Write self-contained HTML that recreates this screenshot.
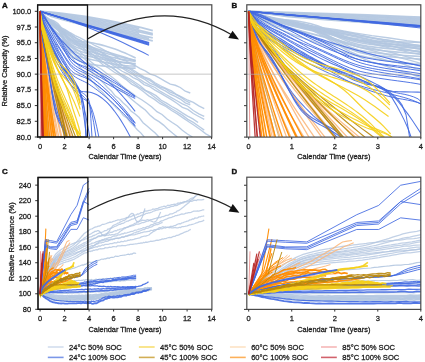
<!DOCTYPE html><html><head><meta charset="utf-8"><style>html,body{margin:0;padding:0;width:425px;height:362px;overflow:hidden;background:#fff}svg text{font-family:"Liberation Sans", sans-serif} svg{will-change:transform}</style></head><body><svg width="425" height="362" viewBox="0 0 425 362" style="position:absolute;left:0;top:0">
<defs>
<clipPath id="cA"><rect x="37.60" y="4.80" width="174.20" height="132.20"/></clipPath>
<clipPath id="cB"><rect x="246.80" y="4.80" width="174.00" height="132.30"/></clipPath>
<clipPath id="cC"><rect x="38.00" y="177.20" width="173.90" height="132.10"/></clipPath>
<clipPath id="cD"><rect x="246.80" y="177.20" width="174.00" height="132.20"/></clipPath>
</defs>
<rect width="425" height="362" fill="#fff"/>
<path d="M40.10,11.30 L51.37,12.27 L62.64,13.46 L73.91,14.86 L85.18,16.47 L96.45,18.30 L107.72,20.33 L118.99,22.58 L130.26,25.05 L141.53,27.72 L152.80,30.61" stroke="#b3c6e0" stroke-opacity="0.90" stroke-width="1.80" fill="none" clip-path="url(#cA)"/>
<path d="M40.10,11.30 L50.02,12.69 L59.95,13.98 L69.87,15.37 L79.79,16.88 L89.71,18.51 L99.63,20.28 L109.56,22.18 L119.48,24.22 L129.40,26.40 L139.32,28.71" stroke="#b3c6e0" stroke-opacity="0.90" stroke-width="1.80" fill="none" clip-path="url(#cA)"/>
<path d="M40.10,11.30 L51.37,13.45 L62.64,15.23 L73.91,17.07 L85.18,19.03 L96.45,21.10 L107.72,23.31 L118.99,25.65 L130.26,28.13 L141.53,30.76 L152.80,33.53" stroke="#b3c6e0" stroke-opacity="0.90" stroke-width="1.80" fill="none" clip-path="url(#cA)"/>
<path d="M40.10,11.30 L51.37,14.04 L62.64,16.11 L73.91,18.18 L85.18,20.30 L96.45,22.50 L107.72,24.79 L118.99,27.18 L130.26,29.68 L141.53,32.28 L152.80,34.98" stroke="#b3c6e0" stroke-opacity="0.90" stroke-width="1.80" fill="none" clip-path="url(#cA)"/>
<path d="M40.10,11.30 L50.02,14.33 L59.95,16.45 L69.87,18.47 L79.79,20.48 L89.71,22.51 L99.63,24.57 L109.56,26.67 L119.48,28.82 L129.40,31.03 L139.32,33.28" stroke="#b3c6e0" stroke-opacity="0.90" stroke-width="1.80" fill="none" clip-path="url(#cA)"/>
<path d="M40.10,11.30 L51.37,15.22 L62.64,17.88 L73.91,20.40 L85.18,22.86 L96.45,25.31 L107.72,27.77 L118.99,30.25 L130.26,32.76 L141.53,35.31 L152.80,37.90" stroke="#b3c6e0" stroke-opacity="0.90" stroke-width="1.80" fill="none" clip-path="url(#cA)"/>
<path d="M40.10,11.30 L51.00,15.70 L61.91,18.58 L72.81,21.24 L83.71,23.79 L94.61,26.29 L105.52,28.76 L116.42,31.21 L127.32,33.65 L138.22,36.09 L149.12,38.53" stroke="#b3c6e0" stroke-opacity="0.90" stroke-width="1.80" fill="none" clip-path="url(#cA)"/>
<path d="M40.10,11.30 L51.37,16.39 L62.64,19.65 L73.91,22.61 L85.18,25.41 L96.45,28.11 L107.72,30.74 L118.99,33.31 L130.26,35.85 L141.53,38.35 L152.80,40.81" stroke="#b3c6e0" stroke-opacity="0.90" stroke-width="1.80" fill="none" clip-path="url(#cA)"/>
<path d="M40.10,11.30 L40.48,12.49 L41.17,14.41 L42.06,15.39 L43.12,16.32 L44.32,17.19 L45.65,17.96 L47.10,18.62 L48.65,19.20 L50.30,19.74 L52.04,20.31 L53.88,21.05 L55.80,22.08 L57.80,23.65 L59.88,25.97 L62.04,28.85 L64.27,32.03 L66.57,35.21 L68.94,38.02 L71.38,40.01 L73.88,40.80 L76.45,41.17 L79.07,41.44 L81.76,41.66 L84.51,41.87 L87.31,42.16 L90.17,42.57 L93.09,43.08 L96.06,43.67 L99.08,44.35 L102.16,45.11 L105.29,45.96 L108.47,46.91 L111.70,47.95 L114.98,49.09 L118.31,50.33 L121.68,51.66 L125.10,53.10 L128.57,54.64 L132.09,56.29 L135.65,58.04" stroke="#b3c6e0" stroke-opacity="0.90" stroke-width="1.60" fill="none" clip-path="url(#cA)"/>
<path d="M40.10,11.30 L40.48,12.78 L41.17,15.17 L42.06,16.38 L43.12,17.53 L44.32,18.63 L45.65,19.61 L47.10,20.46 L48.65,21.20 L50.30,21.89 L52.04,22.60 L53.88,23.45 L55.80,24.61 L57.80,26.23 L59.88,28.31 L62.04,30.72 L64.27,33.33 L66.57,35.96 L68.94,38.40 L71.38,40.40 L73.88,41.74 L76.45,42.75 L79.07,43.61 L81.76,44.36 L84.51,45.08 L87.31,45.83 L90.17,46.69 L93.09,47.59 L96.06,48.50 L99.08,49.43 L102.16,50.38 L105.29,51.34 L108.47,52.31 L111.70,53.30 L114.98,54.29 L118.31,55.31 L121.68,56.33 L125.10,57.36 L128.57,58.41 L132.09,59.46 L135.65,60.53" stroke="#b3c6e0" stroke-opacity="0.90" stroke-width="1.60" fill="none" clip-path="url(#cA)"/>
<path d="M40.10,11.30 L40.48,11.78 L41.17,12.63 L42.06,13.52 L43.12,14.49 L44.32,15.51 L45.65,16.55 L47.10,17.60 L48.65,18.67 L50.30,19.80 L52.04,21.01 L53.88,22.38 L55.80,23.97 L57.80,25.93 L59.88,28.40 L62.04,31.26 L64.27,34.34 L66.57,37.42 L68.94,40.23 L71.38,42.49 L73.88,43.91 L76.45,44.97 L79.07,45.85 L81.76,46.62 L84.51,47.33 L87.31,48.05 L90.17,48.85 L93.09,49.69 L96.06,50.53 L99.08,51.37 L102.16,52.22 L105.29,53.07 L108.47,53.93 L111.70,54.78 L114.98,55.63 L118.31,56.47 L121.68,57.30 L125.10,58.13 L128.57,58.94 L132.09,59.74 L135.65,60.51" stroke="#b3c6e0" stroke-opacity="0.90" stroke-width="1.60" fill="none" clip-path="url(#cA)"/>
<path d="M40.10,11.30 L40.48,12.89 L41.17,15.43 L42.06,16.63 L43.12,17.74 L44.32,18.78 L45.65,19.70 L47.10,20.48 L48.65,21.14 L50.30,21.75 L52.04,22.41 L53.88,23.24 L55.80,24.43 L57.80,26.21 L59.88,28.70 L62.04,31.75 L64.27,35.14 L66.57,38.61 L68.94,41.82 L71.38,44.41 L73.88,46.03 L76.45,47.24 L79.07,48.28 L81.76,49.18 L84.51,50.00 L87.31,50.77 L90.17,51.57 L93.09,52.39 L96.06,53.20 L99.08,54.01 L102.16,54.82 L105.29,55.62 L108.47,56.40 L111.70,57.16 L114.98,57.90 L118.31,58.61 L121.68,59.28 L125.10,59.90 L128.57,60.48 L132.09,61.00 L135.65,61.45" stroke="#b3c6e0" stroke-opacity="0.90" stroke-width="1.60" fill="none" clip-path="url(#cA)"/>
<path d="M40.10,11.30 L40.48,12.34 L41.17,14.08 L42.06,15.41 L43.12,16.77 L44.32,18.11 L45.65,19.39 L47.10,20.59 L48.65,21.72 L50.30,22.83 L52.04,23.99 L53.88,25.33 L55.80,26.99 L57.80,29.14 L59.88,31.82 L62.04,34.89 L64.27,38.18 L66.57,41.46 L68.94,44.48 L71.38,46.93 L73.88,48.54 L76.45,49.78 L79.07,50.85 L81.76,51.78 L84.51,52.63 L87.31,53.43 L90.17,54.24 L93.09,55.06 L96.06,55.88 L99.08,56.71 L102.16,57.52 L105.29,58.33 L108.47,59.11 L111.70,59.88 L114.98,60.62 L118.31,61.32 L121.68,61.99 L125.10,62.60 L128.57,63.16 L132.09,63.66 L135.65,64.09" stroke="#b3c6e0" stroke-opacity="0.90" stroke-width="1.60" fill="none" clip-path="url(#cA)"/>
<path d="M40.10,11.30 L40.48,13.24 L41.17,16.31 L42.06,17.59 L43.12,18.75 L44.32,19.82 L45.65,20.75 L47.10,21.52 L48.65,22.16 L50.30,22.75 L52.04,23.38 L53.88,24.22 L55.80,25.47 L57.80,27.44 L59.88,30.42 L62.04,34.20 L64.27,38.45 L66.57,42.80 L68.94,46.79 L71.38,49.88 L73.88,51.57 L76.45,52.75 L79.07,53.75 L81.76,54.60 L84.51,55.34 L87.31,56.00 L90.17,56.64 L93.09,57.29 L96.06,57.93 L99.08,58.58 L102.16,59.22 L105.29,59.84 L108.47,60.44 L111.70,61.02 L114.98,61.56 L118.31,62.05 L121.68,62.49 L125.10,62.87 L128.57,63.18 L132.09,63.40 L135.65,63.53" stroke="#b3c6e0" stroke-opacity="0.90" stroke-width="1.60" fill="none" clip-path="url(#cA)"/>
<path d="M40.10,11.30 L40.48,12.50 L41.17,14.48 L42.06,15.78 L43.12,17.07 L44.32,18.31 L45.65,19.44 L47.10,20.45 L48.65,21.38 L50.30,22.28 L52.04,23.26 L53.88,24.46 L55.80,26.08 L57.80,28.41 L59.88,31.73 L62.04,35.79 L64.27,40.30 L66.57,44.87 L68.94,49.02 L71.38,52.23 L73.88,53.99 L76.45,55.22 L79.07,56.27 L81.76,57.16 L84.51,57.93 L87.31,58.61 L90.17,59.26 L93.09,59.92 L96.06,60.58 L99.08,61.23 L102.16,61.88 L105.29,62.52 L108.47,63.13 L111.70,63.71 L114.98,64.26 L118.31,64.75 L121.68,65.19 L125.10,65.56 L128.57,65.85 L132.09,66.05 L135.65,66.15" stroke="#b3c6e0" stroke-opacity="0.90" stroke-width="1.60" fill="none" clip-path="url(#cA)"/>
<path d="M40.10,11.30 L40.48,12.33 L41.17,14.06 L42.06,15.39 L43.12,16.74 L44.32,18.05 L45.65,19.28 L47.10,20.43 L48.65,21.51 L50.30,22.60 L52.04,23.78 L53.88,25.20 L55.80,27.04 L57.80,29.60 L59.88,33.15 L62.04,37.45 L64.27,42.22 L66.57,47.06 L68.94,51.53 L71.38,55.08 L73.88,57.24 L76.45,58.92 L79.07,60.43 L81.76,61.74 L84.51,62.81 L87.31,63.62 L90.17,64.16 L93.09,64.63 L96.06,65.07 L99.08,65.50 L102.16,65.91 L105.29,66.29 L108.47,66.64 L111.70,66.96 L114.98,67.25 L118.31,67.51 L121.68,67.72 L125.10,67.89 L128.57,68.02 L132.09,68.10 L135.65,68.13" stroke="#b3c6e0" stroke-opacity="0.90" stroke-width="1.60" fill="none" clip-path="url(#cA)"/>
<path d="M40.10,11.30 L45.11,16.28 L50.11,20.64 L55.12,23.56 L60.12,27.09 L65.13,29.69 L70.14,32.71 L75.14,35.54 L80.15,37.91 L85.16,40.59 L90.16,42.76 L95.17,45.71 L100.17,47.94 L105.18,50.62 L110.19,52.98 L115.19,56.00 L120.20,59.29 L125.20,60.74 L130.21,63.08 L135.22,65.65 L140.22,68.63 L145.23,70.88 L150.24,74.09 L155.24,75.60 L160.25,78.42 L165.25,81.29 L170.26,84.04 L175.27,85.26 L180.27,87.47 L185.28,91.23 L190.28,93.00" stroke="#b3c6e0" stroke-opacity="0.90" stroke-width="1.35" fill="none" clip-path="url(#cA)"/>
<path d="M40.10,11.30 L45.11,16.53 L50.11,20.92 L55.12,24.81 L60.12,27.93 L65.13,30.44 L70.14,33.44 L75.14,37.79 L80.15,39.99 L85.16,43.88 L90.16,45.85 L95.17,49.41 L100.17,51.52 L105.18,54.30 L110.19,57.92 L115.19,60.07 L120.20,63.99 L125.20,67.21 L130.21,69.28 L135.22,72.98 L140.22,75.57 L145.23,78.08 L150.24,80.59 L155.24,84.09 L160.25,87.06 L165.25,88.61 L170.26,92.24 L175.27,94.05 L180.27,96.92 L185.28,100.48 L190.28,103.06" stroke="#b3c6e0" stroke-opacity="0.90" stroke-width="1.35" fill="none" clip-path="url(#cA)"/>
<path d="M40.10,11.30 L45.11,17.77 L50.11,21.73 L55.12,25.21 L60.12,28.74 L65.13,32.13 L70.14,35.29 L75.14,37.98 L80.15,41.76 L85.16,44.95 L90.16,47.55 L95.17,51.29 L100.17,54.17 L105.18,56.11 L110.19,59.73 L115.19,62.61 L120.20,66.32 L125.20,68.59 L130.21,71.21 L135.22,74.91 L140.22,76.85 L145.23,79.66 L150.24,83.34 L155.24,85.30 L160.25,88.35 L165.25,90.82 L170.26,94.10 L175.27,96.34 L180.27,99.07 L185.28,102.91 L190.28,104.95" stroke="#b3c6e0" stroke-opacity="0.90" stroke-width="1.35" fill="none" clip-path="url(#cA)"/>
<path d="M40.10,11.30 L45.57,18.30 L51.04,21.49 L56.52,24.82 L61.99,29.46 L67.46,32.60 L72.93,35.76 L78.40,39.47 L83.87,42.65 L89.34,45.94 L94.82,49.02 L100.29,51.82 L105.76,55.38 L111.23,58.36 L116.70,60.83 L122.18,65.01 L127.65,67.23 L133.12,70.00 L138.59,73.65 L144.06,76.78 L149.53,78.89 L155.01,82.72 L160.48,85.76 L165.95,88.34 L171.42,90.89 L176.89,94.73 L182.36,97.33 L187.84,100.23 L193.31,102.40 L198.78,105.91 L204.25,108.72" stroke="#b3c6e0" stroke-opacity="0.90" stroke-width="1.35" fill="none" clip-path="url(#cA)"/>
<path d="M40.10,11.30 L45.57,17.70 L51.04,23.20 L56.52,27.02 L61.99,30.40 L67.46,33.77 L72.93,38.05 L78.40,41.95 L83.87,45.61 L89.34,48.44 L94.82,52.37 L100.29,54.82 L105.76,58.12 L111.23,62.44 L116.70,65.60 L122.18,68.08 L127.65,71.60 L133.12,74.60 L138.59,78.53 L144.06,82.07 L149.53,85.03 L155.01,87.47 L160.48,91.45 L165.95,94.51 L171.42,97.57 L176.89,100.72 L182.36,103.88 L187.84,106.25 L193.31,110.53 L198.78,113.89 L204.25,116.26" stroke="#b3c6e0" stroke-opacity="0.90" stroke-width="1.35" fill="none" clip-path="url(#cA)"/>
<path d="M40.10,11.30 L45.57,18.01 L51.04,22.78 L56.52,26.85 L61.99,31.68 L67.46,34.75 L72.93,38.53 L78.40,43.26 L83.87,46.08 L89.34,49.49 L94.82,53.26 L100.29,56.95 L105.76,60.74 L111.23,64.08 L116.70,67.64 L122.18,71.24 L127.65,73.81 L133.12,77.59 L138.59,80.11 L144.06,84.56 L149.53,86.55 L155.01,90.14 L160.48,93.05 L165.95,96.34 L171.42,99.57 L176.89,103.28 L182.36,107.35 L187.84,109.45 L193.31,113.52 L198.78,116.52 L204.25,119.40" stroke="#b3c6e0" stroke-opacity="0.90" stroke-width="1.35" fill="none" clip-path="url(#cA)"/>
<path d="M40.10,11.30 L45.37,18.81 L50.64,23.87 L55.90,28.41 L61.17,31.75 L66.44,36.22 L71.70,40.48 L76.97,44.39 L82.24,47.18 L87.51,51.42 L92.78,54.57 L98.04,58.78 L103.31,62.55 L108.58,65.55 L113.84,68.60 L119.11,73.03 L124.38,75.53 L129.65,78.74 L134.91,82.31 L140.18,85.67 L145.45,90.26 L150.72,92.68 L155.99,95.66 L161.25,100.22 L166.52,103.20 L171.79,106.51 L177.06,109.41 L182.32,112.85 L187.59,116.06 L192.86,118.87 L198.12,122.54" stroke="#b3c6e0" stroke-opacity="0.90" stroke-width="1.35" fill="none" clip-path="url(#cA)"/>
<path d="M40.10,11.30 L45.57,19.10 L51.04,23.86 L56.52,28.22 L61.99,32.50 L67.46,36.75 L72.93,39.46 L78.40,43.65 L83.87,48.77 L89.34,52.06 L94.82,56.23 L100.29,60.08 L105.76,63.85 L111.23,67.21 L116.70,71.09 L122.18,75.19 L127.65,79.20 L133.12,82.72 L138.59,86.75 L144.06,89.81 L149.53,93.27 L155.01,97.46 L160.48,101.59 L165.95,105.11 L171.42,108.48 L176.89,111.78 L182.36,115.15 L187.84,119.40 L193.31,122.39 L198.78,126.28 L204.25,130.09" stroke="#b3c6e0" stroke-opacity="0.90" stroke-width="1.35" fill="none" clip-path="url(#cA)"/>
<path d="M40.10,11.30 L45.82,19.80 L51.53,25.28 L57.25,29.98 L62.97,34.30 L68.68,39.19 L74.40,43.12 L80.12,47.74 L85.83,52.25 L91.55,55.95 L97.27,59.79 L102.98,64.78 L108.70,68.25 L114.42,72.23 L120.13,75.50 L125.85,79.34 L131.57,84.09 L137.28,87.18 L143.00,91.21 L148.72,95.85 L154.43,99.38 L160.15,103.71 L165.87,106.48 L171.58,110.50 L177.30,113.94 L183.02,117.85 L188.73,121.80 L194.45,125.45 L200.17,129.45 L205.88,133.87 L211.60,137.00" stroke="#b3c6e0" stroke-opacity="0.90" stroke-width="1.35" fill="none" clip-path="url(#cA)"/>
<path d="M40.10,11.30 L44.06,19.45 L48.02,25.68 L51.98,30.33 L55.94,34.00 L59.90,39.56 L63.87,43.83 L67.83,48.08 L71.79,51.09 L75.75,56.28 L79.71,60.61 L83.67,63.42 L87.63,68.52 L91.59,71.42 L95.55,75.63 L99.51,79.32 L103.47,83.06 L107.43,87.51 L111.39,91.05 L115.36,96.06 L119.32,98.80 L123.28,103.02 L127.24,106.53 L131.20,111.25 L135.16,114.07 L139.12,117.57 L143.08,122.66 L147.04,126.03 L151.00,129.42 L154.96,132.77 L158.92,137.00" stroke="#b3c6e0" stroke-opacity="0.90" stroke-width="1.35" fill="none" clip-path="url(#cA)"/>
<path d="M40.10,11.30 L44.67,19.96 L49.25,25.40 L53.82,30.16 L58.39,34.22 L62.97,38.47 L67.54,43.36 L72.11,47.66 L76.69,51.80 L81.26,56.01 L85.83,60.00 L90.41,64.55 L94.98,67.94 L99.55,71.21 L104.13,76.01 L108.70,79.44 L113.27,84.24 L117.85,87.33 L122.42,91.11 L126.99,95.09 L131.57,99.17 L136.14,103.05 L140.71,106.63 L145.29,110.05 L149.86,114.97 L154.43,118.83 L159.01,121.62 L163.58,125.13 L168.15,129.49 L172.73,133.35 L177.30,137.00" stroke="#b3c6e0" stroke-opacity="0.90" stroke-width="1.35" fill="none" clip-path="url(#cA)"/>
<path d="M40.10,11.30 L43.57,20.08 L47.04,26.47 L50.51,31.35 L53.98,36.16 L57.45,40.09 L60.92,44.87 L64.40,49.27 L67.87,52.77 L71.34,56.50 L74.81,61.56 L78.28,64.96 L81.75,69.38 L85.22,72.66 L88.69,76.97 L92.16,81.33 L95.63,85.26 L99.10,89.39 L102.57,92.51 L106.05,96.45 L109.52,100.54 L112.99,104.01 L116.46,107.81 L119.93,110.85 L123.40,115.51 L126.87,117.93 L130.34,122.39 L133.81,125.89 L137.28,129.75 L140.75,132.85 L144.22,137.00" stroke="#b3c6e0" stroke-opacity="0.90" stroke-width="1.35" fill="none" clip-path="url(#cA)"/>
<path d="M40.10,11.30 L45.18,19.97 L50.26,25.96 L55.34,31.09 L60.42,35.44 L65.50,39.74 L70.58,44.81 L75.66,48.58 L80.74,52.43 L85.82,57.30 L90.90,61.72 L95.98,65.73 L101.06,68.98 L106.14,72.99 L111.22,76.47 L116.29,80.50 L121.37,85.28 L126.45,89.19 L131.53,92.89 L136.61,96.78 L141.69,99.77 L146.77,103.29 L151.85,106.97 L156.93,111.66 L162.01,114.45 L167.09,118.98 L172.17,122.49 L177.25,125.70 L182.33,130.33 L187.41,133.97 L192.49,137.00" stroke="#b3c6e0" stroke-opacity="0.90" stroke-width="1.35" fill="none" clip-path="url(#cA)"/>
<path d="M40.10,11.30 L40.25,74.15 L40.41,137.00" stroke="#e88a8a" stroke-opacity="0.85" stroke-width="1.00" fill="none" clip-path="url(#cA)"/>
<path d="M40.10,11.30 L40.44,40.31 L40.77,58.41 L41.11,74.70 L41.45,90.07 L41.78,104.84 L42.12,119.19 L42.46,133.22 L42.80,147.00" stroke="#e88a8a" stroke-opacity="0.85" stroke-width="1.00" fill="none" clip-path="url(#cA)"/>
<path d="M40.10,11.30 L40.55,28.36 L41.00,38.63 L41.46,47.79 L41.91,56.37 L42.36,64.58 L42.81,72.53 L43.26,80.27 L43.72,87.87 L44.17,95.33 L44.62,102.68 L45.07,109.95 L45.52,117.13 L45.98,124.24 L46.43,131.30 L46.88,138.29 L47.33,145.24" stroke="#fbb577" stroke-opacity="0.85" stroke-width="1.30" fill="none" clip-path="url(#cA)"/>
<path d="M40.10,11.30 L40.59,29.90 L41.08,40.50 L41.57,49.78 L42.05,58.37 L42.54,66.53 L43.03,74.39 L43.52,82.00 L44.01,89.43 L44.50,96.71 L44.98,103.86 L45.47,110.90 L45.96,117.85 L46.45,124.72 L46.94,131.51 L47.43,138.24 L47.91,144.91" stroke="#fbb577" stroke-opacity="0.85" stroke-width="1.30" fill="none" clip-path="url(#cA)"/>
<path d="M40.10,11.30 L40.70,30.80 L41.31,41.58 L41.91,50.93 L42.51,59.53 L43.11,67.67 L43.72,75.46 L44.32,83.00 L44.92,90.34 L45.52,97.51 L46.13,104.54 L46.73,111.46 L47.33,118.27 L47.94,125.00 L48.54,131.64 L49.14,138.21 L49.74,144.72" stroke="#fbb577" stroke-opacity="0.85" stroke-width="1.30" fill="none" clip-path="url(#cA)"/>
<path d="M40.10,11.30 L40.83,27.79 L41.55,37.94 L42.28,47.05 L43.01,55.62 L43.73,63.85 L44.46,71.84 L45.18,79.63 L45.91,87.28 L46.64,94.82 L47.36,102.25 L48.09,109.59 L48.82,116.86 L49.54,124.07 L50.27,131.21 L50.99,138.31 L51.72,145.36" stroke="#fbb577" stroke-opacity="0.85" stroke-width="1.30" fill="none" clip-path="url(#cA)"/>
<path d="M40.10,11.30 L40.91,31.43 L41.72,42.35 L42.53,51.75 L43.34,60.36 L44.15,68.47 L44.96,76.23 L45.77,83.71 L46.58,90.98 L47.39,98.08 L48.20,105.03 L49.02,111.85 L49.83,118.57 L50.64,125.19 L51.45,131.73 L52.26,138.19 L53.07,144.59" stroke="#fbb577" stroke-opacity="0.85" stroke-width="1.30" fill="none" clip-path="url(#cA)"/>
<path d="M40.10,11.30 L41.04,31.80 L41.97,42.79 L42.91,52.22 L43.85,60.83 L44.79,68.93 L45.72,76.66 L46.66,84.12 L47.60,91.35 L48.54,98.40 L49.47,105.30 L50.41,112.08 L51.35,118.74 L52.29,125.30 L53.22,131.78 L54.16,138.18 L55.10,144.51" stroke="#fbb577" stroke-opacity="0.85" stroke-width="1.30" fill="none" clip-path="url(#cA)"/>
<path d="M40.10,11.30 L41.16,32.67 L42.22,43.85 L43.29,53.34 L44.35,61.97 L45.41,70.04 L46.47,77.72 L47.53,85.10 L48.59,92.24 L49.66,99.19 L50.72,105.97 L51.78,112.62 L52.84,119.15 L53.90,125.57 L54.96,131.90 L56.03,138.15 L57.09,144.32" stroke="#fbb577" stroke-opacity="0.85" stroke-width="1.30" fill="none" clip-path="url(#cA)"/>
<path d="M40.10,11.30 L41.26,28.55 L42.41,38.86 L43.57,48.03 L44.73,56.61 L45.88,64.82 L47.04,72.75 L48.20,80.48 L49.35,88.06 L50.51,95.50 L51.67,102.83 L52.82,110.06 L53.98,117.22 L55.14,124.30 L56.29,131.32 L57.45,138.29 L58.61,145.20" stroke="#fbb577" stroke-opacity="0.85" stroke-width="1.30" fill="none" clip-path="url(#cA)"/>
<path d="M40.10,11.30 L41.36,31.96 L42.62,42.98 L43.89,52.42 L45.15,61.04 L46.41,69.14 L47.67,76.86 L48.94,84.30 L50.20,91.51 L51.46,98.55 L52.72,105.43 L53.99,112.18 L55.25,118.81 L56.51,125.35 L57.77,131.80 L59.03,138.17 L60.30,144.47" stroke="#fbb577" stroke-opacity="0.85" stroke-width="1.30" fill="none" clip-path="url(#cA)"/>
<path d="M40.10,11.30 L41.50,29.12 L42.90,39.55 L44.30,48.77 L45.70,57.36 L47.10,65.54 L48.51,73.44 L49.91,81.12 L51.31,88.64 L52.71,96.01 L54.11,103.26 L55.51,110.42 L56.91,117.49 L58.31,124.48 L59.71,131.40 L61.11,138.27 L62.51,145.08" stroke="#fbb577" stroke-opacity="0.85" stroke-width="1.30" fill="none" clip-path="url(#cA)"/>
<path d="M40.10,11.30 L41.57,31.16 L43.03,42.02 L44.50,51.39 L45.96,60.00 L47.43,68.12 L48.89,75.90 L50.36,83.40 L51.82,90.70 L53.29,97.83 L54.75,104.82 L56.22,111.68 L57.68,118.44 L59.15,125.11 L60.61,131.69 L62.08,138.20 L63.54,144.64" stroke="#fbb577" stroke-opacity="0.85" stroke-width="1.30" fill="none" clip-path="url(#cA)"/>
<path d="M40.10,11.30 L41.75,30.62 L43.39,41.36 L45.04,50.69 L46.68,59.30 L48.33,67.44 L49.98,75.24 L51.62,82.80 L53.27,90.15 L54.91,97.35 L56.56,104.40 L58.21,111.34 L59.85,118.19 L61.50,124.94 L63.14,131.61 L64.79,138.22 L66.44,144.76" stroke="#fbb577" stroke-opacity="0.85" stroke-width="1.30" fill="none" clip-path="url(#cA)"/>
<path d="M40.10,11.30 L41.77,27.22 L43.45,37.26 L45.12,46.32 L46.80,54.89 L48.47,63.14 L50.15,71.15 L51.82,79.00 L53.50,86.71 L55.17,94.31 L56.85,101.81 L58.52,109.24 L60.20,116.60 L61.87,123.89 L63.55,131.13 L65.22,138.33 L66.90,145.48" stroke="#fbb577" stroke-opacity="0.85" stroke-width="1.30" fill="none" clip-path="url(#cA)"/>
<path d="M40.10,11.30 L41.89,28.07 L43.68,38.28 L45.47,47.41 L47.26,55.99 L49.05,64.21 L50.84,72.17 L52.63,79.95 L54.42,87.57 L56.21,95.07 L58.00,102.46 L59.79,109.76 L61.59,116.99 L63.38,124.15 L65.17,131.25 L66.96,138.30 L68.75,145.30" stroke="#fbb577" stroke-opacity="0.85" stroke-width="1.30" fill="none" clip-path="url(#cA)"/>
<path d="M40.10,11.30 L41.99,27.36 L43.89,37.43 L45.78,46.51 L47.68,55.08 L49.57,63.32 L51.47,71.33 L53.36,79.16 L55.26,86.86 L57.15,94.44 L59.05,101.92 L60.94,109.33 L62.83,116.66 L64.73,123.94 L66.62,131.15 L68.52,138.32 L70.41,145.45" stroke="#fbb577" stroke-opacity="0.85" stroke-width="1.30" fill="none" clip-path="url(#cA)"/>
<path d="M40.10,11.30 L42.15,32.48 L44.21,43.61 L46.26,53.09 L48.32,61.71 L50.37,69.79 L52.42,77.48 L54.48,84.88 L56.53,92.04 L58.59,99.01 L60.64,105.82 L62.70,112.50 L64.75,119.06 L66.80,125.51 L68.86,131.88 L70.91,138.16 L72.97,144.37" stroke="#fbb577" stroke-opacity="0.85" stroke-width="1.30" fill="none" clip-path="url(#cA)"/>
<path d="M40.10,11.30 L42.23,32.92 L44.35,44.15 L46.48,53.66 L48.60,62.29 L50.73,70.35 L52.85,78.02 L54.98,85.37 L57.10,92.49 L59.23,99.41 L61.35,106.16 L63.48,112.77 L65.60,119.27 L67.73,125.65 L69.85,131.94 L71.98,138.14 L74.10,144.27" stroke="#fbb577" stroke-opacity="0.85" stroke-width="1.30" fill="none" clip-path="url(#cA)"/>
<path d="M40.10,11.30 L41.14,37.38 L42.19,55.27 L43.23,71.82 L44.28,87.66 L45.32,103.06 L46.37,118.14 L47.41,132.99 L48.45,147.64" stroke="#c9a35a" stroke-opacity="0.80" stroke-width="1.00" fill="none" clip-path="url(#cA)"/>
<path d="M40.10,11.30 L41.28,37.38 L42.46,55.27 L43.64,71.82 L44.82,87.66 L46.00,103.06 L47.17,118.14 L48.35,132.99 L49.53,147.64" stroke="#c9a35a" stroke-opacity="0.80" stroke-width="1.00" fill="none" clip-path="url(#cA)"/>
<path d="M40.10,11.30 L40.43,33.17 L40.76,46.21 L41.09,57.79 L41.42,68.62 L41.75,78.97 L42.08,88.97 L42.42,98.72 L42.75,108.27 L43.08,117.64 L43.41,126.88 L43.74,135.99 L44.07,145.01" stroke="#ff8c00" stroke-opacity="0.95" stroke-width="1.80" fill="none" clip-path="url(#cA)"/>
<path d="M40.10,11.30 L40.50,33.17 L40.89,46.21 L41.29,57.79 L41.69,68.62 L42.08,78.97 L42.48,88.97 L42.88,98.72 L43.28,108.27 L43.67,117.64 L44.07,126.88 L44.47,135.99 L44.86,145.01" stroke="#ff8c00" stroke-opacity="0.95" stroke-width="1.80" fill="none" clip-path="url(#cA)"/>
<path d="M40.10,11.30 L40.56,33.17 L41.03,46.21 L41.49,57.79 L41.95,68.62 L42.42,78.97 L42.88,88.97 L43.34,98.72 L43.80,108.27 L44.27,117.64 L44.73,126.88 L45.19,135.99 L45.66,145.01" stroke="#ff8c00" stroke-opacity="0.95" stroke-width="1.50" fill="none" clip-path="url(#cA)"/>
<path d="M40.10,11.30 L40.65,33.17 L41.20,46.21 L41.75,57.79 L42.30,68.62 L42.86,78.97 L43.41,88.97 L43.96,98.72 L44.51,108.27 L45.06,117.64 L45.61,126.88 L46.16,135.99 L46.72,145.01" stroke="#ff8c00" stroke-opacity="0.95" stroke-width="2.00" fill="none" clip-path="url(#cA)"/>
<path d="M40.10,11.30 L40.78,33.17 L41.47,46.21 L42.15,57.79 L42.83,68.62 L43.52,78.97 L44.20,88.97 L44.88,98.72 L45.57,108.27 L46.25,117.64 L46.94,126.88 L47.62,135.99 L48.30,145.01" stroke="#ff8c00" stroke-opacity="0.95" stroke-width="1.40" fill="none" clip-path="url(#cA)"/>
<path d="M40.10,11.30 L40.96,33.17 L41.82,46.21 L42.68,57.79 L43.54,68.62 L44.40,78.97 L45.26,88.97 L46.12,98.72 L46.98,108.27 L47.84,117.64 L48.70,126.88 L49.56,135.99 L50.42,145.01" stroke="#ff8c00" stroke-opacity="0.95" stroke-width="1.40" fill="none" clip-path="url(#cA)"/>
<path d="M40.10,11.30 L41.15,33.17 L42.19,46.21 L43.24,57.79 L44.29,68.62 L45.34,78.97 L46.38,88.97 L47.43,98.72 L48.48,108.27 L49.53,117.64 L50.57,126.88 L51.62,135.99 L52.67,145.01" stroke="#ff8c00" stroke-opacity="0.95" stroke-width="1.40" fill="none" clip-path="url(#cA)"/>
<path d="M40.10,11.30 L41.32,33.17 L42.55,46.21 L43.77,57.79 L45.00,68.62 L46.22,78.97 L47.44,88.97 L48.67,98.72 L49.89,108.27 L51.11,117.64 L52.34,126.88 L53.56,135.99 L54.79,145.01" stroke="#ff8c00" stroke-opacity="0.95" stroke-width="2.00" fill="none" clip-path="url(#cA)"/>
<path d="M40.10,11.30 L41.48,33.17 L42.86,46.21 L44.23,57.79 L45.61,68.62 L46.99,78.97 L48.37,88.97 L49.75,98.72 L51.12,108.27 L52.50,117.64 L53.88,126.88 L55.26,135.99 L56.64,145.01" stroke="#ff8c00" stroke-opacity="0.95" stroke-width="1.40" fill="none" clip-path="url(#cA)"/>
<path d="M40.10,11.30 L53.73,15.34 L67.36,19.27 L80.98,23.18 L94.61,27.08 L108.24,30.97 L121.87,34.86 L135.50,38.75 L149.12,42.63" stroke="#4169e1" stroke-opacity="0.90" stroke-width="1.35" fill="none" clip-path="url(#cA)"/>
<path d="M40.10,11.30 L53.73,15.45 L67.36,19.48 L80.98,23.50 L94.61,27.50 L108.24,31.50 L121.87,35.49 L135.50,39.48 L149.12,43.47" stroke="#4169e1" stroke-opacity="0.90" stroke-width="1.35" fill="none" clip-path="url(#cA)"/>
<path d="M40.10,11.30 L53.73,15.55 L67.36,19.69 L80.98,23.81 L94.61,27.92 L108.24,32.02 L121.87,36.12 L135.50,40.21 L149.12,44.31" stroke="#4169e1" stroke-opacity="0.90" stroke-width="1.35" fill="none" clip-path="url(#cA)"/>
<path d="M40.10,11.30 L53.73,15.66 L67.36,19.90 L80.98,24.13 L94.61,28.34 L108.24,32.55 L121.87,36.75 L135.50,40.95 L149.12,45.14" stroke="#4169e1" stroke-opacity="0.90" stroke-width="1.35" fill="none" clip-path="url(#cA)"/>
<path d="M40.10,11.30 L40.76,11.48 L41.97,11.82 L43.54,12.27 L45.39,12.81 L47.49,13.43 L49.82,14.13 L52.35,14.91 L55.06,15.77 L57.95,16.71 L61.01,17.71 L64.22,18.80 L67.59,19.96 L71.10,21.19 L74.74,22.49 L78.52,23.87 L82.42,25.32 L86.45,26.84 L90.60,28.43 L94.87,30.14 L99.25,31.98 L103.74,33.93 L108.34,35.97 L113.04,38.10 L117.85,40.29 L122.76,42.57 L127.77,44.94 L132.87,47.40 L138.07,49.96 L143.37,52.61 L148.76,55.37" stroke="#4169e1" stroke-opacity="0.90" stroke-width="1.10" fill="none" clip-path="url(#cA)"/>
<path d="M40.10,11.30 L40.30,11.50 L40.68,11.89 L41.16,12.41 L41.74,13.05 L42.39,13.84 L43.11,14.76 L43.89,15.88 L44.73,17.22 L45.62,18.77 L46.57,20.48 L47.56,22.30 L48.60,24.14 L49.69,25.91 L50.81,27.55 L51.98,29.15 L53.19,30.73 L54.44,32.30 L55.72,33.89 L57.04,35.52 L58.39,37.23 L59.78,39.05 L61.21,41.08 L62.66,43.31 L64.15,45.68 L65.67,48.12 L67.22,50.54 L68.80,52.84 L70.40,54.92 L72.04,56.64 L73.71,57.94 L75.40,59.03 L77.13,59.98 L78.87,60.83 L80.65,61.61 L82.45,62.36 L84.28,63.11 L86.13,63.91 L88.01,64.81 L89.92,65.85 L91.84,66.94 L93.80,68.06 L95.77,69.22 L97.77,70.40 L99.80,71.62 L101.84,72.87 L103.91,74.16 L106.00,75.48 L108.12,76.84 L110.26,78.24 L112.41,79.68 L114.59,81.15 L116.80,82.67 L119.02,84.23 L121.26,85.83 L123.53,87.48 L125.81,89.17 L128.12,90.91 L130.45,92.70 L132.79,94.54 L135.16,96.43" stroke="#4169e1" stroke-opacity="0.90" stroke-width="1.00" fill="none" clip-path="url(#cA)"/>
<path d="M40.10,11.30 L40.30,11.45 L40.68,11.73 L41.16,12.13 L41.74,12.65 L42.39,13.31 L43.11,14.10 L43.89,15.11 L44.73,16.39 L45.62,17.93 L46.57,19.69 L47.56,21.58 L48.60,23.52 L49.69,25.40 L50.81,27.14 L51.98,28.87 L53.19,30.59 L54.44,32.32 L55.72,34.09 L57.04,35.91 L58.39,37.83 L59.78,39.88 L61.21,42.18 L62.66,44.75 L64.15,47.52 L65.67,50.38 L67.22,53.20 L68.80,55.87 L70.40,58.23 L72.04,60.13 L73.71,61.45 L75.40,62.53 L77.13,63.47 L78.87,64.30 L80.65,65.04 L82.45,65.74 L84.28,66.45 L86.13,67.19 L88.01,68.03 L89.92,69.00 L91.84,70.01 L93.80,71.05 L95.77,72.12 L97.77,73.20 L99.80,74.32 L101.84,75.46 L103.91,76.63 L106.00,77.82 L108.12,79.05 L110.26,80.30 L112.41,81.59 L114.59,82.90 L116.80,84.25 L119.02,85.63 L121.26,87.04 L123.53,88.48 L125.81,89.96 L128.12,91.48 L130.45,93.03 L132.79,94.63 L135.16,96.26" stroke="#4169e1" stroke-opacity="0.90" stroke-width="1.00" fill="none" clip-path="url(#cA)"/>
<path d="M40.10,11.30 L40.30,11.61 L40.68,12.17 L41.16,12.91 L41.74,13.79 L42.39,14.79 L43.11,15.92 L43.89,17.15 L44.73,18.49 L45.62,19.93 L46.57,21.47 L47.56,23.10 L48.60,24.83 L49.69,26.66 L50.81,28.61 L51.98,30.73 L53.19,32.98 L54.44,35.33 L55.72,37.73 L57.04,40.11 L58.39,42.42 L59.78,44.58 L61.21,46.66 L62.66,48.75 L64.15,50.82 L65.67,52.86 L67.22,54.83 L68.80,56.71 L70.40,58.46 L72.04,60.05 L73.71,61.45 L75.40,62.73 L77.13,63.92 L78.87,65.02 L80.65,66.06 L82.45,67.07 L84.28,68.07 L86.13,69.08 L88.01,70.14 L89.92,71.26 L91.84,72.41 L93.80,73.57 L95.77,74.74 L97.77,75.92 L99.80,77.12 L101.84,78.32 L103.91,79.53 L106.00,80.75 L108.12,81.98 L110.26,83.21 L112.41,84.46 L114.59,85.71 L116.80,86.96 L119.02,88.23 L121.26,89.49 L123.53,90.77 L125.81,92.04 L128.12,93.32 L130.45,94.60 L132.79,95.89 L135.16,97.18" stroke="#4169e1" stroke-opacity="0.90" stroke-width="1.00" fill="none" clip-path="url(#cA)"/>
<path d="M40.10,11.30 L40.30,11.64 L40.68,12.27 L41.16,13.08 L41.74,14.01 L42.39,15.05 L43.11,16.16 L43.89,17.31 L44.73,18.49 L45.62,19.70 L46.57,20.95 L47.56,22.27 L48.60,23.68 L49.69,25.23 L50.81,26.94 L51.98,28.78 L53.19,30.74 L54.44,32.82 L55.72,34.99 L57.04,37.23 L58.39,39.53 L59.78,41.85 L61.21,44.32 L62.66,47.02 L64.15,49.86 L65.67,52.76 L67.22,55.62 L68.80,58.35 L70.40,60.80 L72.04,62.87 L73.71,64.45 L75.40,65.81 L77.13,67.03 L78.87,68.14 L80.65,69.16 L82.45,70.12 L84.28,71.06 L86.13,72.01 L88.01,73.02 L89.92,74.10 L91.84,75.21 L93.80,76.33 L95.77,77.46 L97.77,78.60 L99.80,79.75 L101.84,80.90 L103.91,82.06 L106.00,83.22 L108.12,84.39 L110.26,85.56 L112.41,86.74 L114.59,87.92 L116.80,89.10 L119.02,90.28 L121.26,91.46 L123.53,92.64 L125.81,93.82 L128.12,94.99 L130.45,96.16 L132.79,97.33 L135.16,98.49" stroke="#4169e1" stroke-opacity="0.90" stroke-width="1.00" fill="none" clip-path="url(#cA)"/>
<path d="M40.10,11.30 L40.30,11.76 L40.68,12.60 L41.16,13.67 L41.74,14.93 L42.39,16.32 L43.11,17.82 L43.89,19.40 L44.73,21.06 L45.62,22.78 L46.57,24.57 L47.56,26.43 L48.60,28.35 L49.69,30.33 L50.81,32.40 L51.98,34.55 L53.19,36.76 L54.44,39.02 L55.72,41.31 L57.04,43.61 L58.39,45.89 L59.78,48.13 L61.21,50.40 L62.66,52.76 L64.15,55.16 L65.67,57.56 L67.22,59.89 L68.80,62.09 L70.40,64.10 L72.04,65.84 L73.71,67.25 L75.40,68.45 L77.13,69.50 L78.87,70.45 L80.65,71.33 L82.45,72.18 L84.28,73.06 L86.13,74.03 L88.01,75.14 L89.92,76.45 L91.84,77.84 L93.80,79.31 L95.77,80.85 L97.77,82.45 L99.80,84.13 L101.84,85.89 L103.91,87.73 L106.00,89.64 L108.12,91.64 L110.26,93.72 L112.41,95.89 L114.59,98.15 L116.80,100.49 L119.02,102.93 L121.26,105.47 L123.53,108.10 L125.81,110.83 L128.12,113.67 L130.45,116.60 L132.79,119.65 L135.16,122.80" stroke="#4169e1" stroke-opacity="0.90" stroke-width="1.00" fill="none" clip-path="url(#cA)"/>
<path d="M40.10,11.30 L40.30,11.92 L40.68,13.03 L41.16,14.46 L41.74,16.10 L42.39,17.90 L43.11,19.77 L43.89,21.69 L44.73,23.69 L45.62,25.75 L46.57,27.85 L47.56,29.95 L48.60,32.04 L49.69,34.09 L50.81,36.07 L51.98,37.99 L53.19,39.87 L54.44,41.71 L55.72,43.55 L57.04,45.42 L58.39,47.35 L59.78,49.38 L61.21,51.58 L62.66,53.94 L64.15,56.41 L65.67,58.91 L67.22,61.40 L68.80,63.77 L70.40,65.95 L72.04,67.85 L73.71,69.39 L75.40,70.71 L77.13,71.88 L78.87,72.95 L80.65,73.94 L82.45,74.90 L84.28,75.89 L86.13,76.96 L88.01,78.16 L89.92,79.54 L91.84,80.99 L93.80,82.50 L95.77,84.07 L97.77,85.69 L99.80,87.37 L101.84,89.11 L103.91,90.91 L106.00,92.77 L108.12,94.70 L110.26,96.69 L112.41,98.75 L114.59,100.88 L116.80,103.09 L119.02,105.36 L121.26,107.71 L123.53,110.14 L125.81,112.65 L128.12,115.24 L130.45,117.91 L132.79,120.67 L135.16,123.52" stroke="#4169e1" stroke-opacity="0.90" stroke-width="1.00" fill="none" clip-path="url(#cA)"/>
<path d="M40.10,11.30 L40.30,12.11 L40.68,13.58 L41.16,15.45 L41.74,17.54 L42.39,19.68 L43.11,21.67 L43.89,23.42 L44.73,25.05 L45.62,26.58 L46.57,28.04 L47.56,29.51 L48.60,31.07 L49.69,32.85 L50.81,34.94 L51.98,37.24 L53.19,39.71 L54.44,42.31 L55.72,44.98 L57.04,47.67 L58.39,50.29 L59.78,52.77 L61.21,55.23 L62.66,57.79 L64.15,60.39 L65.67,62.96 L67.22,65.43 L68.80,67.73 L70.40,69.77 L72.04,71.45 L73.71,72.71 L75.40,73.73 L77.13,74.61 L78.87,75.37 L80.65,76.06 L82.45,76.73 L84.28,77.42 L86.13,78.20 L88.01,79.12 L89.92,80.24 L91.84,81.46 L93.80,82.76 L95.77,84.15 L97.77,85.62 L99.80,87.18 L101.84,88.82 L103.91,90.56 L106.00,92.40 L108.12,94.32 L110.26,96.35 L112.41,98.48 L114.59,100.70 L116.80,103.04 L119.02,105.47 L121.26,108.02 L123.53,110.68 L125.81,113.45 L128.12,116.33 L130.45,119.33 L132.79,122.45 L135.16,125.70" stroke="#4169e1" stroke-opacity="0.90" stroke-width="1.00" fill="none" clip-path="url(#cA)"/>
<path d="M40.10,11.30 L40.30,12.01 L40.68,13.31 L41.16,14.96 L41.74,16.85 L42.39,18.89 L43.11,20.96 L43.89,23.04 L44.73,25.15 L45.62,27.28 L46.57,29.42 L47.56,31.58 L48.60,33.76 L49.69,35.98 L50.81,38.25 L51.98,40.53 L53.19,42.82 L54.44,45.11 L55.72,47.41 L57.04,49.72 L58.39,52.06 L59.78,54.43 L61.21,56.92 L62.66,59.55 L64.15,62.27 L65.67,65.00 L67.22,67.67 L68.80,70.18 L70.40,72.44 L72.04,74.34 L73.71,75.80 L75.40,77.03 L77.13,78.10 L78.87,79.04 L80.65,79.91 L82.45,80.75 L84.28,81.61 L86.13,82.54 L88.01,83.61 L89.92,84.86 L91.84,86.19 L93.80,87.58 L95.77,89.02 L97.77,90.52 L99.80,92.09 L101.84,93.71 L103.91,95.39 L106.00,97.14 L108.12,98.96 L110.26,100.84 L112.41,102.79 L114.59,104.82 L116.80,106.92 L119.02,109.09 L121.26,111.34 L123.53,113.67 L125.81,116.08 L128.12,118.58 L130.45,121.16 L132.79,123.82 L135.16,126.58" stroke="#4169e1" stroke-opacity="0.90" stroke-width="1.00" fill="none" clip-path="url(#cA)"/>
<path d="M40.10,11.30 L40.20,11.71 L40.38,12.45 L40.61,13.41 L40.89,14.52 L41.21,15.77 L41.55,17.11 L41.93,18.51 L42.34,19.94 L42.77,21.36 L43.23,22.72 L43.71,24.04 L44.21,25.35 L44.73,26.65 L45.28,27.92 L45.84,29.18 L46.43,30.43 L47.03,31.68 L47.65,32.94 L48.29,34.21 L48.94,35.52 L49.61,36.89 L50.30,38.32 L51.00,39.79 L51.72,41.27 L52.46,42.78 L53.20,44.31 L53.97,45.85 L54.74,47.40 L55.54,48.97 L56.34,50.53 L57.16,52.10 L57.99,53.66 L58.84,55.22 L59.70,56.76 L60.57,58.28 L61.45,59.76 L62.35,61.21 L63.25,62.65 L64.17,64.06 L65.11,65.48 L66.05,66.90 L67.00,68.34 L67.97,69.82 L68.95,71.33 L69.94,72.90 L70.94,74.54 L71.95,76.27 L72.97,78.10 L74.00,79.94 L75.05,81.72 L76.10,83.54 L77.16,85.45 L78.24,87.55 L79.32,89.91 L80.42,92.63 L81.52,95.80 L82.64,99.52 L83.76,104.86 L84.89,114.68 L86.04,140.14" stroke="#4169e1" stroke-opacity="0.90" stroke-width="1.05" fill="none" clip-path="url(#cA)"/>
<path d="M40.10,11.30 L40.21,11.94 L40.41,13.12 L40.66,14.64 L40.96,16.40 L41.31,18.35 L41.69,20.41 L42.10,22.50 L42.55,24.52 L43.02,26.36 L43.52,27.97 L44.04,29.51 L44.59,30.99 L45.17,32.40 L45.76,33.75 L46.38,35.05 L47.02,36.32 L47.67,37.58 L48.35,38.87 L49.05,40.20 L49.77,41.64 L50.50,43.18 L51.25,44.75 L52.02,46.35 L52.81,47.98 L53.61,49.62 L54.43,51.28 L55.26,52.94 L56.11,54.60 L56.98,56.26 L57.86,57.90 L58.75,59.52 L59.66,61.11 L60.59,62.65 L61.52,64.16 L62.48,65.63 L63.44,67.07 L64.42,68.49 L65.41,69.91 L66.42,71.33 L67.44,72.76 L68.47,74.22 L69.51,75.72 L70.57,77.28 L71.64,78.90 L72.72,80.62 L73.82,82.37 L74.92,84.05 L76.04,85.75 L77.17,87.54 L78.31,89.53 L79.46,91.82 L80.62,94.51 L81.80,98.01 L82.98,102.78 L84.18,108.24 L85.39,113.83 L86.61,119.89 L87.83,126.36 L89.07,133.06 L90.32,140.14" stroke="#4169e1" stroke-opacity="0.90" stroke-width="1.05" fill="none" clip-path="url(#cA)"/>
<path d="M40.10,11.30 L40.20,11.78 L40.38,12.64 L40.62,13.76 L40.90,15.06 L41.22,16.52 L41.57,18.07 L41.95,19.70 L42.37,21.34 L42.80,22.95 L43.27,24.46 L43.75,25.93 L44.26,27.38 L44.79,28.80 L45.35,30.20 L45.92,31.57 L46.51,32.93 L47.12,34.27 L47.75,35.62 L48.40,37.00 L49.06,38.41 L49.74,39.89 L50.44,41.43 L51.15,43.00 L51.88,44.58 L52.62,46.18 L53.38,47.79 L54.15,49.41 L54.94,51.05 L55.74,52.69 L56.56,54.33 L57.39,55.99 L58.23,57.64 L59.09,59.30 L59.96,60.96 L60.84,62.67 L61.73,64.44 L62.64,66.27 L63.56,68.12 L64.49,69.99 L65.44,71.85 L66.39,73.70 L67.36,75.49 L68.34,77.22 L69.33,78.86 L70.34,80.38 L71.35,81.76 L72.37,82.97 L73.41,83.96 L74.45,84.66 L75.51,85.23 L76.58,85.91 L77.66,86.90 L78.75,88.91 L79.85,92.70 L80.95,98.01 L82.07,104.52 L83.20,111.89 L84.34,119.78 L85.49,128.64 L86.65,140.14" stroke="#4169e1" stroke-opacity="0.90" stroke-width="1.05" fill="none" clip-path="url(#cA)"/>
<path d="M40.10,11.30 L40.21,12.11 L40.42,13.58 L40.68,15.47 L41.00,17.68 L41.35,20.11 L41.75,22.66 L42.17,25.20 L42.63,27.61 L43.12,29.72 L43.64,31.55 L44.19,33.31 L44.76,35.00 L45.35,36.60 L45.97,38.13 L46.61,39.59 L47.27,41.00 L47.95,42.38 L48.65,43.78 L49.38,45.21 L50.12,46.72 L50.88,48.26 L51.66,49.78 L52.46,51.30 L53.27,52.80 L54.10,54.29 L54.95,55.78 L55.82,57.26 L56.70,58.73 L57.59,60.20 L58.51,61.67 L59.43,63.14 L60.38,64.62 L61.34,66.09 L62.31,67.55 L63.30,69.01 L64.30,70.46 L65.31,71.91 L66.34,73.36 L67.38,74.80 L68.44,76.23 L69.51,77.67 L70.59,79.11 L71.69,80.55 L72.79,81.99 L73.92,83.44 L75.05,84.87 L76.19,86.29 L77.35,87.70 L78.52,89.09 L79.71,90.46 L80.90,91.71 L82.11,92.67 L83.32,93.48 L84.55,94.32 L85.79,95.35 L87.04,96.77 L88.31,98.77 L89.58,102.79 L90.87,118.64 L92.16,140.14" stroke="#4169e1" stroke-opacity="0.90" stroke-width="1.00" fill="none" clip-path="url(#cA)"/>
<path d="M40.10,11.30 L40.22,12.18 L40.44,13.80 L40.73,15.87 L41.07,18.28 L41.46,20.91 L41.88,23.66 L42.35,26.37 L42.84,28.90 L43.37,31.08 L43.93,33.13 L44.52,35.09 L45.14,36.97 L45.78,38.76 L46.45,40.48 L47.14,42.15 L47.86,43.78 L48.60,45.42 L49.36,47.11 L50.14,48.89 L50.94,50.71 L51.77,52.52 L52.61,54.33 L53.47,56.14 L54.36,57.94 L55.26,59.72 L56.17,61.48 L57.11,63.23 L58.06,64.96 L59.03,66.66 L60.02,68.33 L61.03,70.01 L62.05,71.68 L63.08,73.35 L64.14,75.01 L65.21,76.65 L66.29,78.27 L67.39,79.86 L68.50,81.41 L69.63,82.91 L70.77,84.36 L71.93,85.75 L73.10,87.06 L74.29,88.26 L75.49,89.34 L76.70,90.38 L77.93,91.42 L79.17,92.53 L80.42,93.76 L81.69,94.95 L82.97,96.10 L84.26,97.31 L85.56,98.68 L86.88,100.31 L88.21,102.32 L89.56,104.90 L90.91,109.17 L92.28,115.18 L93.66,122.58 L95.05,131.03 L96.45,140.14" stroke="#4169e1" stroke-opacity="0.90" stroke-width="1.00" fill="none" clip-path="url(#cA)"/>
<path d="M40.10,11.30 L40.23,11.83 L40.46,12.79 L40.76,14.03 L41.12,15.48 L41.53,17.09 L41.98,18.83 L42.47,20.66 L42.99,22.54 L43.55,24.45 L44.14,26.41 L44.76,28.43 L45.41,30.49 L46.09,32.58 L46.80,34.68 L47.53,36.79 L48.28,38.89 L49.06,40.97 L49.86,43.02 L50.69,45.04 L51.53,47.03 L52.40,48.99 L53.29,50.93 L54.20,52.85 L55.13,54.76 L56.08,56.67 L57.05,58.59 L58.03,60.53 L59.04,62.50 L60.06,64.53 L61.11,66.62 L62.16,68.76 L63.24,70.95 L64.33,73.16 L65.44,75.38 L66.57,77.58 L67.71,79.75 L68.87,81.87 L70.05,83.91 L71.23,85.85 L72.44,87.66 L73.66,89.32 L74.90,90.89 L76.15,92.36 L77.41,93.75 L78.69,95.06 L79.98,96.31 L81.29,97.40 L82.61,98.32 L83.95,99.14 L85.30,100.00 L86.66,100.98 L88.04,102.23 L89.42,103.89 L90.83,106.47 L92.24,110.09 L93.67,114.65 L95.11,120.06 L96.57,126.19 L98.03,132.93 L99.51,140.14" stroke="#4169e1" stroke-opacity="0.90" stroke-width="1.00" fill="none" clip-path="url(#cA)"/>
<path d="M40.10,11.30 L40.30,12.37 L40.66,14.30 L41.13,16.76 L41.68,19.54 L42.31,22.47 L43.01,25.32 L43.76,27.97 L44.57,30.60 L45.44,33.19 L46.35,35.71 L47.31,38.17 L48.32,40.58 L49.37,42.96 L50.46,45.34 L51.58,47.67 L52.75,49.95 L53.96,52.17 L55.20,54.36 L56.47,56.53 L57.78,58.69 L59.12,60.86 L60.50,63.08 L61.91,65.29 L63.34,67.51 L64.81,69.71 L66.31,71.91 L67.83,74.09 L69.39,76.25 L70.97,78.40 L72.58,80.53 L74.22,82.77 L75.88,85.29 L77.57,87.76 L79.29,89.86 L81.03,91.19 L82.80,91.58 L84.59,91.76 L86.41,91.88 L88.25,92.04 L90.11,92.33 L92.00,92.80 L93.91,93.45 L95.84,94.29 L97.80,95.32 L99.77,96.54 L101.77,97.96 L103.80,99.58 L105.84,101.41 L107.91,103.44 L109.99,105.68 L112.10,108.14 L114.23,110.81 L116.38,113.69 L118.54,116.80 L120.73,120.13 L122.94,123.68 L125.17,127.46 L127.42,131.46 L129.69,135.69 L131.97,140.14" stroke="#4169e1" stroke-opacity="0.90" stroke-width="1.05" fill="none" clip-path="url(#cA)"/>
<path d="M40.10,11.30 L40.30,11.63 L40.68,12.24 L41.16,13.01 L41.74,13.92 L42.39,14.92 L43.11,16.00 L43.89,17.13 L44.73,18.31 L45.62,19.54 L46.57,20.81 L47.56,22.13 L48.60,23.50 L49.69,24.94 L50.81,26.44 L51.98,28.01 L53.19,29.63 L54.44,31.30 L55.72,32.99 L57.04,34.70 L58.39,36.40 L59.78,38.07 L61.21,39.72 L62.66,41.38 L64.15,43.03 L65.67,44.68 L67.22,46.32 L68.80,47.96 L70.40,49.58 L72.04,51.20 L73.71,52.80 L75.40,54.38 L77.13,55.94 L78.87,57.49 L80.65,59.02 L82.45,60.56 L84.28,62.10 L86.13,63.66 L88.01,65.25 L89.92,66.87 L91.84,68.48 L93.80,70.07 L95.77,71.66 L97.77,73.25 L99.80,74.86 L101.84,76.49 L103.91,78.17 L106.00,79.90 L108.12,81.70 L110.26,83.59 L112.41,85.58 L114.59,87.69 L116.80,89.92 L119.02,92.25 L121.26,94.69 L123.53,97.23 L125.81,99.87 L128.12,102.62 L130.45,105.45 L132.79,108.38 L135.16,111.40" stroke="#4169e1" stroke-opacity="0.90" stroke-width="1.05" fill="none" clip-path="url(#cA)"/>
<path d="M40.10,11.30 L40.16,11.94 L40.26,13.12 L40.39,14.65 L40.54,16.44 L40.72,18.46 L40.91,20.67 L41.13,23.02 L41.35,25.47 L41.59,27.99 L41.85,30.53 L42.12,33.03 L42.40,35.44 L42.69,37.71 L43.00,39.93 L43.32,42.13 L43.64,44.29 L43.98,46.43 L44.33,48.52 L44.68,50.59 L45.05,52.62 L45.43,54.64 L45.81,56.65 L46.21,58.66 L46.61,60.69 L47.02,62.75 L47.44,64.87 L47.87,67.06 L48.30,69.34 L48.74,71.76 L49.20,74.31 L49.65,76.97 L50.12,79.69 L50.59,82.44 L51.07,85.18 L51.56,87.87 L52.06,90.46 L52.56,92.90 L53.07,95.20 L53.58,97.44 L54.10,99.62 L54.63,101.75 L55.17,103.84 L55.71,105.88 L56.26,107.89 L56.81,109.87 L57.37,111.84 L57.94,113.79 L58.51,115.69 L59.09,117.47 L59.67,119.18 L60.26,120.83 L60.86,122.47 L61.46,124.13 L62.06,125.85 L62.68,127.67 L63.30,129.62 L63.92,131.76 L64.55,134.14 L65.18,137.01 L65.83,140.14" stroke="#4169e1" stroke-opacity="0.90" stroke-width="1.05" fill="none" clip-path="url(#cA)"/>
<path d="M40.10,11.30 L40.16,12.05 L40.27,13.43 L40.41,15.19 L40.57,17.25 L40.76,19.54 L40.97,22.01 L41.20,24.60 L41.44,27.26 L41.70,29.94 L41.98,32.58 L42.26,35.09 L42.57,37.42 L42.88,39.57 L43.21,41.62 L43.55,43.55 L43.90,45.41 L44.26,47.20 L44.63,48.96 L45.01,50.73 L45.40,52.57 L45.81,54.53 L46.22,56.68 L46.64,59.03 L47.07,61.52 L47.51,64.16 L47.96,66.93 L48.42,69.82 L48.89,72.81 L49.36,75.88 L49.84,79.03 L50.34,82.22 L50.84,85.44 L51.34,88.66 L51.86,91.86 L52.38,95.00 L52.91,98.06 L53.45,101.00 L53.99,103.80 L54.54,106.40 L55.10,108.78 L55.67,110.90 L56.24,112.73 L56.82,114.40 L57.41,115.94 L58.00,117.37 L58.60,118.69 L59.21,119.93 L59.82,121.11 L60.44,122.24 L61.07,123.36 L61.70,124.48 L62.34,125.63 L62.98,126.83 L63.63,128.13 L64.29,129.54 L64.95,131.10 L65.62,132.84 L66.30,134.81 L66.98,137.32 L67.66,140.14" stroke="#4169e1" stroke-opacity="0.90" stroke-width="1.05" fill="none" clip-path="url(#cA)"/>
<path d="M40.10,11.30 L40.16,12.11 L40.27,13.59 L40.40,15.48 L40.57,17.70 L40.75,20.16 L40.96,22.80 L41.18,25.57 L41.42,28.40 L41.68,31.21 L41.95,33.92 L42.23,36.46 L42.53,38.71 L42.84,40.70 L43.17,42.54 L43.50,44.24 L43.84,45.82 L44.20,47.33 L44.57,48.79 L44.95,50.26 L45.33,51.80 L45.73,53.48 L46.14,55.39 L46.55,57.56 L46.98,59.94 L47.41,62.50 L47.86,65.24 L48.31,68.15 L48.77,71.20 L49.24,74.37 L49.71,77.66 L50.20,81.02 L50.69,84.45 L51.19,87.90 L51.70,91.34 L52.22,94.75 L52.74,98.08 L53.27,101.29 L53.81,104.35 L54.35,107.21 L54.90,109.81 L55.46,112.12 L56.03,114.07 L56.60,115.82 L57.18,117.44 L57.76,118.95 L58.36,120.36 L58.95,121.68 L59.56,122.94 L60.17,124.14 L60.79,125.31 L61.41,126.47 L62.04,127.63 L62.68,128.82 L63.32,130.06 L63.97,131.38 L64.62,132.80 L65.28,134.36 L65.95,136.07 L66.62,138.04 L67.30,140.14" stroke="#4169e1" stroke-opacity="0.90" stroke-width="1.05" fill="none" clip-path="url(#cA)"/>
<path d="M40.10,11.30 L40.24,12.08 L40.50,13.51 L40.84,15.35 L41.24,17.52 L41.69,19.97 L42.19,22.67 L42.74,25.60 L43.32,28.71 L43.95,32.01 L44.60,35.47 L45.30,39.09 L46.02,42.83 L46.78,46.71 L47.56,50.71 L48.37,54.82 L49.22,59.04 L50.08,63.36 L50.98,67.76 L51.90,72.24 L52.84,76.80" stroke="#4169e1" stroke-opacity="0.90" stroke-width="1.00" fill="none" clip-path="url(#cA)"/>
<path d="M40.10,11.30 L40.96,21.78 L41.82,27.88 L42.67,33.26 L43.53,38.26 L44.39,43.03 L45.25,47.63 L46.10,52.09 L46.96,56.46 L47.82,60.74 L48.67,64.96 L49.53,69.11 L50.39,73.22 L51.25,77.27 L52.11,81.29 L52.96,85.27 L53.82,89.22 L54.68,93.15 L55.54,97.04 L56.39,100.91 L57.25,104.76 L58.11,108.58 L58.97,112.39 L59.82,116.18 L60.68,119.95 L61.54,123.70 L62.40,127.44 L63.25,131.17 L64.11,134.88 L64.97,138.58 L65.83,142.27" stroke="#b8860b" stroke-opacity="0.90" stroke-width="1.30" fill="none" clip-path="url(#cA)"/>
<path d="M40.10,11.30 L41.04,19.95 L41.99,25.54 L42.93,30.62 L43.87,35.45 L44.82,40.10 L45.76,44.64 L46.70,49.09 L47.65,53.46 L48.59,57.78 L49.53,62.05 L50.48,66.28 L51.42,70.47 L52.36,74.63 L53.31,78.77 L54.25,82.87 L55.19,86.96 L56.14,91.02 L57.08,95.07 L58.02,99.10 L58.97,103.11 L59.91,107.11 L60.85,111.10 L61.79,115.07 L62.74,119.03 L63.68,122.98 L64.62,126.92 L65.57,130.84 L66.51,134.76 L67.45,138.67 L68.40,142.58" stroke="#b8860b" stroke-opacity="0.90" stroke-width="1.50" fill="none" clip-path="url(#cA)"/>
<path d="M40.10,11.30 L41.02,20.60 L41.94,26.37 L42.87,31.56 L43.79,36.45 L44.71,41.15 L45.63,45.70 L46.55,50.16 L47.47,54.53 L48.40,58.84 L49.32,63.09 L50.24,67.29 L51.16,71.45 L52.08,75.57 L53.01,79.67 L53.93,83.73 L54.85,87.77 L55.77,91.78 L56.69,95.77 L57.61,99.74 L58.54,103.70 L59.46,107.63 L60.38,111.56 L61.30,115.46 L62.22,119.36 L63.15,123.24 L64.07,127.10 L64.99,130.96 L65.91,134.81 L66.83,138.64 L67.75,142.47" stroke="#b8860b" stroke-opacity="0.90" stroke-width="1.40" fill="none" clip-path="url(#cA)"/>
<path d="M40.10,11.30 L41.15,23.18 L42.20,29.67 L43.25,35.27 L44.30,40.42 L45.35,45.27 L46.40,49.91 L47.45,54.39 L48.50,58.75 L49.55,63.01 L50.60,67.18 L51.65,71.28 L52.71,75.31 L53.76,79.29 L54.81,83.22 L55.86,87.11 L56.91,90.96 L57.96,94.77 L59.01,98.54 L60.06,102.29 L61.11,106.01 L62.16,109.71 L63.21,113.38 L64.26,117.02 L65.31,120.65 L66.36,124.26 L67.41,127.85 L68.46,131.42 L69.51,134.98 L70.56,138.52 L71.61,142.04" stroke="#b8860b" stroke-opacity="0.90" stroke-width="1.15" fill="none" clip-path="url(#cA)"/>
<path d="M40.10,11.30 L41.26,25.12 L42.42,32.16 L43.57,38.07 L44.73,43.41 L45.89,48.38 L47.05,53.08 L48.20,57.59 L49.36,61.93 L50.52,66.15 L51.68,70.27 L52.83,74.29 L53.99,78.23 L55.15,82.10 L56.31,85.91 L57.46,89.66 L58.62,93.36 L59.78,97.02 L60.94,100.64 L62.09,104.21 L63.25,107.76 L64.41,111.27 L65.57,114.75 L66.73,118.20 L67.88,121.63 L69.04,125.03 L70.20,128.41 L71.36,131.77 L72.51,135.10 L73.67,138.42 L74.83,141.72" stroke="#b8860b" stroke-opacity="0.90" stroke-width="1.15" fill="none" clip-path="url(#cA)"/>
<path d="M40.10,11.30 L41.34,26.28 L42.59,33.64 L43.83,39.74 L45.07,45.19 L46.32,50.23 L47.56,54.97 L48.80,59.49 L50.05,63.83 L51.29,68.03 L52.53,72.10 L53.78,76.08 L55.02,79.96 L56.26,83.77 L57.51,87.50 L58.75,91.18 L59.99,94.79 L61.24,98.36 L62.48,101.88 L63.72,105.36 L64.97,108.80 L66.21,112.20 L67.45,115.57 L68.70,118.90 L69.94,122.21 L71.18,125.49 L72.43,128.74 L73.67,131.97 L74.91,135.18 L76.16,138.36 L77.40,141.52" stroke="#b8860b" stroke-opacity="0.90" stroke-width="1.15" fill="none" clip-path="url(#cA)"/>
<path d="M40.10,11.30 L40.19,12.20 L40.34,13.84 L40.55,15.90 L40.79,18.03 L41.07,19.78 L41.37,21.06 L41.70,22.21 L42.06,23.24 L42.43,24.17 L42.83,25.05 L43.25,25.95 L43.69,26.99 L44.15,28.20 L44.63,29.49 L45.12,30.84 L45.63,32.26 L46.16,33.73 L46.70,35.26 L47.26,36.83 L47.83,38.45 L48.42,40.10 L49.02,41.77 L49.64,43.47 L50.26,45.17 L50.91,46.87 L51.56,48.55 L52.23,50.22 L52.91,51.84 L53.60,53.41 L54.31,54.91 L55.02,56.32 L55.75,57.64 L56.49,58.85 L57.24,59.98 L58.00,61.03 L58.77,62.02 L59.56,62.95 L60.35,63.83 L61.16,64.67 L61.97,65.48 L62.80,66.27 L63.63,67.05 L64.48,67.83 L65.33,68.63 L66.20,69.47 L67.07,70.36 L67.96,71.32 L68.85,72.37 L69.75,73.52 L70.67,74.79 L71.59,76.22 L72.52,77.81 L73.46,79.65 L74.41,81.97 L75.36,84.73 L76.33,87.88 L77.30,91.34 L78.29,95.03 L79.28,98.89 L80.28,102.83" stroke="#f5cf1a" stroke-opacity="0.90" stroke-width="1.15" fill="none" clip-path="url(#cA)"/>
<path d="M40.10,11.30 L40.19,12.12 L40.34,13.61 L40.55,15.48 L40.79,17.47 L41.07,19.26 L41.37,20.76 L41.70,22.18 L42.06,23.52 L42.43,24.78 L42.83,25.99 L43.25,27.21 L43.69,28.51 L44.15,29.93 L44.63,31.41 L45.12,32.93 L45.63,34.50 L46.16,36.11 L46.70,37.75 L47.26,39.42 L47.83,41.12 L48.42,42.83 L49.02,44.55 L49.64,46.28 L50.26,48.00 L50.91,49.72 L51.56,51.41 L52.23,53.08 L52.91,54.72 L53.60,56.31 L54.31,57.84 L55.02,59.31 L55.75,60.71 L56.49,62.02 L57.24,63.26 L58.00,64.42 L58.77,65.53 L59.56,66.58 L60.35,67.58 L61.16,68.55 L61.97,69.48 L62.80,70.39 L63.63,71.29 L64.48,72.20 L65.33,73.12 L66.20,74.07 L67.07,75.07 L67.96,76.13 L68.85,77.26 L69.75,78.50 L70.67,79.84 L71.59,81.32 L72.52,82.96 L73.46,84.80 L74.41,86.97 L75.36,89.45 L76.33,92.20 L77.30,95.17 L78.29,98.31 L79.28,101.58 L80.28,104.93" stroke="#f5cf1a" stroke-opacity="0.90" stroke-width="1.15" fill="none" clip-path="url(#cA)"/>
<path d="M40.10,11.30 L40.19,12.18 L40.34,13.79 L40.55,15.80 L40.79,17.99 L41.07,20.05 L41.37,21.91 L41.70,23.73 L42.06,25.50 L42.43,27.21 L42.83,28.86 L43.25,30.48 L43.69,32.10 L44.15,33.77 L44.63,35.47 L45.12,37.22 L45.63,38.98 L46.16,40.77 L46.70,42.58 L47.26,44.39 L47.83,46.21 L48.42,48.02 L49.02,49.83 L49.64,51.63 L50.26,53.41 L50.91,55.16 L51.56,56.88 L52.23,58.57 L52.91,60.21 L53.60,61.80 L54.31,63.34 L55.02,64.81 L55.75,66.22 L56.49,67.55 L57.24,68.80 L58.00,69.98 L58.77,71.10 L59.56,72.15 L60.35,73.16 L61.16,74.12 L61.97,75.05 L62.80,75.95 L63.63,76.85 L64.48,77.74 L65.33,78.65 L66.20,79.58 L67.07,80.56 L67.96,81.59 L68.85,82.70 L69.75,83.91 L70.67,85.23 L71.59,86.68 L72.52,88.28 L73.46,90.08 L74.41,92.19 L75.36,94.59 L76.33,97.24 L77.30,100.09 L78.29,103.11 L79.28,106.26 L80.28,109.47" stroke="#f5cf1a" stroke-opacity="0.90" stroke-width="1.15" fill="none" clip-path="url(#cA)"/>
<path d="M40.10,11.30 L40.19,12.37 L40.34,14.32 L40.55,16.76 L40.79,19.31 L41.06,21.45 L41.36,23.03 L41.69,24.47 L42.04,25.77 L42.41,26.95 L42.81,28.06 L43.23,29.18 L43.66,30.43 L44.12,31.88 L44.59,33.39 L45.08,34.95 L45.58,36.56 L46.10,38.21 L46.64,39.91 L47.19,41.64 L47.76,43.40 L48.34,45.20 L48.94,47.02 L49.55,48.86 L50.17,50.71 L50.81,52.58 L51.46,54.45 L52.12,56.31 L52.79,58.17 L53.48,60.02 L54.18,61.84 L54.89,63.64 L55.61,65.40 L56.34,67.12 L57.08,68.80 L57.84,70.44 L58.60,72.05 L59.38,73.62 L60.17,75.17 L60.96,76.69 L61.77,78.20 L62.59,79.69 L63.42,81.18 L64.25,82.67 L65.10,84.17 L65.96,85.69 L66.83,87.24 L67.70,88.82 L68.59,90.45 L69.48,92.14 L70.39,93.89 L71.30,95.73 L72.22,97.66 L73.15,99.69 L74.09,101.84 L75.04,104.08 L76.00,106.41 L76.96,108.83 L77.94,111.32 L78.92,113.86 L79.91,116.46" stroke="#f5cf1a" stroke-opacity="0.90" stroke-width="1.15" fill="none" clip-path="url(#cA)"/>
<path d="M40.10,11.30 L40.19,12.34 L40.34,14.24 L40.55,16.61 L40.79,19.15 L41.06,21.46 L41.36,23.38 L41.69,25.21 L42.04,26.93 L42.41,28.56 L42.81,30.11 L43.23,31.68 L43.66,33.34 L44.12,35.15 L44.59,37.02 L45.08,38.94 L45.58,40.89 L46.10,42.88 L46.64,44.90 L47.19,46.95 L47.76,49.02 L48.34,51.11 L48.94,53.22 L49.55,55.35 L50.17,57.48 L50.81,59.62 L51.46,61.77 L52.12,63.92 L52.79,66.07 L53.48,68.22 L54.18,70.37 L54.89,72.50 L55.61,74.63 L56.34,76.75 L57.08,78.82 L57.84,80.84 L58.60,82.82 L59.38,84.76 L60.17,86.68 L60.96,88.57 L61.77,90.45 L62.59,92.32 L63.42,94.19 L64.25,96.07 L65.10,97.97 L65.96,99.90 L66.83,101.88 L67.70,103.92 L68.59,106.03 L69.48,108.22 L70.39,110.51 L71.30,112.92 L72.22,115.46 L73.15,118.16 L74.09,121.13 L75.04,124.36 L76.00,127.73 L76.96,131.16 L77.94,134.53 L78.92,137.74 L79.91,140.77" stroke="#f5cf1a" stroke-opacity="0.90" stroke-width="1.15" fill="none" clip-path="url(#cA)"/>
<path d="M40.10,11.30 L40.19,12.27 L40.34,14.02 L40.55,16.22 L40.79,18.60 L41.06,20.83 L41.36,22.76 L41.69,24.63 L42.04,26.40 L42.41,28.10 L42.81,29.75 L43.23,31.42 L43.66,33.20 L44.12,35.15 L44.59,37.18 L45.08,39.26 L45.58,41.41 L46.10,43.61 L46.64,45.86 L47.19,48.15 L47.76,50.48 L48.34,52.83 L48.94,55.22 L49.55,57.62 L50.17,60.04 L50.81,62.46 L51.46,64.88 L52.12,67.29 L52.79,69.69 L53.48,72.06 L54.18,74.39 L54.89,76.69 L55.61,78.93 L56.34,81.12 L57.08,83.25 L57.84,85.33 L58.60,87.36 L59.38,89.34 L60.17,91.29 L60.96,93.20 L61.77,95.09 L62.59,96.96 L63.42,98.82 L64.25,100.68 L65.10,102.54 L65.96,104.42 L66.83,106.33 L67.70,108.28 L68.59,110.29 L69.48,112.36 L70.39,114.51 L71.30,116.75 L72.22,119.11 L73.15,121.59 L74.09,124.28 L75.04,127.15 L76.00,130.09 L76.96,133.01 L77.94,135.80 L78.92,138.38 L79.91,140.77" stroke="#f5cf1a" stroke-opacity="0.90" stroke-width="1.15" fill="none" clip-path="url(#cA)"/>
<path d="M40.10,11.30 L40.19,12.45 L40.34,14.53 L40.55,17.15 L40.79,19.95 L41.06,22.51 L41.36,24.66 L41.69,26.72 L42.04,28.66 L42.41,30.49 L42.81,32.26 L43.23,34.03 L43.66,35.92 L44.12,37.99 L44.59,40.14 L45.08,42.35 L45.58,44.63 L46.10,46.96 L46.64,49.34 L47.19,51.76 L47.76,54.22 L48.34,56.70 L48.94,59.21 L49.55,61.73 L50.17,64.25 L50.81,66.77 L51.46,69.27 L52.12,71.75 L52.79,74.20 L53.48,76.60 L54.18,78.95 L54.89,81.23 L55.61,83.44 L56.34,85.56 L57.08,87.61 L57.84,89.59 L58.60,91.52 L59.38,93.38 L60.17,95.20 L60.96,96.98 L61.77,98.72 L62.59,100.43 L63.42,102.12 L64.25,103.81 L65.10,105.50 L65.96,107.20 L66.83,108.93 L67.70,110.70 L68.59,112.53 L69.48,114.42 L70.39,116.40 L71.30,118.49 L72.22,120.69 L73.15,123.04 L74.09,125.66 L75.04,128.48 L76.00,131.37 L76.96,134.16 L77.94,136.68 L78.92,138.85 L79.91,140.77" stroke="#f5cf1a" stroke-opacity="0.90" stroke-width="1.15" fill="none" clip-path="url(#cA)"/>
<path d="M40.10,11.30 L40.19,12.59 L40.35,14.96 L40.57,17.89 L40.82,20.95 L41.10,23.54 L41.42,25.63 L41.76,27.55 L42.13,29.32 L42.52,30.95 L42.93,32.54 L43.37,34.21 L43.83,36.14 L44.30,38.29 L44.79,40.56 L45.31,42.93 L45.84,45.41 L46.38,47.98 L46.94,50.63 L47.52,53.36 L48.12,56.16 L48.72,59.00 L49.35,61.89 L49.99,64.79 L50.64,67.71 L51.30,70.61 L51.98,73.48 L52.67,76.29 L53.38,79.04 L54.10,81.68 L54.83,84.19 L55.57,86.55 L56.32,88.76 L57.09,90.90 L57.87,92.99 L58.66,95.04 L59.46,97.05 L60.27,99.02 L61.09,100.94 L61.93,102.82 L62.77,104.67 L63.63,106.48 L64.49,108.26 L65.37,110.02 L66.26,111.75 L67.15,113.46 L68.06,115.16 L68.98,116.86 L69.90,118.55 L70.84,120.25 L71.78,121.96 L72.74,123.70 L73.70,125.35 L74.68,126.77 L75.66,128.05 L76.65,129.30 L77.66,130.65 L78.67,132.21 L79.68,134.12 L80.71,136.52 L81.75,140.77" stroke="#f5cf1a" stroke-opacity="0.90" stroke-width="1.15" fill="none" clip-path="url(#cA)"/>
<path d="M40.10,11.30 L40.19,12.62 L40.35,15.03 L40.57,18.03 L40.82,21.15 L41.10,23.75 L41.42,25.84 L41.76,27.75 L42.13,29.48 L42.52,31.09 L42.93,32.65 L43.37,34.31 L43.83,36.24 L44.30,38.42 L44.79,40.71 L45.31,43.13 L45.84,45.65 L46.38,48.29 L46.94,51.01 L47.52,53.82 L48.12,56.70 L48.72,59.64 L49.35,62.63 L49.99,65.64 L50.64,68.67 L51.30,71.68 L51.98,74.67 L52.67,77.60 L53.38,80.44 L54.10,83.19 L54.83,85.79 L55.57,88.23 L56.32,90.50 L57.09,92.73 L57.87,94.92 L58.66,97.09 L59.46,99.22 L60.27,101.31 L61.09,103.37 L61.93,105.39 L62.77,107.37 L63.63,109.31 L64.49,111.21 L65.37,113.08 L66.26,114.90 L67.15,116.67 L68.06,118.41 L68.98,120.11 L69.90,121.76 L70.84,123.38 L71.78,124.96 L72.74,126.49 L73.70,127.90 L74.68,129.03 L75.66,129.99 L76.65,130.90 L77.66,131.88 L78.67,133.07 L79.68,134.59 L80.71,136.59 L81.75,140.77" stroke="#f5cf1a" stroke-opacity="0.90" stroke-width="1.15" fill="none" clip-path="url(#cA)"/>
<path d="M40.10,11.30 L40.19,11.76 L40.35,12.61 L40.55,13.71 L40.80,15.00 L41.07,16.47 L41.38,18.07 L41.71,19.78 L42.07,21.58 L42.45,23.43 L42.85,25.31 L43.27,27.16 L43.72,28.96 L44.18,30.71 L44.66,32.47 L45.15,34.25 L45.67,36.04 L46.20,37.83 L46.74,39.63 L47.30,41.42 L47.88,43.20 L48.47,44.98 L49.08,46.76 L49.69,48.53 L50.33,50.29 L50.97,52.06 L51.63,53.82 L52.30,55.58 L52.99,57.34 L53.68,59.12 L54.39,60.91 L55.11,62.73 L55.85,64.57 L56.59,66.39 L57.34,68.15 L58.11,69.85 L58.89,71.51 L59.68,73.14 L60.48,74.76 L61.28,76.38 L62.10,78.04 L62.93,79.74 L63.78,81.52 L64.63,83.40 L65.49,85.40 L66.36,87.56 L67.24,89.90 L68.13,92.56 L69.03,95.51 L69.93,98.66 L70.85,101.92 L71.78,105.18 L72.72,108.33 L73.66,111.30 L74.62,114.15 L75.58,116.98 L76.55,119.88 L77.53,122.95 L78.52,126.30 L79.52,129.97 L80.53,133.86" stroke="#f5cf1a" stroke-opacity="0.90" stroke-width="1.25" fill="none" clip-path="url(#cA)"/>
<path d="M40.10,11.30 L40.35,40.31 L40.61,58.41 L40.86,74.70 L41.11,90.07 L41.36,104.84 L41.62,119.19 L41.87,133.22 L42.12,147.00" stroke="#b22222" stroke-opacity="0.90" stroke-width="1.30" fill="none" clip-path="url(#cA)"/>
<path d="M40.10,11.30 L40.44,40.31 L40.77,58.41 L41.11,74.70 L41.45,90.07 L41.78,104.84 L42.12,119.19 L42.46,133.22 L42.80,147.00" stroke="#b22222" stroke-opacity="0.90" stroke-width="1.60" fill="none" clip-path="url(#cA)"/>
<path d="M40.10,11.30 L40.55,40.31 L41.01,58.41 L41.46,74.70 L41.92,90.07 L42.37,104.84 L42.83,119.19 L43.28,133.22 L43.74,147.00" stroke="#b22222" stroke-opacity="0.90" stroke-width="1.30" fill="none" clip-path="url(#cA)"/>
<path d="M248.70,11.40 L288.29,12.37 L327.88,13.56 L367.46,14.96 L407.05,16.57 L446.64,18.40 L486.23,20.43 L525.81,22.68 L565.40,25.15 L604.99,27.82 L644.58,30.71" stroke="#b3c6e0" stroke-opacity="0.90" stroke-width="1.80" fill="none" clip-path="url(#cB)"/>
<path d="M248.70,11.40 L283.55,12.79 L318.41,14.08 L353.26,15.47 L388.12,16.98 L422.97,18.61 L457.83,20.38 L492.68,22.28 L527.53,24.32 L562.39,26.50 L597.24,28.81" stroke="#b3c6e0" stroke-opacity="0.90" stroke-width="1.80" fill="none" clip-path="url(#cB)"/>
<path d="M248.70,11.40 L288.29,13.55 L327.88,15.33 L367.46,17.17 L407.05,19.13 L446.64,21.20 L486.23,23.41 L525.81,25.75 L565.40,28.23 L604.99,30.86 L644.58,33.63" stroke="#b3c6e0" stroke-opacity="0.90" stroke-width="1.80" fill="none" clip-path="url(#cB)"/>
<path d="M248.70,11.40 L288.29,14.14 L327.88,16.21 L367.46,18.28 L407.05,20.40 L446.64,22.60 L486.23,24.89 L525.81,27.28 L565.40,29.78 L604.99,32.38 L644.58,35.08" stroke="#b3c6e0" stroke-opacity="0.90" stroke-width="1.80" fill="none" clip-path="url(#cB)"/>
<path d="M248.70,11.40 L283.55,14.43 L318.41,16.55 L353.26,18.57 L388.12,20.58 L422.97,22.61 L457.83,24.67 L492.68,26.77 L527.53,28.92 L562.39,31.13 L597.24,33.38" stroke="#b3c6e0" stroke-opacity="0.90" stroke-width="1.80" fill="none" clip-path="url(#cB)"/>
<path d="M248.70,11.40 L288.29,15.32 L327.88,17.98 L367.46,20.50 L407.05,22.96 L446.64,25.41 L486.23,27.87 L525.81,30.35 L565.40,32.86 L604.99,35.41 L644.58,38.00" stroke="#b3c6e0" stroke-opacity="0.90" stroke-width="1.80" fill="none" clip-path="url(#cB)"/>
<path d="M248.70,11.40 L287.00,15.80 L325.29,18.68 L363.59,21.34 L401.89,23.89 L440.18,26.39 L478.48,28.86 L516.78,31.31 L555.07,33.75 L593.37,36.19 L631.67,38.63" stroke="#b3c6e0" stroke-opacity="0.90" stroke-width="1.80" fill="none" clip-path="url(#cB)"/>
<path d="M248.70,11.40 L288.29,16.49 L327.88,19.75 L367.46,22.71 L407.05,25.51 L446.64,28.21 L486.23,30.84 L525.81,33.41 L565.40,35.95 L604.99,38.45 L644.58,40.91" stroke="#b3c6e0" stroke-opacity="0.90" stroke-width="1.80" fill="none" clip-path="url(#cB)"/>
<path d="M248.70,11.40 L250.03,12.59 L252.45,14.51 L255.59,15.49 L259.31,16.42 L263.53,17.29 L268.20,18.06 L273.27,18.72 L278.72,19.30 L284.52,19.84 L290.65,20.41 L297.10,21.15 L303.85,22.18 L310.89,23.75 L318.20,26.07 L325.77,28.95 L333.61,32.13 L341.69,35.31 L350.02,38.12 L358.58,40.11 L367.36,40.90 L376.37,41.27 L385.60,41.54 L395.04,41.76 L404.69,41.97 L414.54,42.26 L424.59,42.67 L434.83,43.18 L445.27,43.77 L455.89,44.45 L466.70,45.21 L477.69,46.06 L488.86,47.01 L500.21,48.05 L511.72,49.19 L523.41,50.43 L535.27,51.76 L547.29,53.20 L559.48,54.74 L571.83,56.39 L584.33,58.14" stroke="#b3c6e0" stroke-opacity="0.90" stroke-width="1.60" fill="none" clip-path="url(#cB)"/>
<path d="M248.70,11.40 L250.03,12.88 L252.45,15.27 L255.59,16.48 L259.31,17.63 L263.53,18.73 L268.20,19.71 L273.27,20.56 L278.72,21.30 L284.52,21.99 L290.65,22.70 L297.10,23.55 L303.85,24.71 L310.89,26.33 L318.20,28.41 L325.77,30.82 L333.61,33.43 L341.69,36.06 L350.02,38.50 L358.58,40.50 L367.36,41.84 L376.37,42.85 L385.60,43.71 L395.04,44.46 L404.69,45.18 L414.54,45.93 L424.59,46.79 L434.83,47.69 L445.27,48.60 L455.89,49.53 L466.70,50.48 L477.69,51.44 L488.86,52.41 L500.21,53.40 L511.72,54.39 L523.41,55.41 L535.27,56.43 L547.29,57.46 L559.48,58.51 L571.83,59.56 L584.33,60.63" stroke="#b3c6e0" stroke-opacity="0.90" stroke-width="1.60" fill="none" clip-path="url(#cB)"/>
<path d="M248.70,11.40 L250.03,11.88 L252.45,12.73 L255.59,13.62 L259.31,14.59 L263.53,15.61 L268.20,16.65 L273.27,17.70 L278.72,18.77 L284.52,19.90 L290.65,21.11 L297.10,22.48 L303.85,24.07 L310.89,26.03 L318.20,28.50 L325.77,31.36 L333.61,34.44 L341.69,37.52 L350.02,40.33 L358.58,42.59 L367.36,44.01 L376.37,45.07 L385.60,45.95 L395.04,46.72 L404.69,47.43 L414.54,48.15 L424.59,48.95 L434.83,49.79 L445.27,50.63 L455.89,51.47 L466.70,52.32 L477.69,53.17 L488.86,54.03 L500.21,54.88 L511.72,55.73 L523.41,56.57 L535.27,57.40 L547.29,58.23 L559.48,59.04 L571.83,59.84 L584.33,60.61" stroke="#b3c6e0" stroke-opacity="0.90" stroke-width="1.60" fill="none" clip-path="url(#cB)"/>
<path d="M248.70,11.40 L250.03,12.99 L252.45,15.53 L255.59,16.73 L259.31,17.84 L263.53,18.88 L268.20,19.80 L273.27,20.58 L278.72,21.24 L284.52,21.85 L290.65,22.51 L297.10,23.34 L303.85,24.53 L310.89,26.31 L318.20,28.80 L325.77,31.85 L333.61,35.24 L341.69,38.71 L350.02,41.92 L358.58,44.51 L367.36,46.13 L376.37,47.34 L385.60,48.38 L395.04,49.28 L404.69,50.10 L414.54,50.87 L424.59,51.67 L434.83,52.49 L445.27,53.30 L455.89,54.11 L466.70,54.92 L477.69,55.72 L488.86,56.50 L500.21,57.26 L511.72,58.00 L523.41,58.71 L535.27,59.38 L547.29,60.00 L559.48,60.58 L571.83,61.10 L584.33,61.55" stroke="#b3c6e0" stroke-opacity="0.90" stroke-width="1.60" fill="none" clip-path="url(#cB)"/>
<path d="M248.70,11.40 L250.03,12.44 L252.45,14.18 L255.59,15.51 L259.31,16.87 L263.53,18.21 L268.20,19.49 L273.27,20.69 L278.72,21.82 L284.52,22.93 L290.65,24.09 L297.10,25.43 L303.85,27.09 L310.89,29.24 L318.20,31.92 L325.77,34.99 L333.61,38.28 L341.69,41.56 L350.02,44.58 L358.58,47.03 L367.36,48.64 L376.37,49.88 L385.60,50.95 L395.04,51.88 L404.69,52.73 L414.54,53.53 L424.59,54.34 L434.83,55.16 L445.27,55.98 L455.89,56.81 L466.70,57.62 L477.69,58.43 L488.86,59.21 L500.21,59.98 L511.72,60.72 L523.41,61.42 L535.27,62.09 L547.29,62.70 L559.48,63.26 L571.83,63.76 L584.33,64.19" stroke="#b3c6e0" stroke-opacity="0.90" stroke-width="1.60" fill="none" clip-path="url(#cB)"/>
<path d="M248.70,11.40 L250.03,13.34 L252.45,16.41 L255.59,17.69 L259.31,18.85 L263.53,19.92 L268.20,20.85 L273.27,21.62 L278.72,22.26 L284.52,22.85 L290.65,23.48 L297.10,24.32 L303.85,25.57 L310.89,27.54 L318.20,30.52 L325.77,34.30 L333.61,38.55 L341.69,42.90 L350.02,46.89 L358.58,49.98 L367.36,51.67 L376.37,52.85 L385.60,53.85 L395.04,54.70 L404.69,55.44 L414.54,56.10 L424.59,56.74 L434.83,57.39 L445.27,58.03 L455.89,58.68 L466.70,59.32 L477.69,59.94 L488.86,60.54 L500.21,61.12 L511.72,61.66 L523.41,62.15 L535.27,62.59 L547.29,62.97 L559.48,63.28 L571.83,63.50 L584.33,63.63" stroke="#b3c6e0" stroke-opacity="0.90" stroke-width="1.60" fill="none" clip-path="url(#cB)"/>
<path d="M248.70,11.40 L250.03,12.60 L252.45,14.58 L255.59,15.88 L259.31,17.17 L263.53,18.41 L268.20,19.54 L273.27,20.55 L278.72,21.48 L284.52,22.38 L290.65,23.36 L297.10,24.56 L303.85,26.18 L310.89,28.51 L318.20,31.83 L325.77,35.89 L333.61,40.40 L341.69,44.97 L350.02,49.12 L358.58,52.33 L367.36,54.09 L376.37,55.32 L385.60,56.37 L395.04,57.26 L404.69,58.03 L414.54,58.71 L424.59,59.36 L434.83,60.02 L445.27,60.68 L455.89,61.33 L466.70,61.98 L477.69,62.62 L488.86,63.23 L500.21,63.81 L511.72,64.36 L523.41,64.85 L535.27,65.29 L547.29,65.66 L559.48,65.95 L571.83,66.15 L584.33,66.25" stroke="#b3c6e0" stroke-opacity="0.90" stroke-width="1.60" fill="none" clip-path="url(#cB)"/>
<path d="M248.70,11.40 L250.03,12.43 L252.45,14.16 L255.59,15.49 L259.31,16.84 L263.53,18.15 L268.20,19.38 L273.27,20.53 L278.72,21.61 L284.52,22.70 L290.65,23.88 L297.10,25.30 L303.85,27.14 L310.89,29.70 L318.20,33.25 L325.77,37.55 L333.61,42.32 L341.69,47.16 L350.02,51.63 L358.58,55.18 L367.36,57.34 L376.37,59.02 L385.60,60.53 L395.04,61.84 L404.69,62.91 L414.54,63.72 L424.59,64.26 L434.83,64.73 L445.27,65.17 L455.89,65.60 L466.70,66.01 L477.69,66.39 L488.86,66.74 L500.21,67.06 L511.72,67.35 L523.41,67.61 L535.27,67.82 L547.29,67.99 L559.48,68.12 L571.83,68.20 L584.33,68.23" stroke="#b3c6e0" stroke-opacity="0.90" stroke-width="1.60" fill="none" clip-path="url(#cB)"/>
<path d="M248.70,11.40 L266.28,16.38 L283.87,20.74 L301.45,23.66 L319.04,27.19 L336.62,29.79 L354.21,32.81 L371.79,35.64 L389.38,38.01 L406.96,40.69 L424.55,42.86 L442.13,45.81 L459.72,48.04 L477.30,50.72 L494.89,53.08 L512.47,56.10 L530.06,59.39 L547.64,60.84 L565.23,63.18 L582.81,65.75 L600.40,68.73 L617.98,70.98 L635.57,74.19 L653.15,75.70 L670.74,78.52 L688.32,81.39 L705.91,84.14 L723.49,85.36 L741.08,87.57 L758.66,91.33 L776.25,93.10" stroke="#b3c6e0" stroke-opacity="0.90" stroke-width="1.35" fill="none" clip-path="url(#cB)"/>
<path d="M248.70,11.40 L266.28,16.63 L283.87,21.02 L301.45,24.91 L319.04,28.03 L336.62,30.54 L354.21,33.54 L371.79,37.89 L389.38,40.09 L406.96,43.98 L424.55,45.95 L442.13,49.51 L459.72,51.62 L477.30,54.40 L494.89,58.02 L512.47,60.17 L530.06,64.09 L547.64,67.31 L565.23,69.38 L582.81,73.08 L600.40,75.67 L617.98,78.18 L635.57,80.69 L653.15,84.19 L670.74,87.16 L688.32,88.71 L705.91,92.34 L723.49,94.15 L741.08,97.02 L758.66,100.58 L776.25,103.16" stroke="#b3c6e0" stroke-opacity="0.90" stroke-width="1.35" fill="none" clip-path="url(#cB)"/>
<path d="M248.70,11.40 L266.28,17.87 L283.87,21.83 L301.45,25.31 L319.04,28.84 L336.62,32.23 L354.21,35.39 L371.79,38.08 L389.38,41.86 L406.96,45.05 L424.55,47.65 L442.13,51.39 L459.72,54.27 L477.30,56.21 L494.89,59.83 L512.47,62.71 L530.06,66.42 L547.64,68.69 L565.23,71.31 L582.81,75.01 L600.40,76.95 L617.98,79.76 L635.57,83.44 L653.15,85.40 L670.74,88.45 L688.32,90.92 L705.91,94.20 L723.49,96.44 L741.08,99.17 L758.66,103.01 L776.25,105.05" stroke="#b3c6e0" stroke-opacity="0.90" stroke-width="1.35" fill="none" clip-path="url(#cB)"/>
<path d="M248.70,11.40 L267.92,18.40 L287.14,21.59 L306.36,24.92 L325.58,29.56 L344.80,32.70 L364.02,35.86 L383.24,39.57 L402.46,42.75 L421.68,46.04 L440.90,49.12 L460.12,51.92 L479.34,55.48 L498.56,58.46 L517.78,60.93 L537.00,65.11 L556.22,67.33 L575.44,70.10 L594.66,73.75 L613.88,76.88 L633.10,78.99 L652.32,82.82 L671.54,85.86 L690.76,88.44 L709.98,90.99 L729.20,94.83 L748.42,97.43 L767.64,100.33 L786.86,102.50 L806.08,106.01 L825.30,108.82" stroke="#b3c6e0" stroke-opacity="0.90" stroke-width="1.35" fill="none" clip-path="url(#cB)"/>
<path d="M248.70,11.40 L267.92,17.80 L287.14,23.30 L306.36,27.12 L325.58,30.50 L344.80,33.87 L364.02,38.15 L383.24,42.05 L402.46,45.71 L421.68,48.54 L440.90,52.47 L460.12,54.92 L479.34,58.22 L498.56,62.54 L517.78,65.70 L537.00,68.18 L556.22,71.70 L575.44,74.70 L594.66,78.63 L613.88,82.17 L633.10,85.13 L652.32,87.57 L671.54,91.55 L690.76,94.61 L709.98,97.67 L729.20,100.82 L748.42,103.98 L767.64,106.35 L786.86,110.63 L806.08,113.99 L825.30,116.36" stroke="#b3c6e0" stroke-opacity="0.90" stroke-width="1.35" fill="none" clip-path="url(#cB)"/>
<path d="M248.70,11.40 L267.92,18.11 L287.14,22.88 L306.36,26.95 L325.58,31.78 L344.80,34.85 L364.02,38.63 L383.24,43.36 L402.46,46.18 L421.68,49.59 L440.90,53.36 L460.12,57.05 L479.34,60.84 L498.56,64.18 L517.78,67.74 L537.00,71.34 L556.22,73.91 L575.44,77.69 L594.66,80.21 L613.88,84.66 L633.10,86.65 L652.32,90.24 L671.54,93.15 L690.76,96.44 L709.98,99.67 L729.20,103.38 L748.42,107.45 L767.64,109.55 L786.86,113.62 L806.08,116.62 L825.30,119.50" stroke="#b3c6e0" stroke-opacity="0.90" stroke-width="1.35" fill="none" clip-path="url(#cB)"/>
<path d="M248.70,11.40 L267.20,18.91 L285.71,23.97 L304.21,28.51 L322.71,31.85 L341.21,36.32 L359.72,40.58 L378.22,44.49 L396.72,47.28 L415.23,51.52 L433.73,54.67 L452.23,58.88 L470.73,62.65 L489.24,65.65 L507.74,68.70 L526.24,73.13 L544.75,75.63 L563.25,78.84 L581.75,82.41 L600.26,85.77 L618.76,90.36 L637.26,92.78 L655.76,95.76 L674.27,100.32 L692.77,103.30 L711.27,106.61 L729.78,109.51 L748.28,112.95 L766.78,116.16 L785.28,118.97 L803.79,122.64" stroke="#b3c6e0" stroke-opacity="0.90" stroke-width="1.35" fill="none" clip-path="url(#cB)"/>
<path d="M248.70,11.40 L267.92,19.20 L287.14,23.96 L306.36,28.32 L325.58,32.60 L344.80,36.85 L364.02,39.56 L383.24,43.75 L402.46,48.87 L421.68,52.16 L440.90,56.33 L460.12,60.18 L479.34,63.95 L498.56,67.31 L517.78,71.19 L537.00,75.29 L556.22,79.30 L575.44,82.82 L594.66,86.85 L613.88,89.91 L633.10,93.37 L652.32,97.56 L671.54,101.69 L690.76,105.21 L709.98,108.58 L729.20,111.88 L748.42,115.25 L767.64,119.50 L786.86,122.49 L806.08,126.38 L825.30,130.19" stroke="#b3c6e0" stroke-opacity="0.90" stroke-width="1.35" fill="none" clip-path="url(#cB)"/>
<path d="M248.70,11.40 L268.78,19.90 L288.86,25.38 L308.94,30.08 L329.02,34.40 L349.10,39.29 L369.18,43.22 L389.26,47.84 L409.35,52.35 L429.43,56.05 L449.51,59.89 L469.59,64.88 L489.67,68.35 L509.75,72.33 L529.83,75.60 L549.91,79.44 L569.99,84.19 L590.07,87.28 L610.15,91.31 L630.23,95.95 L650.31,99.48 L670.39,103.81 L690.47,106.58 L710.56,110.60 L730.64,114.04 L750.72,117.95 L770.80,121.90 L790.88,125.55 L810.96,129.55 L831.04,133.97 L851.12,137.10" stroke="#b3c6e0" stroke-opacity="0.90" stroke-width="1.35" fill="none" clip-path="url(#cB)"/>
<path d="M248.70,11.40 L262.61,19.55 L276.53,25.78 L290.44,30.43 L304.35,34.10 L318.27,39.66 L332.18,43.93 L346.09,48.18 L360.00,51.19 L373.92,56.38 L387.83,60.71 L401.74,63.52 L415.66,68.62 L429.57,71.52 L443.48,75.73 L457.40,79.42 L471.31,83.16 L485.22,87.61 L499.13,91.15 L513.05,96.16 L526.96,98.90 L540.87,103.12 L554.79,106.63 L568.70,111.35 L582.61,114.17 L596.53,117.67 L610.44,122.76 L624.35,126.13 L638.26,129.52 L652.18,132.87 L666.09,137.10" stroke="#b3c6e0" stroke-opacity="0.90" stroke-width="1.35" fill="none" clip-path="url(#cB)"/>
<path d="M248.70,11.40 L264.76,20.06 L280.83,25.50 L296.89,30.26 L312.96,34.32 L329.02,38.57 L345.09,43.46 L361.15,47.76 L377.22,51.90 L393.28,56.11 L409.35,60.10 L425.41,64.65 L441.47,68.04 L457.54,71.31 L473.60,76.11 L489.67,79.54 L505.73,84.34 L521.80,87.43 L537.86,91.21 L553.93,95.19 L569.99,99.27 L586.06,103.15 L602.12,106.73 L618.18,110.15 L634.25,115.07 L650.31,118.93 L666.38,121.72 L682.44,125.23 L698.51,129.59 L714.57,133.45 L730.64,137.10" stroke="#b3c6e0" stroke-opacity="0.90" stroke-width="1.35" fill="none" clip-path="url(#cB)"/>
<path d="M248.70,11.40 L260.89,20.18 L273.08,26.57 L285.28,31.45 L297.47,36.26 L309.66,40.19 L321.85,44.97 L334.04,49.37 L346.23,52.87 L358.43,56.60 L370.62,61.66 L382.81,65.06 L395.00,69.48 L407.19,72.76 L419.39,77.07 L431.58,81.43 L443.77,85.36 L455.96,89.49 L468.15,92.61 L480.34,96.55 L492.54,100.64 L504.73,104.11 L516.92,107.91 L529.11,110.95 L541.30,115.61 L553.50,118.03 L565.69,122.49 L577.88,125.99 L590.07,129.85 L602.26,132.95 L614.45,137.10" stroke="#b3c6e0" stroke-opacity="0.90" stroke-width="1.35" fill="none" clip-path="url(#cB)"/>
<path d="M248.70,11.40 L266.54,20.07 L284.39,26.06 L302.23,31.19 L320.07,35.54 L337.92,39.84 L355.76,44.91 L373.60,48.68 L391.44,52.53 L409.29,57.40 L427.13,61.82 L444.97,65.83 L462.82,69.08 L480.66,73.09 L498.50,76.57 L516.35,80.60 L534.19,85.38 L552.03,89.29 L569.88,92.99 L587.72,96.88 L605.56,99.87 L623.41,103.39 L641.25,107.07 L659.09,111.76 L676.93,114.55 L694.78,119.08 L712.62,122.59 L730.46,125.80 L748.31,130.43 L766.15,134.07 L783.99,137.10" stroke="#b3c6e0" stroke-opacity="0.90" stroke-width="1.35" fill="none" clip-path="url(#cB)"/>
<path d="M248.70,11.40 L249.24,74.25 L249.78,137.10" stroke="#e88a8a" stroke-opacity="0.85" stroke-width="1.00" fill="none" clip-path="url(#cB)"/>
<path d="M248.70,11.40 L249.88,40.41 L251.07,58.51 L252.25,74.80 L253.43,90.17 L254.62,104.94 L255.80,119.29 L256.98,133.32 L258.17,147.10" stroke="#e88a8a" stroke-opacity="0.85" stroke-width="1.00" fill="none" clip-path="url(#cB)"/>
<path d="M248.70,11.40 L250.29,28.46 L251.87,38.73 L253.46,47.89 L255.05,56.47 L256.64,64.68 L258.22,72.63 L259.81,80.37 L261.40,87.97 L262.99,95.43 L264.57,102.78 L266.16,110.05 L267.75,117.23 L269.34,124.34 L270.92,131.40 L272.51,138.39 L274.10,145.34" stroke="#fbb577" stroke-opacity="0.85" stroke-width="1.30" fill="none" clip-path="url(#cB)"/>
<path d="M248.70,11.40 L250.42,30.00 L252.13,40.60 L253.85,49.88 L255.56,58.47 L257.28,66.63 L258.99,74.49 L260.71,82.10 L262.43,89.53 L264.14,96.81 L265.86,103.96 L267.57,111.00 L269.29,117.95 L271.00,124.82 L272.72,131.61 L274.43,138.34 L276.15,145.01" stroke="#fbb577" stroke-opacity="0.85" stroke-width="1.30" fill="none" clip-path="url(#cB)"/>
<path d="M248.70,11.40 L250.82,30.90 L252.93,41.68 L255.05,51.03 L257.17,59.63 L259.29,67.77 L261.40,75.56 L263.52,83.10 L265.64,90.44 L267.76,97.61 L269.87,104.64 L271.99,111.56 L274.11,118.37 L276.23,125.10 L278.34,131.74 L280.46,138.31 L282.58,144.82" stroke="#fbb577" stroke-opacity="0.85" stroke-width="1.30" fill="none" clip-path="url(#cB)"/>
<path d="M248.70,11.40 L251.25,27.89 L253.80,38.04 L256.35,47.15 L258.91,55.72 L261.46,63.95 L264.01,71.94 L266.56,79.73 L269.11,87.38 L271.66,94.92 L274.21,102.35 L276.76,109.69 L279.32,116.96 L281.87,124.17 L284.42,131.31 L286.97,138.41 L289.52,145.46" stroke="#fbb577" stroke-opacity="0.85" stroke-width="1.30" fill="none" clip-path="url(#cB)"/>
<path d="M248.70,11.40 L251.55,31.53 L254.39,42.45 L257.24,51.85 L260.09,60.46 L262.93,68.57 L265.78,76.33 L268.63,83.81 L271.48,91.08 L274.32,98.18 L277.17,105.13 L280.02,111.95 L282.86,118.67 L285.71,125.29 L288.56,131.83 L291.40,138.29 L294.25,144.69" stroke="#fbb577" stroke-opacity="0.85" stroke-width="1.30" fill="none" clip-path="url(#cB)"/>
<path d="M248.70,11.40 L251.99,31.90 L255.29,42.89 L258.58,52.32 L261.87,60.93 L265.17,69.03 L268.46,76.76 L271.75,84.22 L275.04,91.45 L278.34,98.50 L281.63,105.40 L284.92,112.18 L288.22,118.84 L291.51,125.40 L294.80,131.88 L298.10,138.28 L301.39,144.61" stroke="#fbb577" stroke-opacity="0.85" stroke-width="1.30" fill="none" clip-path="url(#cB)"/>
<path d="M248.70,11.40 L252.43,32.77 L256.16,43.95 L259.89,53.44 L263.62,62.07 L267.35,70.14 L271.08,77.82 L274.81,85.20 L278.54,92.34 L282.27,99.29 L286.00,106.07 L289.72,112.72 L293.45,119.25 L297.18,125.67 L300.91,132.00 L304.64,138.25 L308.37,144.42" stroke="#fbb577" stroke-opacity="0.85" stroke-width="1.30" fill="none" clip-path="url(#cB)"/>
<path d="M248.70,11.40 L252.76,28.65 L256.83,38.96 L260.89,48.13 L264.95,56.71 L269.01,64.92 L273.08,72.85 L277.14,80.58 L281.20,88.16 L285.27,95.60 L289.33,102.93 L293.39,110.16 L297.45,117.32 L301.52,124.40 L305.58,131.42 L309.64,138.39 L313.71,145.30" stroke="#fbb577" stroke-opacity="0.85" stroke-width="1.30" fill="none" clip-path="url(#cB)"/>
<path d="M248.70,11.40 L253.13,32.06 L257.57,43.08 L262.00,52.52 L266.44,61.14 L270.87,69.24 L275.30,76.96 L279.74,84.40 L284.17,91.61 L288.61,98.65 L293.04,105.53 L297.47,112.28 L301.91,118.91 L306.34,125.45 L310.78,131.90 L315.21,138.27 L319.64,144.57" stroke="#fbb577" stroke-opacity="0.85" stroke-width="1.30" fill="none" clip-path="url(#cB)"/>
<path d="M248.70,11.40 L253.62,29.22 L258.54,39.65 L263.46,48.87 L268.38,57.46 L273.30,65.64 L278.22,73.54 L283.15,81.22 L288.07,88.74 L292.99,96.11 L297.91,103.36 L302.83,110.52 L307.75,117.59 L312.67,124.58 L317.59,131.50 L322.51,138.37 L327.43,145.18" stroke="#fbb577" stroke-opacity="0.85" stroke-width="1.30" fill="none" clip-path="url(#cB)"/>
<path d="M248.70,11.40 L253.85,31.26 L258.99,42.12 L264.14,51.49 L269.29,60.10 L274.43,68.22 L279.58,76.00 L284.73,83.50 L289.87,90.80 L295.02,97.93 L300.16,104.92 L305.31,111.78 L310.46,118.54 L315.60,125.21 L320.75,131.79 L325.90,138.30 L331.04,144.74" stroke="#fbb577" stroke-opacity="0.85" stroke-width="1.30" fill="none" clip-path="url(#cB)"/>
<path d="M248.70,11.40 L254.48,30.72 L260.26,41.46 L266.05,50.79 L271.83,59.40 L277.61,67.54 L283.39,75.34 L289.17,82.90 L294.96,90.25 L300.74,97.45 L306.52,104.50 L312.30,111.44 L318.08,118.29 L323.87,125.04 L329.65,131.71 L335.43,138.32 L341.21,144.86" stroke="#fbb577" stroke-opacity="0.85" stroke-width="1.30" fill="none" clip-path="url(#cB)"/>
<path d="M248.70,11.40 L254.58,27.32 L260.47,37.36 L266.35,46.42 L272.23,54.99 L278.11,63.24 L284.00,71.25 L289.88,79.10 L295.76,86.81 L301.64,94.41 L307.53,101.91 L313.41,109.34 L319.29,116.70 L325.18,123.99 L331.06,131.23 L336.94,138.43 L342.82,145.58" stroke="#fbb577" stroke-opacity="0.85" stroke-width="1.30" fill="none" clip-path="url(#cB)"/>
<path d="M248.70,11.40 L254.99,28.17 L261.28,38.38 L267.57,47.51 L273.86,56.09 L280.15,64.31 L286.44,72.27 L292.72,80.05 L299.01,87.67 L305.30,95.17 L311.59,102.56 L317.88,109.86 L324.17,117.09 L330.46,124.25 L336.75,131.35 L343.04,138.40 L349.33,145.40" stroke="#fbb577" stroke-opacity="0.85" stroke-width="1.30" fill="none" clip-path="url(#cB)"/>
<path d="M248.70,11.40 L255.35,27.46 L262.01,37.53 L268.66,46.61 L275.32,55.18 L281.97,63.42 L288.63,71.43 L295.28,79.26 L301.94,86.96 L308.59,94.54 L315.25,102.02 L321.90,109.43 L328.56,116.76 L335.21,124.04 L341.87,131.25 L348.52,138.42 L355.18,145.55" stroke="#fbb577" stroke-opacity="0.85" stroke-width="1.30" fill="none" clip-path="url(#cB)"/>
<path d="M248.70,11.40 L255.92,32.58 L263.13,43.71 L270.35,53.19 L277.56,61.81 L284.78,69.89 L291.99,77.58 L299.21,84.98 L306.42,92.14 L313.64,99.11 L320.85,105.92 L328.07,112.60 L335.28,119.16 L342.50,125.61 L349.72,131.98 L356.93,138.26 L364.15,144.47" stroke="#fbb577" stroke-opacity="0.85" stroke-width="1.30" fill="none" clip-path="url(#cB)"/>
<path d="M248.70,11.40 L256.16,33.02 L263.63,44.25 L271.09,53.76 L278.56,62.39 L286.02,70.45 L293.49,78.12 L300.95,85.47 L308.42,92.59 L315.88,99.51 L323.35,106.26 L330.81,112.87 L338.28,119.37 L345.74,125.75 L353.21,132.04 L360.67,138.24 L368.14,144.37" stroke="#fbb577" stroke-opacity="0.85" stroke-width="1.30" fill="none" clip-path="url(#cB)"/>
<path d="M248.70,11.40 L252.37,37.48 L256.04,55.37 L259.70,71.92 L263.37,87.76 L267.04,103.16 L270.71,118.24 L274.38,133.09 L278.05,147.74" stroke="#c9a35a" stroke-opacity="0.80" stroke-width="1.00" fill="none" clip-path="url(#cB)"/>
<path d="M248.70,11.40 L252.84,37.48 L256.98,55.37 L261.12,71.92 L265.27,87.76 L269.41,103.16 L273.55,118.24 L277.69,133.09 L281.83,147.74" stroke="#c9a35a" stroke-opacity="0.80" stroke-width="1.00" fill="none" clip-path="url(#cB)"/>
<path d="M248.70,11.40 L249.86,33.27 L251.02,46.31 L252.19,57.89 L253.35,68.72 L254.51,79.07 L255.67,89.07 L256.83,98.82 L257.99,108.37 L259.16,117.74 L260.32,126.98 L261.48,136.09 L262.64,145.11" stroke="#ff8c00" stroke-opacity="0.95" stroke-width="1.80" fill="none" clip-path="url(#cB)"/>
<path d="M248.70,11.40 L250.09,33.27 L251.49,46.31 L252.88,57.89 L254.28,68.72 L255.67,79.07 L257.07,89.07 L258.46,98.82 L259.85,108.37 L261.25,117.74 L262.64,126.98 L264.04,136.09 L265.43,145.11" stroke="#ff8c00" stroke-opacity="0.95" stroke-width="1.80" fill="none" clip-path="url(#cB)"/>
<path d="M248.70,11.40 L250.33,33.27 L251.95,46.31 L253.58,57.89 L255.21,68.72 L256.83,79.07 L258.46,89.07 L260.09,98.82 L261.71,108.37 L263.34,117.74 L264.97,126.98 L266.59,136.09 L268.22,145.11" stroke="#ff8c00" stroke-opacity="0.95" stroke-width="1.50" fill="none" clip-path="url(#cB)"/>
<path d="M248.70,11.40 L250.64,33.27 L252.57,46.31 L254.51,57.89 L256.45,68.72 L258.38,79.07 L260.32,89.07 L262.25,98.82 L264.19,108.37 L266.13,117.74 L268.06,126.98 L270.00,136.09 L271.94,145.11" stroke="#ff8c00" stroke-opacity="0.95" stroke-width="2.00" fill="none" clip-path="url(#cB)"/>
<path d="M248.70,11.40 L251.10,33.27 L253.50,46.31 L255.90,57.89 L258.30,68.72 L260.71,79.07 L263.11,89.07 L265.51,98.82 L267.91,108.37 L270.31,117.74 L272.71,126.98 L275.11,136.09 L277.51,145.11" stroke="#ff8c00" stroke-opacity="0.95" stroke-width="1.40" fill="none" clip-path="url(#cB)"/>
<path d="M248.70,11.40 L251.72,33.27 L254.74,46.31 L257.76,57.89 L260.78,68.72 L263.80,79.07 L266.82,89.07 L269.84,98.82 L272.87,108.37 L275.89,117.74 L278.91,126.98 L281.93,136.09 L284.95,145.11" stroke="#ff8c00" stroke-opacity="0.95" stroke-width="1.40" fill="none" clip-path="url(#cB)"/>
<path d="M248.70,11.40 L252.38,33.27 L256.06,46.31 L259.74,57.89 L263.42,68.72 L267.10,79.07 L270.77,89.07 L274.45,98.82 L278.13,108.37 L281.81,117.74 L285.49,126.98 L289.17,136.09 L292.85,145.11" stroke="#ff8c00" stroke-opacity="0.95" stroke-width="1.40" fill="none" clip-path="url(#cB)"/>
<path d="M248.70,11.40 L253.00,33.27 L257.30,46.31 L261.60,57.89 L265.89,68.72 L270.19,79.07 L274.49,89.07 L278.79,98.82 L283.09,108.37 L287.39,117.74 L291.69,126.98 L295.99,136.09 L300.28,145.11" stroke="#ff8c00" stroke-opacity="0.95" stroke-width="2.00" fill="none" clip-path="url(#cB)"/>
<path d="M248.70,11.40 L253.54,33.27 L258.38,46.31 L263.22,57.89 L268.06,68.72 L272.90,79.07 L277.75,89.07 L282.59,98.82 L287.43,108.37 L292.27,117.74 L297.11,126.98 L301.95,136.09 L306.79,145.11" stroke="#ff8c00" stroke-opacity="0.95" stroke-width="1.40" fill="none" clip-path="url(#cB)"/>
<path d="M248.70,11.40 L296.57,15.44 L344.44,19.37 L392.31,23.28 L440.18,27.18 L488.05,31.07 L535.93,34.96 L583.80,38.85 L631.67,42.73" stroke="#4169e1" stroke-opacity="0.90" stroke-width="1.35" fill="none" clip-path="url(#cB)"/>
<path d="M248.70,11.40 L296.57,15.55 L344.44,19.58 L392.31,23.60 L440.18,27.60 L488.05,31.60 L535.93,35.59 L583.80,39.58 L631.67,43.57" stroke="#4169e1" stroke-opacity="0.90" stroke-width="1.35" fill="none" clip-path="url(#cB)"/>
<path d="M248.70,11.40 L296.57,15.65 L344.44,19.79 L392.31,23.91 L440.18,28.02 L488.05,32.12 L535.93,36.22 L583.80,40.31 L631.67,44.41" stroke="#4169e1" stroke-opacity="0.90" stroke-width="1.35" fill="none" clip-path="url(#cB)"/>
<path d="M248.70,11.40 L296.57,15.76 L344.44,20.00 L392.31,24.23 L440.18,28.44 L488.05,32.65 L535.93,36.85 L583.80,41.05 L631.67,45.24" stroke="#4169e1" stroke-opacity="0.90" stroke-width="1.35" fill="none" clip-path="url(#cB)"/>
<path d="M248.70,11.40 L251.02,11.58 L255.27,11.92 L260.77,12.37 L267.28,12.91 L274.67,13.53 L282.84,14.23 L291.72,15.01 L301.26,15.87 L311.42,16.81 L322.15,17.81 L333.44,18.90 L345.26,20.06 L357.57,21.29 L370.38,22.59 L383.64,23.97 L397.36,25.42 L411.51,26.94 L426.09,28.53 L441.07,30.24 L456.46,32.08 L472.23,34.03 L488.39,36.07 L504.92,38.20 L521.81,40.39 L539.05,42.67 L556.64,45.04 L574.58,47.50 L592.85,50.06 L611.45,52.71 L630.38,55.47" stroke="#4169e1" stroke-opacity="0.90" stroke-width="1.10" fill="none" clip-path="url(#cB)"/>
<path d="M248.70,11.40 L249.42,11.60 L250.73,11.99 L252.43,12.51 L254.45,13.15 L256.73,13.94 L259.26,14.86 L262.01,15.98 L264.96,17.32 L268.10,18.87 L271.42,20.58 L274.91,22.40 L278.57,24.24 L282.38,26.01 L286.34,27.65 L290.44,29.25 L294.68,30.83 L299.06,32.40 L303.57,33.99 L308.20,35.62 L312.96,37.33 L317.84,39.15 L322.84,41.18 L327.95,43.41 L333.17,45.78 L338.51,48.22 L343.95,50.64 L349.50,52.94 L355.15,55.02 L360.90,56.74 L366.76,58.04 L372.71,59.13 L378.76,60.08 L384.90,60.93 L391.14,61.71 L397.47,62.46 L403.89,63.21 L410.40,64.01 L417.00,64.91 L423.69,65.95 L430.46,67.04 L437.32,68.16 L444.26,69.32 L451.29,70.50 L458.39,71.72 L465.58,72.97 L472.85,74.26 L480.20,75.58 L487.63,76.94 L495.13,78.34 L502.72,79.78 L510.37,81.25 L518.11,82.77 L525.92,84.33 L533.80,85.93 L541.76,87.58 L549.78,89.27 L557.89,91.01 L566.06,92.80 L574.30,94.64 L582.61,96.53" stroke="#4169e1" stroke-opacity="0.90" stroke-width="1.00" fill="none" clip-path="url(#cB)"/>
<path d="M248.70,11.40 L249.42,11.55 L250.73,11.83 L252.43,12.23 L254.45,12.75 L256.73,13.41 L259.26,14.20 L262.01,15.21 L264.96,16.49 L268.10,18.03 L271.42,19.79 L274.91,21.68 L278.57,23.62 L282.38,25.50 L286.34,27.24 L290.44,28.97 L294.68,30.69 L299.06,32.42 L303.57,34.19 L308.20,36.01 L312.96,37.93 L317.84,39.98 L322.84,42.28 L327.95,44.85 L333.17,47.62 L338.51,50.48 L343.95,53.30 L349.50,55.97 L355.15,58.33 L360.90,60.23 L366.76,61.55 L372.71,62.63 L378.76,63.57 L384.90,64.40 L391.14,65.14 L397.47,65.84 L403.89,66.55 L410.40,67.29 L417.00,68.13 L423.69,69.10 L430.46,70.11 L437.32,71.15 L444.26,72.22 L451.29,73.30 L458.39,74.42 L465.58,75.56 L472.85,76.73 L480.20,77.92 L487.63,79.15 L495.13,80.40 L502.72,81.69 L510.37,83.00 L518.11,84.35 L525.92,85.73 L533.80,87.14 L541.76,88.58 L549.78,90.06 L557.89,91.58 L566.06,93.13 L574.30,94.73 L582.61,96.36" stroke="#4169e1" stroke-opacity="0.90" stroke-width="1.00" fill="none" clip-path="url(#cB)"/>
<path d="M248.70,11.40 L249.42,11.71 L250.73,12.27 L252.43,13.01 L254.45,13.89 L256.73,14.89 L259.26,16.02 L262.01,17.25 L264.96,18.59 L268.10,20.03 L271.42,21.57 L274.91,23.20 L278.57,24.93 L282.38,26.76 L286.34,28.71 L290.44,30.83 L294.68,33.08 L299.06,35.43 L303.57,37.83 L308.20,40.21 L312.96,42.52 L317.84,44.68 L322.84,46.76 L327.95,48.85 L333.17,50.92 L338.51,52.96 L343.95,54.93 L349.50,56.81 L355.15,58.56 L360.90,60.15 L366.76,61.55 L372.71,62.83 L378.76,64.02 L384.90,65.12 L391.14,66.16 L397.47,67.17 L403.89,68.17 L410.40,69.18 L417.00,70.24 L423.69,71.36 L430.46,72.51 L437.32,73.67 L444.26,74.84 L451.29,76.02 L458.39,77.22 L465.58,78.42 L472.85,79.63 L480.20,80.85 L487.63,82.08 L495.13,83.31 L502.72,84.56 L510.37,85.81 L518.11,87.06 L525.92,88.33 L533.80,89.59 L541.76,90.87 L549.78,92.14 L557.89,93.42 L566.06,94.70 L574.30,95.99 L582.61,97.28" stroke="#4169e1" stroke-opacity="0.90" stroke-width="1.00" fill="none" clip-path="url(#cB)"/>
<path d="M248.70,11.40 L249.42,11.74 L250.73,12.37 L252.43,13.18 L254.45,14.11 L256.73,15.15 L259.26,16.26 L262.01,17.41 L264.96,18.59 L268.10,19.80 L271.42,21.05 L274.91,22.37 L278.57,23.78 L282.38,25.33 L286.34,27.04 L290.44,28.88 L294.68,30.84 L299.06,32.92 L303.57,35.09 L308.20,37.33 L312.96,39.63 L317.84,41.95 L322.84,44.42 L327.95,47.12 L333.17,49.96 L338.51,52.86 L343.95,55.72 L349.50,58.45 L355.15,60.90 L360.90,62.97 L366.76,64.55 L372.71,65.91 L378.76,67.13 L384.90,68.24 L391.14,69.26 L397.47,70.22 L403.89,71.16 L410.40,72.11 L417.00,73.12 L423.69,74.20 L430.46,75.31 L437.32,76.43 L444.26,77.56 L451.29,78.70 L458.39,79.85 L465.58,81.00 L472.85,82.16 L480.20,83.32 L487.63,84.49 L495.13,85.66 L502.72,86.84 L510.37,88.02 L518.11,89.20 L525.92,90.38 L533.80,91.56 L541.76,92.74 L549.78,93.92 L557.89,95.09 L566.06,96.26 L574.30,97.43 L582.61,98.59" stroke="#4169e1" stroke-opacity="0.90" stroke-width="1.00" fill="none" clip-path="url(#cB)"/>
<path d="M248.70,11.40 L249.42,11.86 L250.73,12.70 L252.43,13.77 L254.45,15.03 L256.73,16.42 L259.26,17.92 L262.01,19.50 L264.96,21.16 L268.10,22.88 L271.42,24.67 L274.91,26.53 L278.57,28.45 L282.38,30.43 L286.34,32.50 L290.44,34.65 L294.68,36.86 L299.06,39.12 L303.57,41.41 L308.20,43.71 L312.96,45.99 L317.84,48.23 L322.84,50.50 L327.95,52.86 L333.17,55.26 L338.51,57.66 L343.95,59.99 L349.50,62.19 L355.15,64.20 L360.90,65.94 L366.76,67.35 L372.71,68.55 L378.76,69.60 L384.90,70.55 L391.14,71.43 L397.47,72.28 L403.89,73.16 L410.40,74.13 L417.00,75.24 L423.69,76.55 L430.46,77.94 L437.32,79.41 L444.26,80.95 L451.29,82.55 L458.39,84.23 L465.58,85.99 L472.85,87.83 L480.20,89.74 L487.63,91.74 L495.13,93.82 L502.72,95.99 L510.37,98.25 L518.11,100.59 L525.92,103.03 L533.80,105.57 L541.76,108.20 L549.78,110.93 L557.89,113.77 L566.06,116.70 L574.30,119.75 L582.61,122.90" stroke="#4169e1" stroke-opacity="0.90" stroke-width="1.00" fill="none" clip-path="url(#cB)"/>
<path d="M248.70,11.40 L249.42,12.02 L250.73,13.13 L252.43,14.56 L254.45,16.20 L256.73,18.00 L259.26,19.87 L262.01,21.79 L264.96,23.79 L268.10,25.85 L271.42,27.95 L274.91,30.05 L278.57,32.14 L282.38,34.19 L286.34,36.17 L290.44,38.09 L294.68,39.97 L299.06,41.81 L303.57,43.65 L308.20,45.52 L312.96,47.45 L317.84,49.48 L322.84,51.68 L327.95,54.04 L333.17,56.51 L338.51,59.01 L343.95,61.50 L349.50,63.87 L355.15,66.05 L360.90,67.95 L366.76,69.49 L372.71,70.81 L378.76,71.98 L384.90,73.05 L391.14,74.04 L397.47,75.00 L403.89,75.99 L410.40,77.06 L417.00,78.26 L423.69,79.64 L430.46,81.09 L437.32,82.60 L444.26,84.17 L451.29,85.79 L458.39,87.47 L465.58,89.21 L472.85,91.01 L480.20,92.87 L487.63,94.80 L495.13,96.79 L502.72,98.85 L510.37,100.98 L518.11,103.19 L525.92,105.46 L533.80,107.81 L541.76,110.24 L549.78,112.75 L557.89,115.34 L566.06,118.01 L574.30,120.77 L582.61,123.62" stroke="#4169e1" stroke-opacity="0.90" stroke-width="1.00" fill="none" clip-path="url(#cB)"/>
<path d="M248.70,11.40 L249.42,12.21 L250.73,13.68 L252.43,15.55 L254.45,17.64 L256.73,19.78 L259.26,21.77 L262.01,23.52 L264.96,25.15 L268.10,26.68 L271.42,28.14 L274.91,29.61 L278.57,31.17 L282.38,32.95 L286.34,35.04 L290.44,37.34 L294.68,39.81 L299.06,42.41 L303.57,45.08 L308.20,47.77 L312.96,50.39 L317.84,52.87 L322.84,55.33 L327.95,57.89 L333.17,60.49 L338.51,63.06 L343.95,65.53 L349.50,67.83 L355.15,69.87 L360.90,71.55 L366.76,72.81 L372.71,73.83 L378.76,74.71 L384.90,75.47 L391.14,76.16 L397.47,76.83 L403.89,77.52 L410.40,78.30 L417.00,79.22 L423.69,80.34 L430.46,81.56 L437.32,82.86 L444.26,84.25 L451.29,85.72 L458.39,87.28 L465.58,88.92 L472.85,90.66 L480.20,92.50 L487.63,94.42 L495.13,96.45 L502.72,98.58 L510.37,100.80 L518.11,103.14 L525.92,105.57 L533.80,108.12 L541.76,110.78 L549.78,113.55 L557.89,116.43 L566.06,119.43 L574.30,122.55 L582.61,125.80" stroke="#4169e1" stroke-opacity="0.90" stroke-width="1.00" fill="none" clip-path="url(#cB)"/>
<path d="M248.70,11.40 L249.42,12.11 L250.73,13.41 L252.43,15.06 L254.45,16.95 L256.73,18.99 L259.26,21.06 L262.01,23.14 L264.96,25.25 L268.10,27.38 L271.42,29.52 L274.91,31.68 L278.57,33.86 L282.38,36.08 L286.34,38.35 L290.44,40.63 L294.68,42.92 L299.06,45.21 L303.57,47.51 L308.20,49.82 L312.96,52.16 L317.84,54.53 L322.84,57.02 L327.95,59.65 L333.17,62.37 L338.51,65.10 L343.95,67.77 L349.50,70.28 L355.15,72.54 L360.90,74.44 L366.76,75.90 L372.71,77.13 L378.76,78.20 L384.90,79.14 L391.14,80.01 L397.47,80.85 L403.89,81.71 L410.40,82.64 L417.00,83.71 L423.69,84.96 L430.46,86.29 L437.32,87.68 L444.26,89.12 L451.29,90.62 L458.39,92.19 L465.58,93.81 L472.85,95.49 L480.20,97.24 L487.63,99.06 L495.13,100.94 L502.72,102.89 L510.37,104.92 L518.11,107.02 L525.92,109.19 L533.80,111.44 L541.76,113.77 L549.78,116.18 L557.89,118.68 L566.06,121.26 L574.30,123.92 L582.61,126.68" stroke="#4169e1" stroke-opacity="0.90" stroke-width="1.00" fill="none" clip-path="url(#cB)"/>
<path d="M248.70,11.40 L249.05,11.81 L249.68,12.55 L250.50,13.51 L251.48,14.62 L252.58,15.87 L253.80,17.21 L255.13,18.61 L256.56,20.04 L258.07,21.46 L259.68,22.82 L261.37,24.14 L263.13,25.45 L264.97,26.75 L266.89,28.02 L268.87,29.28 L270.92,30.53 L273.04,31.78 L275.21,33.04 L277.45,34.31 L279.75,35.62 L282.11,36.99 L284.53,38.42 L287.00,39.89 L289.52,41.37 L292.10,42.88 L294.73,44.41 L297.41,45.95 L300.14,47.50 L302.92,49.07 L305.75,50.63 L308.63,52.20 L311.55,53.76 L314.52,55.32 L317.53,56.86 L320.59,58.38 L323.69,59.86 L326.84,61.31 L330.03,62.75 L333.26,64.16 L336.53,65.58 L339.85,67.00 L343.20,68.44 L346.60,69.92 L350.03,71.43 L353.51,73.00 L357.02,74.64 L360.57,76.37 L364.16,78.20 L367.79,80.04 L371.45,81.82 L375.15,83.64 L378.89,85.55 L382.66,87.65 L386.47,90.01 L390.32,92.73 L394.20,95.90 L398.11,99.62 L402.06,104.96 L406.05,114.78 L410.06,140.24" stroke="#4169e1" stroke-opacity="0.90" stroke-width="1.05" fill="none" clip-path="url(#cB)"/>
<path d="M248.70,11.40 L249.08,12.04 L249.77,13.22 L250.67,14.74 L251.74,16.50 L252.94,18.45 L254.28,20.51 L255.73,22.60 L257.29,24.62 L258.95,26.46 L260.70,28.07 L262.55,29.61 L264.48,31.09 L266.49,32.50 L268.58,33.85 L270.75,35.15 L272.99,36.42 L275.31,37.68 L277.69,38.97 L280.14,40.30 L282.65,41.74 L285.23,43.28 L287.87,44.85 L290.57,46.45 L293.33,48.08 L296.15,49.72 L299.03,51.38 L301.96,53.04 L304.94,54.70 L307.98,56.36 L311.07,58.00 L314.22,59.62 L317.42,61.21 L320.66,62.75 L323.96,64.26 L327.30,65.73 L330.69,67.17 L334.13,68.59 L337.62,70.01 L341.15,71.43 L344.73,72.86 L348.36,74.32 L352.02,75.82 L355.74,77.38 L359.49,79.00 L363.29,80.72 L367.13,82.47 L371.01,84.15 L374.94,85.85 L378.90,87.64 L382.91,89.63 L386.96,91.92 L391.04,94.61 L395.17,98.11 L399.33,102.88 L403.54,108.34 L407.78,113.93 L412.06,119.99 L416.38,126.46 L420.73,133.16 L425.12,140.24" stroke="#4169e1" stroke-opacity="0.90" stroke-width="1.05" fill="none" clip-path="url(#cB)"/>
<path d="M248.70,11.40 L249.05,11.88 L249.70,12.74 L250.53,13.86 L251.51,15.16 L252.63,16.62 L253.87,18.17 L255.22,19.80 L256.66,21.44 L258.20,23.05 L259.83,24.56 L261.54,26.03 L263.33,27.48 L265.19,28.90 L267.13,30.30 L269.14,31.67 L271.22,33.03 L273.36,34.37 L275.57,35.72 L277.84,37.10 L280.17,38.51 L282.56,39.99 L285.00,41.53 L287.51,43.10 L290.07,44.68 L292.68,46.28 L295.34,47.89 L298.06,49.51 L300.83,51.15 L303.64,52.79 L306.51,54.43 L309.43,56.09 L312.39,57.74 L315.40,59.40 L318.45,61.06 L321.55,62.77 L324.69,64.54 L327.88,66.37 L331.11,68.22 L334.39,70.09 L337.71,71.95 L341.06,73.80 L344.46,75.59 L347.90,77.32 L351.39,78.96 L354.91,80.48 L358.47,81.86 L362.06,83.07 L365.70,84.06 L369.38,84.76 L373.09,85.33 L376.84,86.01 L380.63,87.00 L384.45,89.01 L388.31,92.80 L392.21,98.11 L396.14,104.62 L400.11,111.99 L404.11,119.88 L408.14,128.74 L412.21,140.24" stroke="#4169e1" stroke-opacity="0.90" stroke-width="1.05" fill="none" clip-path="url(#cB)"/>
<path d="M248.70,11.40 L249.09,12.21 L249.81,13.68 L250.74,15.57 L251.85,17.78 L253.10,20.21 L254.48,22.76 L255.99,25.30 L257.60,27.71 L259.32,29.82 L261.14,31.65 L263.06,33.41 L265.06,35.10 L267.14,36.70 L269.31,38.23 L271.56,39.69 L273.88,41.10 L276.28,42.48 L278.75,43.88 L281.29,45.31 L283.89,46.82 L286.57,48.36 L289.30,49.88 L292.10,51.40 L294.96,52.90 L297.89,54.39 L300.87,55.88 L303.91,57.36 L307.00,58.83 L310.15,60.30 L313.36,61.77 L316.62,63.24 L319.93,64.72 L323.29,66.19 L326.71,67.65 L330.18,69.11 L333.69,70.56 L337.26,72.01 L340.87,73.46 L344.54,74.90 L348.25,76.33 L352.00,77.77 L355.80,79.21 L359.65,80.65 L363.55,82.09 L367.48,83.54 L371.46,84.97 L375.49,86.39 L379.56,87.80 L383.67,89.19 L387.82,90.56 L392.01,91.81 L396.25,92.77 L400.53,93.58 L404.84,94.42 L409.20,95.45 L413.60,96.87 L418.03,98.87 L422.51,102.89 L427.02,118.74 L431.58,140.24" stroke="#4169e1" stroke-opacity="0.90" stroke-width="1.00" fill="none" clip-path="url(#cB)"/>
<path d="M248.70,11.40 L249.13,12.28 L249.90,13.90 L250.91,15.97 L252.11,18.38 L253.46,21.01 L254.96,23.76 L256.59,26.47 L258.34,29.00 L260.20,31.18 L262.17,33.23 L264.24,35.19 L266.40,37.07 L268.66,38.86 L271.01,40.58 L273.44,42.25 L275.96,43.88 L278.55,45.52 L281.22,47.21 L283.97,48.99 L286.79,50.81 L289.69,52.62 L292.65,54.43 L295.68,56.24 L298.77,58.04 L301.94,59.82 L305.16,61.58 L308.45,63.33 L311.80,65.06 L315.21,66.76 L318.68,68.43 L322.21,70.11 L325.80,71.78 L329.44,73.45 L333.13,75.11 L336.89,76.75 L340.69,78.37 L344.55,79.96 L348.46,81.51 L352.43,83.01 L356.44,84.46 L360.51,85.85 L364.62,87.16 L368.79,88.36 L373.00,89.44 L377.26,90.48 L381.57,91.52 L385.93,92.63 L390.33,93.86 L394.78,95.05 L399.28,96.20 L403.82,97.41 L408.40,98.78 L413.03,100.41 L417.70,102.42 L422.42,105.00 L427.18,109.27 L431.98,115.28 L436.82,122.68 L441.71,131.13 L446.64,140.24" stroke="#4169e1" stroke-opacity="0.90" stroke-width="1.00" fill="none" clip-path="url(#cB)"/>
<path d="M248.70,11.40 L249.15,11.93 L249.97,12.89 L251.03,14.13 L252.29,15.58 L253.72,17.19 L255.30,18.93 L257.02,20.76 L258.86,22.64 L260.82,24.55 L262.90,26.51 L265.08,28.53 L267.37,30.59 L269.75,32.68 L272.22,34.78 L274.79,36.89 L277.44,38.99 L280.17,41.07 L282.99,43.12 L285.89,45.14 L288.86,47.13 L291.91,49.09 L295.04,51.03 L298.23,52.95 L301.50,54.86 L304.83,56.77 L308.23,58.69 L311.70,60.63 L315.23,62.60 L318.83,64.63 L322.49,66.72 L326.20,68.86 L329.99,71.05 L333.82,73.26 L337.72,75.48 L341.68,77.68 L345.69,79.85 L349.76,81.97 L353.89,84.01 L358.07,85.95 L362.30,87.76 L366.59,89.42 L370.93,90.99 L375.32,92.46 L379.76,93.85 L384.25,95.16 L388.80,96.41 L393.39,97.50 L398.03,98.42 L402.72,99.24 L407.46,100.10 L412.25,101.08 L417.08,102.33 L421.96,103.99 L426.89,106.57 L431.86,110.19 L436.88,114.75 L441.94,120.16 L447.05,126.29 L452.20,133.03 L457.40,140.24" stroke="#4169e1" stroke-opacity="0.90" stroke-width="1.00" fill="none" clip-path="url(#cB)"/>
<path d="M248.70,11.40 L249.39,12.47 L250.66,14.40 L252.31,16.86 L254.26,19.64 L256.46,22.57 L258.91,25.42 L261.56,28.07 L264.41,30.70 L267.45,33.29 L270.66,35.81 L274.03,38.27 L277.57,40.68 L281.25,43.06 L285.07,45.44 L289.04,47.77 L293.14,50.05 L297.37,52.27 L301.73,54.46 L306.21,56.63 L310.81,58.79 L315.52,60.96 L320.35,63.18 L325.29,65.39 L330.34,67.61 L335.50,69.81 L340.76,72.01 L346.12,74.19 L351.58,76.35 L357.14,78.50 L362.80,80.63 L368.55,82.87 L374.40,85.39 L380.34,87.86 L386.37,89.96 L392.48,91.29 L398.69,91.68 L404.98,91.86 L411.36,91.98 L417.82,92.14 L424.37,92.43 L431.00,92.90 L437.71,93.55 L444.50,94.39 L451.37,95.42 L458.32,96.64 L465.34,98.06 L472.44,99.68 L479.62,101.51 L486.88,103.54 L494.21,105.78 L501.61,108.24 L509.08,110.91 L516.63,113.79 L524.25,116.90 L531.94,120.23 L539.70,123.78 L547.53,127.56 L555.42,131.56 L563.39,135.79 L571.42,140.24" stroke="#4169e1" stroke-opacity="0.90" stroke-width="1.05" fill="none" clip-path="url(#cB)"/>
<path d="M248.70,11.40 L249.42,11.73 L250.73,12.34 L252.43,13.11 L254.45,14.02 L256.73,15.02 L259.26,16.10 L262.01,17.23 L264.96,18.41 L268.10,19.64 L271.42,20.91 L274.91,22.23 L278.57,23.60 L282.38,25.04 L286.34,26.54 L290.44,28.11 L294.68,29.73 L299.06,31.40 L303.57,33.09 L308.20,34.80 L312.96,36.50 L317.84,38.17 L322.84,39.82 L327.95,41.48 L333.17,43.13 L338.51,44.78 L343.95,46.42 L349.50,48.06 L355.15,49.68 L360.90,51.30 L366.76,52.90 L372.71,54.48 L378.76,56.04 L384.90,57.59 L391.14,59.12 L397.47,60.66 L403.89,62.20 L410.40,63.76 L417.00,65.35 L423.69,66.97 L430.46,68.58 L437.32,70.17 L444.26,71.76 L451.29,73.35 L458.39,74.96 L465.58,76.59 L472.85,78.27 L480.20,80.00 L487.63,81.80 L495.13,83.69 L502.72,85.68 L510.37,87.79 L518.11,90.02 L525.92,92.35 L533.80,94.79 L541.76,97.33 L549.78,99.97 L557.89,102.72 L566.06,105.55 L574.30,108.48 L582.61,111.50" stroke="#4169e1" stroke-opacity="0.90" stroke-width="1.05" fill="none" clip-path="url(#cB)"/>
<path d="M248.70,11.40 L248.89,12.04 L249.25,13.22 L249.71,14.75 L250.26,16.54 L250.87,18.56 L251.56,20.77 L252.30,23.12 L253.10,25.57 L253.95,28.09 L254.85,30.63 L255.79,33.13 L256.78,35.54 L257.81,37.81 L258.88,40.03 L260.00,42.23 L261.14,44.39 L262.33,46.53 L263.55,48.62 L264.80,50.69 L266.09,52.72 L267.41,54.74 L268.76,56.75 L270.15,58.76 L271.56,60.79 L273.00,62.85 L274.48,64.97 L275.98,67.16 L277.51,69.44 L279.06,71.86 L280.65,74.41 L282.26,77.07 L283.90,79.79 L285.56,82.54 L287.25,85.28 L288.96,87.97 L290.70,90.56 L292.46,93.00 L294.24,95.30 L296.05,97.54 L297.89,99.72 L299.74,101.85 L301.62,103.94 L303.52,105.98 L305.45,107.99 L307.39,109.97 L309.36,111.94 L311.35,113.89 L313.36,115.79 L315.39,117.57 L317.44,119.28 L319.51,120.93 L321.61,122.57 L323.72,124.23 L325.85,125.95 L328.01,127.77 L330.18,129.72 L332.37,131.86 L334.58,134.24 L336.81,137.11 L339.06,140.24" stroke="#4169e1" stroke-opacity="0.90" stroke-width="1.05" fill="none" clip-path="url(#cB)"/>
<path d="M248.70,11.40 L248.91,12.15 L249.29,13.53 L249.78,15.29 L250.37,17.35 L251.03,19.64 L251.76,22.11 L252.56,24.70 L253.41,27.36 L254.32,30.04 L255.29,32.68 L256.30,35.19 L257.36,37.52 L258.46,39.67 L259.61,41.72 L260.80,43.65 L262.03,45.51 L263.30,47.30 L264.61,49.06 L265.95,50.83 L267.33,52.67 L268.75,54.63 L270.20,56.78 L271.68,59.13 L273.19,61.62 L274.74,64.26 L276.32,67.03 L277.93,69.92 L279.56,72.91 L281.23,75.98 L282.93,79.13 L284.66,82.32 L286.41,85.54 L288.19,88.76 L290.00,91.96 L291.83,95.10 L293.70,98.16 L295.58,101.10 L297.50,103.90 L299.44,106.50 L301.40,108.88 L303.39,111.00 L305.40,112.83 L307.44,114.50 L309.50,116.04 L311.58,117.47 L313.69,118.79 L315.82,120.03 L317.98,121.21 L320.15,122.34 L322.35,123.46 L324.57,124.58 L326.81,125.73 L329.08,126.93 L331.36,128.23 L333.67,129.64 L336.00,131.20 L338.35,132.94 L340.72,134.91 L343.11,137.42 L345.52,140.24" stroke="#4169e1" stroke-opacity="0.90" stroke-width="1.05" fill="none" clip-path="url(#cB)"/>
<path d="M248.70,11.40 L248.91,12.21 L249.28,13.69 L249.77,15.58 L250.34,17.80 L251.00,20.26 L251.72,22.90 L252.51,25.67 L253.35,28.50 L254.25,31.31 L255.20,34.02 L256.20,36.56 L257.24,38.81 L258.33,40.80 L259.47,42.64 L260.64,44.34 L261.85,45.92 L263.11,47.43 L264.40,48.89 L265.72,50.36 L267.08,51.90 L268.48,53.58 L269.91,55.49 L271.37,57.66 L272.87,60.04 L274.39,62.60 L275.95,65.34 L277.54,68.25 L279.15,71.30 L280.80,74.47 L282.47,77.76 L284.18,81.12 L285.91,84.55 L287.66,88.00 L289.45,91.44 L291.26,94.85 L293.10,98.18 L294.96,101.39 L296.85,104.45 L298.76,107.31 L300.70,109.91 L302.66,112.22 L304.65,114.17 L306.66,115.92 L308.69,117.54 L310.75,119.05 L312.83,120.46 L314.93,121.78 L317.05,123.04 L319.20,124.24 L321.37,125.41 L323.56,126.57 L325.77,127.73 L328.01,128.92 L330.26,130.16 L332.54,131.48 L334.83,132.90 L337.15,134.46 L339.49,136.17 L341.85,138.14 L344.23,140.24" stroke="#4169e1" stroke-opacity="0.90" stroke-width="1.05" fill="none" clip-path="url(#cB)"/>
<path d="M248.70,11.40 L249.20,12.18 L250.12,13.61 L251.30,15.45 L252.70,17.62 L254.29,20.07 L256.05,22.77 L257.97,25.70 L260.02,28.81 L262.21,32.11 L264.52,35.57 L266.95,39.19 L269.50,42.93 L272.15,46.81 L274.91,50.81 L277.77,54.92 L280.72,59.14 L283.77,63.46 L286.91,67.86 L290.14,72.34 L293.45,76.90" stroke="#4169e1" stroke-opacity="0.90" stroke-width="1.00" fill="none" clip-path="url(#cB)"/>
<path d="M248.70,11.40 L251.71,21.88 L254.72,27.98 L257.74,33.36 L260.75,38.36 L263.76,43.13 L266.77,47.73 L269.78,52.19 L272.80,56.56 L275.81,60.84 L278.82,65.06 L281.83,69.21 L284.85,73.32 L287.86,77.37 L290.87,81.39 L293.88,85.37 L296.89,89.32 L299.91,93.25 L302.92,97.14 L305.93,101.01 L308.94,104.86 L311.95,108.68 L314.97,112.49 L317.98,116.28 L320.99,120.05 L324.00,123.80 L327.01,127.54 L330.03,131.27 L333.04,134.98 L336.05,138.68 L339.06,142.37" stroke="#b8860b" stroke-opacity="0.90" stroke-width="1.30" fill="none" clip-path="url(#cB)"/>
<path d="M248.70,11.40 L252.01,20.05 L255.33,25.64 L258.64,30.72 L261.95,35.55 L265.27,40.20 L268.58,44.74 L271.89,49.19 L275.21,53.56 L278.52,57.88 L281.83,62.15 L285.15,66.38 L288.46,70.57 L291.77,74.73 L295.09,78.87 L298.40,82.97 L301.71,87.06 L305.03,91.12 L308.34,95.17 L311.65,99.20 L314.97,103.21 L318.28,107.21 L321.59,111.20 L324.91,115.17 L328.22,119.13 L331.53,123.08 L334.85,127.02 L338.16,130.94 L341.47,134.86 L344.79,138.77 L348.10,142.68" stroke="#b8860b" stroke-opacity="0.90" stroke-width="1.50" fill="none" clip-path="url(#cB)"/>
<path d="M248.70,11.40 L251.94,20.70 L255.18,26.47 L258.41,31.66 L261.65,36.55 L264.89,41.25 L268.13,45.80 L271.37,50.26 L274.60,54.63 L277.84,58.94 L281.08,63.19 L284.32,67.39 L287.56,71.55 L290.79,75.67 L294.03,79.77 L297.27,83.83 L300.51,87.87 L303.75,91.88 L306.98,95.87 L310.22,99.84 L313.46,103.80 L316.70,107.73 L319.94,111.66 L323.17,115.56 L326.41,119.46 L329.65,123.34 L332.89,127.20 L336.13,131.06 L339.36,134.91 L342.60,138.74 L345.84,142.57" stroke="#b8860b" stroke-opacity="0.90" stroke-width="1.40" fill="none" clip-path="url(#cB)"/>
<path d="M248.70,11.40 L252.39,23.28 L256.08,29.77 L259.77,35.37 L263.46,40.52 L267.15,45.37 L270.84,50.01 L274.53,54.49 L278.22,58.85 L281.91,63.11 L285.60,67.28 L289.29,71.38 L292.98,75.41 L296.67,79.39 L300.36,83.32 L304.05,87.21 L307.74,91.06 L311.43,94.87 L315.12,98.64 L318.81,102.39 L322.50,106.11 L326.19,109.81 L329.88,113.48 L333.57,117.12 L337.26,120.75 L340.95,124.36 L344.64,127.95 L348.33,131.52 L352.02,135.08 L355.70,138.62 L359.39,142.14" stroke="#b8860b" stroke-opacity="0.90" stroke-width="1.15" fill="none" clip-path="url(#cB)"/>
<path d="M248.70,11.40 L252.77,25.22 L256.83,32.26 L260.90,38.17 L264.97,43.51 L269.03,48.48 L273.10,53.18 L277.16,57.69 L281.23,62.03 L285.30,66.25 L289.36,70.37 L293.43,74.39 L297.50,78.33 L301.56,82.20 L305.63,86.01 L309.70,89.76 L313.76,93.46 L317.83,97.12 L321.89,100.74 L325.96,104.31 L330.03,107.86 L334.09,111.37 L338.16,114.85 L342.23,118.30 L346.29,121.73 L350.36,125.13 L354.42,128.51 L358.49,131.87 L362.56,135.20 L366.62,138.52 L370.69,141.82" stroke="#b8860b" stroke-opacity="0.90" stroke-width="1.15" fill="none" clip-path="url(#cB)"/>
<path d="M248.70,11.40 L253.07,26.38 L257.44,33.74 L261.80,39.84 L266.17,45.29 L270.54,50.33 L274.91,55.07 L279.27,59.59 L283.64,63.93 L288.01,68.13 L292.38,72.20 L296.74,76.18 L301.11,80.06 L305.48,83.87 L309.85,87.60 L314.21,91.28 L318.58,94.89 L322.95,98.46 L327.32,101.98 L331.68,105.46 L336.05,108.90 L340.42,112.30 L344.79,115.67 L349.15,119.00 L353.52,122.31 L357.89,125.59 L362.26,128.84 L366.62,132.07 L370.99,135.28 L375.36,138.46 L379.73,141.62" stroke="#b8860b" stroke-opacity="0.90" stroke-width="1.15" fill="none" clip-path="url(#cB)"/>
<path d="M248.70,11.40 L249.00,12.30 L249.56,13.94 L250.28,16.00 L251.13,18.13 L252.10,19.88 L253.16,21.16 L254.32,22.31 L255.57,23.34 L256.90,24.27 L258.30,25.15 L259.78,26.05 L261.32,27.09 L262.93,28.30 L264.61,29.59 L266.34,30.94 L268.14,32.36 L269.99,33.83 L271.89,35.36 L273.85,36.93 L275.86,38.55 L277.92,40.20 L280.04,41.87 L282.20,43.57 L284.41,45.27 L286.66,46.97 L288.96,48.65 L291.31,50.32 L293.69,51.94 L296.13,53.51 L298.60,55.01 L301.12,56.42 L303.67,57.74 L306.27,58.95 L308.91,60.08 L311.58,61.13 L314.30,62.12 L317.05,63.05 L319.84,63.93 L322.66,64.77 L325.53,65.58 L328.42,66.37 L331.36,67.15 L334.33,67.93 L337.33,68.73 L340.37,69.57 L343.44,70.46 L346.55,71.42 L349.69,72.47 L352.86,73.62 L356.07,74.89 L359.30,76.32 L362.57,77.91 L365.87,79.75 L369.21,82.07 L372.57,84.83 L375.96,87.98 L379.39,91.44 L382.84,95.13 L386.32,98.99 L389.84,102.93" stroke="#f5cf1a" stroke-opacity="0.90" stroke-width="1.15" fill="none" clip-path="url(#cB)"/>
<path d="M248.70,11.40 L249.00,12.22 L249.56,13.71 L250.28,15.58 L251.13,17.57 L252.10,19.36 L253.16,20.86 L254.32,22.28 L255.57,23.62 L256.90,24.88 L258.30,26.09 L259.78,27.31 L261.32,28.61 L262.93,30.03 L264.61,31.51 L266.34,33.03 L268.14,34.60 L269.99,36.21 L271.89,37.85 L273.85,39.52 L275.86,41.22 L277.92,42.93 L280.04,44.65 L282.20,46.38 L284.41,48.10 L286.66,49.82 L288.96,51.51 L291.31,53.18 L293.69,54.82 L296.13,56.41 L298.60,57.94 L301.12,59.41 L303.67,60.81 L306.27,62.12 L308.91,63.36 L311.58,64.52 L314.30,65.63 L317.05,66.68 L319.84,67.68 L322.66,68.65 L325.53,69.58 L328.42,70.49 L331.36,71.39 L334.33,72.30 L337.33,73.22 L340.37,74.17 L343.44,75.17 L346.55,76.23 L349.69,77.36 L352.86,78.60 L356.07,79.94 L359.30,81.42 L362.57,83.06 L365.87,84.90 L369.21,87.07 L372.57,89.55 L375.96,92.30 L379.39,95.27 L382.84,98.41 L386.32,101.68 L389.84,105.03" stroke="#f5cf1a" stroke-opacity="0.90" stroke-width="1.15" fill="none" clip-path="url(#cB)"/>
<path d="M248.70,11.40 L249.00,12.28 L249.56,13.89 L250.28,15.90 L251.13,18.09 L252.10,20.15 L253.16,22.01 L254.32,23.83 L255.57,25.60 L256.90,27.31 L258.30,28.96 L259.78,30.58 L261.32,32.20 L262.93,33.87 L264.61,35.57 L266.34,37.32 L268.14,39.08 L269.99,40.87 L271.89,42.68 L273.85,44.49 L275.86,46.31 L277.92,48.12 L280.04,49.93 L282.20,51.73 L284.41,53.51 L286.66,55.26 L288.96,56.98 L291.31,58.67 L293.69,60.31 L296.13,61.90 L298.60,63.44 L301.12,64.91 L303.67,66.32 L306.27,67.65 L308.91,68.90 L311.58,70.08 L314.30,71.20 L317.05,72.25 L319.84,73.26 L322.66,74.22 L325.53,75.15 L328.42,76.05 L331.36,76.95 L334.33,77.84 L337.33,78.75 L340.37,79.68 L343.44,80.66 L346.55,81.69 L349.69,82.80 L352.86,84.01 L356.07,85.33 L359.30,86.78 L362.57,88.38 L365.87,90.18 L369.21,92.29 L372.57,94.69 L375.96,97.34 L379.39,100.19 L382.84,103.21 L386.32,106.36 L389.84,109.57" stroke="#f5cf1a" stroke-opacity="0.90" stroke-width="1.15" fill="none" clip-path="url(#cB)"/>
<path d="M248.70,11.40 L249.00,12.47 L249.55,14.42 L250.26,16.86 L251.11,19.41 L252.06,21.55 L253.12,23.13 L254.27,24.57 L255.51,25.87 L256.82,27.05 L258.22,28.16 L259.68,29.28 L261.21,30.53 L262.80,31.98 L264.46,33.49 L266.18,35.05 L267.96,36.66 L269.79,38.31 L271.68,40.01 L273.62,41.74 L275.61,43.50 L277.66,45.30 L279.75,47.12 L281.89,48.96 L284.08,50.81 L286.31,52.68 L288.59,54.55 L290.92,56.41 L293.28,58.27 L295.69,60.12 L298.14,61.94 L300.64,63.74 L303.17,65.50 L305.74,67.22 L308.35,68.90 L311.01,70.54 L313.70,72.15 L316.42,73.72 L319.19,75.27 L321.99,76.79 L324.82,78.30 L327.70,79.79 L330.60,81.28 L333.55,82.77 L336.52,84.27 L339.53,85.79 L342.58,87.34 L345.66,88.92 L348.77,90.55 L351.91,92.24 L355.09,93.99 L358.29,95.83 L361.53,97.76 L364.80,99.79 L368.10,101.94 L371.44,104.18 L374.80,106.51 L378.19,108.93 L381.61,111.42 L385.07,113.96 L388.55,116.56" stroke="#f5cf1a" stroke-opacity="0.90" stroke-width="1.15" fill="none" clip-path="url(#cB)"/>
<path d="M248.70,11.40 L249.00,12.44 L249.55,14.34 L250.26,16.71 L251.11,19.25 L252.06,21.56 L253.12,23.48 L254.27,25.31 L255.51,27.03 L256.82,28.66 L258.22,30.21 L259.68,31.78 L261.21,33.44 L262.80,35.25 L264.46,37.12 L266.18,39.04 L267.96,40.99 L269.79,42.98 L271.68,45.00 L273.62,47.05 L275.61,49.12 L277.66,51.21 L279.75,53.32 L281.89,55.45 L284.08,57.58 L286.31,59.72 L288.59,61.87 L290.92,64.02 L293.28,66.17 L295.69,68.32 L298.14,70.47 L300.64,72.60 L303.17,74.73 L305.74,76.85 L308.35,78.92 L311.01,80.94 L313.70,82.92 L316.42,84.86 L319.19,86.78 L321.99,88.67 L324.82,90.55 L327.70,92.42 L330.60,94.29 L333.55,96.17 L336.52,98.07 L339.53,100.00 L342.58,101.98 L345.66,104.02 L348.77,106.13 L351.91,108.32 L355.09,110.61 L358.29,113.02 L361.53,115.56 L364.80,118.26 L368.10,121.23 L371.44,124.46 L374.80,127.83 L378.19,131.26 L381.61,134.63 L385.07,137.84 L388.55,140.87" stroke="#f5cf1a" stroke-opacity="0.90" stroke-width="1.15" fill="none" clip-path="url(#cB)"/>
<path d="M248.70,11.40 L249.00,12.37 L249.55,14.12 L250.26,16.32 L251.11,18.70 L252.06,20.93 L253.12,22.86 L254.27,24.73 L255.51,26.50 L256.82,28.20 L258.22,29.85 L259.68,31.52 L261.21,33.30 L262.80,35.25 L264.46,37.28 L266.18,39.36 L267.96,41.51 L269.79,43.71 L271.68,45.96 L273.62,48.25 L275.61,50.58 L277.66,52.93 L279.75,55.32 L281.89,57.72 L284.08,60.14 L286.31,62.56 L288.59,64.98 L290.92,67.39 L293.28,69.79 L295.69,72.16 L298.14,74.49 L300.64,76.79 L303.17,79.03 L305.74,81.22 L308.35,83.35 L311.01,85.43 L313.70,87.46 L316.42,89.44 L319.19,91.39 L321.99,93.30 L324.82,95.19 L327.70,97.06 L330.60,98.92 L333.55,100.78 L336.52,102.64 L339.53,104.52 L342.58,106.43 L345.66,108.38 L348.77,110.39 L351.91,112.46 L355.09,114.61 L358.29,116.85 L361.53,119.21 L364.80,121.69 L368.10,124.38 L371.44,127.25 L374.80,130.19 L378.19,133.11 L381.61,135.90 L385.07,138.48 L388.55,140.87" stroke="#f5cf1a" stroke-opacity="0.90" stroke-width="1.15" fill="none" clip-path="url(#cB)"/>
<path d="M248.70,11.40 L249.00,12.55 L249.55,14.63 L250.26,17.25 L251.11,20.05 L252.06,22.61 L253.12,24.76 L254.27,26.82 L255.51,28.76 L256.82,30.59 L258.22,32.36 L259.68,34.13 L261.21,36.02 L262.80,38.09 L264.46,40.24 L266.18,42.45 L267.96,44.73 L269.79,47.06 L271.68,49.44 L273.62,51.86 L275.61,54.32 L277.66,56.80 L279.75,59.31 L281.89,61.83 L284.08,64.35 L286.31,66.87 L288.59,69.37 L290.92,71.85 L293.28,74.30 L295.69,76.70 L298.14,79.05 L300.64,81.33 L303.17,83.54 L305.74,85.66 L308.35,87.71 L311.01,89.69 L313.70,91.62 L316.42,93.48 L319.19,95.30 L321.99,97.08 L324.82,98.82 L327.70,100.53 L330.60,102.22 L333.55,103.91 L336.52,105.60 L339.53,107.30 L342.58,109.03 L345.66,110.80 L348.77,112.63 L351.91,114.52 L355.09,116.50 L358.29,118.59 L361.53,120.79 L364.80,123.14 L368.10,125.76 L371.44,128.58 L374.80,131.47 L378.19,134.26 L381.61,136.78 L385.07,138.95 L388.55,140.87" stroke="#f5cf1a" stroke-opacity="0.90" stroke-width="1.15" fill="none" clip-path="url(#cB)"/>
<path d="M248.70,11.40 L249.01,12.69 L249.59,15.06 L250.34,17.99 L251.22,21.05 L252.22,23.64 L253.33,25.73 L254.53,27.65 L255.82,29.42 L257.20,31.05 L258.65,32.64 L260.18,34.31 L261.79,36.24 L263.45,38.39 L265.19,40.66 L266.99,43.03 L268.85,45.51 L270.76,48.08 L272.74,50.73 L274.77,53.46 L276.86,56.26 L278.99,59.10 L281.18,61.99 L283.42,64.89 L285.71,67.81 L288.05,70.71 L290.43,73.58 L292.86,76.39 L295.34,79.14 L297.86,81.78 L300.43,84.29 L303.03,86.65 L305.68,88.86 L308.38,91.00 L311.11,93.09 L313.88,95.14 L316.70,97.15 L319.55,99.12 L322.44,101.04 L325.37,102.92 L328.34,104.77 L331.34,106.58 L334.38,108.36 L337.46,110.12 L340.58,111.85 L343.73,113.56 L346.91,115.26 L350.13,116.96 L353.39,118.65 L356.67,120.35 L360.00,122.06 L363.35,123.80 L366.74,125.45 L370.16,126.87 L373.61,128.15 L377.10,129.40 L380.62,130.75 L384.17,132.31 L387.75,134.22 L391.36,136.62 L395.00,140.87" stroke="#f5cf1a" stroke-opacity="0.90" stroke-width="1.15" fill="none" clip-path="url(#cB)"/>
<path d="M248.70,11.40 L249.01,12.72 L249.59,15.13 L250.34,18.13 L251.22,21.25 L252.22,23.85 L253.33,25.94 L254.53,27.85 L255.82,29.58 L257.20,31.19 L258.65,32.75 L260.18,34.41 L261.79,36.34 L263.45,38.52 L265.19,40.81 L266.99,43.23 L268.85,45.75 L270.76,48.39 L272.74,51.11 L274.77,53.92 L276.86,56.80 L278.99,59.74 L281.18,62.73 L283.42,65.74 L285.71,68.77 L288.05,71.78 L290.43,74.77 L292.86,77.70 L295.34,80.54 L297.86,83.29 L300.43,85.89 L303.03,88.33 L305.68,90.60 L308.38,92.83 L311.11,95.02 L313.88,97.19 L316.70,99.32 L319.55,101.41 L322.44,103.47 L325.37,105.49 L328.34,107.47 L331.34,109.41 L334.38,111.31 L337.46,113.18 L340.58,115.00 L343.73,116.77 L346.91,118.51 L350.13,120.21 L353.39,121.86 L356.67,123.48 L360.00,125.06 L363.35,126.59 L366.74,128.00 L370.16,129.13 L373.61,130.09 L377.10,131.00 L380.62,131.98 L384.17,133.17 L387.75,134.69 L391.36,136.69 L395.00,140.87" stroke="#f5cf1a" stroke-opacity="0.90" stroke-width="1.15" fill="none" clip-path="url(#cB)"/>
<path d="M248.70,11.40 L249.01,11.86 L249.56,12.71 L250.29,13.81 L251.14,15.10 L252.12,16.57 L253.19,18.17 L254.36,19.88 L255.61,21.68 L256.95,23.53 L258.36,25.41 L259.85,27.26 L261.40,29.06 L263.02,30.81 L264.70,32.57 L266.45,34.35 L268.25,36.14 L270.12,37.93 L272.03,39.73 L274.00,41.52 L276.03,43.30 L278.10,45.08 L280.23,46.86 L282.40,48.63 L284.62,50.39 L286.89,52.16 L289.21,53.92 L291.57,55.68 L293.97,57.44 L296.42,59.22 L298.90,61.01 L301.44,62.83 L304.01,64.67 L306.62,66.49 L309.27,68.25 L311.96,69.95 L314.70,71.61 L317.46,73.24 L320.27,74.86 L323.11,76.48 L325.99,78.14 L328.91,79.84 L331.86,81.62 L334.85,83.50 L337.87,85.50 L340.93,87.66 L344.02,90.00 L347.15,92.66 L350.31,95.61 L353.50,98.76 L356.72,102.02 L359.98,105.28 L363.27,108.43 L366.59,111.40 L369.94,114.25 L373.32,117.08 L376.74,119.98 L380.18,123.05 L383.66,126.40 L387.16,130.07 L390.70,133.96" stroke="#f5cf1a" stroke-opacity="0.90" stroke-width="1.25" fill="none" clip-path="url(#cB)"/>
<path d="M248.70,11.40 L249.59,40.41 L250.47,58.51 L251.36,74.80 L252.25,90.17 L253.14,104.94 L254.02,119.29 L254.91,133.32 L255.80,147.10" stroke="#b22222" stroke-opacity="0.90" stroke-width="1.30" fill="none" clip-path="url(#cB)"/>
<path d="M248.70,11.40 L249.88,40.41 L251.07,58.51 L252.25,74.80 L253.43,90.17 L254.62,104.94 L255.80,119.29 L256.98,133.32 L258.17,147.10" stroke="#b22222" stroke-opacity="0.90" stroke-width="1.60" fill="none" clip-path="url(#cB)"/>
<path d="M248.70,11.40 L250.30,40.41 L251.89,58.51 L253.49,74.80 L255.09,90.17 L256.69,104.94 L258.28,119.29 L259.88,133.32 L261.48,147.10" stroke="#b22222" stroke-opacity="0.90" stroke-width="1.30" fill="none" clip-path="url(#cB)"/>
<path d="M40.10,293.78 L40.36,293.41 L40.74,293.04 L41.19,292.41 L41.69,291.86 L42.22,291.32 L42.79,290.57 L43.38,290.11 L44.00,289.37 L44.65,288.86 L45.32,288.34 L46.00,287.72 L46.71,287.25 L47.44,286.77 L48.18,286.37 L48.94,285.80 L49.71,285.40 L50.50,285.13 L51.30,284.76 L52.12,284.16 L52.94,283.94 L53.79,283.70 L54.64,283.41 L55.50,283.06 L56.38,282.99 L57.27,282.79 L58.17,282.57 L59.07,282.50 L59.99,282.29 L60.92,282.09 L61.86,281.99 L62.81,281.91 L63.76,281.78 L64.73,281.74 L65.70,281.55 L66.69,281.44 L67.68,281.35 L68.68,281.27 L69.69,281.12 L70.70,281.15 L71.73,280.94 L72.76,280.80 L73.80,280.93 L74.85,280.80 L75.90,280.55 L76.96,280.69 L78.03,280.44 L79.10,280.43 L80.19,280.48 L81.28,280.28 L82.37,280.35 L83.47,279.84 L84.58,280.28 L85.70,279.64 L86.82,279.59 L87.95,280.23 L89.08,279.90 L90.22,280.06 L91.37,279.42 L92.52,279.96 L93.68,279.91 L94.84,279.79 L96.01,279.03 L97.19,279.52 L98.37,279.38 L99.55,279.19 L100.74,279.02 L101.94,279.07 L103.14,278.51 L104.35,279.00 L105.57,278.80 L106.78,278.37 L108.01,278.88 L109.24,278.88 L110.47,278.19 L111.71,278.61 L112.95,278.01 L114.20,278.01 L115.45,278.37 L116.71,278.34 L117.98,278.50 L119.24,277.72 L120.52,278.07 L121.79,278.10 L123.08,278.21 L124.36,278.11 L125.65,277.45 L126.95,278.10 L128.25,277.66 L129.55,277.55 L130.86,277.61 L132.17,277.58 L133.49,277.64 L134.81,277.80 L136.14,277.48" stroke="#b3c6e0" stroke-opacity="0.90" stroke-width="1.15" fill="none" clip-path="url(#cC)"/>
<path d="M40.10,293.78 L40.36,293.46 L40.74,293.09 L41.19,292.76 L41.69,292.39 L42.22,291.77 L42.79,291.46 L43.38,290.99 L44.00,290.42 L44.65,289.93 L45.32,289.57 L46.00,289.32 L46.71,288.80 L47.44,288.68 L48.18,288.33 L48.94,287.89 L49.71,287.66 L50.50,287.40 L51.30,287.30 L52.12,286.88 L52.94,286.76 L53.79,286.65 L54.64,286.28 L55.50,286.07 L56.38,286.13 L57.27,285.89 L58.17,285.65 L59.07,285.66 L59.99,285.53 L60.92,285.30 L61.86,285.26 L62.81,285.01 L63.76,284.93 L64.73,284.82 L65.70,284.75 L66.69,284.77 L67.68,284.55 L68.68,284.48 L69.69,284.41 L70.70,284.30 L71.73,284.27 L72.76,284.21 L73.80,283.96 L74.85,284.00 L75.90,283.98 L76.96,283.70 L78.03,283.73 L79.10,283.61 L80.19,283.61 L81.28,283.57 L82.37,283.45 L83.47,283.03 L84.58,283.47 L85.70,282.79 L86.82,283.27 L87.95,282.64 L89.08,283.22 L90.22,282.88 L91.37,283.08 L92.52,282.98 L93.68,282.54 L94.84,282.60 L96.01,282.35 L97.19,282.56 L98.37,282.38 L99.55,282.28 L100.74,281.66 L101.94,282.33 L103.14,281.93 L104.35,281.43 L105.57,281.61 L106.78,281.82 L108.01,281.04 L109.24,281.78 L110.47,281.67 L111.71,281.70 L112.95,281.22 L114.20,280.75 L115.45,281.20 L116.71,281.12 L117.98,280.56 L119.24,281.15 L120.52,281.13 L121.79,280.45 L123.08,280.91 L124.36,280.42 L125.65,280.70 L126.95,280.20 L128.25,279.90 L129.55,280.20 L130.86,280.29 L132.17,279.90 L133.49,279.76 L134.81,280.29 L136.14,279.81" stroke="#b3c6e0" stroke-opacity="0.90" stroke-width="1.15" fill="none" clip-path="url(#cC)"/>
<path d="M40.10,293.78 L40.36,293.42 L40.74,292.74 L41.19,291.96 L41.69,291.22 L42.22,290.24 L42.79,289.47 L43.38,288.34 L44.00,287.58 L44.65,286.68 L45.32,285.80 L46.00,284.87 L46.71,283.93 L47.44,282.79 L48.18,281.98 L48.94,280.99 L49.71,279.86 L50.50,278.88 L51.30,278.00 L52.12,277.24 L52.94,276.35 L53.79,275.48 L54.64,274.83 L55.50,274.17 L56.38,273.70 L57.27,273.25 L58.17,272.69 L59.07,272.35 L59.99,272.05 L60.92,271.71 L61.86,271.36 L62.81,271.05 L63.76,270.98 L64.73,270.46 L65.70,270.32 L66.69,270.11 L67.68,269.67 L68.68,269.48 L69.69,269.34 L70.70,269.17 L71.73,268.76 L72.76,268.44 L73.80,268.13 L74.85,267.85 L75.90,267.33 L76.96,267.04 L78.03,266.48 L79.10,266.15 L80.19,265.82 L81.28,265.24 L82.37,264.95 L83.47,265.05 L84.58,264.41 L85.70,264.32 L86.82,263.49 L87.95,262.55 L89.08,262.20 L90.22,262.25 L91.37,262.57 L92.52,262.16 L93.68,261.91 L94.84,261.40 L96.01,260.77 L97.19,261.23 L98.37,260.35 L99.55,260.13 L100.74,259.55 L101.94,259.05 L103.14,259.29 L104.35,258.75 L105.57,258.87 L106.78,258.36 L108.01,257.86 L109.24,258.31 L110.47,257.46 L111.71,257.21 L112.95,257.35 L114.20,257.01 L115.45,256.04 L116.71,256.38 L117.98,256.34 L119.24,255.99 L120.52,255.47 L121.79,255.40 L123.08,255.25 L124.36,255.08 L125.65,255.01 L126.95,254.47 L128.25,254.17 L129.55,254.64 L130.86,253.85 L132.17,254.05 L133.49,253.08 L134.81,253.00 L136.14,253.43" stroke="#b3c6e0" stroke-opacity="0.90" stroke-width="1.15" fill="none" clip-path="url(#cC)"/>
<path d="M40.10,293.78 L40.35,293.99 L40.72,294.09 L41.15,294.40 L41.62,294.71 L42.14,294.84 L42.68,295.12 L43.25,295.44 L43.85,295.77 L44.47,296.00 L45.11,296.39 L45.77,296.66 L46.45,296.95 L47.15,297.21 L47.86,297.54 L48.59,297.98 L49.33,298.34 L50.09,298.62 L50.86,298.95 L51.64,299.32 L52.44,299.52 L53.25,299.79 L54.07,300.05 L54.90,300.24 L55.74,300.31 L56.59,300.44 L57.45,300.31 L58.33,300.44 L59.21,300.29 L60.10,300.34 L61.00,300.40 L61.91,300.40 L62.83,300.31 L63.76,300.33 L64.70,300.27 L65.64,300.37 L66.59,300.20 L67.55,300.27 L68.52,300.25 L69.50,300.18 L70.48,300.18 L71.47,300.19 L72.47,300.20 L73.48,300.15 L74.49,300.21 L75.51,300.15 L76.54,300.01 L77.57,300.12 L78.61,300.10 L79.66,299.92 L80.71,299.98 L81.77,299.92 L82.83,299.87 L83.90,299.67 L84.98,299.94 L86.06,299.54 L87.15,300.09 L88.25,299.38 L89.35,299.73 L90.46,299.42 L91.57,299.58 L92.69,299.13 L93.81,299.31 L94.94,299.00 L96.07,299.08 L97.21,298.53 L98.36,298.41 L99.51,298.68 L100.66,298.07 L101.82,297.74 L102.99,298.10 L104.16,297.93 L105.34,297.16 L106.52,296.93 L107.70,297.37 L108.89,296.67 L110.09,296.34 L111.29,296.66 L112.49,296.06 L113.70,296.25 L114.91,295.68 L116.13,295.71 L117.35,295.55 L118.58,295.62 L119.81,295.02 L121.05,294.78 L122.29,294.90 L123.53,294.89 L124.78,294.65 L126.03,294.32 L127.29,293.54 L128.55,293.53 L129.82,293.20 L131.09,293.10 L132.36,293.36 L133.64,292.95 L134.92,292.29 L136.21,292.14 L137.50,291.81 L138.79,291.72 L140.09,291.58 L141.39,291.31 L142.70,290.96 L144.01,291.10 L145.32,291.17 L146.64,290.71 L147.96,290.70 L149.28,290.26 L150.61,289.77 L151.94,289.59" stroke="#b3c6e0" stroke-opacity="0.90" stroke-width="1.70" fill="none" clip-path="url(#cC)"/>
<path d="M40.10,293.78 L40.35,293.95 L40.72,294.13 L41.15,294.36 L41.62,294.54 L42.14,294.74 L42.68,294.98 L43.25,295.16 L43.85,295.59 L44.47,295.81 L45.11,296.09 L45.77,296.18 L46.45,296.47 L47.15,296.72 L47.86,296.95 L48.59,297.38 L49.33,297.49 L50.09,297.88 L50.86,298.10 L51.64,298.40 L52.44,298.58 L53.25,298.88 L54.07,299.07 L54.90,299.21 L55.74,299.19 L56.59,299.27 L57.45,299.32 L58.33,299.28 L59.21,299.24 L60.10,299.27 L61.00,299.22 L61.91,299.16 L62.83,299.19 L63.76,299.14 L64.70,299.23 L65.64,299.10 L66.59,299.07 L67.55,299.14 L68.52,299.22 L69.50,299.19 L70.48,299.04 L71.47,299.00 L72.47,299.00 L73.48,299.03 L74.49,299.00 L75.51,299.06 L76.54,298.94 L77.57,298.84 L78.61,298.96 L79.66,298.85 L80.71,298.77 L81.77,298.77 L82.83,298.79 L83.90,298.93 L84.98,298.50 L86.06,298.30 L87.15,298.29 L88.25,298.60 L89.35,298.28 L90.46,298.16 L91.57,298.41 L92.69,298.02 L93.81,298.19 L94.94,298.21 L96.07,298.23 L97.21,297.53 L98.36,297.35 L99.51,297.74 L100.66,297.55 L101.82,297.18 L102.99,297.08 L104.16,296.49 L105.34,296.72 L106.52,296.22 L107.70,296.05 L108.89,296.02 L110.09,295.44 L111.29,295.57 L112.49,295.33 L113.70,295.03 L114.91,295.06 L116.13,295.05 L117.35,294.28 L118.58,294.25 L119.81,294.23 L121.05,294.08 L122.29,293.80 L123.53,293.87 L124.78,293.85 L126.03,293.29 L127.29,292.82 L128.55,293.25 L129.82,292.37 L131.09,292.64 L132.36,291.96 L133.64,291.93 L134.92,292.12 L136.21,291.96 L137.50,291.23 L138.79,290.95 L140.09,290.87 L141.39,290.83 L142.70,290.65 L144.01,290.24 L145.32,290.00 L146.64,289.77 L147.96,289.97 L149.28,289.32 L150.61,289.00 L151.94,289.12" stroke="#b3c6e0" stroke-opacity="0.90" stroke-width="1.70" fill="none" clip-path="url(#cC)"/>
<path d="M40.10,293.78 L40.35,293.87 L40.72,294.13 L41.15,294.26 L41.62,294.36 L42.14,294.60 L42.68,294.71 L43.25,294.97 L43.85,295.17 L44.47,295.49 L45.11,295.62 L45.77,295.78 L46.45,295.93 L47.15,296.13 L47.86,296.47 L48.59,296.63 L49.33,296.76 L50.09,297.15 L50.86,297.36 L51.64,297.54 L52.44,297.62 L53.25,297.86 L54.07,297.92 L54.90,298.00 L55.74,298.07 L56.59,298.23 L57.45,298.10 L58.33,298.08 L59.21,298.09 L60.10,298.05 L61.00,298.06 L61.91,298.09 L62.83,298.03 L63.76,298.08 L64.70,298.15 L65.64,298.10 L66.59,297.96 L67.55,298.06 L68.52,298.01 L69.50,297.92 L70.48,297.93 L71.47,297.89 L72.47,297.94 L73.48,297.91 L74.49,297.97 L75.51,297.92 L76.54,297.91 L77.57,297.81 L78.61,297.78 L79.66,297.84 L80.71,297.70 L81.77,297.76 L82.83,297.67 L83.90,297.97 L84.98,297.58 L86.06,297.79 L87.15,297.12 L88.25,297.52 L89.35,297.10 L90.46,297.33 L91.57,297.34 L92.69,296.84 L93.81,297.18 L94.94,296.87 L96.07,296.65 L97.21,296.23 L98.36,296.31 L99.51,296.67 L100.66,296.19 L101.82,295.64 L102.99,295.54 L104.16,295.74 L105.34,295.75 L106.52,295.46 L107.70,294.90 L108.89,295.17 L110.09,294.44 L111.29,294.75 L112.49,294.25 L113.70,294.08 L114.91,294.27 L116.13,293.89 L117.35,293.63 L118.58,293.75 L119.81,293.37 L121.05,293.13 L122.29,292.70 L123.53,293.04 L124.78,292.95 L126.03,292.52 L127.29,292.27 L128.55,292.18 L129.82,291.66 L131.09,292.03 L132.36,291.61 L133.64,291.45 L134.92,291.48 L136.21,291.09 L137.50,290.90 L138.79,290.77 L140.09,290.26 L141.39,289.90 L142.70,289.72 L144.01,290.10 L145.32,289.78 L146.64,289.13 L147.96,289.60 L149.28,289.39 L150.61,289.20 L151.94,288.66" stroke="#b3c6e0" stroke-opacity="0.90" stroke-width="1.70" fill="none" clip-path="url(#cC)"/>
<path d="M40.10,293.78 L40.35,293.77 L40.72,293.98 L41.15,294.13 L41.62,294.35 L42.14,294.35 L42.68,294.49 L43.25,294.72 L43.85,294.84 L44.47,295.07 L45.11,295.28 L45.77,295.45 L46.45,295.57 L47.15,295.74 L47.86,295.85 L48.59,296.07 L49.33,296.22 L50.09,296.21 L50.86,296.36 L51.64,296.51 L52.44,296.72 L53.25,296.82 L54.07,296.89 L54.90,296.92 L55.74,297.05 L56.59,297.02 L57.45,297.01 L58.33,296.95 L59.21,297.04 L60.10,297.10 L61.00,297.02 L61.91,296.92 L62.83,297.04 L63.76,296.94 L64.70,297.02 L65.64,296.98 L66.59,296.90 L67.55,296.98 L68.52,296.90 L69.50,296.85 L70.48,296.87 L71.47,296.78 L72.47,296.74 L73.48,296.83 L74.49,296.72 L75.51,296.70 L76.54,296.71 L77.57,296.68 L78.61,296.65 L79.66,296.59 L80.71,296.57 L81.77,296.61 L82.83,296.50 L83.90,296.32 L84.98,296.47 L86.06,296.09 L87.15,296.49 L88.25,296.25 L89.35,296.18 L90.46,296.09 L91.57,296.33 L92.69,295.87 L93.81,296.19 L94.94,295.76 L96.07,295.70 L97.21,295.38 L98.36,295.12 L99.51,294.87 L100.66,295.31 L101.82,294.62 L102.99,294.80 L104.16,294.61 L105.34,294.81 L106.52,294.00 L107.70,294.32 L108.89,294.12 L110.09,293.93 L111.29,293.82 L112.49,293.62 L113.70,293.47 L114.91,293.12 L116.13,293.10 L117.35,292.64 L118.58,292.35 L119.81,292.19 L121.05,292.46 L122.29,292.07 L123.53,291.87 L124.78,291.71 L126.03,291.80 L127.29,291.80 L128.55,291.19 L129.82,291.10 L131.09,291.17 L132.36,290.76 L133.64,291.05 L134.92,290.32 L136.21,290.06 L137.50,289.83 L138.79,290.32 L140.09,289.70 L141.39,289.45 L142.70,289.76 L144.01,289.22 L145.32,289.36 L146.64,289.16 L147.96,289.12 L149.28,288.74 L150.61,288.11 L151.94,288.19" stroke="#b3c6e0" stroke-opacity="0.90" stroke-width="1.70" fill="none" clip-path="url(#cC)"/>
<path d="M40.10,293.78 L40.35,293.82 L40.72,293.87 L41.15,293.94 L41.62,294.22 L42.14,294.20 L42.68,294.31 L43.25,294.48 L43.85,294.67 L44.47,294.81 L45.11,294.87 L45.77,294.99 L46.45,295.10 L47.15,295.10 L47.86,295.20 L48.59,295.37 L49.33,295.47 L50.09,295.50 L50.86,295.54 L51.64,295.62 L52.44,295.70 L53.25,295.71 L54.07,295.79 L54.90,295.89 L55.74,295.85 L56.59,295.87 L57.45,295.94 L58.33,295.97 L59.21,295.92 L60.10,295.85 L61.00,295.83 L61.91,295.91 L62.83,295.85 L63.76,295.93 L64.70,295.82 L65.64,295.83 L66.59,295.75 L67.55,295.72 L68.52,295.86 L69.50,295.66 L70.48,295.80 L71.47,295.62 L72.47,295.60 L73.48,295.73 L74.49,295.69 L75.51,295.70 L76.54,295.53 L77.57,295.53 L78.61,295.46 L79.66,295.46 L80.71,295.51 L81.77,295.39 L82.83,295.44 L83.90,295.50 L84.98,295.38 L86.06,295.12 L87.15,295.37 L88.25,295.13 L89.35,295.06 L90.46,294.82 L91.57,295.00 L92.69,294.95 L93.81,294.75 L94.94,294.72 L96.07,294.39 L97.21,294.75 L98.36,294.57 L99.51,294.54 L100.66,294.11 L101.82,293.63 L102.99,293.67 L104.16,293.49 L105.34,293.10 L106.52,293.03 L107.70,293.28 L108.89,293.18 L110.09,292.78 L111.29,292.87 L112.49,292.44 L113.70,292.70 L114.91,292.32 L116.13,291.92 L117.35,292.14 L118.58,292.07 L119.81,291.46 L121.05,291.75 L122.29,291.05 L123.53,291.13 L124.78,290.77 L126.03,290.89 L127.29,290.78 L128.55,290.80 L129.82,290.81 L131.09,289.96 L132.36,290.38 L133.64,290.33 L134.92,289.51 L136.21,289.66 L137.50,289.47 L138.79,289.05 L140.09,289.03 L141.39,289.24 L142.70,289.06 L144.01,288.60 L145.32,288.42 L146.64,288.61 L147.96,288.43 L149.28,288.06 L150.61,288.24 L151.94,287.73" stroke="#b3c6e0" stroke-opacity="0.90" stroke-width="1.70" fill="none" clip-path="url(#cC)"/>
<path d="M40.10,293.78 L40.35,293.77 L40.72,293.87 L41.15,294.05 L41.62,294.06 L42.13,294.15 L42.67,294.33 L43.24,294.35 L43.84,294.35 L44.46,294.48 L45.10,294.48 L45.76,294.60 L46.44,294.46 L47.13,294.51 L47.84,294.51 L48.57,294.57 L49.31,294.45 L50.07,294.46 L50.83,294.30 L51.62,294.28 L52.41,294.18 L53.22,294.09 L54.03,294.04 L54.86,293.94 L55.70,293.83 L56.55,293.84 L57.41,293.71 L58.28,293.58 L59.16,293.58 L60.05,293.48 L60.95,293.60 L61.86,293.44 L62.78,293.48 L63.70,293.30 L64.64,293.34 L65.58,293.25 L66.53,293.20 L67.49,293.28 L68.46,293.24 L69.43,293.06 L70.41,293.02 L71.40,293.05 L72.40,293.09 L73.40,293.04 L74.41,292.85 L75.43,292.83 L76.45,292.85 L77.48,292.74 L78.52,292.67 L79.56,292.78 L80.61,292.59 L81.67,292.50 L82.73,292.47 L83.80,292.20 L84.88,292.49 L85.96,292.31 L87.04,292.64 L88.14,292.05 L89.23,292.10 L90.34,292.23 L91.45,292.45 L92.56,292.29 L93.68,292.05 L94.81,291.59 L95.94,291.87 L97.08,291.50 L98.22,291.96 L99.37,291.85 L100.52,291.80 L101.68,291.69 L102.84,291.23 L104.01,291.49 L105.18,291.46 L106.36,291.11 L107.54,291.22 L108.73,290.81 L109.92,290.88 L111.12,290.70 L112.32,290.94 L113.52,290.88 L114.74,290.76 L115.95,290.27 L117.17,290.22 L118.39,290.43 L119.62,290.40 L120.86,290.64 L122.09,289.95 L123.33,290.05 L124.58,290.11 L125.83,290.21 L127.08,289.88 L128.34,289.60 L129.61,289.84 L130.87,289.74 L132.14,289.45 L133.42,289.36 L134.70,289.63 L135.98,289.48 L137.27,289.12 L138.56,288.74 L139.85,288.86 L141.15,289.01 L142.45,288.69 L143.76,288.59 L145.07,287.99 L146.39,288.26 L147.70,287.51 L149.02,287.89 L150.35,287.57" stroke="#b3c6e0" stroke-opacity="0.90" stroke-width="1.30" fill="none" clip-path="url(#cC)"/>
<path d="M40.10,293.78 L40.32,292.98 L40.65,291.75 L41.04,290.38 L41.46,288.90 L41.92,287.50 L42.40,285.81 L42.92,284.06 L43.45,282.28 L44.00,280.72 L44.58,278.95 L45.17,277.14 L45.77,275.63 L46.40,273.96 L47.03,272.35 L47.68,270.63 L48.35,268.90 L49.02,267.35 L49.71,265.56 L50.41,263.89 L51.12,262.24 L51.85,260.72 L52.58,259.14 L53.32,257.83 L54.07,256.51 L54.83,255.36 L55.61,254.23 L56.39,253.44 L57.17,252.74 L57.97,252.06 L58.78,251.29 L59.59,250.68 L60.41,250.05 L61.24,249.54 L62.08,248.98 L62.92,248.52 L63.77,247.92 L64.63,247.58 L65.49,247.04 L66.37,246.54 L67.25,246.14 L68.13,245.84 L69.02,245.40 L69.92,244.89 L70.83,244.52 L71.74,244.08 L72.65,243.67 L73.58,243.33 L74.51,242.83 L75.44,242.47 L76.38,242.16 L77.33,241.78 L78.28,241.48 L79.24,241.06 L80.20,240.61 L81.17,240.43 L82.14,240.00 L83.12,239.97 L84.10,239.64 L85.09,238.85 L86.08,238.80 L87.08,238.57 L88.09,238.09 L89.10,237.31 L90.11,236.94 L91.13,236.97 L92.15,236.38 L93.18,235.38 L94.21,235.53 L95.25,234.82 L96.29,234.49 L97.33,233.77 L98.38,233.45 L99.44,232.86 L100.50,232.60 L101.56,232.41 L102.63,231.96 L103.70,231.57 L104.78,230.53 L105.86,230.62 L106.94,230.22 L108.03,229.02 L109.12,229.15 L110.22,228.15 L111.32,228.32 L112.42,227.56 L113.53,227.29 L114.64,226.36 L115.76,226.06 L116.88,225.57 L118.00,225.00 L119.13,224.44 L120.26,224.37 L121.39,223.68 L122.53,223.32 L123.67,223.09 L124.82,222.04 L125.97,221.74 L127.12,221.07 L128.27,221.06 L129.43,220.31 L130.60,219.87 L131.76,219.18 L132.93,219.20 L134.11,218.50 L135.28,217.91 L136.46,217.75 L137.65,216.90 L138.83,216.29 L140.02,216.07 L141.22,215.43 L142.41,215.01 L143.61,214.87 L144.82,214.32 L146.02,213.39 L147.23,213.47 L148.45,212.98 L149.66,212.85 L150.88,212.35 L152.10,212.01 L153.33,211.06 L154.56,210.87 L155.79,210.42 L157.02,210.01 L158.26,209.98 L159.50,209.42 L160.74,209.43 L161.99,209.22 L163.24,208.51 L164.49,208.24 L165.74,207.90 L167.00,207.96 L168.26,207.42 L169.53,207.37 L170.79,206.58 L172.06,206.29 L173.33,206.41 L174.61,205.52 L175.89,205.70 L177.17,205.34 L178.45,204.39 L179.74,204.24 L181.03,203.55 L182.32,202.91 L183.61,202.79 L184.91,201.64 L186.21,201.37 L187.51,200.59 L188.82,199.97 L190.12,198.95 L191.43,198.22 L192.75,197.83 L194.06,197.21 L195.38,196.27 L196.70,195.38 L198.02,194.83 L199.35,193.68" stroke="#b3c6e0" stroke-opacity="0.80" stroke-width="1.25" fill="none" clip-path="url(#cC)"/>
<path d="M40.10,293.78 L40.32,293.16 L40.65,292.05 L41.03,290.91 L41.46,289.59 L41.91,288.24 L42.40,286.85 L42.91,285.48 L43.44,284.02 L43.99,282.47 L44.57,280.91 L45.15,279.36 L45.76,277.83 L46.38,276.36 L47.02,274.72 L47.66,273.24 L48.33,271.58 L49.00,269.84 L49.69,268.19 L50.39,266.63 L51.10,265.00 L51.82,263.30 L52.55,261.92 L53.29,260.44 L54.04,259.01 L54.80,257.78 L55.57,256.77 L56.34,255.89 L57.13,255.09 L57.92,254.27 L58.73,253.66 L59.54,252.94 L60.36,252.39 L61.18,251.81 L62.02,251.49 L62.86,250.97 L63.71,250.55 L64.57,250.02 L65.43,249.61 L66.30,249.23 L67.17,248.70 L68.06,248.34 L68.95,247.84 L69.84,247.36 L70.75,246.73 L71.65,246.24 L72.57,245.66 L73.49,245.02 L74.42,244.19 L75.35,243.30 L76.29,242.36 L77.23,241.32 L78.18,240.30 L79.13,239.34 L80.09,238.27 L81.06,237.05 L82.03,235.96 L83.01,234.97 L83.99,233.72 L84.97,233.01 L85.97,232.38 L86.96,231.74 L87.96,231.25 L88.97,230.23 L89.98,229.51 L90.99,229.00 L92.01,228.86 L93.04,228.23 L94.07,227.57 L95.10,227.21 L96.14,226.94 L97.18,226.67 L98.23,226.19 L99.28,226.06 L100.34,225.67 L101.40,224.91 L102.47,224.31 L103.53,224.30 L104.61,224.06 L105.68,223.77 L106.77,223.36 L107.85,222.77 L108.94,222.73 L110.03,222.03 L111.13,222.34 L112.23,221.92 L113.34,221.46 L114.45,221.25 L115.56,220.61 L116.68,220.33 L117.80,219.95 L118.92,219.90 L120.05,220.05 L121.18,219.33 L122.32,219.04 L123.45,218.77 L124.60,218.61 L125.74,217.95 L126.89,217.46 L128.04,217.74 L129.20,216.95 L130.36,216.81 L131.53,216.32 L132.69,215.63 L133.86,215.17 L135.04,215.00 L136.21,214.93 L137.39,213.94 L138.58,214.08 L139.76,213.50 L140.95,212.72 L142.15,212.69 L143.34,212.31 L144.54,211.38 L145.75,210.98 L146.95,211.09 L148.16,210.66 L149.38,210.40 L150.59,210.19 L151.81,209.79 L153.03,208.90 L154.26,209.29 L155.49,208.86 L156.72,208.57 L157.95,208.35 L159.19,207.69 L160.43,207.22 L161.67,206.83 L162.92,206.69 L164.17,206.24 L165.42,206.57 L166.67,206.06 L167.93,205.24 L169.19,205.64 L170.45,205.20 L171.72,204.74 L172.99,204.63 L174.26,204.13 L175.53,204.25 L176.81,203.83 L178.09,203.01 L179.37,203.38 L180.66,202.53 L181.95,202.84 L183.24,201.97 L184.53,201.97 L185.83,201.76 L187.13,201.93 L188.43,201.77 L189.73,201.01 L191.04,201.25 L192.35,201.04 L193.66,200.36 L194.98,200.13 L196.29,200.59 L197.61,199.71 L198.94,199.88 L200.26,199.84 L201.59,199.91 L202.92,199.55 L204.25,199.34" stroke="#b3c6e0" stroke-opacity="0.80" stroke-width="1.25" fill="none" clip-path="url(#cC)"/>
<path d="M40.10,293.78 L40.33,293.07 L40.66,292.30 L41.05,291.28 L41.47,290.13 L41.94,288.90 L42.43,287.57 L42.95,286.12 L43.49,284.91 L44.05,283.48 L44.62,281.92 L45.22,280.48 L45.83,279.05 L46.46,277.77 L47.11,276.27 L47.76,274.61 L48.43,273.11 L49.12,271.45 L49.81,269.89 L50.52,268.31 L51.24,266.63 L51.97,264.99 L52.71,263.48 L53.46,262.12 L54.22,260.84 L54.99,259.68 L55.77,258.73 L56.56,257.93 L57.35,257.20 L58.16,256.68 L58.97,256.01 L59.79,255.38 L60.62,254.87 L61.46,254.51 L62.31,253.89 L63.16,253.47 L64.02,253.18 L64.89,252.75 L65.76,252.37 L66.64,252.02 L67.53,251.46 L68.42,251.19 L69.33,250.71 L70.23,250.46 L71.15,250.06 L72.07,249.46 L72.99,249.01 L73.93,248.47 L74.87,248.01 L75.81,247.51 L76.76,246.92 L77.72,246.50 L78.68,245.86 L79.65,245.32 L80.62,244.82 L81.60,244.18 L82.58,243.69 L83.57,243.11 L84.56,242.70 L85.56,242.23 L86.57,241.72 L87.58,241.07 L88.59,240.33 L89.61,239.93 L90.63,239.55 L91.66,239.15 L92.70,239.15 L93.73,238.19 L94.78,238.32 L95.82,238.03 L96.88,237.33 L97.93,236.74 L98.99,236.64 L100.06,236.01 L101.13,235.90 L102.20,234.98 L103.28,234.99 L104.37,234.59 L105.45,234.16 L106.54,233.52 L107.64,233.06 L108.74,233.04 L109.84,232.74 L110.95,232.23 L112.06,232.29 L113.18,231.65 L114.30,230.96 L115.42,230.66 L116.55,230.86 L117.68,229.88 L118.82,229.89 L119.95,229.07 L121.10,229.20 L122.24,228.96 L123.39,228.35 L124.55,227.74 L125.70,227.74 L126.87,227.05 L128.03,226.81 L129.20,226.73 L130.37,226.42 L131.55,225.91 L132.72,225.64 L133.91,225.30 L135.09,224.72 L136.28,224.19 L137.47,224.05 L138.67,224.02 L139.87,223.59 L141.07,223.10 L142.28,222.54 L143.49,222.53 L144.70,222.19 L145.91,221.62 L147.13,221.25 L148.36,221.05 L149.58,220.28 L150.81,219.61 L152.04,219.55 L153.28,219.04 L154.51,218.63 L155.75,218.28 L157.00,217.89 L158.25,217.92 L159.50,217.40 L160.75,217.49 L162.01,216.55 L163.27,216.58 L164.53,216.13 L165.79,215.42 L167.06,215.48 L168.33,215.13 L169.61,214.19 L170.88,213.89 L172.16,213.78 L173.45,213.29 L174.73,212.47 L176.02,212.12 L177.31,210.79 L178.60,210.54 L179.90,209.65 L181.20,208.68 L182.50,207.65 L183.81,206.73 L185.12,205.54 L186.43,204.44 L187.74,203.49 L189.06,202.59 L190.37,200.70 L191.70,199.70 L193.02,198.91 L194.35,197.35 L195.67,196.00" stroke="#b3c6e0" stroke-opacity="0.80" stroke-width="1.25" fill="none" clip-path="url(#cC)"/>
<path d="M40.10,293.78 L40.32,293.19 L40.65,292.36 L41.03,291.62 L41.46,290.62 L41.91,289.45 L42.40,288.33 L42.91,287.05 L43.44,285.85 L43.99,284.69 L44.57,283.40 L45.15,282.08 L45.76,280.72 L46.38,279.54 L47.02,278.14 L47.66,276.76 L48.33,275.16 L49.00,273.74 L49.69,272.00 L50.39,270.51 L51.10,268.95 L51.82,267.53 L52.55,266.03 L53.29,264.61 L54.04,263.26 L54.80,262.19 L55.57,261.27 L56.34,260.36 L57.13,259.79 L57.92,259.22 L58.73,258.73 L59.54,258.18 L60.36,257.58 L61.18,257.26 L62.02,256.75 L62.86,256.33 L63.71,255.99 L64.57,255.53 L65.43,255.15 L66.30,254.81 L67.17,254.49 L68.06,254.25 L68.95,253.93 L69.84,253.51 L70.75,253.17 L71.65,252.81 L72.57,252.27 L73.49,251.96 L74.42,251.38 L75.35,250.89 L76.29,250.56 L77.23,249.92 L78.18,249.53 L79.13,249.07 L80.09,248.59 L81.06,248.12 L82.03,247.54 L83.01,247.15 L83.99,246.32 L84.97,245.88 L85.97,246.03 L86.96,245.34 L87.96,244.94 L88.97,244.71 L89.98,244.27 L90.99,243.87 L92.01,243.16 L93.04,243.06 L94.07,242.87 L95.10,242.42 L96.14,241.89 L97.18,241.43 L98.23,241.33 L99.28,240.63 L100.34,240.66 L101.40,239.96 L102.47,239.67 L103.53,239.68 L104.61,238.90 L105.68,238.85 L106.77,238.41 L107.85,238.04 L108.94,237.69 L110.03,237.52 L111.13,237.50 L112.23,236.62 L113.34,236.25 L114.45,236.22 L115.56,235.84 L116.68,235.77 L117.80,234.97 L118.92,234.82 L120.05,234.87 L121.18,234.09 L122.32,233.65 L123.45,233.83 L124.60,233.01 L125.74,233.10 L126.89,233.01 L128.04,232.28 L129.20,232.25 L130.36,231.61 L131.53,231.40 L132.69,231.44 L133.86,230.78 L135.04,230.18 L136.21,230.13 L137.39,229.73 L138.58,229.13 L139.76,229.09 L140.95,228.69 L142.15,228.24 L143.34,227.68 L144.54,227.77 L145.75,227.46 L146.95,226.54 L148.16,226.29 L149.38,226.06 L150.59,225.16 L151.81,224.71 L153.03,224.50 L154.26,223.67 L155.49,223.29 L156.72,222.86 L157.95,222.70 L159.19,222.41 L160.43,221.37 L161.67,220.81 L162.92,220.59 L164.17,219.97 L165.42,219.39 L166.67,219.13 L167.93,218.29 L169.19,217.91 L170.45,217.57 L171.72,217.33 L172.99,216.54 L174.26,216.30 L175.53,215.58 L176.81,215.63 L178.09,215.10 L179.37,214.93 L180.66,214.45 L181.95,214.00 L183.24,214.06 L184.53,213.80 L185.83,213.17 L187.13,213.10 L188.43,212.58 L189.73,212.57 L191.04,212.36 L192.35,211.76 L193.66,211.22 L194.98,211.02 L196.29,211.07 L197.61,210.94 L198.94,211.00 L200.26,210.64 L201.59,210.43 L202.92,209.78 L204.25,209.97" stroke="#b3c6e0" stroke-opacity="0.80" stroke-width="1.25" fill="none" clip-path="url(#cC)"/>
<path d="M40.10,293.78 L40.32,293.43 L40.65,292.65 L41.03,292.01 L41.46,291.22 L41.91,290.38 L42.40,289.33 L42.91,288.51 L43.44,287.42 L43.99,286.38 L44.57,285.36 L45.15,284.23 L45.76,282.93 L46.38,281.78 L47.02,280.52 L47.66,279.12 L48.33,277.82 L49.00,276.18 L49.69,274.61 L50.39,273.12 L51.10,271.48 L51.82,269.81 L52.55,268.43 L53.29,266.92 L54.04,265.72 L54.80,264.47 L55.57,263.57 L56.34,262.78 L57.13,262.22 L57.92,261.57 L58.73,261.09 L59.54,260.67 L60.36,260.19 L61.18,259.83 L62.02,259.38 L62.86,259.12 L63.71,258.73 L64.57,258.40 L65.43,258.12 L66.30,257.88 L67.17,257.56 L68.06,257.16 L68.95,256.93 L69.84,256.50 L70.75,256.20 L71.65,255.75 L72.57,255.37 L73.49,254.96 L74.42,254.56 L75.35,254.12 L76.29,253.50 L77.23,252.92 L78.18,252.33 L79.13,251.90 L80.09,251.33 L81.06,250.60 L82.03,250.08 L83.01,249.58 L83.99,248.85 L84.97,248.79 L85.97,248.00 L86.96,247.46 L87.96,247.11 L88.97,247.07 L89.98,246.71 L90.99,245.96 L92.01,245.39 L93.04,245.61 L94.07,245.35 L95.10,244.94 L96.14,244.05 L97.18,244.01 L98.23,243.62 L99.28,242.87 L100.34,242.84 L101.40,242.78 L102.47,242.12 L103.53,242.35 L104.61,241.81 L105.68,241.18 L106.77,241.28 L107.85,241.09 L108.94,240.41 L110.03,240.26 L111.13,239.47 L112.23,239.86 L113.34,239.03 L114.45,239.07 L115.56,238.46 L116.68,238.46 L117.80,238.02 L118.92,238.01 L120.05,237.81 L121.18,237.37 L122.32,236.83 L123.45,236.92 L124.60,236.74 L125.74,236.34 L126.89,236.32 L128.04,235.89 L129.20,235.43 L130.36,235.19 L131.53,234.89 L132.69,234.87 L133.86,234.82 L135.04,234.56 L136.21,234.06 L137.39,233.91 L138.58,233.36 L139.76,233.33 L140.95,232.68 L142.15,232.54 L143.34,232.22 L144.54,231.89 L145.75,231.79 L146.95,231.59 L148.16,231.40 L149.38,231.32 L150.59,230.49 L151.81,230.46 L153.03,230.52 L154.26,229.64 L155.49,229.66 L156.72,229.39 L157.95,229.30 L159.19,229.31 L160.43,228.39 L161.67,228.79 L162.92,228.39 L164.17,227.64 L165.42,228.06 L166.67,227.50 L167.93,227.23 L169.19,227.11 L170.45,226.28 L171.72,226.35 L172.99,226.31 L174.26,225.58 L175.53,225.55 L176.81,224.59 L178.09,224.03 L179.37,223.56 L180.66,223.77 L181.95,222.81 L183.24,222.63 L184.53,222.02 L185.83,221.67 L187.13,221.19 L188.43,220.85 L189.73,219.99 L191.04,219.95 L192.35,218.81 L193.66,219.09 L194.98,217.95 L196.29,218.15 L197.61,217.85 L198.94,216.97 L200.26,216.78 L201.59,216.25 L202.92,216.12 L204.25,215.79" stroke="#b3c6e0" stroke-opacity="0.80" stroke-width="1.25" fill="none" clip-path="url(#cC)"/>
<path d="M40.10,293.78 L40.32,293.41 L40.65,293.00 L41.03,292.29 L41.46,291.65 L41.91,290.83 L42.40,290.24 L42.91,289.40 L43.44,288.40 L43.99,287.43 L44.57,286.57 L45.15,285.51 L45.76,284.49 L46.38,283.44 L47.02,282.22 L47.66,280.88 L48.33,279.56 L49.00,277.99 L49.69,276.33 L50.39,274.81 L51.10,273.15 L51.82,271.59 L52.55,270.01 L53.29,268.49 L54.04,267.14 L54.80,265.92 L55.57,265.05 L56.34,264.39 L57.13,263.82 L57.92,263.38 L58.73,262.88 L59.54,262.39 L60.36,261.99 L61.18,261.69 L62.02,261.37 L62.86,261.07 L63.71,260.75 L64.57,260.41 L65.43,260.18 L66.30,259.79 L67.17,259.59 L68.06,259.36 L68.95,259.07 L69.84,258.85 L70.75,258.40 L71.65,258.06 L72.57,257.77 L73.49,257.29 L74.42,256.93 L75.35,256.45 L76.29,255.93 L77.23,255.40 L78.18,254.75 L79.13,254.17 L80.09,253.57 L81.06,253.10 L82.03,252.40 L83.01,251.90 L83.99,251.43 L84.97,250.82 L85.97,250.39 L86.96,250.14 L87.96,249.60 L88.97,249.05 L89.98,248.65 L90.99,248.16 L92.01,248.39 L93.04,247.53 L94.07,247.29 L95.10,247.06 L96.14,246.56 L97.18,246.94 L98.23,246.17 L99.28,245.80 L100.34,246.15 L101.40,245.53 L102.47,245.01 L103.53,245.28 L104.61,244.61 L105.68,244.34 L106.77,244.48 L107.85,244.49 L108.94,244.22 L110.03,243.53 L111.13,243.64 L112.23,243.51 L113.34,243.21 L114.45,242.63 L115.56,242.95 L116.68,242.93 L117.80,242.01 L118.92,242.30 L120.05,242.04 L121.18,241.38 L122.32,241.71 L123.45,241.65 L124.60,240.82 L125.74,241.10 L126.89,240.89 L128.04,240.11 L129.20,240.42 L130.36,239.66 L131.53,239.85 L132.69,239.62 L133.86,239.42 L135.04,238.89 L136.21,238.59 L137.39,238.41 L138.58,238.02 L139.76,237.86 L140.95,237.10 L142.15,236.68 L143.34,236.45 L144.54,236.02 L145.75,236.20 L146.95,235.65 L148.16,235.24 L149.38,234.72 L150.59,233.39 L151.81,232.63 L153.03,231.74 L154.26,231.10 L155.49,230.54 L156.72,229.43 L157.95,228.93 L159.19,227.61 L160.43,227.60 L161.67,227.28 L162.92,226.70 L164.17,227.32 L165.42,226.84 L166.67,227.43 L167.93,227.28 L169.19,227.85 L170.45,227.36 L171.72,227.84 L172.99,227.93 L174.26,227.69 L175.53,227.69 L176.81,227.85 L178.09,227.80 L179.37,227.27 L180.66,227.47 L181.95,226.56 L183.24,226.68 L184.53,226.51 L185.83,226.06 L187.13,225.89 L188.43,225.38 L189.73,224.85 L191.04,224.60 L192.35,224.30 L193.66,223.99 L194.98,223.46 L196.29,222.82 L197.61,222.65 L198.94,221.92 L200.26,221.65 L201.59,221.42 L202.92,220.85 L204.25,220.06" stroke="#b3c6e0" stroke-opacity="0.80" stroke-width="1.25" fill="none" clip-path="url(#cC)"/>
<path d="M40.10,293.78 L40.33,293.48 L40.66,293.19 L41.06,292.79 L41.49,292.28 L41.96,291.67 L42.46,291.17 L42.98,290.53 L43.52,289.83 L44.09,289.15 L44.68,288.25 L45.28,287.41 L45.90,286.50 L46.54,285.54 L47.19,284.41 L47.85,283.07 L48.53,281.74 L49.22,280.04 L49.93,278.57 L50.64,276.74 L51.37,275.17 L52.11,273.36 L52.85,271.84 L53.61,270.35 L54.38,268.90 L55.16,267.68 L55.95,266.77 L56.75,266.14 L57.55,265.59 L58.37,265.28 L59.19,264.76 L60.02,264.39 L60.86,263.87 L61.71,263.57 L62.56,263.18 L63.42,262.85 L64.29,262.51 L65.17,262.29 L66.06,261.97 L66.95,261.76 L67.85,261.57 L68.75,261.13 L69.66,260.99 L70.58,260.68 L71.51,260.19 L72.44,259.93 L73.37,259.45 L74.32,259.12 L75.27,258.59 L76.22,257.96 L77.18,257.54 L78.15,256.87 L79.12,256.19 L80.10,255.74 L81.09,255.05 L82.08,254.46 L83.07,253.86 L84.07,253.21 L85.08,252.78 L86.09,252.87 L87.10,252.35 L88.12,251.78 L89.15,251.16 L90.18,251.47 L91.22,250.91 L92.26,251.01 L93.30,250.20 L94.35,250.26 L95.41,249.96 L96.47,249.62 L97.53,249.80 L98.60,249.12 L99.67,248.85 L100.75,248.60 L101.83,248.84 L102.92,248.68 L104.01,248.54 L105.11,247.78 L106.21,247.96 L107.31,247.82 L108.42,247.54 L109.53,247.24 L110.65,247.36 L111.77,247.19 L112.89,246.69 L114.02,246.53 L115.15,246.75 L116.29,246.77 L117.43,245.95 L118.58,245.96 L119.72,245.92 L120.88,245.92 L122.03,245.34 L123.19,245.60 L124.35,245.63 L125.52,245.57 L126.69,245.23 L127.87,244.89 L129.05,244.92 L130.23,244.31 L131.41,244.39 L132.60,244.38 L133.79,244.07 L134.99,243.95 L136.19,243.77 L137.39,243.69 L138.60,243.49 L139.81,243.33 L141.02,242.88 L142.24,243.18 L143.46,242.52 L144.68,242.69 L145.91,242.04 L147.14,242.42 L148.37,241.87 L149.61,241.67 L150.84,241.22 L152.09,241.39 L153.33,241.11 L154.58,240.98 L155.83,240.41 L157.09,240.16 L158.35,240.37 L159.61,239.98 L160.87,239.72 L162.14,238.87 L163.41,239.00 L164.69,238.64 L165.96,238.57 L167.24,237.99 L168.53,237.57 L169.81,237.36 L171.10,237.55 L172.39,236.87 L173.69,236.47 L174.98,236.44 L176.28,235.45 L177.59,235.38 L178.89,234.92 L180.20,234.15 L181.51,233.65 L182.83,233.15 L184.15,232.29 L185.47,231.94 L186.79,231.45 L188.12,231.03 L189.44,229.99 L190.78,229.37" stroke="#b3c6e0" stroke-opacity="0.80" stroke-width="1.25" fill="none" clip-path="url(#cC)"/>
<path d="M40.10,293.78 L40.36,293.11 L40.73,292.07 L41.17,290.93 L41.66,289.71 L42.18,288.32 L42.74,286.86 L43.32,285.37 L43.93,283.69 L44.57,282.18 L45.22,280.66 L45.90,278.98 L46.59,277.39 L47.30,275.81 L48.03,273.91 L48.78,272.20 L49.54,270.19 L50.31,268.49 L51.10,266.62 L51.90,264.82 L52.71,262.98 L53.54,261.37 L54.38,259.95 L55.22,258.75 L56.08,257.64 L56.96,256.74 L57.84,256.10 L58.73,255.23 L59.63,254.59 L60.54,253.97 L61.46,253.45 L62.39,252.94 L63.33,252.38 L64.28,252.05 L65.24,251.58 L66.20,251.17 L67.18,250.72 L68.16,250.14 L69.15,249.81 L70.15,249.18 L71.15,248.71 L72.17,248.03 L73.19,247.41 L74.21,246.71 L75.25,245.89 L76.29,245.20 L77.34,244.27 L78.40,243.32 L79.46,242.35 L80.53,241.34 L81.60,240.33 L82.69,239.41 L83.78,238.20 L84.87,237.50 L85.97,236.93 L87.08,236.06 L88.19,235.20 L89.31,234.47 L90.44,234.11 L91.57,233.42 L92.70,232.54 L93.85,232.22 L95.00,231.17 L96.15,231.42 L97.31,230.63 L98.47,230.63 L99.64,231.41 L100.82,232.75 L102.00,234.76 L103.19,235.77 L104.38,235.97 L105.57,235.54 L106.77,234.12 L107.98,232.53 L109.19,231.31 L110.41,228.97 L111.63,227.26 L112.86,225.74 L114.09,224.96 L115.32,224.48 L116.56,223.97 L117.81,223.04 L119.06,222.84 L120.31,221.89 L121.57,221.50 L122.83,220.73 L124.10,220.45 L125.37,219.75 L126.65,218.31 L127.93,217.08 L129.21,215.73 L130.50,214.19 L131.80,213.41 L133.09,213.54 L134.40,216.36 L135.70,220.02 L137.01,221.57 L138.33,221.49 L139.65,220.72 L140.97,219.44 L142.29,216.94 L143.63,212.95 L144.96,208.42" stroke="#b3c6e0" stroke-opacity="0.80" stroke-width="1.25" fill="none" clip-path="url(#cC)"/>
<path d="M40.10,293.78 L40.34,293.13 L40.70,292.32 L41.12,291.41 L41.58,290.23 L42.08,289.10 L42.61,287.90 L43.16,286.58 L43.75,285.28 L44.35,283.89 L44.97,282.48 L45.61,281.03 L46.27,279.78 L46.95,278.21 L47.64,276.56 L48.35,274.98 L49.08,273.29 L49.81,271.51 L50.56,269.93 L51.32,268.06 L52.10,266.42 L52.88,264.83 L53.68,263.39 L54.49,261.98 L55.30,260.91 L56.13,259.88 L56.97,259.18 L57.82,258.35 L58.68,257.73 L59.54,257.19 L60.42,256.57 L61.31,256.11 L62.20,255.58 L63.10,255.18 L64.01,254.60 L64.93,254.19 L65.86,253.77 L66.79,253.50 L67.73,252.96 L68.68,252.71 L69.64,252.19 L70.60,251.77 L71.57,251.41 L72.55,250.86 L73.53,250.25 L74.52,249.77 L75.52,249.28 L76.53,248.64 L77.54,248.18 L78.55,247.52 L79.58,247.06 L80.61,246.56 L81.64,245.82 L82.68,245.43 L83.73,244.97 L84.78,244.00 L85.84,243.94 L86.91,243.04 L87.98,242.23 L89.05,241.83 L90.14,241.36 L91.22,240.35 L92.31,239.59 L93.41,239.07 L94.51,238.33 L95.62,237.90 L96.74,237.22 L97.85,236.22 L98.98,235.78 L100.11,236.19 L101.24,235.83 L102.38,235.69 L103.52,235.16 L104.67,235.55 L105.82,235.52 L106.98,235.01 L108.14,235.43 L109.30,234.75 L110.47,235.10 L111.65,234.68 L112.83,234.64 L114.01,234.97 L115.20,234.20 L116.39,233.98 L117.59,233.47 L118.79,232.84 L120.00,231.48 L121.21,230.71 L122.42,230.04 L123.64,228.80 L124.86,228.56 L126.09,227.75 L127.32,227.45 L128.55,226.65 L129.79,225.62 L131.03,225.30 L132.28,224.95 L133.53,224.27 L134.78,223.35 L136.04,223.05 L137.30,222.02 L138.57,222.14 L139.84,221.03 L141.11,220.78 L142.39,220.25 L143.67,220.29 L144.95,220.26 L146.24,220.02 L147.53,219.58 L148.83,220.17 L150.13,220.74 L151.43,221.08 L152.73,221.77 L154.04,222.11 L155.36,221.59 L156.67,220.34 L157.99,217.84 L159.31,215.10 L160.64,211.91" stroke="#b3c6e0" stroke-opacity="0.80" stroke-width="1.25" fill="none" clip-path="url(#cC)"/>
<path d="M40.10,293.78 L40.34,293.27 L40.70,292.56 L41.11,291.78 L41.57,290.82 L42.07,289.78 L42.59,288.66 L43.15,287.60 L43.72,286.27 L44.32,285.13 L44.94,283.86 L45.58,282.56 L46.24,281.39 L46.91,279.89 L47.60,278.41 L48.31,276.99 L49.02,275.40 L49.76,273.61 L50.50,271.92 L51.26,270.27 L52.03,268.71 L52.81,267.11 L53.60,265.75 L54.40,264.40 L55.22,263.22 L56.04,262.23 L56.88,261.65 L57.72,260.83 L58.57,260.39 L59.43,259.62 L60.30,259.20 L61.18,258.57 L62.07,258.07 L62.97,257.57 L63.88,257.22 L64.79,256.75 L65.71,256.43 L66.64,255.94 L67.57,255.71 L68.52,255.19 L69.47,254.89 L70.43,254.65 L71.39,254.13 L72.36,253.90 L73.34,253.59 L74.33,253.19 L75.32,252.91 L76.32,252.55 L77.32,252.18 L78.33,251.85 L79.35,251.65 L80.38,251.35 L81.41,251.09 L82.44,250.85 L83.48,250.71 L84.53,250.52 L85.58,250.28 L86.64,249.64 L87.71,249.54 L88.78,248.72 L89.85,248.57 L90.93,247.76 L92.02,247.07 L93.11,246.22 L94.20,245.75 L95.31,244.81 L96.41,243.63 L97.52,243.20 L98.64,242.11 L99.76,241.27 L100.89,241.24 L102.02,240.47 L103.16,240.47 L104.30,239.97 L105.44,240.07 L106.59,239.70 L107.75,239.58 L108.91,239.79 L110.07,239.39 L111.24,239.19 L112.41,239.13 L113.59,238.83 L114.77,238.47 L115.96,238.38 L117.15,238.17 L118.34,238.47 L119.54,237.79 L120.74,237.57 L121.95,237.01 L123.16,237.40 L124.38,236.90 L125.60,235.89 L126.82,235.95 L128.05,235.26 L129.28,234.91 L130.52,234.60 L131.75,234.11 L133.00,233.55 L134.24,232.75 L135.50,232.63 L136.75,231.97 L138.01,231.89 L139.27,231.11 L140.54,230.73 L141.81,230.14 L143.08,229.55 L144.36,229.68 L145.64,228.50 L146.92,228.28 L148.21,228.05 L149.50,227.40 L150.79,227.19 L152.09,226.59 L153.39,225.63 L154.70,225.23 L156.01,224.61 L157.32,224.66 L158.63,224.20 L159.95,223.49 L161.27,222.90 L162.60,222.39" stroke="#b3c6e0" stroke-opacity="0.80" stroke-width="1.25" fill="none" clip-path="url(#cC)"/>
<path d="M40.10,293.78 L40.35,292.76 L40.71,291.33 L41.14,289.54 L41.61,287.85 L42.12,285.80 L42.66,283.89 L43.23,281.81 L43.82,279.74 L44.44,277.45 L45.08,275.18 L45.73,272.95 L46.41,270.58 L47.10,268.39 L47.80,266.34 L48.53,264.59 L49.27,263.06 L50.02,261.59 L50.78,260.15 L51.56,259.09 L52.35,258.08" stroke="#fbb577" stroke-opacity="0.85" stroke-width="1.20" fill="none" clip-path="url(#cC)"/>
<path d="M40.10,293.78 L40.40,292.86 L40.84,291.26 L41.35,289.66 L41.91,287.99 L42.52,286.16 L43.17,284.55 L43.85,282.66 L44.57,281.02 L45.31,279.43 L46.07,277.80 L46.86,276.11 L47.67,274.48 L48.50,272.97 L49.35,271.59 L50.21,269.93 L51.10,268.47 L52.00,267.01 L52.92,265.60 L53.85,264.07 L54.80,262.74" stroke="#fbb577" stroke-opacity="0.85" stroke-width="1.20" fill="none" clip-path="url(#cC)"/>
<path d="M40.10,293.78 L40.49,292.91 L41.05,291.46 L41.71,289.76 L42.44,287.81 L43.23,286.25 L44.07,284.22 L44.95,282.29 L45.87,280.38 L46.82,278.54 L47.81,277.11 L48.83,275.16 L49.87,273.91 L50.94,272.14 L52.04,270.41 L53.16,268.69 L54.30,267.20 L55.47,265.18 L56.65,263.11 L57.86,261.19 L59.08,258.51 L60.33,255.99 L61.59,253.73 L62.87,250.97 L64.16,248.18 L65.47,244.85 L66.80,241.87 L68.14,241.05 L69.50,240.39" stroke="#fbb577" stroke-opacity="0.85" stroke-width="1.10" fill="none" clip-path="url(#cC)"/>
<path d="M40.10,293.78 L40.48,292.98 L41.02,291.88 L41.67,290.49 L42.38,288.89 L43.14,286.95 L43.95,285.32 L44.81,284.01 L45.70,282.20 L46.63,280.64 L47.59,279.26 L48.58,277.68 L49.59,276.69 L50.63,275.29 L51.70,274.04 L52.79,272.31 L53.90,270.92 L55.03,269.51 L56.18,267.93 L57.35,265.57 L58.54,263.32 L59.75,260.78 L60.97,258.14 L62.21,255.65 L63.47,253.19 L64.75,250.71 L66.03,248.83 L67.34,246.39 L68.66,244.60 L69.99,242.56" stroke="#fbb577" stroke-opacity="0.85" stroke-width="1.10" fill="none" clip-path="url(#cC)"/>
<path d="M40.10,293.78 L40.52,292.92 L41.13,291.43 L41.85,290.35 L42.64,288.63 L43.49,286.81 L44.40,285.44 L45.35,283.77 L46.35,282.47 L47.38,281.36 L48.45,279.94 L49.55,278.74 L50.68,277.36 L51.85,276.11 L53.03,274.99 L54.25,273.95 L55.48,272.30 L56.75,271.28 L58.03,269.71 L59.34,268.27 L60.66,267.09 L62.01,265.93 L63.38,264.37" stroke="#fbb577" stroke-opacity="0.85" stroke-width="1.10" fill="none" clip-path="url(#cC)"/>
<path d="M40.10,293.78 L45.00,274.38 L51.86,255.37" stroke="#fbb577" stroke-opacity="0.85" stroke-width="1.00" fill="none" clip-path="url(#cC)"/>
<path d="M40.10,293.78 L46.23,270.50 L51.12,254.98" stroke="#fbb577" stroke-opacity="0.85" stroke-width="1.00" fill="none" clip-path="url(#cC)"/>
<path d="M40.10,293.78 L40.37,292.89 L40.78,291.80 L41.24,290.28 L41.76,288.63 L42.32,286.87 L42.92,284.83 L43.54,282.78 L44.19,280.80 L44.87,278.29 L45.57,276.17 L46.29,273.56 L47.04,271.11 L47.80,268.76 L48.58,266.77 L49.37,265.27 L50.18,263.63 L51.01,262.17 L51.85,260.87 L52.71,259.88 L53.58,258.86" stroke="#fbb577" stroke-opacity="0.85" stroke-width="1.00" fill="none" clip-path="url(#cC)"/>
<path d="M40.10,293.78 L40.49,292.99 L41.06,292.27 L41.72,290.99 L42.45,289.85 L43.25,288.53 L44.09,287.18 L44.97,285.94 L45.90,284.73 L46.85,283.62 L47.85,282.55 L48.87,281.49 L49.92,280.35 L50.99,279.09 L52.10,278.46 L53.22,277.81 L54.37,277.24 L55.54,276.72 L56.73,276.30 L57.94,275.83 L59.17,275.34 L60.42,274.94 L61.69,274.69 L62.97,274.28 L64.27,273.94 L65.59,273.43 L66.93,273.05 L68.28,272.83" stroke="#fbb577" stroke-opacity="0.85" stroke-width="1.00" fill="none" clip-path="url(#cC)"/>
<path d="M40.10,293.78 L40.47,251.26" stroke="#e88a8a" stroke-opacity="0.85" stroke-width="1.00" fill="none" clip-path="url(#cC)"/>
<path d="M40.10,293.78 L42.55,256.53" stroke="#e88a8a" stroke-opacity="0.85" stroke-width="1.00" fill="none" clip-path="url(#cC)"/>
<path d="M40.10,293.78 L43.53,253.43" stroke="#e88a8a" stroke-opacity="0.85" stroke-width="1.00" fill="none" clip-path="url(#cC)"/>
<path d="M40.10,293.78 L43.77,274.38 L45.86,228.60" stroke="#ff8c00" stroke-opacity="0.95" stroke-width="1.10" fill="none" clip-path="url(#cC)"/>
<path d="M40.10,293.78 L44.39,270.50 L46.72,238.99" stroke="#ff8c00" stroke-opacity="0.95" stroke-width="1.10" fill="none" clip-path="url(#cC)"/>
<path d="M40.10,293.78 L45.00,270.50 L46.72,253.12" stroke="#ff8c00" stroke-opacity="0.95" stroke-width="1.10" fill="none" clip-path="url(#cC)"/>
<path d="M40.10,293.78 L45.00,274.38 L46.47,248.15" stroke="#ff8c00" stroke-opacity="0.95" stroke-width="1.30" fill="none" clip-path="url(#cC)"/>
<path d="M40.10,293.78 L43.77,279.81 L47.45,262.74 L49.90,257.31" stroke="#ff8c00" stroke-opacity="0.95" stroke-width="1.00" fill="none" clip-path="url(#cC)"/>
<path d="M40.10,293.78 L43.16,282.14 L46.23,266.62 L48.67,261.19" stroke="#ff8c00" stroke-opacity="0.95" stroke-width="1.00" fill="none" clip-path="url(#cC)"/>
<path d="M40.10,293.78 L42.55,284.47 L45.00,272.05 L47.45,265.84" stroke="#ff8c00" stroke-opacity="0.95" stroke-width="1.00" fill="none" clip-path="url(#cC)"/>
<path d="M40.10,293.78 L40.50,292.49 L41.08,290.28 L41.76,288.21 L42.52,285.65 L43.33,283.22 L44.20,281.37 L45.11,279.83 L46.06,278.19 L47.04,277.11 L48.06,275.59 L49.11,274.46 L50.19,273.42 L51.30,272.11 L52.43,271.41 L53.58,270.73 L54.76,269.99 L55.97,269.71 L57.19,269.97 L58.44,269.91 L59.70,270.50" stroke="#ff8c00" stroke-opacity="0.95" stroke-width="1.40" fill="none" clip-path="url(#cC)"/>
<path d="M40.10,293.78 L40.49,293.22 L41.05,291.81 L41.71,290.66 L42.44,289.51 L43.23,288.16 L44.07,287.05 L44.95,285.98 L45.87,285.40 L46.82,284.75 L47.81,284.04 L48.83,283.63 L49.87,283.24 L50.94,282.58 L52.04,281.96 L53.16,281.84 L54.30,281.42 L55.47,280.72 L56.65,280.66 L57.86,279.92 L59.08,279.91 L60.33,279.65 L61.59,279.11 L62.87,278.68 L64.16,278.45 L65.47,277.97 L66.80,277.26 L68.14,276.40 L69.50,275.16" stroke="#ff8c00" stroke-opacity="0.95" stroke-width="1.80" fill="none" clip-path="url(#cC)"/>
<path d="M40.10,293.78 L40.47,293.12 L41.00,292.26 L41.63,291.50 L42.32,290.41 L43.07,289.28 L43.87,288.40 L44.70,287.68 L45.57,287.06 L46.48,286.91 L47.42,286.15 L48.38,285.94 L49.37,285.73 L50.39,285.25 L51.43,285.13 L52.50,284.79 L53.58,284.32 L54.69,284.04 L55.81,283.82 L56.95,283.38 L58.12,283.02 L59.30,282.93 L60.49,282.76 L61.71,282.03 L62.94,282.09 L64.18,281.53 L65.44,281.25 L66.71,280.57 L68.00,279.93 L69.30,279.71 L70.62,278.90 L71.95,278.26" stroke="#ff8c00" stroke-opacity="0.95" stroke-width="1.80" fill="none" clip-path="url(#cC)"/>
<path d="M40.10,293.78 L40.52,293.33 L41.14,292.51 L41.86,291.61 L42.65,290.85 L43.51,290.29 L44.43,289.49 L45.39,288.96 L46.39,288.66 L47.43,288.01 L48.50,287.84 L49.61,287.51 L50.75,287.27 L51.92,286.86 L53.12,286.51 L54.34,286.54 L55.58,286.16 L56.85,286.02 L58.15,285.90 L59.46,285.58 L60.79,285.33 L62.15,285.24" stroke="#ff8c00" stroke-opacity="0.95" stroke-width="1.50" fill="none" clip-path="url(#cC)"/>
<path d="M40.10,293.78 L40.40,292.88 L40.84,291.51 L41.35,290.22 L41.91,288.63 L42.52,287.18 L43.17,285.68 L43.85,284.15 L44.57,282.71 L45.31,281.25 L46.07,279.91 L46.86,278.47 L47.67,276.88 L48.50,276.01 L49.35,274.89 L50.21,274.02 L51.10,273.62 L52.00,272.97 L52.92,272.56 L53.85,272.12 L54.80,272.05" stroke="#ff8c00" stroke-opacity="0.95" stroke-width="1.20" fill="none" clip-path="url(#cC)"/>
<path d="M40.10,293.78 L40.24,292.99 L40.44,292.13 L40.67,290.86 L40.93,289.47 L41.21,288.23 L41.51,286.73 L41.82,285.53 L42.15,284.14 L42.49,282.95 L42.84,281.61 L43.20,280.57 L43.57,279.35 L43.95,278.26 L44.34,277.26 L44.74,276.06 L45.14,275.25 L45.55,274.12 L45.98,273.31 L46.40,272.71 L46.84,272.05" stroke="#ff8c00" stroke-opacity="0.95" stroke-width="1.20" fill="none" clip-path="url(#cC)"/>
<path d="M40.10,293.78 L40.29,292.84 L40.56,291.56 L40.88,290.01 L41.23,288.24 L41.62,286.63 L42.02,284.84 L42.45,283.21 L42.89,281.49 L43.35,279.76 L43.83,278.26 L44.32,276.68 L44.83,275.31 L45.35,273.79 L45.88,272.45 L46.42,271.01 L46.97,269.86 L47.54,268.74 L48.11,267.49 L48.69,266.58 L49.29,265.84" stroke="#ff8c00" stroke-opacity="0.95" stroke-width="1.20" fill="none" clip-path="url(#cC)"/>
<path d="M40.10,293.78 L40.33,293.78 L40.67,292.93 L41.07,291.52 L41.51,289.72 L41.99,289.10 L42.49,288.49 L43.02,287.20 L43.58,286.63 L44.15,285.62 L44.75,285.09 L45.36,283.24 L45.99,283.61 L46.64,281.82 L47.30,281.80 L47.97,280.91 L48.66,279.00 L49.36,278.09 L50.08,278.08 L50.80,276.59 L51.54,276.43 L52.29,276.13 L53.05,275.43 L53.82,275.99 L54.60,275.32 L55.39,273.64 L56.19,273.93 L57.00,272.45 L57.82,273.39 L58.65,272.98 L59.48,272.82 L60.33,271.29 L61.18,271.97 L62.04,272.55 L62.91,273.00 L63.79,272.16 L64.67,273.35 L65.56,271.97 L66.46,273.54 L67.36,272.75 L68.28,273.60" stroke="#ff8c00" stroke-opacity="0.95" stroke-width="1.60" fill="none" clip-path="url(#cC)"/>
<path d="M40.10,293.78 L40.29,292.54 L40.57,292.78 L40.90,291.28 L41.27,290.07 L41.66,289.43 L42.08,288.42 L42.51,286.45 L42.97,286.56 L43.45,284.98 L43.94,285.09 L44.45,283.14 L44.97,281.51 L45.50,281.72 L46.05,280.25 L46.60,280.20 L47.17,279.33 L47.75,278.55 L48.34,276.92 L48.94,277.26 L49.55,277.13 L50.17,275.58 L50.80,274.91 L51.44,274.30 L52.08,274.02 L52.73,273.83 L53.39,272.56 L54.06,272.98 L54.74,272.53 L55.42,272.27 L56.11,272.04 L56.81,271.33 L57.51,270.05 L58.23,270.24 L58.94,269.89 L59.67,270.23 L60.40,270.19 L61.13,269.47 L61.87,269.13 L62.62,270.84 L63.38,270.50" stroke="#ff8c00" stroke-opacity="0.95" stroke-width="1.60" fill="none" clip-path="url(#cC)"/>
<path d="M40.10,293.78 L40.36,292.98 L40.75,291.84 L41.21,291.62 L41.71,290.19 L42.25,290.33 L42.82,288.51 L43.42,288.62 L44.06,287.64 L44.71,287.01 L45.39,286.35 L46.08,284.46 L46.80,284.32 L47.53,283.58 L48.29,282.34 L49.06,282.40 L49.84,280.88 L50.64,281.29 L51.45,279.52 L52.28,279.11 L53.12,279.13 L53.97,277.98 L54.83,277.65 L55.71,277.08 L56.60,277.71 L57.50,277.22 L58.41,277.08 L59.33,276.59 L60.26,276.19 L61.20,275.54 L62.15,275.93" stroke="#ff8c00" stroke-opacity="0.95" stroke-width="1.40" fill="none" clip-path="url(#cC)"/>
<path d="M40.10,293.78 L40.37,293.06 L40.78,291.44 L41.24,290.26 L41.76,288.42 L42.32,287.23 L42.92,284.93 L43.54,283.09 L44.19,281.36 L44.87,279.28 L45.57,278.06 L46.29,276.85 L47.04,274.57 L47.80,273.81 L48.58,272.70 L49.37,271.04 L50.18,269.69 L51.01,269.34 L51.85,268.69 L52.71,268.30 L53.58,267.40" stroke="#ff8c00" stroke-opacity="0.95" stroke-width="1.40" fill="none" clip-path="url(#cC)"/>
<path d="M40.10,293.78 L45.37,239.69 L50.64,240.62 L56.64,241.79 L70.85,214.63 L77.09,205.32 L83.34,185.14 L89.10,181.26" stroke="#4169e1" stroke-opacity="0.90" stroke-width="0.95" fill="none" clip-path="url(#cC)"/>
<path d="M40.10,293.78 L45.37,241.09 L50.64,242.18 L56.64,243.18 L70.85,222.39 L77.09,220.84 L83.34,201.44 L89.10,188.24" stroke="#4169e1" stroke-opacity="0.90" stroke-width="0.95" fill="none" clip-path="url(#cC)"/>
<path d="M40.10,293.78 L45.37,244.58 L50.64,246.83 L56.64,246.68 L70.85,223.94 L77.09,222.39 L83.34,201.44 L89.10,204.54" stroke="#4169e1" stroke-opacity="0.90" stroke-width="0.95" fill="none" clip-path="url(#cC)"/>
<path d="M40.10,293.78 L45.37,245.98 L50.64,247.61 L56.64,248.07 L70.85,225.49 L77.09,223.94 L83.34,203.76 L89.10,191.35" stroke="#4169e1" stroke-opacity="0.90" stroke-width="0.95" fill="none" clip-path="url(#cC)"/>
<path d="M40.10,293.78 L45.37,246.83 L50.64,248.77 L56.64,249.55 L70.85,229.37 L77.09,229.37 L83.34,217.73 L89.10,220.06" stroke="#4169e1" stroke-opacity="0.90" stroke-width="0.95" fill="none" clip-path="url(#cC)"/>
<path d="M40.10,293.78 L40.35,294.07 L40.72,294.42 L41.15,294.67 L41.63,295.05 L42.15,295.41 L42.69,295.86 L43.27,296.33 L43.87,296.90 L44.49,297.15 L45.14,297.76 L45.80,298.22 L46.48,298.68 L47.18,299.05 L47.90,299.52 L48.63,300.09 L49.38,300.58 L50.14,301.08 L50.92,301.35 L51.70,301.66 L52.50,302.06 L53.31,302.26 L54.14,302.36 L54.97,302.58 L55.82,302.92 L56.68,302.90 L57.54,303.12 L58.42,303.26 L59.31,303.45 L60.20,303.36 L61.11,303.49 L62.03,303.45 L62.95,303.37 L63.88,303.40 L64.82,303.55 L65.77,303.55 L66.73,303.53 L67.70,303.54 L68.67,303.36 L69.65,303.43 L70.64,303.44 L71.64,303.45 L72.64,303.41 L73.65,303.42 L74.67,303.33 L75.69,303.38 L76.72,303.25 L77.76,303.22 L78.81,303.17 L79.86,303.15 L80.92,303.24 L81.98,303.14 L83.05,302.76 L84.13,303.17 L85.21,302.93 L86.30,303.24 L87.40,302.65 L88.50,303.09 L89.60,303.09 L90.72,302.86 L91.83,303.77 L92.96,303.94 L94.09,303.47 L95.22,303.26 L96.36,303.29 L97.51,302.68 L98.66,301.92 L99.81,301.38 L100.98,300.90 L102.14,300.50 L103.31,300.43 L104.49,299.38 L105.67,298.67 L106.86,298.74 L108.05,297.81 L109.25,298.09 L110.45,297.46 L111.65,297.43 L112.86,297.69 L114.08,297.50 L115.30,297.29 L116.52,297.40 L117.75,297.42 L118.98,296.86 L120.22,296.83 L121.46,296.56 L122.71,295.80 L123.96,295.55 L125.22,295.55 L126.48,295.60 L127.74,294.59 L129.01,294.73 L130.28,294.56 L131.56,293.64 L132.84,293.20 L134.12,293.50 L135.41,292.93 L136.70,292.31 L138.00,292.35 L139.30,292.20 L140.60,292.08 L141.91,291.89 L143.22,290.78 L144.54,290.54 L145.86,290.82 L147.18,290.08 L148.51,289.90" stroke="#4169e1" stroke-opacity="0.90" stroke-width="1.80" fill="none" clip-path="url(#cC)"/>
<path d="M40.10,293.78 L40.35,293.99 L40.72,294.07 L41.15,294.40 L41.62,294.58 L42.13,294.90 L42.67,295.29 L43.24,295.47 L43.84,295.76 L44.46,296.20 L45.10,296.50 L45.76,296.74 L46.44,296.92 L47.13,297.16 L47.84,297.58 L48.57,297.80 L49.31,298.15 L50.07,298.57 L50.83,298.83 L51.62,299.04 L52.41,299.41 L53.22,299.67 L54.03,299.86 L54.86,300.19 L55.70,300.29 L56.55,300.39 L57.41,300.48 L58.28,300.55 L59.16,300.74 L60.05,300.79 L60.95,300.88 L61.86,301.05 L62.78,300.98 L63.70,301.01 L64.64,301.18 L65.58,301.28 L66.53,301.35 L67.49,301.38 L68.46,301.45 L69.43,301.51 L70.41,301.39 L71.40,301.55 L72.40,301.60 L73.40,301.50 L74.41,301.66 L75.43,301.57 L76.45,301.53 L77.48,301.47 L78.52,301.59 L79.56,301.64 L80.61,301.43 L81.67,301.65 L82.73,301.56 L83.80,301.53 L84.88,301.09 L85.96,301.67 L87.04,301.78 L88.14,301.74 L89.23,301.66 L90.34,301.86 L91.45,301.12 L92.56,301.43 L93.68,301.16 L94.81,301.50 L95.94,301.04 L97.08,300.67 L98.22,300.97 L99.37,299.78 L100.52,299.78 L101.68,298.70 L102.84,297.81 L104.01,297.65 L105.18,296.74 L106.36,296.96 L107.54,296.76 L108.73,296.17 L109.92,296.36 L111.12,296.77 L112.32,296.59 L113.52,296.15 L114.74,296.25 L115.95,296.43 L117.17,295.63 L118.39,295.98 L119.62,295.31 L120.86,295.68 L122.09,295.71 L123.33,295.34 L124.58,294.82 L125.83,294.59 L127.08,294.75 L128.34,294.87 L129.61,294.44 L130.87,294.50 L132.14,294.21 L133.42,294.33 L134.70,294.10 L135.98,293.01 L137.27,292.92 L138.56,293.15 L139.85,292.50 L141.15,292.70 L142.45,291.59 L143.76,291.39 L145.07,290.85 L146.39,290.67 L147.70,290.18 L149.02,289.34 L150.35,289.12" stroke="#4169e1" stroke-opacity="0.90" stroke-width="1.10" fill="none" clip-path="url(#cC)"/>
<path d="M40.10,293.78 L40.36,293.77 L40.74,293.75 L41.19,293.68 L41.69,293.49 L42.22,293.51 L42.79,293.47 L43.38,293.32 L44.00,293.31 L44.65,293.18 L45.32,293.06 L46.00,293.07 L46.71,292.97 L47.44,292.82 L48.18,292.76 L48.94,292.68 L49.71,292.74 L50.50,292.52 L51.30,292.51 L52.12,292.51 L52.94,292.32 L53.79,292.40 L54.64,292.22 L55.50,292.33 L56.38,292.29 L57.27,292.21 L58.17,292.17 L59.07,292.16 L59.99,292.11 L60.92,292.21 L61.86,292.10 L62.81,292.15 L63.76,292.04 L64.73,292.08 L65.70,292.06 L66.69,292.14 L67.68,292.01 L68.68,292.10 L69.69,292.10 L70.70,292.05 L71.73,291.98 L72.76,292.04 L73.80,291.99 L74.85,291.95 L75.90,291.98 L76.96,291.97 L78.03,291.90 L79.10,291.81 L80.19,291.78 L81.28,291.82 L82.37,291.71 L83.47,291.48 L84.58,291.52 L85.70,291.80 L86.82,291.84 L87.95,291.20 L89.08,291.32 L90.22,291.54 L91.37,291.20 L92.52,291.24 L93.68,291.15 L94.84,291.25 L96.01,290.99 L97.19,291.10 L98.37,291.03 L99.55,290.99 L100.74,290.66 L101.94,290.51 L103.14,290.78 L104.35,290.83 L105.57,290.64 L106.78,290.24 L108.01,290.40 L109.24,290.53 L110.47,289.92 L111.71,290.08 L112.95,290.22 L114.20,289.70 L115.45,289.75 L116.71,289.45 L117.98,289.35 L119.24,289.26 L120.52,289.11 L121.79,289.31 L123.08,288.94 L124.36,289.02 L125.65,288.80 L126.95,288.95 L128.25,288.58 L129.55,288.80 L130.86,288.18 L132.17,288.48 L133.49,288.11 L134.81,287.80 L136.14,287.88" stroke="#4169e1" stroke-opacity="0.90" stroke-width="1.50" fill="none" clip-path="url(#cC)"/>
<path d="M40.10,293.78 L40.36,293.65 L40.74,293.53 L41.19,293.46 L41.69,293.37 L42.22,293.08 L42.79,293.03 L43.38,292.78 L44.00,292.70 L44.65,292.54 L45.32,292.39 L46.00,292.26 L46.71,292.11 L47.44,292.03 L48.18,291.99 L48.94,291.83 L49.71,291.80 L50.50,291.59 L51.30,291.60 L52.12,291.48 L52.94,291.37 L53.79,291.32 L54.64,291.16 L55.50,291.10 L56.38,291.09 L57.27,291.00 L58.17,290.88 L59.07,290.84 L59.99,290.75 L60.92,290.73 L61.86,290.62 L62.81,290.55 L63.76,290.44 L64.73,290.46 L65.70,290.32 L66.69,290.35 L67.68,290.28 L68.68,290.23 L69.69,290.06 L70.70,290.13 L71.73,290.04 L72.76,289.95 L73.80,289.85 L74.85,289.80 L75.90,289.83 L76.96,289.72 L78.03,289.62 L79.10,289.65 L80.19,289.59 L81.28,289.43 L82.37,289.50 L83.47,289.63 L84.58,289.51 L85.70,289.06 L86.82,289.31 L87.95,289.21 L89.08,289.10 L90.22,288.84 L91.37,289.32 L92.52,289.19 L93.68,289.02 L94.84,288.84 L96.01,289.12 L97.19,288.89 L98.37,288.78 L99.55,289.06 L100.74,288.86 L101.94,288.99 L103.14,288.43 L104.35,288.96 L105.57,288.83 L106.78,288.51 L108.01,288.71 L109.24,288.46 L110.47,288.56 L111.71,288.11 L112.95,288.33 L114.20,288.42 L115.45,288.47 L116.71,288.23 L117.98,287.99 L119.24,287.97 L120.52,287.92 L121.79,287.97 L123.08,287.65 L124.36,287.92 L125.65,287.76 L126.95,287.43 L128.25,287.47 L129.55,287.59 L130.86,287.31 L132.17,287.25 L133.49,287.47 L134.81,287.33 L136.14,287.18" stroke="#4169e1" stroke-opacity="0.90" stroke-width="1.30" fill="none" clip-path="url(#cC)"/>
<path d="M40.10,293.78 L40.35,293.63 L40.72,293.53 L41.15,293.35 L41.63,293.12 L42.15,292.98 L42.69,292.73 L43.27,292.39 L43.87,292.28 L44.49,291.96 L45.14,291.87 L45.80,291.61 L46.48,291.37 L47.18,291.21 L47.90,290.91 L48.63,290.72 L49.38,290.63 L50.14,290.47 L50.92,290.16 L51.70,290.00 L52.50,289.87 L53.31,289.77 L54.14,289.62 L54.97,289.35 L55.82,289.20 L56.68,289.08 L57.54,288.95 L58.42,288.81 L59.31,288.65 L60.20,288.50 L61.11,288.33 L62.03,288.23 L62.95,288.10 L63.88,287.99 L64.82,287.79 L65.77,287.62 L66.73,287.61 L67.70,287.40 L68.67,287.30 L69.65,287.25 L70.64,287.15 L71.64,286.94 L72.64,286.94 L73.65,286.84 L74.67,286.75 L75.69,286.53 L76.72,286.50 L77.76,286.45 L78.81,286.30 L79.86,286.16 L80.92,286.07 L81.98,286.03 L83.05,285.67 L84.13,285.69 L85.21,285.88 L86.30,285.80 L87.40,285.81 L88.50,285.93 L89.60,285.57 L90.72,285.79 L91.83,285.57 L92.96,285.50 L94.09,285.87 L95.22,285.95 L96.36,285.96 L97.51,285.96 L98.66,286.31 L99.81,286.17 L100.98,286.30 L102.14,286.51 L103.31,286.15 L104.49,286.31 L105.67,286.52 L106.86,286.84 L108.05,286.50 L109.25,286.77 L110.45,286.51 L111.65,286.68 L112.86,286.95 L114.08,286.64 L115.30,286.74 L116.52,286.89 L117.75,286.61 L118.98,286.90 L120.22,287.02 L121.46,287.08 L122.71,286.73 L123.96,286.94 L125.22,287.01 L126.48,287.08 L127.74,286.63 L129.01,286.93 L130.28,286.57 L131.56,286.55 L132.84,286.60 L134.12,286.97 L135.41,286.52 L136.70,286.70 L138.00,286.40 L139.30,286.05 L140.60,285.97 L141.91,285.37 L143.22,284.41 L144.54,284.08 L145.86,283.45 L147.18,282.72 L148.51,281.67" stroke="#4169e1" stroke-opacity="0.90" stroke-width="1.30" fill="none" clip-path="url(#cC)"/>
<path d="M40.10,293.78 L40.36,293.61 L40.74,293.42 L41.19,293.05 L41.69,292.91 L42.22,292.54 L42.79,292.18 L43.38,291.88 L44.00,291.53 L44.65,291.26 L45.32,290.95 L46.00,290.68 L46.71,290.46 L47.44,290.28 L48.18,290.10 L48.94,289.88 L49.71,289.73 L50.50,289.54 L51.30,289.32 L52.12,289.16 L52.94,289.00 L53.79,288.88 L54.64,288.58 L55.50,288.53 L56.38,288.35 L57.27,288.22 L58.17,288.04 L59.07,287.86 L59.99,287.69 L60.92,287.60 L61.86,287.42 L62.81,287.37 L63.76,287.22 L64.73,287.11 L65.70,286.89 L66.69,286.89 L67.68,286.75 L68.68,286.55 L69.69,286.51 L70.70,286.42 L71.73,286.25 L72.76,286.12 L73.80,286.00 L74.85,285.92 L75.90,285.79 L76.96,285.69 L78.03,285.61 L79.10,285.46 L80.19,285.40 L81.28,285.31 L82.37,285.09 L83.47,284.82 L84.58,285.03 L85.70,284.82 L86.82,284.98 L87.95,284.90 L89.08,284.46 L90.22,284.05 L91.37,284.44 L92.52,284.04 L93.68,283.65 L94.84,283.96 L96.01,283.41 L97.19,283.41 L98.37,282.91 L99.55,282.66 L100.74,282.41 L101.94,282.26 L103.14,282.48 L104.35,281.92 L105.57,281.77 L106.78,281.72 L108.01,281.58 L109.24,281.22 L110.47,281.06 L111.71,280.90 L112.95,280.39 L114.20,280.68 L115.45,280.14 L116.71,280.43 L117.98,279.94 L119.24,279.94 L120.52,279.83 L121.79,279.63 L123.08,279.71 L124.36,279.52 L125.65,279.26 L126.95,279.27 L128.25,278.73 L129.55,278.71 L130.86,278.62 L132.17,278.47 L133.49,278.68 L134.81,278.67 L136.14,278.26" stroke="#4169e1" stroke-opacity="0.90" stroke-width="1.30" fill="none" clip-path="url(#cC)"/>
<path d="M40.10,293.78 L40.36,293.64 L40.74,293.22 L41.19,292.93 L41.69,292.48 L42.22,292.19 L42.79,291.78 L43.38,291.34 L44.00,290.92 L44.65,290.62 L45.32,290.27 L46.00,290.00 L46.71,289.77 L47.44,289.44 L48.18,289.22 L48.94,289.08 L49.71,288.93 L50.50,288.63 L51.30,288.52 L52.12,288.31 L52.94,288.20 L53.79,288.09 L54.64,287.84 L55.50,287.79 L56.38,287.51 L57.27,287.48 L58.17,287.30 L59.07,287.22 L59.99,287.05 L60.92,286.86 L61.86,286.82 L62.81,286.70 L63.76,286.59 L64.73,286.48 L65.70,286.28 L66.69,286.21 L67.68,286.01 L68.68,285.90 L69.69,285.79 L70.70,285.59 L71.73,285.44 L72.76,285.40 L73.80,285.16 L74.85,284.99 L75.90,284.88 L76.96,284.58 L78.03,284.48 L79.10,284.16 L80.19,283.90 L81.28,283.71 L82.37,283.48 L83.47,283.20 L84.58,283.14 L85.70,283.13 L86.82,282.78 L87.95,282.66 L89.08,282.20 L90.22,282.01 L91.37,281.82 L92.52,282.08 L93.68,281.60 L94.84,281.47 L96.01,281.90 L97.19,281.45 L98.37,281.62 L99.55,281.51 L100.74,281.17 L101.94,280.90 L103.14,281.11 L104.35,280.91 L105.57,280.69 L106.78,280.54 L108.01,280.67 L109.24,280.52 L110.47,280.48 L111.71,280.15 L112.95,279.59 L114.20,279.93 L115.45,279.42 L116.71,279.32 L117.98,279.02 L119.24,278.88 L120.52,279.17 L121.79,278.82 L123.08,278.32 L124.36,278.25 L125.65,277.93 L126.95,278.24 L128.25,277.54 L129.55,277.61 L130.86,277.16 L132.17,277.08 L133.49,277.00 L134.81,276.68 L136.14,276.48" stroke="#4169e1" stroke-opacity="0.90" stroke-width="1.50" fill="none" clip-path="url(#cC)"/>
<path d="M40.10,293.78 L40.36,293.60 L40.74,293.10 L41.19,292.68 L41.69,292.26 L42.22,291.78 L42.79,291.27 L43.38,290.83 L44.00,290.40 L44.65,289.90 L45.32,289.46 L46.00,289.15 L46.71,288.90 L47.44,288.76 L48.18,288.51 L48.94,288.30 L49.71,288.06 L50.50,287.83 L51.30,287.70 L52.12,287.54 L52.94,287.41 L53.79,287.30 L54.64,287.13 L55.50,286.87 L56.38,286.73 L57.27,286.62 L58.17,286.48 L59.07,286.41 L59.99,286.32 L60.92,286.19 L61.86,286.07 L62.81,285.93 L63.76,285.69 L64.73,285.64 L65.70,285.58 L66.69,285.48 L67.68,285.37 L68.68,285.25 L69.69,285.10 L70.70,284.93 L71.73,284.81 L72.76,284.64 L73.80,284.40 L74.85,284.29 L75.90,284.07 L76.96,283.73 L78.03,283.55 L79.10,283.23 L80.19,283.02 L81.28,282.68 L82.37,282.52 L83.47,282.32 L84.58,281.70 L85.70,281.82 L86.82,281.40 L87.95,281.47 L89.08,281.36 L90.22,281.00 L91.37,280.82 L92.52,280.93 L93.68,280.48 L94.84,280.40 L96.01,280.30 L97.19,279.92 L98.37,279.70 L99.55,279.87 L100.74,279.81 L101.94,279.39 L103.14,279.27 L104.35,279.30 L105.57,279.11 L106.78,279.15 L108.01,278.78 L109.24,278.73 L110.47,278.42 L111.71,278.62 L112.95,278.61 L114.20,277.96 L115.45,277.97 L116.71,277.67 L117.98,277.54 L119.24,277.35 L120.52,277.44 L121.79,276.95 L123.08,276.93 L124.36,276.89 L125.65,276.86 L126.95,276.72 L128.25,276.46 L129.55,276.22 L130.86,276.02 L132.17,275.66 L133.49,275.26 L134.81,275.31 L136.14,275.16" stroke="#4169e1" stroke-opacity="0.90" stroke-width="1.00" fill="none" clip-path="url(#cC)"/>
<path d="M40.10,293.78 L40.41,293.43 L40.85,292.91 L41.37,292.32 L41.95,291.68 L42.57,291.00 L43.24,290.30 L43.93,289.60 L44.66,288.91 L45.41,288.24 L46.19,287.60 L47.00,286.98 L47.82,286.35 L48.67,285.73 L49.54,285.11 L50.42,284.50 L51.32,283.91 L52.24,283.35 L53.18,282.81 L54.13,282.32 L55.10,281.87 L56.08,281.47 L57.08,281.13 L58.09,280.81 L59.11,280.51 L60.15,280.22 L61.20,279.95 L62.26,279.70 L63.33,279.46 L64.42,279.23 L65.51,279.01 L66.62,278.79 L67.74,278.57 L68.87,278.36 L70.00,278.14 L71.15,277.91 L72.31,277.67 L73.48,277.42 L74.66,277.19 L75.84,276.99 L77.04,276.79 L78.24,276.55 L79.46,276.26 L80.68,275.88 L81.91,275.21 L83.15,274.26 L84.40,273.16 L85.65,272.06 L86.92,270.91 L88.19,269.69 L89.47,268.68 L90.76,267.78 L92.05,266.93 L93.36,266.13 L94.67,265.41 L95.98,264.79 L97.31,264.29" stroke="#4169e1" stroke-opacity="0.90" stroke-width="1.00" fill="none" clip-path="url(#cC)"/>
<path d="M40.10,293.78 L40.41,293.43 L40.85,292.91 L41.37,292.32 L41.95,291.68 L42.57,291.00 L43.24,290.30 L43.93,289.60 L44.66,288.91 L45.41,288.24 L46.19,287.60 L47.00,286.98 L47.82,286.35 L48.67,285.73 L49.54,285.11 L50.42,284.50 L51.32,283.91 L52.24,283.35 L53.18,282.81 L54.13,282.32 L55.10,281.87 L56.08,281.47 L57.08,281.13 L58.09,280.81 L59.11,280.51 L60.15,280.22 L61.20,279.95 L62.26,279.70 L63.33,279.46 L64.42,279.23 L65.51,279.01 L66.62,278.79 L67.74,278.57 L68.87,278.36 L70.00,278.14 L71.15,277.91 L72.31,277.67 L73.48,277.42 L74.66,277.20 L75.84,277.01 L77.04,276.81 L78.24,276.58 L79.46,276.28 L80.68,275.87 L81.91,274.89 L83.15,273.35 L84.40,271.63 L85.65,270.13 L86.92,268.88 L88.19,267.72 L89.47,266.74 L90.76,265.84 L92.05,264.99 L93.36,264.19 L94.67,263.47 L95.98,262.85 L97.31,262.35" stroke="#4169e1" stroke-opacity="0.90" stroke-width="1.00" fill="none" clip-path="url(#cC)"/>
<path d="M40.10,293.78 L40.41,293.43 L40.85,292.91 L41.37,292.32 L41.95,291.68 L42.57,291.00 L43.24,290.30 L43.93,289.60 L44.66,288.91 L45.41,288.24 L46.19,287.60 L47.00,286.98 L47.82,286.35 L48.67,285.73 L49.54,285.11 L50.42,284.50 L51.32,283.91 L52.24,283.35 L53.18,282.81 L54.13,282.32 L55.10,281.87 L56.08,281.47 L57.08,281.13 L58.09,280.81 L59.11,280.51 L60.15,280.22 L61.20,279.95 L62.26,279.70 L63.33,279.46 L64.42,279.23 L65.51,279.01 L66.62,278.79 L67.74,278.57 L68.87,278.36 L70.00,278.14 L71.15,277.91 L72.31,277.67 L73.48,277.42 L74.66,277.21 L75.84,277.02 L77.04,276.83 L78.24,276.60 L79.46,276.29 L80.68,275.86 L81.91,274.56 L83.15,272.42 L84.40,270.07 L85.65,268.19 L86.92,266.88 L88.19,265.76 L89.47,264.80 L90.76,263.90 L92.05,263.05 L93.36,262.25 L94.67,261.53 L95.98,260.91 L97.31,260.41" stroke="#4169e1" stroke-opacity="0.90" stroke-width="1.00" fill="none" clip-path="url(#cC)"/>
<path d="M40.10,293.78 L40.46,293.49 L40.99,293.26 L41.60,292.66 L42.28,292.20 L43.02,291.59 L43.80,291.09 L44.62,290.38 L45.48,289.73 L46.37,288.94 L47.29,288.25 L48.24,287.36 L49.21,286.50 L50.21,285.70 L51.23,284.78 L52.27,283.77 L53.34,282.81 L54.43,281.66 L55.53,280.58 L56.65,279.54 L57.80,278.24 L58.96,276.98 L60.13,275.33 L61.32,273.92 L62.53,272.61 L63.75,271.28 L64.99,269.93 L66.24,269.05 L67.51,268.51 L68.79,268.13 L70.08,267.69 L71.38,266.94 L72.70,265.70 L74.03,262.27" stroke="#f5cf1a" stroke-opacity="0.90" stroke-width="1.70" fill="none" clip-path="url(#cC)"/>
<path d="M40.10,293.78 L40.46,293.55 L40.99,293.38 L41.60,292.99 L42.28,292.60 L43.02,291.97 L43.80,291.47 L44.62,290.91 L45.48,290.44 L46.37,289.84 L47.29,289.23 L48.24,288.48 L49.21,287.72 L50.21,286.92 L51.23,286.09 L52.27,285.12 L53.34,284.16 L54.43,283.28 L55.53,282.14 L56.65,281.14 L57.80,279.85 L58.96,278.23 L60.13,276.78 L61.32,275.13 L62.53,273.32 L63.75,271.99 L64.99,270.80 L66.24,269.79 L67.51,268.98 L68.79,268.41 L70.08,267.65 L71.38,267.15 L72.70,266.34 L74.03,265.84" stroke="#f5cf1a" stroke-opacity="0.90" stroke-width="1.70" fill="none" clip-path="url(#cC)"/>
<path d="M40.10,293.78 L40.29,293.76 L40.56,293.59 L40.88,293.87 L41.23,293.54 L41.61,292.81 L42.02,292.91 L42.44,291.85 L42.88,291.08 L43.34,291.76 L43.82,290.81 L44.31,290.75 L44.82,290.42 L45.33,289.93 L45.86,290.08 L46.40,289.37 L46.96,290.08 L47.52,289.12 L48.09,289.12 L48.67,289.38 L49.26,289.13 L49.86,287.93 L50.47,288.17 L51.09,288.18 L51.71,288.00 L52.35,287.33 L52.99,287.46 L53.64,287.87 L54.29,286.70 L54.95,286.66 L55.62,286.59 L56.30,286.53 L56.98,286.42 L57.67,286.76 L58.36,285.70 L59.07,285.94 L59.77,286.58 L60.49,285.55 L61.21,285.96 L61.93,286.35 L62.66,285.08 L63.40,285.87 L64.14,285.47 L64.89,285.79 L65.64,285.05 L66.39,284.87 L67.16,284.30 L67.92,283.93 L68.70,283.80 L69.47,283.79 L70.25,283.78 L71.04,282.65 L71.83,283.29 L72.63,282.91 L73.43,282.44 L74.23,282.71 L75.04,282.45 L75.85,283.11 L76.67,282.99 L77.49,283.42 L78.32,282.92" stroke="#f5cf1a" stroke-opacity="0.90" stroke-width="1.50" fill="none" clip-path="url(#cC)"/>
<path d="M40.10,293.78 L40.28,293.75 L40.54,293.82 L40.85,292.80 L41.19,293.34 L41.55,293.17 L41.94,292.17 L42.35,292.62 L42.78,291.43 L43.22,291.58 L43.68,291.82 L44.15,290.76 L44.64,290.06 L45.13,290.74 L45.64,290.12 L46.16,289.87 L46.69,289.05 L47.23,288.74 L47.78,289.78 L48.34,289.09 L48.91,288.24 L49.49,288.54 L50.07,288.18 L50.67,287.86 L51.27,288.41 L51.88,288.14 L52.49,286.72 L53.11,287.20 L53.74,286.92 L54.38,286.55 L55.03,286.08 L55.68,285.68 L56.33,286.62 L56.99,285.67 L57.66,286.37 L58.34,285.44 L59.02,284.90 L59.70,285.21 L60.39,285.21 L61.09,284.38 L61.79,284.47 L62.50,284.01 L63.21,284.38 L63.93,284.56 L64.66,283.87 L65.38,284.01 L66.12,284.52 L66.85,284.17 L67.60,282.84 L68.34,283.08 L69.09,283.70 L69.85,282.42 L70.61,282.11 L71.38,282.82 L72.15,281.27 L72.92,282.25 L73.70,281.74 L74.48,281.52 L75.27,281.99 L76.06,282.43 L76.85,282.53" stroke="#f5cf1a" stroke-opacity="0.90" stroke-width="1.50" fill="none" clip-path="url(#cC)"/>
<path d="M40.10,293.78 L40.44,293.57 L40.94,293.20 L41.52,292.71 L42.16,292.35 L42.85,291.91 L43.58,291.59 L44.36,291.34 L45.16,291.06 L46.00,290.57 L46.87,290.36 L47.76,290.41 L48.68,290.05 L49.62,290.06 L50.58,290.02 L51.57,289.73 L52.57,289.43 L53.59,289.45 L54.63,289.22 L55.69,289.08 L56.77,288.96 L57.86,289.02 L58.96,288.66 L60.09,288.87 L61.22,288.59 L62.38,288.65 L63.54,288.42 L64.72,288.11 L65.91,288.02 L67.12,287.82 L68.33,287.86 L69.56,287.72 L70.80,287.69 L72.06,287.38 L73.32,287.01 L74.60,287.00 L75.88,286.55 L77.18,286.50 L78.49,286.03 L79.81,285.98 L81.14,285.55" stroke="#f5cf1a" stroke-opacity="0.90" stroke-width="1.40" fill="none" clip-path="url(#cC)"/>
<path d="M40.10,293.78 L40.45,293.43 L40.95,293.40 L41.54,293.07 L42.19,292.54 L42.90,292.10 L43.65,291.73 L44.43,291.45 L45.26,290.99 L46.11,290.81 L46.99,290.45 L47.90,290.14 L48.83,289.84 L49.79,289.58 L50.77,289.22 L51.77,288.82 L52.79,288.53 L53.84,288.39 L54.90,288.11 L55.97,288.05 L57.07,287.81 L58.18,287.98 L59.31,287.67 L60.45,287.57 L61.61,287.61 L62.78,287.54 L63.96,287.39 L65.16,287.61 L66.38,287.58 L67.60,287.41 L68.84,287.31 L70.09,287.32 L71.36,287.29 L72.63,287.25 L73.92,287.18 L75.22,286.98 L76.53,287.16 L77.85,286.90 L79.18,287.00 L80.53,286.80" stroke="#f5cf1a" stroke-opacity="0.90" stroke-width="1.50" fill="none" clip-path="url(#cC)"/>
<path d="M40.10,293.78 L40.45,293.44 L40.95,293.29 L41.54,292.74 L42.20,292.47 L42.91,291.94 L43.66,291.55 L44.45,290.98 L45.27,290.72 L46.13,290.32 L47.01,289.97 L47.92,289.68 L48.86,289.10 L49.82,288.93 L50.80,288.64 L51.81,288.30 L52.83,287.84 L53.88,287.51 L54.94,287.38 L56.02,287.09 L57.12,287.19 L58.23,286.85 L59.36,286.77 L60.51,286.82 L61.67,286.75 L62.85,286.54 L64.03,286.45 L65.24,286.33 L66.46,286.18 L67.69,286.26 L68.93,286.20 L70.18,286.13 L71.45,286.15 L72.73,286.04 L74.02,285.99 L75.33,286.09 L76.64,286.13 L77.96,285.95 L79.30,286.02" stroke="#f5cf1a" stroke-opacity="0.90" stroke-width="1.50" fill="none" clip-path="url(#cC)"/>
<path d="M40.10,293.78 L40.27,294.29 L40.53,293.12 L40.82,293.34 L41.15,293.76 L41.50,293.93 L41.88,292.62 L42.28,293.61 L42.69,292.43 L43.12,292.57 L43.56,292.18 L44.02,292.69 L44.48,291.77 L44.96,292.24 L45.46,291.58 L45.96,290.86 L46.47,291.18 L46.99,291.58 L47.53,291.26 L48.07,290.81 L48.62,290.00 L49.17,289.83 L49.74,290.17 L50.31,289.67 L50.89,289.76 L51.48,289.33 L52.08,289.34 L52.68,288.22 L53.29,288.77 L53.91,288.60 L54.53,287.92 L55.16,288.23 L55.79,288.12 L56.43,287.40 L57.08,286.60 L57.73,286.98 L58.39,286.83 L59.05,286.54 L59.72,285.83 L60.39,286.02 L61.07,285.37 L61.75,285.12 L62.44,285.50 L63.14,284.81 L63.84,283.83 L64.54,284.38 L65.25,283.33 L65.96,283.97 L66.68,283.09 L67.40,282.86 L68.13,282.16 L68.86,282.65 L69.59,282.14 L70.33,281.53 L71.08,280.80 L71.83,281.54 L72.58,281.29 L73.33,282.03 L74.09,281.65 L74.86,283.20 L75.62,282.92" stroke="#f5cf1a" stroke-opacity="0.90" stroke-width="2.20" fill="none" clip-path="url(#cC)"/>
<path d="M40.10,293.78 L40.29,293.19 L40.57,293.93 L40.90,293.85 L41.26,293.27 L41.65,293.27 L42.06,292.29 L42.50,292.20 L42.96,292.32 L43.43,292.80 L43.92,292.63 L44.42,292.14 L44.94,292.10 L45.47,292.04 L46.01,291.85 L46.57,291.56 L47.13,291.29 L47.71,291.34 L48.29,290.84 L48.89,289.72 L49.50,289.65 L50.11,289.73 L50.74,289.03 L51.37,288.82 L52.01,289.77 L52.66,289.60 L53.32,288.96 L53.98,288.44 L54.65,287.55 L55.33,288.67 L56.02,287.49 L56.71,287.11 L57.41,287.61 L58.12,286.66 L58.83,286.27 L59.55,287.11 L60.28,286.07 L61.01,286.08 L61.75,285.41 L62.49,286.03 L63.24,285.06 L64.00,285.72 L64.76,285.43 L65.52,284.61 L66.29,284.48 L67.07,284.12 L67.85,284.21 L68.64,282.91 L69.43,283.49 L70.23,283.16 L71.03,283.19 L71.83,282.39 L72.65,283.40 L73.46,282.37 L74.28,283.46 L75.11,282.59 L75.94,283.30 L76.77,283.16 L77.61,283.77 L78.45,283.09 L79.30,283.69" stroke="#f5cf1a" stroke-opacity="0.90" stroke-width="1.80" fill="none" clip-path="url(#cC)"/>
<path d="M40.10,293.78 L40.30,294.08 L40.59,292.89 L40.92,292.82 L41.30,292.11 L41.70,291.63 L42.13,291.60 L42.58,292.30 L43.04,290.85 L43.53,291.68 L44.04,290.11 L44.56,289.55 L45.09,290.49 L45.64,290.28 L46.20,288.62 L46.77,289.03 L47.35,288.13 L47.95,287.54 L48.55,286.98 L49.17,287.34 L49.79,286.46 L50.43,286.00 L51.07,285.90 L51.72,286.23 L52.38,284.98 L53.05,285.47 L53.73,284.33 L54.42,284.86 L55.11,284.35 L55.81,284.76 L56.52,284.29 L57.23,282.55 L57.95,282.98 L58.68,282.14 L59.42,282.19 L60.16,281.39 L60.91,281.34 L61.66,281.60 L62.42,280.93 L63.19,280.03 L63.96,280.47 L64.74,278.81 L65.53,279.96 L66.32,278.80 L67.11,278.00 L67.91,277.98 L68.72,278.73 L69.53,278.60 L70.35,277.42 L71.17,277.75 L71.99,278.11 L72.83,277.89 L73.66,276.79 L74.50,277.65 L75.35,276.99 L76.20,275.67 L77.06,276.59 L77.92,275.35 L78.78,276.48 L79.65,275.93 L80.53,275.16" stroke="#b8860b" stroke-opacity="0.90" stroke-width="1.40" fill="none" clip-path="url(#cC)"/>
<path d="M40.10,293.78 L40.30,294.38 L40.59,293.00 L40.92,293.01 L41.30,292.38 L41.70,291.98 L42.13,291.80 L42.58,292.49 L43.04,291.54 L43.53,291.88 L44.04,290.22 L44.56,290.54 L45.09,290.00 L45.64,288.89 L46.20,288.32 L46.77,288.57 L47.35,288.52 L47.95,287.29 L48.55,286.92 L49.17,287.54 L49.79,286.71 L50.43,285.45 L51.07,284.96 L51.72,284.65 L52.38,284.94 L53.05,285.05 L53.73,283.41 L54.42,284.15 L55.11,283.07 L55.81,283.03 L56.52,281.88 L57.23,282.30 L57.95,281.89 L58.68,280.71 L59.42,280.53 L60.16,279.69 L60.91,280.78 L61.66,280.38 L62.42,279.10 L63.19,279.04 L63.96,278.02 L64.74,278.41 L65.53,278.79 L66.32,277.78 L67.11,277.88 L67.91,276.70 L68.72,276.46 L69.53,276.17 L70.35,277.26 L71.17,276.33 L71.99,276.78 L72.83,275.30 L73.66,276.49 L74.50,275.44 L75.35,275.11 L76.20,275.75 L77.06,274.87 L77.92,275.40 L78.78,275.27 L79.65,274.62 L80.53,273.99" stroke="#b8860b" stroke-opacity="0.90" stroke-width="1.40" fill="none" clip-path="url(#cC)"/>
<path d="M40.10,293.78 L40.30,294.34 L40.59,293.51 L40.92,292.86 L41.30,292.16 L41.70,292.97 L42.13,292.28 L42.58,291.58 L43.04,291.85 L43.53,291.49 L44.04,291.01 L44.56,289.83 L45.09,290.22 L45.64,289.12 L46.20,289.74 L46.77,289.03 L47.35,288.60 L47.95,288.22 L48.55,287.85 L49.17,286.94 L49.79,285.73 L50.43,285.46 L51.07,284.38 L51.72,284.98 L52.38,284.48 L53.05,284.06 L53.73,283.14 L54.42,283.26 L55.11,281.65 L55.81,281.84 L56.52,282.06 L57.23,280.87 L57.95,280.60 L58.68,280.59 L59.42,280.01 L60.16,279.01 L60.91,278.08 L61.66,278.36 L62.42,278.58 L63.19,278.61 L63.96,277.78 L64.74,277.60 L65.53,276.98 L66.32,276.65 L67.11,276.66 L67.91,276.60 L68.72,275.09 L69.53,274.86 L70.35,275.06 L71.17,274.55 L71.99,274.99 L72.83,274.53 L73.66,274.84 L74.50,274.26 L75.35,273.73 L76.20,273.74 L77.06,273.35 L77.92,273.42 L78.78,273.62 L79.65,272.59 L80.53,272.83" stroke="#b8860b" stroke-opacity="0.90" stroke-width="1.40" fill="none" clip-path="url(#cC)"/>
<path d="M40.10,293.78 L40.45,293.42 L40.96,293.29 L41.55,292.91 L42.21,292.53 L42.92,291.99 L43.67,291.54 L44.46,291.04 L45.29,290.55 L46.14,290.00 L47.03,289.52 L47.95,288.68 L48.89,288.32 L49.85,287.68 L50.83,286.75 L51.84,286.29 L52.87,285.61 L53.92,285.27 L54.98,285.03 L56.07,284.85 L57.17,284.57 L58.29,284.84 L59.42,284.72 L60.57,284.77 L61.73,284.66 L62.91,284.74 L64.10,284.61 L65.31,284.79 L66.53,284.69 L67.77,284.55 L69.01,284.69 L70.27,284.56 L71.54,284.84 L72.83,284.58 L74.12,284.73 L75.43,284.49 L76.75,284.50 L78.08,284.47" stroke="#b8860b" stroke-opacity="0.90" stroke-width="1.20" fill="none" clip-path="url(#cC)"/>
<path d="M40.10,293.78 L45.61,274.38 L48.19,239.30" stroke="#b8860b" stroke-opacity="0.90" stroke-width="1.00" fill="none" clip-path="url(#cC)"/>
<path d="M40.10,293.78 L47.45,274.38 L49.53,251.88" stroke="#b8860b" stroke-opacity="0.90" stroke-width="1.00" fill="none" clip-path="url(#cC)"/>
<path d="M40.10,293.78 L40.51,292.80 L41.10,291.36 L41.79,289.73 L42.56,288.07 L43.38,286.58 L44.26,285.40 L45.19,284.32 L46.15,283.28 L47.15,282.31 L48.19,281.38 L49.25,280.51 L50.35,279.69 L51.47,278.89 L52.62,278.11 L53.80,277.33 L55.00,276.52 L56.22,275.67 L57.46,274.78 L58.73,273.90 L60.01,273.03 L61.31,272.18 L62.64,271.34 L63.98,270.52 L65.34,269.72" stroke="#4169e1" stroke-opacity="0.95" stroke-width="1.90" fill="none" clip-path="url(#cC)"/>
<path d="M40.10,293.78 L42.43,253.43" stroke="#b22222" stroke-opacity="0.90" stroke-width="1.20" fill="none" clip-path="url(#cC)"/>
<path d="M40.10,293.78 L43.16,251.26" stroke="#b22222" stroke-opacity="0.90" stroke-width="1.20" fill="none" clip-path="url(#cC)"/>
<path d="M40.10,293.78 L41.57,262.74" stroke="#b22222" stroke-opacity="0.90" stroke-width="1.20" fill="none" clip-path="url(#cC)"/>
<path d="M40.10,293.78 L42.80,258.86" stroke="#b22222" stroke-opacity="0.90" stroke-width="1.20" fill="none" clip-path="url(#cC)"/>
<path d="M248.70,293.88 L249.62,293.51 L250.96,293.14 L252.53,292.51 L254.27,291.96 L256.14,291.42 L258.13,290.67 L260.23,290.21 L262.41,289.47 L264.68,288.96 L267.02,288.44 L269.44,287.82 L271.93,287.35 L274.47,286.87 L277.08,286.47 L279.74,285.90 L282.46,285.50 L285.23,285.23 L288.04,284.86 L290.91,284.26 L293.82,284.04 L296.77,283.80 L299.77,283.51 L302.81,283.16 L305.89,283.09 L309.00,282.89 L312.16,282.67 L315.35,282.60 L318.58,282.39 L321.84,282.19 L325.13,282.09 L328.46,282.01 L331.82,281.88 L335.21,281.84 L338.64,281.65 L342.09,281.54 L345.58,281.45 L349.09,281.37 L352.63,281.22 L356.20,281.25 L359.80,281.04 L363.42,280.90 L367.07,281.03 L370.75,280.90 L374.45,280.65 L378.18,280.79 L381.93,280.54 L385.71,280.53 L389.51,280.58 L393.34,280.38 L397.18,280.45 L401.06,279.94 L404.95,280.38 L408.87,279.74 L412.81,279.69 L416.77,280.33 L420.75,280.00 L424.76,280.16 L428.79,279.52 L432.83,280.06 L436.90,280.01 L440.99,279.89 L445.09,279.13 L449.22,279.62 L453.37,279.48 L457.54,279.29 L461.72,279.12 L465.93,279.17 L470.15,278.61 L474.40,279.10 L478.66,278.90 L482.94,278.47 L487.24,278.98 L491.55,278.98 L495.89,278.29 L500.24,278.71 L504.61,278.11 L508.99,278.11 L513.39,278.47 L517.81,278.44 L522.25,278.60 L526.70,277.82 L531.17,278.17 L535.66,278.20 L540.16,278.31 L544.68,278.21 L549.22,277.55 L553.77,278.20 L558.33,277.76 L562.92,277.65 L567.51,277.71 L572.13,277.68 L576.75,277.74 L581.40,277.90 L586.06,277.58" stroke="#b3c6e0" stroke-opacity="0.90" stroke-width="1.15" fill="none" clip-path="url(#cD)"/>
<path d="M248.70,293.88 L249.62,293.56 L250.96,293.19 L252.53,292.86 L254.27,292.49 L256.14,291.87 L258.13,291.56 L260.23,291.09 L262.41,290.52 L264.68,290.03 L267.02,289.67 L269.44,289.42 L271.93,288.90 L274.47,288.78 L277.08,288.43 L279.74,287.99 L282.46,287.76 L285.23,287.50 L288.04,287.40 L290.91,286.98 L293.82,286.86 L296.77,286.75 L299.77,286.38 L302.81,286.17 L305.89,286.23 L309.00,285.99 L312.16,285.75 L315.35,285.76 L318.58,285.63 L321.84,285.40 L325.13,285.36 L328.46,285.11 L331.82,285.03 L335.21,284.92 L338.64,284.85 L342.09,284.87 L345.58,284.65 L349.09,284.58 L352.63,284.51 L356.20,284.40 L359.80,284.37 L363.42,284.31 L367.07,284.06 L370.75,284.10 L374.45,284.08 L378.18,283.80 L381.93,283.83 L385.71,283.71 L389.51,283.71 L393.34,283.67 L397.18,283.55 L401.06,283.13 L404.95,283.57 L408.87,282.89 L412.81,283.37 L416.77,282.74 L420.75,283.32 L424.76,282.98 L428.79,283.18 L432.83,283.08 L436.90,282.64 L440.99,282.70 L445.09,282.45 L449.22,282.66 L453.37,282.48 L457.54,282.38 L461.72,281.76 L465.93,282.43 L470.15,282.03 L474.40,281.53 L478.66,281.71 L482.94,281.92 L487.24,281.14 L491.55,281.88 L495.89,281.77 L500.24,281.80 L504.61,281.32 L508.99,280.85 L513.39,281.30 L517.81,281.22 L522.25,280.66 L526.70,281.25 L531.17,281.23 L535.66,280.55 L540.16,281.01 L544.68,280.52 L549.22,280.80 L553.77,280.30 L558.33,280.00 L562.92,280.30 L567.51,280.39 L572.13,280.00 L576.75,279.86 L581.40,280.39 L586.06,279.91" stroke="#b3c6e0" stroke-opacity="0.90" stroke-width="1.15" fill="none" clip-path="url(#cD)"/>
<path d="M248.70,293.88 L249.62,293.52 L250.96,292.84 L252.53,292.06 L254.27,291.32 L256.14,290.34 L258.13,289.57 L260.23,288.44 L262.41,287.68 L264.68,286.78 L267.02,285.90 L269.44,284.97 L271.93,284.03 L274.47,282.89 L277.08,282.08 L279.74,281.09 L282.46,279.96 L285.23,278.98 L288.04,278.10 L290.91,277.34 L293.82,276.45 L296.77,275.58 L299.77,274.93 L302.81,274.27 L305.89,273.80 L309.00,273.35 L312.16,272.79 L315.35,272.45 L318.58,272.15 L321.84,271.81 L325.13,271.46 L328.46,271.15 L331.82,271.08 L335.21,270.56 L338.64,270.42 L342.09,270.21 L345.58,269.77 L349.09,269.58 L352.63,269.44 L356.20,269.27 L359.80,268.86 L363.42,268.54 L367.07,268.23 L370.75,267.95 L374.45,267.43 L378.18,267.14 L381.93,266.58 L385.71,266.25 L389.51,265.92 L393.34,265.34 L397.18,265.05 L401.06,265.15 L404.95,264.51 L408.87,264.42 L412.81,263.59 L416.77,262.65 L420.75,262.30 L424.76,262.35 L428.79,262.67 L432.83,262.26 L436.90,262.01 L440.99,261.50 L445.09,260.87 L449.22,261.33 L453.37,260.45 L457.54,260.23 L461.72,259.65 L465.93,259.15 L470.15,259.39 L474.40,258.85 L478.66,258.97 L482.94,258.46 L487.24,257.96 L491.55,258.41 L495.89,257.56 L500.24,257.31 L504.61,257.45 L508.99,257.11 L513.39,256.14 L517.81,256.48 L522.25,256.44 L526.70,256.09 L531.17,255.57 L535.66,255.50 L540.16,255.35 L544.68,255.18 L549.22,255.11 L553.77,254.57 L558.33,254.27 L562.92,254.74 L567.51,253.95 L572.13,254.15 L576.75,253.18 L581.40,253.10 L586.06,253.53" stroke="#b3c6e0" stroke-opacity="0.90" stroke-width="1.15" fill="none" clip-path="url(#cD)"/>
<path d="M248.70,293.88 L249.58,294.09 L250.87,294.19 L252.38,294.50 L254.05,294.81 L255.85,294.94 L257.76,295.22 L259.77,295.54 L261.87,295.87 L264.05,296.10 L266.30,296.49 L268.62,296.76 L271.01,297.05 L273.46,297.31 L275.96,297.64 L278.52,298.08 L281.13,298.44 L283.79,298.72 L286.50,299.05 L289.25,299.42 L292.04,299.62 L294.88,299.89 L297.76,300.15 L300.68,300.34 L303.64,300.41 L306.63,300.54 L309.66,300.41 L312.73,300.54 L315.83,300.39 L318.96,300.44 L322.13,300.50 L325.32,300.50 L328.55,300.41 L331.81,300.43 L335.10,300.37 L338.42,300.47 L341.76,300.30 L345.14,300.37 L348.54,300.35 L351.97,300.28 L355.42,300.28 L358.91,300.29 L362.41,300.30 L365.95,300.25 L369.50,300.31 L373.08,300.25 L376.69,300.11 L380.32,300.22 L383.97,300.20 L387.64,300.02 L391.34,300.08 L395.06,300.02 L398.80,299.97 L402.57,299.77 L406.35,300.04 L410.16,299.64 L413.98,300.19 L417.83,299.48 L421.70,299.83 L425.59,299.52 L429.49,299.68 L433.42,299.23 L437.37,299.41 L441.33,299.10 L445.32,299.18 L449.32,298.63 L453.34,298.51 L457.38,298.78 L461.44,298.17 L465.52,297.84 L469.61,298.20 L473.72,298.03 L477.85,297.26 L482.00,297.03 L486.16,297.47 L490.34,296.77 L494.54,296.44 L498.75,296.76 L502.98,296.16 L507.23,296.35 L511.49,295.78 L515.77,295.81 L520.06,295.65 L524.37,295.72 L528.70,295.12 L533.04,294.88 L537.39,295.00 L541.76,294.99 L546.15,294.75 L550.55,294.42 L554.97,293.64 L559.40,293.63 L563.85,293.30 L568.31,293.20 L572.78,293.46 L577.27,293.05 L581.77,292.39 L586.29,292.24 L590.82,291.91 L595.37,291.82 L599.93,291.68 L604.50,291.41 L609.09,291.06 L613.69,291.20 L618.30,291.27 L622.93,290.81 L627.57,290.80 L632.22,290.36 L636.88,289.87 L641.56,289.69" stroke="#b3c6e0" stroke-opacity="0.90" stroke-width="1.70" fill="none" clip-path="url(#cD)"/>
<path d="M248.70,293.88 L249.58,294.05 L250.87,294.23 L252.38,294.46 L254.05,294.64 L255.85,294.84 L257.76,295.08 L259.77,295.26 L261.87,295.69 L264.05,295.91 L266.30,296.19 L268.62,296.28 L271.01,296.57 L273.46,296.82 L275.96,297.05 L278.52,297.48 L281.13,297.59 L283.79,297.98 L286.50,298.20 L289.25,298.50 L292.04,298.68 L294.88,298.98 L297.76,299.17 L300.68,299.31 L303.64,299.29 L306.63,299.37 L309.66,299.42 L312.73,299.38 L315.83,299.34 L318.96,299.37 L322.13,299.32 L325.32,299.26 L328.55,299.29 L331.81,299.24 L335.10,299.33 L338.42,299.20 L341.76,299.17 L345.14,299.24 L348.54,299.32 L351.97,299.29 L355.42,299.14 L358.91,299.10 L362.41,299.10 L365.95,299.13 L369.50,299.10 L373.08,299.16 L376.69,299.04 L380.32,298.94 L383.97,299.06 L387.64,298.95 L391.34,298.87 L395.06,298.87 L398.80,298.89 L402.57,299.03 L406.35,298.60 L410.16,298.40 L413.98,298.39 L417.83,298.70 L421.70,298.38 L425.59,298.26 L429.49,298.51 L433.42,298.12 L437.37,298.29 L441.33,298.31 L445.32,298.33 L449.32,297.63 L453.34,297.45 L457.38,297.84 L461.44,297.65 L465.52,297.28 L469.61,297.18 L473.72,296.59 L477.85,296.82 L482.00,296.32 L486.16,296.15 L490.34,296.12 L494.54,295.54 L498.75,295.67 L502.98,295.43 L507.23,295.13 L511.49,295.16 L515.77,295.15 L520.06,294.38 L524.37,294.35 L528.70,294.33 L533.04,294.18 L537.39,293.90 L541.76,293.97 L546.15,293.95 L550.55,293.39 L554.97,292.92 L559.40,293.35 L563.85,292.47 L568.31,292.74 L572.78,292.06 L577.27,292.03 L581.77,292.22 L586.29,292.06 L590.82,291.33 L595.37,291.05 L599.93,290.97 L604.50,290.93 L609.09,290.75 L613.69,290.34 L618.30,290.10 L622.93,289.87 L627.57,290.07 L632.22,289.42 L636.88,289.10 L641.56,289.22" stroke="#b3c6e0" stroke-opacity="0.90" stroke-width="1.70" fill="none" clip-path="url(#cD)"/>
<path d="M248.70,293.88 L249.58,293.97 L250.87,294.23 L252.38,294.36 L254.05,294.46 L255.85,294.70 L257.76,294.81 L259.77,295.07 L261.87,295.27 L264.05,295.59 L266.30,295.72 L268.62,295.88 L271.01,296.03 L273.46,296.23 L275.96,296.57 L278.52,296.73 L281.13,296.86 L283.79,297.25 L286.50,297.46 L289.25,297.64 L292.04,297.72 L294.88,297.96 L297.76,298.02 L300.68,298.10 L303.64,298.17 L306.63,298.33 L309.66,298.20 L312.73,298.18 L315.83,298.19 L318.96,298.15 L322.13,298.16 L325.32,298.19 L328.55,298.13 L331.81,298.18 L335.10,298.25 L338.42,298.20 L341.76,298.06 L345.14,298.16 L348.54,298.11 L351.97,298.02 L355.42,298.03 L358.91,297.99 L362.41,298.04 L365.95,298.01 L369.50,298.07 L373.08,298.02 L376.69,298.01 L380.32,297.91 L383.97,297.88 L387.64,297.94 L391.34,297.80 L395.06,297.86 L398.80,297.77 L402.57,298.07 L406.35,297.68 L410.16,297.89 L413.98,297.22 L417.83,297.62 L421.70,297.20 L425.59,297.43 L429.49,297.44 L433.42,296.94 L437.37,297.28 L441.33,296.97 L445.32,296.75 L449.32,296.33 L453.34,296.41 L457.38,296.77 L461.44,296.29 L465.52,295.74 L469.61,295.64 L473.72,295.84 L477.85,295.85 L482.00,295.56 L486.16,295.00 L490.34,295.27 L494.54,294.54 L498.75,294.85 L502.98,294.35 L507.23,294.18 L511.49,294.37 L515.77,293.99 L520.06,293.73 L524.37,293.85 L528.70,293.47 L533.04,293.23 L537.39,292.80 L541.76,293.14 L546.15,293.05 L550.55,292.62 L554.97,292.37 L559.40,292.28 L563.85,291.76 L568.31,292.13 L572.78,291.71 L577.27,291.55 L581.77,291.58 L586.29,291.19 L590.82,291.00 L595.37,290.87 L599.93,290.36 L604.50,290.00 L609.09,289.82 L613.69,290.20 L618.30,289.88 L622.93,289.23 L627.57,289.70 L632.22,289.49 L636.88,289.30 L641.56,288.76" stroke="#b3c6e0" stroke-opacity="0.90" stroke-width="1.70" fill="none" clip-path="url(#cD)"/>
<path d="M248.70,293.88 L249.58,293.87 L250.87,294.08 L252.38,294.23 L254.05,294.45 L255.85,294.45 L257.76,294.59 L259.77,294.82 L261.87,294.94 L264.05,295.17 L266.30,295.38 L268.62,295.55 L271.01,295.67 L273.46,295.84 L275.96,295.95 L278.52,296.17 L281.13,296.32 L283.79,296.31 L286.50,296.46 L289.25,296.61 L292.04,296.82 L294.88,296.92 L297.76,296.99 L300.68,297.02 L303.64,297.15 L306.63,297.12 L309.66,297.11 L312.73,297.05 L315.83,297.14 L318.96,297.20 L322.13,297.12 L325.32,297.02 L328.55,297.14 L331.81,297.04 L335.10,297.12 L338.42,297.08 L341.76,297.00 L345.14,297.08 L348.54,297.00 L351.97,296.95 L355.42,296.97 L358.91,296.88 L362.41,296.84 L365.95,296.93 L369.50,296.82 L373.08,296.80 L376.69,296.81 L380.32,296.78 L383.97,296.75 L387.64,296.69 L391.34,296.67 L395.06,296.71 L398.80,296.60 L402.57,296.42 L406.35,296.57 L410.16,296.19 L413.98,296.59 L417.83,296.35 L421.70,296.28 L425.59,296.19 L429.49,296.43 L433.42,295.97 L437.37,296.29 L441.33,295.86 L445.32,295.80 L449.32,295.48 L453.34,295.22 L457.38,294.97 L461.44,295.41 L465.52,294.72 L469.61,294.90 L473.72,294.71 L477.85,294.91 L482.00,294.10 L486.16,294.42 L490.34,294.22 L494.54,294.03 L498.75,293.92 L502.98,293.72 L507.23,293.57 L511.49,293.22 L515.77,293.20 L520.06,292.74 L524.37,292.45 L528.70,292.29 L533.04,292.56 L537.39,292.17 L541.76,291.97 L546.15,291.81 L550.55,291.90 L554.97,291.90 L559.40,291.29 L563.85,291.20 L568.31,291.27 L572.78,290.86 L577.27,291.15 L581.77,290.42 L586.29,290.16 L590.82,289.93 L595.37,290.42 L599.93,289.80 L604.50,289.55 L609.09,289.86 L613.69,289.32 L618.30,289.46 L622.93,289.26 L627.57,289.22 L632.22,288.84 L636.88,288.21 L641.56,288.29" stroke="#b3c6e0" stroke-opacity="0.90" stroke-width="1.70" fill="none" clip-path="url(#cD)"/>
<path d="M248.70,293.88 L249.58,293.92 L250.87,293.97 L252.38,294.04 L254.05,294.32 L255.85,294.30 L257.76,294.41 L259.77,294.58 L261.87,294.77 L264.05,294.91 L266.30,294.97 L268.62,295.09 L271.01,295.20 L273.46,295.20 L275.96,295.30 L278.52,295.47 L281.13,295.57 L283.79,295.60 L286.50,295.64 L289.25,295.72 L292.04,295.80 L294.88,295.81 L297.76,295.89 L300.68,295.99 L303.64,295.95 L306.63,295.97 L309.66,296.04 L312.73,296.07 L315.83,296.02 L318.96,295.95 L322.13,295.93 L325.32,296.01 L328.55,295.95 L331.81,296.03 L335.10,295.92 L338.42,295.93 L341.76,295.85 L345.14,295.82 L348.54,295.96 L351.97,295.76 L355.42,295.90 L358.91,295.72 L362.41,295.70 L365.95,295.83 L369.50,295.79 L373.08,295.80 L376.69,295.63 L380.32,295.63 L383.97,295.56 L387.64,295.56 L391.34,295.61 L395.06,295.49 L398.80,295.54 L402.57,295.60 L406.35,295.48 L410.16,295.22 L413.98,295.47 L417.83,295.23 L421.70,295.16 L425.59,294.92 L429.49,295.10 L433.42,295.05 L437.37,294.85 L441.33,294.82 L445.32,294.49 L449.32,294.85 L453.34,294.67 L457.38,294.64 L461.44,294.21 L465.52,293.73 L469.61,293.77 L473.72,293.59 L477.85,293.20 L482.00,293.13 L486.16,293.38 L490.34,293.28 L494.54,292.88 L498.75,292.97 L502.98,292.54 L507.23,292.80 L511.49,292.42 L515.77,292.02 L520.06,292.24 L524.37,292.17 L528.70,291.56 L533.04,291.85 L537.39,291.15 L541.76,291.23 L546.15,290.87 L550.55,290.99 L554.97,290.88 L559.40,290.90 L563.85,290.91 L568.31,290.06 L572.78,290.48 L577.27,290.43 L581.77,289.61 L586.29,289.76 L590.82,289.57 L595.37,289.15 L599.93,289.13 L604.50,289.34 L609.09,289.16 L613.69,288.70 L618.30,288.52 L622.93,288.71 L627.57,288.53 L632.22,288.16 L636.88,288.34 L641.56,287.83" stroke="#b3c6e0" stroke-opacity="0.90" stroke-width="1.70" fill="none" clip-path="url(#cD)"/>
<path d="M248.70,293.88 L249.58,293.87 L250.87,293.97 L252.37,294.15 L254.04,294.16 L255.83,294.25 L257.74,294.43 L259.75,294.45 L261.84,294.45 L264.01,294.58 L266.26,294.58 L268.58,294.70 L270.96,294.56 L273.40,294.61 L275.90,294.61 L278.45,294.67 L281.05,294.55 L283.71,294.56 L286.41,294.40 L289.15,294.38 L291.94,294.28 L294.77,294.19 L297.65,294.14 L300.56,294.04 L303.51,293.93 L306.49,293.94 L309.52,293.81 L312.58,293.68 L315.67,293.68 L318.79,293.58 L321.95,293.70 L325.14,293.54 L328.36,293.58 L331.61,293.40 L334.90,293.44 L338.21,293.35 L341.54,293.30 L344.91,293.38 L348.31,293.34 L351.73,293.16 L355.17,293.12 L358.65,293.15 L362.15,293.19 L365.67,293.14 L369.22,292.95 L372.79,292.93 L376.39,292.95 L380.01,292.84 L383.65,292.77 L387.32,292.88 L391.01,292.69 L394.72,292.60 L398.45,292.57 L402.20,292.30 L405.98,292.59 L409.78,292.41 L413.59,292.74 L417.43,292.15 L421.29,292.20 L425.17,292.33 L429.07,292.55 L432.99,292.39 L436.92,292.15 L440.88,291.69 L444.85,291.97 L448.85,291.60 L452.86,292.06 L456.89,291.95 L460.94,291.90 L465.01,291.79 L469.09,291.33 L473.19,291.59 L477.31,291.56 L481.45,291.21 L485.60,291.32 L489.77,290.91 L493.96,290.98 L498.16,290.80 L502.38,291.04 L506.62,290.98 L510.87,290.86 L515.14,290.37 L519.42,290.32 L523.72,290.53 L528.04,290.50 L532.37,290.74 L536.71,290.05 L541.07,290.15 L545.45,290.21 L549.84,290.31 L554.25,289.98 L558.67,289.70 L563.10,289.94 L567.55,289.84 L572.02,289.55 L576.50,289.46 L580.99,289.73 L585.50,289.58 L590.02,289.22 L594.55,288.84 L599.10,288.96 L603.66,289.11 L608.24,288.79 L612.83,288.69 L617.43,288.09 L622.04,288.36 L626.67,287.61 L631.31,287.99 L635.97,287.67" stroke="#b3c6e0" stroke-opacity="0.90" stroke-width="1.30" fill="none" clip-path="url(#cD)"/>
<path d="M248.70,293.88 L249.49,293.08 L250.64,291.85 L251.99,290.48 L253.48,289.00 L255.09,287.60 L256.80,285.91 L258.59,284.16 L260.47,282.38 L262.41,280.82 L264.43,279.05 L266.50,277.24 L268.63,275.73 L270.82,274.06 L273.06,272.45 L275.34,270.73 L277.67,269.00 L280.05,267.45 L282.47,265.66 L284.93,263.99 L287.43,262.34 L289.96,260.82 L292.53,259.24 L295.14,257.93 L297.78,256.61 L300.46,255.46 L303.17,254.33 L305.90,253.54 L308.67,252.84 L311.47,252.16 L314.30,251.39 L317.16,250.78 L320.04,250.15 L322.95,249.64 L325.89,249.08 L328.86,248.62 L331.85,248.02 L334.86,247.68 L337.90,247.14 L340.96,246.64 L344.05,246.24 L347.16,245.94 L350.30,245.50 L353.45,244.99 L356.63,244.62 L359.83,244.18 L363.05,243.77 L366.29,243.43 L369.56,242.93 L372.84,242.57 L376.14,242.26 L379.47,241.88 L382.81,241.58 L386.17,241.16 L389.55,240.71 L392.95,240.53 L396.37,240.10 L399.81,240.07 L403.26,239.74 L406.74,238.95 L410.23,238.90 L413.74,238.67 L417.26,238.19 L420.81,237.41 L424.37,237.04 L427.94,237.07 L431.54,236.48 L435.14,235.48 L438.77,235.63 L442.41,234.92 L446.07,234.59 L449.74,233.87 L453.43,233.55 L457.14,232.96 L460.86,232.70 L464.59,232.51 L468.34,232.06 L472.10,231.67 L475.88,230.63 L479.68,230.72 L483.48,230.32 L487.31,229.12 L491.14,229.25 L494.99,228.25 L498.86,228.42 L502.74,227.66 L506.63,227.39 L510.54,226.46 L514.45,226.16 L518.39,225.67 L522.33,225.10 L526.29,224.54 L530.26,224.47 L534.25,223.78 L538.25,223.42 L542.26,223.19 L546.28,222.14 L550.32,221.84 L554.37,221.17 L558.43,221.16 L562.50,220.41 L566.59,219.97 L570.68,219.28 L574.79,219.30 L578.91,218.60 L583.05,218.01 L587.19,217.85 L591.35,217.00 L595.52,216.39 L599.70,216.17 L603.89,215.53 L608.10,215.11 L612.31,214.97 L616.54,214.42 L620.77,213.49 L625.02,213.57 L629.28,213.08 L633.55,212.95 L637.83,212.45 L642.13,212.11 L646.43,211.16 L650.74,210.97 L655.07,210.52 L659.40,210.11 L663.75,210.08 L668.11,209.52 L672.47,209.53 L676.85,209.32 L681.24,208.61 L685.64,208.34 L690.05,208.00 L694.46,208.06 L698.89,207.52 L703.33,207.47 L707.78,206.68 L712.24,206.39 L716.71,206.51 L721.19,205.62 L725.67,205.80 L730.17,205.44 L734.68,204.49 L739.20,204.34 L743.73,203.65 L748.26,203.01 L752.81,202.89 L757.36,201.74 L761.93,201.47 L766.50,200.69 L771.09,200.07 L775.68,199.05 L780.28,198.32 L784.89,197.93 L789.52,197.31 L794.15,196.37 L798.78,195.48 L803.43,194.93 L808.09,193.78" stroke="#b3c6e0" stroke-opacity="0.80" stroke-width="1.25" fill="none" clip-path="url(#cD)"/>
<path d="M248.70,293.88 L249.49,293.26 L250.64,292.15 L251.98,291.01 L253.47,289.69 L255.07,288.34 L256.77,286.95 L258.57,285.58 L260.44,284.12 L262.38,282.57 L264.39,281.01 L266.46,279.46 L268.58,277.93 L270.76,276.46 L272.99,274.82 L275.27,273.34 L277.60,271.68 L279.97,269.94 L282.38,268.29 L284.83,266.73 L287.32,265.10 L289.85,263.40 L292.42,262.02 L295.02,260.54 L297.65,259.11 L300.32,257.88 L303.02,256.87 L305.75,255.99 L308.52,255.19 L311.31,254.37 L314.13,253.76 L316.98,253.04 L319.86,252.49 L322.76,251.91 L325.69,251.59 L328.65,251.07 L331.63,250.65 L334.64,250.12 L337.67,249.71 L340.72,249.33 L343.80,248.80 L346.91,248.44 L350.03,247.94 L353.18,247.46 L356.35,246.83 L359.54,246.34 L362.75,245.76 L365.99,245.12 L369.24,244.29 L372.52,243.40 L375.81,242.46 L379.13,241.42 L382.46,240.40 L385.81,239.44 L389.19,238.37 L392.58,237.15 L395.99,236.06 L399.42,235.07 L402.86,233.82 L406.33,233.11 L409.81,232.48 L413.31,231.84 L416.82,231.35 L420.36,230.33 L423.91,229.61 L427.48,229.10 L431.06,228.96 L434.66,228.33 L438.28,227.67 L441.91,227.31 L445.56,227.04 L449.22,226.77 L452.90,226.29 L456.59,226.16 L460.30,225.77 L464.03,225.01 L467.77,224.41 L471.52,224.40 L475.29,224.16 L479.08,223.87 L482.87,223.46 L486.69,222.87 L490.51,222.83 L494.35,222.13 L498.21,222.44 L502.08,222.02 L505.96,221.56 L509.85,221.35 L513.76,220.71 L517.68,220.43 L521.62,220.05 L525.57,220.00 L529.53,220.15 L533.51,219.43 L537.49,219.14 L541.49,218.87 L545.51,218.71 L549.53,218.05 L553.57,217.56 L557.62,217.84 L561.68,217.05 L565.76,216.91 L569.84,216.42 L573.94,215.73 L578.05,215.27 L582.18,215.10 L586.31,215.03 L590.46,214.04 L594.62,214.18 L598.79,213.60 L602.97,212.82 L607.16,212.79 L611.36,212.41 L615.58,211.48 L619.80,211.08 L624.04,211.19 L628.29,210.76 L632.55,210.50 L636.82,210.29 L641.10,209.89 L645.39,209.00 L649.70,209.39 L654.01,208.96 L658.33,208.67 L662.67,208.45 L667.01,207.79 L671.37,207.32 L675.74,206.93 L680.11,206.79 L684.50,206.34 L688.90,206.67 L693.30,206.16 L697.72,205.34 L702.15,205.74 L706.58,205.30 L711.03,204.84 L715.49,204.73 L719.96,204.23 L724.43,204.35 L728.92,203.93 L733.42,203.11 L737.92,203.48 L742.44,202.63 L746.96,202.94 L751.50,202.07 L756.04,202.07 L760.59,201.86 L765.16,202.03 L769.73,201.87 L774.31,201.11 L778.90,201.35 L783.50,201.14 L788.11,200.46 L792.73,200.23 L797.35,200.69 L801.99,199.81 L806.63,199.98 L811.29,199.94 L815.95,200.01 L820.62,199.65 L825.30,199.44" stroke="#b3c6e0" stroke-opacity="0.80" stroke-width="1.25" fill="none" clip-path="url(#cD)"/>
<path d="M248.70,293.88 L249.50,293.17 L250.66,292.40 L252.02,291.38 L253.53,290.23 L255.15,289.00 L256.88,287.67 L258.70,286.22 L260.59,285.01 L262.56,283.58 L264.59,282.02 L266.69,280.58 L268.84,279.15 L271.05,277.87 L273.31,276.37 L275.62,274.71 L277.98,273.21 L280.38,271.55 L282.82,269.99 L285.31,268.41 L287.83,266.73 L290.39,265.09 L292.99,263.58 L295.63,262.22 L298.30,260.94 L301.00,259.78 L303.74,258.83 L306.50,258.03 L309.30,257.30 L312.13,256.78 L314.99,256.11 L317.87,255.48 L320.79,254.97 L323.73,254.61 L326.70,253.99 L329.70,253.57 L332.72,253.28 L335.76,252.85 L338.84,252.47 L341.93,252.12 L345.05,251.56 L348.19,251.29 L351.36,250.81 L354.55,250.56 L357.76,250.16 L360.99,249.56 L364.25,249.11 L367.52,248.57 L370.82,248.11 L374.14,247.61 L377.48,247.02 L380.84,246.60 L384.21,245.96 L387.61,245.42 L391.03,244.92 L394.46,244.28 L397.92,243.79 L401.39,243.21 L404.88,242.80 L408.39,242.33 L411.92,241.82 L415.47,241.17 L419.03,240.43 L422.61,240.03 L426.21,239.65 L429.82,239.25 L433.45,239.25 L437.10,238.29 L440.76,238.42 L444.44,238.13 L448.14,237.43 L451.85,236.84 L455.58,236.74 L459.32,236.11 L463.08,236.00 L466.85,235.08 L470.64,235.09 L474.44,234.69 L478.26,234.26 L482.10,233.62 L485.94,233.16 L489.81,233.14 L493.68,232.84 L497.57,232.33 L501.48,232.39 L505.40,231.75 L509.33,231.06 L513.28,230.76 L517.24,230.96 L521.21,229.98 L525.20,229.99 L529.20,229.17 L533.21,229.30 L537.24,229.06 L541.28,228.45 L545.33,227.84 L549.40,227.84 L553.48,227.15 L557.57,226.91 L561.67,226.83 L565.79,226.52 L569.92,226.01 L574.06,225.74 L578.21,225.40 L582.37,224.82 L586.55,224.29 L590.74,224.15 L594.94,224.12 L599.15,223.69 L603.38,223.20 L607.61,222.64 L611.86,222.63 L616.12,222.29 L620.39,221.72 L624.67,221.35 L628.96,221.15 L633.27,220.38 L637.58,219.71 L641.91,219.65 L646.25,219.14 L650.60,218.73 L654.96,218.38 L659.33,217.99 L663.71,218.02 L668.10,217.50 L672.50,217.59 L676.91,216.65 L681.34,216.68 L685.77,216.23 L690.21,215.52 L694.67,215.58 L699.13,215.23 L703.61,214.29 L708.09,213.99 L712.59,213.88 L717.10,213.39 L721.61,212.57 L726.14,212.22 L730.67,210.89 L735.22,210.64 L739.77,209.75 L744.34,208.78 L748.91,207.75 L753.50,206.83 L758.09,205.64 L762.69,204.54 L767.31,203.59 L771.93,202.69 L776.56,200.80 L781.20,199.80 L785.85,199.01 L790.51,197.45 L795.18,196.10" stroke="#b3c6e0" stroke-opacity="0.80" stroke-width="1.25" fill="none" clip-path="url(#cD)"/>
<path d="M248.70,293.88 L249.49,293.29 L250.64,292.46 L251.98,291.72 L253.47,290.72 L255.07,289.55 L256.77,288.43 L258.57,287.15 L260.44,285.95 L262.38,284.79 L264.39,283.50 L266.46,282.18 L268.58,280.82 L270.76,279.64 L272.99,278.24 L275.27,276.86 L277.60,275.26 L279.97,273.84 L282.38,272.10 L284.83,270.61 L287.32,269.05 L289.85,267.63 L292.42,266.13 L295.02,264.71 L297.65,263.36 L300.32,262.29 L303.02,261.37 L305.75,260.46 L308.52,259.89 L311.31,259.32 L314.13,258.83 L316.98,258.28 L319.86,257.68 L322.76,257.36 L325.69,256.85 L328.65,256.43 L331.63,256.09 L334.64,255.63 L337.67,255.25 L340.72,254.91 L343.80,254.59 L346.91,254.35 L350.03,254.03 L353.18,253.61 L356.35,253.27 L359.54,252.91 L362.75,252.37 L365.99,252.06 L369.24,251.48 L372.52,250.99 L375.81,250.66 L379.13,250.02 L382.46,249.63 L385.81,249.17 L389.19,248.69 L392.58,248.22 L395.99,247.64 L399.42,247.25 L402.86,246.42 L406.33,245.98 L409.81,246.13 L413.31,245.44 L416.82,245.04 L420.36,244.81 L423.91,244.37 L427.48,243.97 L431.06,243.26 L434.66,243.16 L438.28,242.97 L441.91,242.52 L445.56,241.99 L449.22,241.53 L452.90,241.43 L456.59,240.73 L460.30,240.76 L464.03,240.06 L467.77,239.77 L471.52,239.78 L475.29,239.00 L479.08,238.95 L482.87,238.51 L486.69,238.14 L490.51,237.79 L494.35,237.62 L498.21,237.60 L502.08,236.72 L505.96,236.35 L509.85,236.32 L513.76,235.94 L517.68,235.87 L521.62,235.07 L525.57,234.92 L529.53,234.97 L533.51,234.19 L537.49,233.75 L541.49,233.93 L545.51,233.11 L549.53,233.20 L553.57,233.11 L557.62,232.38 L561.68,232.35 L565.76,231.71 L569.84,231.50 L573.94,231.54 L578.05,230.88 L582.18,230.28 L586.31,230.23 L590.46,229.83 L594.62,229.23 L598.79,229.19 L602.97,228.79 L607.16,228.34 L611.36,227.78 L615.58,227.87 L619.80,227.56 L624.04,226.64 L628.29,226.39 L632.55,226.16 L636.82,225.26 L641.10,224.81 L645.39,224.60 L649.70,223.77 L654.01,223.39 L658.33,222.96 L662.67,222.80 L667.01,222.51 L671.37,221.47 L675.74,220.91 L680.11,220.69 L684.50,220.07 L688.90,219.49 L693.30,219.23 L697.72,218.39 L702.15,218.01 L706.58,217.67 L711.03,217.43 L715.49,216.64 L719.96,216.40 L724.43,215.68 L728.92,215.73 L733.42,215.20 L737.92,215.03 L742.44,214.55 L746.96,214.10 L751.50,214.16 L756.04,213.90 L760.59,213.27 L765.16,213.20 L769.73,212.68 L774.31,212.67 L778.90,212.46 L783.50,211.86 L788.11,211.32 L792.73,211.12 L797.35,211.17 L801.99,211.04 L806.63,211.10 L811.29,210.74 L815.95,210.53 L820.62,209.88 L825.30,210.07" stroke="#b3c6e0" stroke-opacity="0.80" stroke-width="1.25" fill="none" clip-path="url(#cD)"/>
<path d="M248.70,293.88 L249.49,293.53 L250.64,292.75 L251.98,292.11 L253.47,291.32 L255.07,290.48 L256.77,289.43 L258.57,288.61 L260.44,287.52 L262.38,286.48 L264.39,285.46 L266.46,284.33 L268.58,283.03 L270.76,281.88 L272.99,280.62 L275.27,279.22 L277.60,277.92 L279.97,276.28 L282.38,274.71 L284.83,273.22 L287.32,271.58 L289.85,269.91 L292.42,268.53 L295.02,267.02 L297.65,265.82 L300.32,264.57 L303.02,263.67 L305.75,262.88 L308.52,262.32 L311.31,261.67 L314.13,261.19 L316.98,260.77 L319.86,260.29 L322.76,259.93 L325.69,259.48 L328.65,259.22 L331.63,258.83 L334.64,258.50 L337.67,258.22 L340.72,257.98 L343.80,257.66 L346.91,257.26 L350.03,257.03 L353.18,256.60 L356.35,256.30 L359.54,255.85 L362.75,255.47 L365.99,255.06 L369.24,254.66 L372.52,254.22 L375.81,253.60 L379.13,253.02 L382.46,252.43 L385.81,252.00 L389.19,251.43 L392.58,250.70 L395.99,250.18 L399.42,249.68 L402.86,248.95 L406.33,248.89 L409.81,248.10 L413.31,247.56 L416.82,247.21 L420.36,247.17 L423.91,246.81 L427.48,246.06 L431.06,245.49 L434.66,245.71 L438.28,245.45 L441.91,245.04 L445.56,244.15 L449.22,244.11 L452.90,243.72 L456.59,242.97 L460.30,242.94 L464.03,242.88 L467.77,242.22 L471.52,242.45 L475.29,241.91 L479.08,241.28 L482.87,241.38 L486.69,241.19 L490.51,240.51 L494.35,240.36 L498.21,239.57 L502.08,239.96 L505.96,239.13 L509.85,239.17 L513.76,238.56 L517.68,238.56 L521.62,238.12 L525.57,238.11 L529.53,237.91 L533.51,237.47 L537.49,236.93 L541.49,237.02 L545.51,236.84 L549.53,236.44 L553.57,236.42 L557.62,235.99 L561.68,235.53 L565.76,235.29 L569.84,234.99 L573.94,234.97 L578.05,234.92 L582.18,234.66 L586.31,234.16 L590.46,234.01 L594.62,233.46 L598.79,233.43 L602.97,232.78 L607.16,232.64 L611.36,232.32 L615.58,231.99 L619.80,231.89 L624.04,231.69 L628.29,231.50 L632.55,231.42 L636.82,230.59 L641.10,230.56 L645.39,230.62 L649.70,229.74 L654.01,229.76 L658.33,229.49 L662.67,229.40 L667.01,229.41 L671.37,228.49 L675.74,228.89 L680.11,228.49 L684.50,227.74 L688.90,228.16 L693.30,227.60 L697.72,227.33 L702.15,227.21 L706.58,226.38 L711.03,226.45 L715.49,226.41 L719.96,225.68 L724.43,225.65 L728.92,224.69 L733.42,224.13 L737.92,223.66 L742.44,223.87 L746.96,222.91 L751.50,222.73 L756.04,222.12 L760.59,221.77 L765.16,221.29 L769.73,220.95 L774.31,220.09 L778.90,220.05 L783.50,218.91 L788.11,219.19 L792.73,218.05 L797.35,218.25 L801.99,217.95 L806.63,217.07 L811.29,216.88 L815.95,216.35 L820.62,216.22 L825.30,215.89" stroke="#b3c6e0" stroke-opacity="0.80" stroke-width="1.25" fill="none" clip-path="url(#cD)"/>
<path d="M248.70,293.88 L249.49,293.51 L250.64,293.10 L251.98,292.39 L253.47,291.75 L255.07,290.93 L256.77,290.34 L258.57,289.50 L260.44,288.50 L262.38,287.53 L264.39,286.67 L266.46,285.61 L268.58,284.59 L270.76,283.54 L272.99,282.32 L275.27,280.98 L277.60,279.66 L279.97,278.09 L282.38,276.43 L284.83,274.91 L287.32,273.25 L289.85,271.69 L292.42,270.11 L295.02,268.59 L297.65,267.24 L300.32,266.02 L303.02,265.15 L305.75,264.49 L308.52,263.92 L311.31,263.48 L314.13,262.98 L316.98,262.49 L319.86,262.09 L322.76,261.79 L325.69,261.47 L328.65,261.17 L331.63,260.85 L334.64,260.51 L337.67,260.28 L340.72,259.89 L343.80,259.69 L346.91,259.46 L350.03,259.17 L353.18,258.95 L356.35,258.50 L359.54,258.16 L362.75,257.87 L365.99,257.39 L369.24,257.03 L372.52,256.55 L375.81,256.03 L379.13,255.50 L382.46,254.85 L385.81,254.27 L389.19,253.67 L392.58,253.20 L395.99,252.50 L399.42,252.00 L402.86,251.53 L406.33,250.92 L409.81,250.49 L413.31,250.24 L416.82,249.70 L420.36,249.15 L423.91,248.75 L427.48,248.26 L431.06,248.49 L434.66,247.63 L438.28,247.39 L441.91,247.16 L445.56,246.66 L449.22,247.04 L452.90,246.27 L456.59,245.90 L460.30,246.25 L464.03,245.63 L467.77,245.11 L471.52,245.38 L475.29,244.71 L479.08,244.44 L482.87,244.58 L486.69,244.59 L490.51,244.32 L494.35,243.63 L498.21,243.74 L502.08,243.61 L505.96,243.31 L509.85,242.73 L513.76,243.05 L517.68,243.03 L521.62,242.11 L525.57,242.40 L529.53,242.14 L533.51,241.48 L537.49,241.81 L541.49,241.75 L545.51,240.92 L549.53,241.20 L553.57,240.99 L557.62,240.21 L561.68,240.52 L565.76,239.76 L569.84,239.95 L573.94,239.72 L578.05,239.52 L582.18,238.99 L586.31,238.69 L590.46,238.51 L594.62,238.12 L598.79,237.96 L602.97,237.20 L607.16,236.78 L611.36,236.55 L615.58,236.12 L619.80,236.30 L624.04,235.75 L628.29,235.34 L632.55,234.82 L636.82,233.49 L641.10,232.73 L645.39,231.84 L649.70,231.20 L654.01,230.64 L658.33,229.53 L662.67,229.03 L667.01,227.71 L671.37,227.70 L675.74,227.38 L680.11,226.80 L684.50,227.42 L688.90,226.94 L693.30,227.53 L697.72,227.38 L702.15,227.95 L706.58,227.46 L711.03,227.94 L715.49,228.03 L719.96,227.79 L724.43,227.79 L728.92,227.95 L733.42,227.90 L737.92,227.37 L742.44,227.57 L746.96,226.66 L751.50,226.78 L756.04,226.61 L760.59,226.16 L765.16,225.99 L769.73,225.48 L774.31,224.95 L778.90,224.70 L783.50,224.40 L788.11,224.09 L792.73,223.56 L797.35,222.92 L801.99,222.75 L806.63,222.02 L811.29,221.75 L815.95,221.52 L820.62,220.95 L825.30,220.16" stroke="#b3c6e0" stroke-opacity="0.80" stroke-width="1.25" fill="none" clip-path="url(#cD)"/>
<path d="M248.70,293.88 L249.51,293.58 L250.68,293.29 L252.06,292.89 L253.58,292.38 L255.23,291.77 L256.97,291.27 L258.81,290.63 L260.73,289.93 L262.72,289.25 L264.78,288.35 L266.90,287.51 L269.08,286.60 L271.31,285.64 L273.60,284.51 L275.93,283.17 L278.32,281.84 L280.74,280.14 L283.22,278.67 L285.73,276.84 L288.28,275.27 L290.87,273.46 L293.50,271.94 L296.17,270.45 L298.87,269.00 L301.60,267.78 L304.37,266.87 L307.17,266.24 L310.00,265.69 L312.86,265.38 L315.75,264.86 L318.67,264.49 L321.62,263.97 L324.60,263.67 L327.60,263.28 L330.63,262.95 L333.69,262.61 L336.77,262.39 L339.88,262.07 L343.01,261.86 L346.16,261.67 L349.34,261.23 L352.55,261.09 L355.77,260.78 L359.02,260.29 L362.29,260.03 L365.58,259.55 L368.90,259.22 L372.23,258.69 L375.59,258.06 L378.96,257.64 L382.36,256.97 L385.78,256.29 L389.21,255.84 L392.67,255.15 L396.15,254.56 L399.64,253.96 L403.15,253.31 L406.69,252.88 L410.24,252.97 L413.81,252.45 L417.39,251.88 L421.00,251.26 L424.62,251.57 L428.26,251.01 L431.91,251.11 L435.58,250.30 L439.27,250.36 L442.98,250.06 L446.70,249.72 L450.44,249.90 L454.19,249.22 L457.96,248.95 L461.75,248.70 L465.55,248.94 L469.37,248.78 L473.20,248.64 L477.05,247.88 L480.91,248.06 L484.79,247.92 L488.68,247.64 L492.59,247.34 L496.51,247.46 L500.45,247.29 L504.40,246.79 L508.36,246.63 L512.34,246.85 L516.33,246.87 L520.34,246.05 L524.36,246.06 L528.39,246.02 L532.44,246.02 L536.50,245.44 L540.57,245.70 L544.66,245.73 L548.76,245.67 L552.87,245.33 L557.00,244.99 L561.13,245.02 L565.28,244.41 L569.45,244.49 L573.62,244.48 L577.81,244.17 L582.01,244.05 L586.23,243.87 L590.45,243.79 L594.69,243.59 L598.94,243.43 L603.20,242.98 L607.47,243.28 L611.76,242.62 L616.05,242.79 L620.36,242.14 L624.68,242.52 L629.01,241.97 L633.35,241.77 L637.71,241.32 L642.07,241.49 L646.45,241.21 L650.84,241.08 L655.24,240.51 L659.65,240.26 L664.07,240.47 L668.50,240.08 L672.94,239.82 L677.39,238.97 L681.86,239.10 L686.33,238.74 L690.82,238.67 L695.31,238.09 L699.82,237.67 L704.33,237.46 L708.86,237.65 L713.40,236.97 L717.95,236.57 L722.50,236.54 L727.07,235.55 L731.65,235.48 L736.24,235.02 L740.83,234.25 L745.44,233.75 L750.06,233.25 L754.69,232.39 L759.32,232.04 L763.97,231.55 L768.63,231.13 L773.29,230.09 L777.97,229.47" stroke="#b3c6e0" stroke-opacity="0.80" stroke-width="1.25" fill="none" clip-path="url(#cD)"/>
<path d="M248.70,293.88 L249.60,293.21 L250.92,292.17 L252.46,291.03 L254.17,289.81 L256.01,288.42 L257.96,286.96 L260.02,285.47 L262.16,283.79 L264.39,282.28 L266.69,280.76 L269.06,279.08 L271.50,277.49 L274.00,275.91 L276.56,274.01 L279.18,272.30 L281.85,270.29 L284.56,268.59 L287.33,266.72 L290.14,264.92 L293.00,263.08 L295.90,261.47 L298.84,260.05 L301.83,258.85 L304.85,257.74 L307.91,256.84 L311.01,256.20 L314.14,255.33 L317.31,254.69 L320.51,254.07 L323.75,253.55 L327.01,253.04 L330.31,252.48 L333.64,252.15 L337.01,251.68 L340.40,251.27 L343.82,250.82 L347.27,250.24 L350.74,249.91 L354.25,249.28 L357.78,248.81 L361.34,248.13 L364.92,247.51 L368.53,246.81 L372.17,245.99 L375.83,245.30 L379.51,244.37 L383.22,243.42 L386.95,242.45 L390.71,241.44 L394.49,240.43 L398.29,239.51 L402.12,238.30 L405.96,237.60 L409.83,237.03 L413.72,236.16 L417.63,235.30 L421.56,234.57 L425.52,234.21 L429.49,233.52 L433.48,232.64 L437.50,232.32 L441.53,231.27 L445.58,231.52 L449.66,230.73 L453.75,230.73 L457.86,231.51 L461.99,232.85 L466.13,234.86 L470.30,235.87 L474.48,236.07 L478.69,235.64 L482.91,234.22 L487.14,232.63 L491.40,231.41 L495.67,229.07 L499.96,227.36 L504.27,225.84 L508.59,225.06 L512.93,224.58 L517.29,224.07 L521.66,223.14 L526.05,222.94 L530.45,221.99 L534.87,221.60 L539.31,220.83 L543.76,220.55 L548.23,219.85 L552.71,218.41 L557.21,217.18 L561.73,215.83 L566.25,214.29 L570.80,213.51 L575.36,213.64 L579.93,216.46 L584.52,220.12 L589.12,221.67 L593.74,221.59 L598.37,220.82 L603.02,219.54 L607.68,217.04 L612.35,213.05 L617.04,208.52" stroke="#b3c6e0" stroke-opacity="0.80" stroke-width="1.25" fill="none" clip-path="url(#cD)"/>
<path d="M248.70,293.88 L249.56,293.23 L250.81,292.42 L252.28,291.51 L253.90,290.33 L255.65,289.20 L257.51,288.00 L259.46,286.68 L261.50,285.38 L263.62,283.99 L265.81,282.58 L268.07,281.13 L270.39,279.88 L272.77,278.31 L275.20,276.66 L277.69,275.08 L280.23,273.39 L282.81,271.61 L285.44,270.03 L288.12,268.16 L290.84,266.52 L293.60,264.93 L296.39,263.49 L299.23,262.08 L302.11,261.01 L305.02,259.98 L307.96,259.28 L310.94,258.45 L313.96,257.83 L317.00,257.29 L320.08,256.67 L323.19,256.21 L326.33,255.68 L329.50,255.28 L332.69,254.70 L335.92,254.29 L339.17,253.87 L342.45,253.60 L345.76,253.06 L349.09,252.81 L352.45,252.29 L355.84,251.87 L359.25,251.51 L362.68,250.96 L366.14,250.35 L369.62,249.87 L373.12,249.38 L376.65,248.74 L380.20,248.28 L383.77,247.62 L387.37,247.16 L390.99,246.66 L394.62,245.92 L398.28,245.53 L401.96,245.07 L405.66,244.10 L409.38,244.04 L413.12,243.14 L416.88,242.33 L420.66,241.93 L424.46,241.46 L428.28,240.45 L432.11,239.69 L435.97,239.17 L439.84,238.43 L443.73,238.00 L447.64,237.32 L451.57,236.32 L455.51,235.88 L459.48,236.29 L463.46,235.93 L467.45,235.79 L471.47,235.26 L475.50,235.65 L479.55,235.62 L483.61,235.11 L487.69,235.53 L491.78,234.85 L495.90,235.20 L500.02,234.78 L504.17,234.74 L508.33,235.07 L512.50,234.30 L516.69,234.08 L520.90,233.57 L525.12,232.94 L529.35,231.58 L533.60,230.81 L537.87,230.14 L542.15,228.90 L546.44,228.66 L550.75,227.85 L555.07,227.55 L559.40,226.75 L563.75,225.72 L568.12,225.40 L572.50,225.05 L576.89,224.37 L581.29,223.45 L585.71,223.15 L590.14,222.12 L594.59,222.24 L599.05,221.13 L603.52,220.88 L608.00,220.35 L612.50,220.39 L617.01,220.36 L621.54,220.12 L626.07,219.68 L630.62,220.27 L635.18,220.84 L639.76,221.18 L644.34,221.87 L648.94,222.21 L653.55,221.69 L658.17,220.44 L662.81,217.94 L667.46,215.20 L672.12,212.01" stroke="#b3c6e0" stroke-opacity="0.80" stroke-width="1.25" fill="none" clip-path="url(#cD)"/>
<path d="M248.70,293.88 L249.55,293.37 L250.80,292.66 L252.26,291.88 L253.87,290.92 L255.61,289.88 L257.46,288.76 L259.40,287.70 L261.43,286.37 L263.54,285.23 L265.72,283.96 L267.96,282.66 L270.27,281.49 L272.63,279.99 L275.05,278.51 L277.52,277.09 L280.05,275.50 L282.62,273.71 L285.23,272.02 L287.89,270.37 L290.60,268.81 L293.34,267.21 L296.12,265.85 L298.94,264.50 L301.80,263.32 L304.70,262.33 L307.63,261.75 L310.59,260.93 L313.58,260.49 L316.61,259.72 L319.67,259.30 L322.76,258.67 L325.88,258.17 L329.03,257.67 L332.21,257.32 L335.42,256.85 L338.66,256.53 L341.92,256.04 L345.21,255.81 L348.52,255.29 L351.86,254.99 L355.23,254.75 L358.62,254.23 L362.03,254.00 L365.47,253.69 L368.93,253.29 L372.41,253.01 L375.92,252.65 L379.45,252.28 L383.00,251.95 L386.58,251.75 L390.17,251.45 L393.79,251.19 L397.43,250.95 L401.09,250.81 L404.77,250.62 L408.46,250.38 L412.18,249.74 L415.92,249.64 L419.68,248.82 L423.46,248.67 L427.25,247.86 L431.07,247.17 L434.90,246.32 L438.75,245.85 L442.62,244.91 L446.51,243.73 L450.41,243.30 L454.34,242.21 L458.28,241.37 L462.23,241.34 L466.21,240.57 L470.20,240.57 L474.20,240.07 L478.23,240.17 L482.27,239.80 L486.33,239.68 L490.40,239.89 L494.49,239.49 L498.59,239.29 L502.71,239.23 L506.85,238.93 L511.00,238.57 L515.16,238.48 L519.34,238.27 L523.54,238.57 L527.75,237.89 L531.98,237.67 L536.22,237.11 L540.47,237.50 L544.74,237.00 L549.02,235.99 L553.32,236.05 L557.63,235.36 L561.96,235.01 L566.30,234.70 L570.65,234.21 L575.02,233.65 L579.40,232.85 L583.79,232.73 L588.20,232.07 L592.62,231.99 L597.05,231.21 L601.50,230.83 L605.96,230.24 L610.43,229.65 L614.91,229.78 L619.41,228.60 L623.92,228.38 L628.44,228.15 L632.98,227.50 L637.53,227.29 L642.09,226.69 L646.66,225.73 L651.24,225.33 L655.84,224.71 L660.45,224.76 L665.07,224.30 L669.70,223.59 L674.34,223.00 L679.00,222.49" stroke="#b3c6e0" stroke-opacity="0.80" stroke-width="1.25" fill="none" clip-path="url(#cD)"/>
<path d="M248.70,293.88 L249.58,292.86 L250.86,291.43 L252.35,289.64 L254.01,287.95 L255.80,285.90 L257.70,283.99 L259.69,281.91 L261.78,279.84 L263.94,277.55 L266.18,275.28 L268.48,273.05 L270.85,270.68 L273.28,268.49 L275.76,266.44 L278.30,264.69 L280.89,263.16 L283.54,261.69 L286.22,260.25 L288.95,259.19 L291.73,258.18" stroke="#fbb577" stroke-opacity="0.85" stroke-width="1.20" fill="none" clip-path="url(#cD)"/>
<path d="M248.70,293.88 L249.75,292.96 L251.29,291.36 L253.08,289.76 L255.07,288.09 L257.22,286.26 L259.49,284.65 L261.89,282.76 L264.39,281.12 L266.99,279.53 L269.67,277.90 L272.44,276.21 L275.28,274.58 L278.19,273.07 L281.18,271.69 L284.22,270.03 L287.33,268.57 L290.50,267.11 L293.73,265.70 L297.01,264.17 L300.34,262.84" stroke="#fbb577" stroke-opacity="0.85" stroke-width="1.20" fill="none" clip-path="url(#cD)"/>
<path d="M248.70,293.88 L250.06,293.01 L252.04,291.56 L254.36,289.86 L256.93,287.91 L259.70,286.35 L262.64,284.32 L265.73,282.39 L268.96,280.48 L272.32,278.64 L275.78,277.21 L279.35,275.26 L283.03,274.01 L286.79,272.24 L290.64,270.51 L294.58,268.79 L298.59,267.30 L302.68,265.28 L306.85,263.21 L311.08,261.29 L315.38,258.61 L319.75,256.09 L324.18,253.83 L328.67,251.07 L333.22,248.28 L337.82,244.95 L342.49,241.97 L347.20,241.15 L351.97,240.49" stroke="#fbb577" stroke-opacity="0.85" stroke-width="1.10" fill="none" clip-path="url(#cD)"/>
<path d="M248.70,293.88 L250.02,293.08 L251.95,291.98 L254.20,290.59 L256.69,288.99 L259.38,287.05 L262.24,285.42 L265.25,284.11 L268.38,282.30 L271.64,280.74 L275.01,279.36 L278.48,277.78 L282.04,276.79 L285.70,275.39 L289.44,274.14 L293.26,272.41 L297.16,271.02 L301.14,269.61 L305.18,268.03 L309.29,265.67 L313.47,263.42 L317.71,260.88 L322.02,258.24 L326.38,255.75 L330.80,253.29 L335.27,250.81 L339.80,248.93 L344.38,246.49 L349.01,244.70 L353.69,242.66" stroke="#fbb577" stroke-opacity="0.85" stroke-width="1.10" fill="none" clip-path="url(#cD)"/>
<path d="M248.70,293.88 L250.17,293.02 L252.32,291.53 L254.83,290.45 L257.61,288.73 L260.61,286.91 L263.80,285.54 L267.15,283.87 L270.65,282.57 L274.28,281.46 L278.03,280.04 L281.90,278.84 L285.88,277.46 L289.96,276.21 L294.13,275.09 L298.39,274.05 L302.74,272.40 L307.17,271.38 L311.68,269.81 L316.27,268.37 L320.93,267.19 L325.66,266.03 L330.46,264.47" stroke="#fbb577" stroke-opacity="0.85" stroke-width="1.10" fill="none" clip-path="url(#cD)"/>
<path d="M248.70,293.88 L265.91,274.48 L290.01,255.47" stroke="#fbb577" stroke-opacity="0.85" stroke-width="1.00" fill="none" clip-path="url(#cD)"/>
<path d="M248.70,293.88 L270.21,270.60 L287.43,255.08" stroke="#fbb577" stroke-opacity="0.85" stroke-width="1.00" fill="none" clip-path="url(#cD)"/>
<path d="M248.70,293.88 L249.66,292.99 L251.07,291.90 L252.72,290.38 L254.54,288.73 L256.51,286.97 L258.60,284.93 L260.79,282.88 L263.08,280.90 L265.46,278.39 L267.92,276.27 L270.46,273.66 L273.06,271.21 L275.74,268.86 L278.47,266.87 L281.26,265.37 L284.11,263.73 L287.02,262.27 L289.97,260.97 L292.98,259.98 L296.03,258.96" stroke="#fbb577" stroke-opacity="0.85" stroke-width="1.00" fill="none" clip-path="url(#cD)"/>
<path d="M248.70,293.88 L250.06,293.09 L252.06,292.37 L254.39,291.09 L256.97,289.95 L259.75,288.63 L262.71,287.28 L265.81,286.04 L269.06,284.83 L272.43,283.72 L275.91,282.65 L279.50,281.59 L283.19,280.45 L286.97,279.19 L290.84,278.56 L294.79,277.91 L298.83,277.34 L302.94,276.82 L307.12,276.40 L311.38,275.93 L315.70,275.44 L320.09,275.04 L324.54,274.79 L329.05,274.38 L333.62,274.04 L338.25,273.53 L342.93,273.15 L347.67,272.93" stroke="#fbb577" stroke-opacity="0.85" stroke-width="1.00" fill="none" clip-path="url(#cD)"/>
<path d="M248.70,293.88 L249.99,251.36" stroke="#e88a8a" stroke-opacity="0.85" stroke-width="1.00" fill="none" clip-path="url(#cD)"/>
<path d="M248.70,293.88 L257.31,256.63" stroke="#e88a8a" stroke-opacity="0.85" stroke-width="1.00" fill="none" clip-path="url(#cD)"/>
<path d="M248.70,293.88 L260.75,253.53" stroke="#e88a8a" stroke-opacity="0.85" stroke-width="1.00" fill="none" clip-path="url(#cD)"/>
<path d="M248.70,293.88 L261.61,274.48 L268.92,228.70" stroke="#ff8c00" stroke-opacity="0.95" stroke-width="1.10" fill="none" clip-path="url(#cD)"/>
<path d="M248.70,293.88 L263.76,270.60 L271.94,239.09" stroke="#ff8c00" stroke-opacity="0.95" stroke-width="1.10" fill="none" clip-path="url(#cD)"/>
<path d="M248.70,293.88 L265.91,270.60 L271.94,253.22" stroke="#ff8c00" stroke-opacity="0.95" stroke-width="1.10" fill="none" clip-path="url(#cD)"/>
<path d="M248.70,293.88 L265.91,274.48 L271.08,248.25" stroke="#ff8c00" stroke-opacity="0.95" stroke-width="1.30" fill="none" clip-path="url(#cD)"/>
<path d="M248.70,293.88 L261.61,279.91 L274.52,262.84 L283.12,257.41" stroke="#ff8c00" stroke-opacity="0.95" stroke-width="1.00" fill="none" clip-path="url(#cD)"/>
<path d="M248.70,293.88 L259.46,282.24 L270.21,266.72 L278.82,261.29" stroke="#ff8c00" stroke-opacity="0.95" stroke-width="1.00" fill="none" clip-path="url(#cD)"/>
<path d="M248.70,293.88 L257.31,284.57 L265.91,272.15 L274.52,265.94" stroke="#ff8c00" stroke-opacity="0.95" stroke-width="1.00" fill="none" clip-path="url(#cD)"/>
<path d="M248.70,293.88 L250.10,292.59 L252.15,290.38 L254.55,288.31 L257.20,285.75 L260.06,283.32 L263.09,281.47 L266.29,279.93 L269.62,278.29 L273.08,277.21 L276.66,275.69 L280.35,274.56 L284.14,273.52 L288.03,272.21 L292.00,271.51 L296.07,270.83 L300.21,270.09 L304.44,269.81 L308.74,270.07 L313.11,270.01 L317.55,270.60" stroke="#ff8c00" stroke-opacity="0.95" stroke-width="1.40" fill="none" clip-path="url(#cD)"/>
<path d="M248.70,293.88 L250.06,293.32 L252.04,291.91 L254.36,290.76 L256.93,289.61 L259.70,288.26 L262.64,287.15 L265.73,286.08 L268.96,285.50 L272.32,284.85 L275.78,284.14 L279.35,283.73 L283.03,283.34 L286.79,282.68 L290.64,282.06 L294.58,281.94 L298.59,281.52 L302.68,280.82 L306.85,280.76 L311.08,280.02 L315.38,280.01 L319.75,279.75 L324.18,279.21 L328.67,278.78 L333.22,278.55 L337.82,278.07 L342.49,277.36 L347.20,276.50 L351.97,275.26" stroke="#ff8c00" stroke-opacity="0.95" stroke-width="1.80" fill="none" clip-path="url(#cD)"/>
<path d="M248.70,293.88 L249.99,293.22 L251.87,292.36 L254.07,291.60 L256.51,290.51 L259.14,289.38 L261.93,288.50 L264.87,287.78 L267.93,287.16 L271.11,287.01 L274.40,286.25 L277.79,286.04 L281.28,285.83 L284.85,285.35 L288.51,285.23 L292.24,284.89 L296.05,284.42 L299.93,284.14 L303.89,283.92 L307.90,283.48 L311.99,283.12 L316.13,283.03 L320.33,282.86 L324.60,282.13 L328.91,282.19 L333.29,281.63 L337.71,281.35 L342.19,280.67 L346.71,280.03 L351.29,279.81 L355.91,279.00 L360.58,278.36" stroke="#ff8c00" stroke-opacity="0.95" stroke-width="1.80" fill="none" clip-path="url(#cD)"/>
<path d="M248.70,293.88 L250.18,293.43 L252.34,292.61 L254.87,291.71 L257.67,290.95 L260.69,290.39 L263.90,289.59 L267.27,289.06 L270.79,288.76 L274.44,288.11 L278.22,287.94 L282.12,287.61 L286.12,287.37 L290.22,286.96 L294.42,286.61 L298.71,286.64 L303.09,286.26 L307.55,286.12 L312.09,286.00 L316.70,285.68 L321.39,285.43 L326.15,285.34" stroke="#ff8c00" stroke-opacity="0.95" stroke-width="1.50" fill="none" clip-path="url(#cD)"/>
<path d="M248.70,293.88 L249.75,292.98 L251.29,291.61 L253.08,290.32 L255.07,288.73 L257.22,287.28 L259.49,285.78 L261.89,284.25 L264.39,282.81 L266.99,281.35 L269.67,280.01 L272.44,278.57 L275.28,276.98 L278.19,276.11 L281.18,274.99 L284.22,274.12 L287.33,273.72 L290.50,273.07 L293.73,272.66 L297.01,272.22 L300.34,272.15" stroke="#ff8c00" stroke-opacity="0.95" stroke-width="1.20" fill="none" clip-path="url(#cD)"/>
<path d="M248.70,293.88 L249.18,293.09 L249.89,292.23 L250.71,290.96 L251.62,289.57 L252.60,288.33 L253.65,286.83 L254.75,285.63 L255.89,284.24 L257.08,283.05 L258.31,281.71 L259.58,280.67 L260.88,279.45 L262.22,278.36 L263.59,277.36 L264.98,276.16 L266.41,275.35 L267.86,274.22 L269.34,273.41 L270.84,272.81 L272.37,272.15" stroke="#ff8c00" stroke-opacity="0.95" stroke-width="1.20" fill="none" clip-path="url(#cD)"/>
<path d="M248.70,293.88 L249.36,292.94 L250.32,291.66 L251.44,290.11 L252.68,288.34 L254.02,286.73 L255.45,284.94 L256.94,283.31 L258.51,281.59 L260.13,279.86 L261.81,278.36 L263.54,276.78 L265.31,275.41 L267.13,273.89 L269.00,272.55 L270.90,271.11 L272.85,269.96 L274.83,268.84 L276.84,267.59 L278.89,266.68 L280.97,265.94" stroke="#ff8c00" stroke-opacity="0.95" stroke-width="1.20" fill="none" clip-path="url(#cD)"/>
<path d="M248.70,293.88 L249.52,293.88 L250.71,293.03 L252.11,291.62 L253.66,289.82 L255.33,289.20 L257.10,288.59 L258.97,287.30 L260.91,286.73 L262.93,285.72 L265.02,285.19 L267.18,283.34 L269.39,283.71 L271.66,281.92 L273.98,281.90 L276.35,281.01 L278.77,279.10 L281.24,278.19 L283.75,278.18 L286.30,276.69 L288.89,276.53 L291.53,276.23 L294.20,275.53 L296.90,276.09 L299.64,275.42 L302.42,273.74 L305.23,274.03 L308.07,272.55 L310.95,273.49 L313.85,273.08 L316.79,272.92 L319.75,271.39 L322.75,272.07 L325.77,272.65 L328.82,273.10 L331.90,272.26 L335.00,273.45 L338.13,272.07 L341.28,273.64 L344.46,272.85 L347.67,273.70" stroke="#ff8c00" stroke-opacity="0.95" stroke-width="1.60" fill="none" clip-path="url(#cD)"/>
<path d="M248.70,293.88 L249.38,292.64 L250.36,292.88 L251.52,291.38 L252.80,290.17 L254.18,289.53 L255.64,288.52 L257.18,286.55 L258.79,286.66 L260.46,285.08 L262.18,285.19 L263.96,283.24 L265.79,281.61 L267.67,281.82 L269.58,280.35 L271.54,280.30 L273.54,279.43 L275.58,278.65 L277.65,277.02 L279.76,277.36 L281.90,277.23 L284.08,275.68 L286.28,275.01 L288.52,274.40 L290.78,274.12 L293.08,273.93 L295.40,272.66 L297.75,273.08 L300.12,272.63 L302.52,272.37 L304.95,272.14 L307.40,271.43 L309.87,270.15 L312.37,270.34 L314.89,269.99 L317.43,270.33 L319.99,270.29 L322.58,269.57 L325.18,269.23 L327.81,270.94 L330.46,270.60" stroke="#ff8c00" stroke-opacity="0.95" stroke-width="1.60" fill="none" clip-path="url(#cD)"/>
<path d="M248.70,293.88 L249.63,293.08 L250.99,291.94 L252.58,291.72 L254.34,290.29 L256.24,290.43 L258.26,288.61 L260.38,288.72 L262.59,287.74 L264.89,287.11 L267.27,286.45 L269.72,284.56 L272.24,284.42 L274.82,283.68 L277.46,282.44 L280.16,282.50 L282.91,280.98 L285.71,281.39 L288.57,279.62 L291.47,279.21 L294.42,279.23 L297.42,278.08 L300.45,277.75 L303.53,277.18 L306.65,277.81 L309.81,277.32 L313.01,277.18 L316.24,276.69 L319.51,276.29 L322.81,275.64 L326.15,276.03" stroke="#ff8c00" stroke-opacity="0.95" stroke-width="1.40" fill="none" clip-path="url(#cD)"/>
<path d="M248.70,293.88 L249.66,293.16 L251.07,291.54 L252.72,290.36 L254.54,288.52 L256.51,287.33 L258.60,285.03 L260.79,283.19 L263.08,281.46 L265.46,279.38 L267.92,278.16 L270.46,276.95 L273.06,274.67 L275.74,273.91 L278.47,272.80 L281.26,271.14 L284.11,269.79 L287.02,269.44 L289.97,268.79 L292.98,268.40 L296.03,267.50" stroke="#ff8c00" stroke-opacity="0.95" stroke-width="1.40" fill="none" clip-path="url(#cD)"/>
<path d="M248.70,293.88 L267.20,239.79 L285.71,240.72 L306.79,241.89 L356.71,214.73 L378.65,205.42 L400.60,185.24 L420.82,181.36" stroke="#4169e1" stroke-opacity="0.90" stroke-width="0.95" fill="none" clip-path="url(#cD)"/>
<path d="M248.70,293.88 L267.20,241.19 L285.71,242.28 L306.79,243.28 L356.71,222.49 L378.65,220.94 L400.60,201.54 L420.82,188.34" stroke="#4169e1" stroke-opacity="0.90" stroke-width="0.95" fill="none" clip-path="url(#cD)"/>
<path d="M248.70,293.88 L267.20,244.68 L285.71,246.93 L306.79,246.78 L356.71,224.04 L378.65,222.49 L400.60,201.54 L420.82,204.64" stroke="#4169e1" stroke-opacity="0.90" stroke-width="0.95" fill="none" clip-path="url(#cD)"/>
<path d="M248.70,293.88 L267.20,246.08 L285.71,247.71 L306.79,248.17 L356.71,225.59 L378.65,224.04 L400.60,203.86 L420.82,191.45" stroke="#4169e1" stroke-opacity="0.90" stroke-width="0.95" fill="none" clip-path="url(#cD)"/>
<path d="M248.70,293.88 L267.20,246.93 L285.71,248.87 L306.79,249.65 L356.71,229.47 L378.65,229.47 L400.60,217.83 L420.82,220.16" stroke="#4169e1" stroke-opacity="0.90" stroke-width="0.95" fill="none" clip-path="url(#cD)"/>
<path d="M248.70,293.88 L249.59,294.17 L250.88,294.52 L252.40,294.77 L254.08,295.15 L255.89,295.51 L257.81,295.96 L259.83,296.43 L261.94,297.00 L264.13,297.25 L266.39,297.86 L268.73,298.32 L271.13,298.78 L273.59,299.15 L276.10,299.62 L278.67,300.19 L281.30,300.68 L283.97,301.18 L286.69,301.45 L289.46,301.76 L292.27,302.16 L295.12,302.36 L298.01,302.46 L300.95,302.68 L303.92,303.02 L306.93,303.00 L309.97,303.22 L313.06,303.36 L316.17,303.55 L319.32,303.46 L322.50,303.59 L325.72,303.55 L328.96,303.47 L332.24,303.50 L335.54,303.65 L338.88,303.65 L342.24,303.63 L345.63,303.64 L349.05,303.46 L352.50,303.53 L355.97,303.54 L359.47,303.55 L363.00,303.51 L366.55,303.52 L370.12,303.43 L373.72,303.48 L377.35,303.35 L381.00,303.32 L384.67,303.27 L388.36,303.25 L392.08,303.34 L395.82,303.24 L399.58,302.86 L403.36,303.27 L407.16,303.03 L410.99,303.34 L414.84,302.75 L418.70,303.19 L422.59,303.19 L426.50,302.96 L430.42,303.87 L434.37,304.04 L438.34,303.57 L442.32,303.36 L446.33,303.39 L450.35,302.78 L454.40,302.02 L458.46,301.48 L462.53,301.00 L466.63,300.60 L470.75,300.53 L474.88,299.48 L479.03,298.77 L483.20,298.84 L487.38,297.91 L491.58,298.19 L495.80,297.56 L500.04,297.53 L504.29,297.79 L508.56,297.60 L512.84,297.39 L517.14,297.50 L521.46,297.52 L525.79,296.96 L530.14,296.93 L534.50,296.66 L538.88,295.90 L543.27,295.65 L547.68,295.65 L552.11,295.70 L556.55,294.69 L561.00,294.83 L565.47,294.66 L569.95,293.74 L574.45,293.30 L578.96,293.60 L583.49,293.03 L588.03,292.41 L592.58,292.45 L597.15,292.30 L601.73,292.18 L606.33,291.99 L610.94,290.88 L615.56,290.64 L620.20,290.92 L624.85,290.18 L629.52,290.00" stroke="#4169e1" stroke-opacity="0.90" stroke-width="1.80" fill="none" clip-path="url(#cD)"/>
<path d="M248.70,293.88 L249.58,294.09 L250.87,294.17 L252.37,294.50 L254.04,294.68 L255.83,295.00 L257.74,295.39 L259.75,295.57 L261.84,295.86 L264.01,296.30 L266.26,296.60 L268.58,296.84 L270.96,297.02 L273.40,297.26 L275.90,297.68 L278.45,297.90 L281.05,298.25 L283.71,298.67 L286.41,298.93 L289.15,299.14 L291.94,299.51 L294.77,299.77 L297.65,299.96 L300.56,300.29 L303.51,300.39 L306.49,300.49 L309.52,300.58 L312.58,300.65 L315.67,300.84 L318.79,300.89 L321.95,300.98 L325.14,301.15 L328.36,301.08 L331.61,301.11 L334.90,301.28 L338.21,301.38 L341.54,301.45 L344.91,301.48 L348.31,301.55 L351.73,301.61 L355.17,301.49 L358.65,301.65 L362.15,301.70 L365.67,301.60 L369.22,301.76 L372.79,301.67 L376.39,301.63 L380.01,301.57 L383.65,301.69 L387.32,301.74 L391.01,301.53 L394.72,301.75 L398.45,301.66 L402.20,301.63 L405.98,301.19 L409.78,301.77 L413.59,301.88 L417.43,301.84 L421.29,301.76 L425.17,301.96 L429.07,301.22 L432.99,301.53 L436.92,301.26 L440.88,301.60 L444.85,301.14 L448.85,300.77 L452.86,301.07 L456.89,299.88 L460.94,299.88 L465.01,298.80 L469.09,297.91 L473.19,297.75 L477.31,296.84 L481.45,297.06 L485.60,296.86 L489.77,296.27 L493.96,296.46 L498.16,296.87 L502.38,296.69 L506.62,296.25 L510.87,296.35 L515.14,296.53 L519.42,295.73 L523.72,296.08 L528.04,295.41 L532.37,295.78 L536.71,295.81 L541.07,295.44 L545.45,294.92 L549.84,294.69 L554.25,294.85 L558.67,294.97 L563.10,294.54 L567.55,294.60 L572.02,294.31 L576.50,294.43 L580.99,294.20 L585.50,293.11 L590.02,293.02 L594.55,293.25 L599.10,292.60 L603.66,292.80 L608.24,291.69 L612.83,291.49 L617.43,290.95 L622.04,290.77 L626.67,290.28 L631.31,289.44 L635.97,289.22" stroke="#4169e1" stroke-opacity="0.90" stroke-width="1.10" fill="none" clip-path="url(#cD)"/>
<path d="M248.70,293.88 L249.62,293.87 L250.96,293.85 L252.53,293.78 L254.27,293.59 L256.14,293.61 L258.13,293.57 L260.23,293.42 L262.41,293.41 L264.68,293.28 L267.02,293.16 L269.44,293.17 L271.93,293.07 L274.47,292.92 L277.08,292.86 L279.74,292.78 L282.46,292.84 L285.23,292.62 L288.04,292.61 L290.91,292.61 L293.82,292.42 L296.77,292.50 L299.77,292.32 L302.81,292.43 L305.89,292.39 L309.00,292.31 L312.16,292.27 L315.35,292.26 L318.58,292.21 L321.84,292.31 L325.13,292.20 L328.46,292.25 L331.82,292.14 L335.21,292.18 L338.64,292.16 L342.09,292.24 L345.58,292.11 L349.09,292.20 L352.63,292.20 L356.20,292.15 L359.80,292.08 L363.42,292.14 L367.07,292.09 L370.75,292.05 L374.45,292.08 L378.18,292.07 L381.93,292.00 L385.71,291.91 L389.51,291.88 L393.34,291.92 L397.18,291.81 L401.06,291.58 L404.95,291.62 L408.87,291.90 L412.81,291.94 L416.77,291.30 L420.75,291.42 L424.76,291.64 L428.79,291.30 L432.83,291.34 L436.90,291.25 L440.99,291.35 L445.09,291.09 L449.22,291.20 L453.37,291.13 L457.54,291.09 L461.72,290.76 L465.93,290.61 L470.15,290.88 L474.40,290.93 L478.66,290.74 L482.94,290.34 L487.24,290.50 L491.55,290.63 L495.89,290.02 L500.24,290.18 L504.61,290.32 L508.99,289.80 L513.39,289.85 L517.81,289.55 L522.25,289.45 L526.70,289.36 L531.17,289.21 L535.66,289.41 L540.16,289.04 L544.68,289.12 L549.22,288.90 L553.77,289.05 L558.33,288.68 L562.92,288.90 L567.51,288.28 L572.13,288.58 L576.75,288.21 L581.40,287.90 L586.06,287.98" stroke="#4169e1" stroke-opacity="0.90" stroke-width="1.50" fill="none" clip-path="url(#cD)"/>
<path d="M248.70,293.88 L249.62,293.75 L250.96,293.63 L252.53,293.56 L254.27,293.47 L256.14,293.18 L258.13,293.13 L260.23,292.88 L262.41,292.80 L264.68,292.64 L267.02,292.49 L269.44,292.36 L271.93,292.21 L274.47,292.13 L277.08,292.09 L279.74,291.93 L282.46,291.90 L285.23,291.69 L288.04,291.70 L290.91,291.58 L293.82,291.47 L296.77,291.42 L299.77,291.26 L302.81,291.20 L305.89,291.19 L309.00,291.10 L312.16,290.98 L315.35,290.94 L318.58,290.85 L321.84,290.83 L325.13,290.72 L328.46,290.65 L331.82,290.54 L335.21,290.56 L338.64,290.42 L342.09,290.45 L345.58,290.38 L349.09,290.33 L352.63,290.16 L356.20,290.23 L359.80,290.14 L363.42,290.05 L367.07,289.95 L370.75,289.90 L374.45,289.93 L378.18,289.82 L381.93,289.72 L385.71,289.75 L389.51,289.69 L393.34,289.53 L397.18,289.60 L401.06,289.73 L404.95,289.61 L408.87,289.16 L412.81,289.41 L416.77,289.31 L420.75,289.20 L424.76,288.94 L428.79,289.42 L432.83,289.29 L436.90,289.12 L440.99,288.94 L445.09,289.22 L449.22,288.99 L453.37,288.88 L457.54,289.16 L461.72,288.96 L465.93,289.09 L470.15,288.53 L474.40,289.06 L478.66,288.93 L482.94,288.61 L487.24,288.81 L491.55,288.56 L495.89,288.66 L500.24,288.21 L504.61,288.43 L508.99,288.52 L513.39,288.57 L517.81,288.33 L522.25,288.09 L526.70,288.07 L531.17,288.02 L535.66,288.07 L540.16,287.75 L544.68,288.02 L549.22,287.86 L553.77,287.53 L558.33,287.57 L562.92,287.69 L567.51,287.41 L572.13,287.35 L576.75,287.57 L581.40,287.43 L586.06,287.28" stroke="#4169e1" stroke-opacity="0.90" stroke-width="1.30" fill="none" clip-path="url(#cD)"/>
<path d="M248.70,293.88 L249.59,293.73 L250.88,293.63 L252.40,293.45 L254.08,293.22 L255.89,293.08 L257.81,292.83 L259.83,292.49 L261.94,292.38 L264.13,292.06 L266.39,291.97 L268.73,291.71 L271.13,291.47 L273.59,291.31 L276.10,291.01 L278.67,290.82 L281.30,290.73 L283.97,290.57 L286.69,290.26 L289.46,290.10 L292.27,289.97 L295.12,289.87 L298.01,289.72 L300.95,289.45 L303.92,289.30 L306.93,289.18 L309.97,289.05 L313.06,288.91 L316.17,288.75 L319.32,288.60 L322.50,288.43 L325.72,288.33 L328.96,288.20 L332.24,288.09 L335.54,287.89 L338.88,287.72 L342.24,287.71 L345.63,287.50 L349.05,287.40 L352.50,287.35 L355.97,287.25 L359.47,287.04 L363.00,287.04 L366.55,286.94 L370.12,286.85 L373.72,286.63 L377.35,286.60 L381.00,286.55 L384.67,286.40 L388.36,286.26 L392.08,286.17 L395.82,286.13 L399.58,285.77 L403.36,285.79 L407.16,285.98 L410.99,285.90 L414.84,285.91 L418.70,286.03 L422.59,285.67 L426.50,285.89 L430.42,285.67 L434.37,285.60 L438.34,285.97 L442.32,286.05 L446.33,286.06 L450.35,286.06 L454.40,286.41 L458.46,286.27 L462.53,286.40 L466.63,286.61 L470.75,286.25 L474.88,286.41 L479.03,286.62 L483.20,286.94 L487.38,286.60 L491.58,286.87 L495.80,286.61 L500.04,286.78 L504.29,287.05 L508.56,286.74 L512.84,286.84 L517.14,286.99 L521.46,286.71 L525.79,287.00 L530.14,287.12 L534.50,287.18 L538.88,286.83 L543.27,287.04 L547.68,287.11 L552.11,287.18 L556.55,286.73 L561.00,287.03 L565.47,286.67 L569.95,286.65 L574.45,286.70 L578.96,287.07 L583.49,286.62 L588.03,286.80 L592.58,286.50 L597.15,286.15 L601.73,286.07 L606.33,285.47 L610.94,284.51 L615.56,284.18 L620.20,283.55 L624.85,282.82 L629.52,281.77" stroke="#4169e1" stroke-opacity="0.90" stroke-width="1.30" fill="none" clip-path="url(#cD)"/>
<path d="M248.70,293.88 L249.62,293.71 L250.96,293.52 L252.53,293.15 L254.27,293.01 L256.14,292.64 L258.13,292.28 L260.23,291.98 L262.41,291.63 L264.68,291.36 L267.02,291.05 L269.44,290.78 L271.93,290.56 L274.47,290.38 L277.08,290.20 L279.74,289.98 L282.46,289.83 L285.23,289.64 L288.04,289.42 L290.91,289.26 L293.82,289.10 L296.77,288.98 L299.77,288.68 L302.81,288.63 L305.89,288.45 L309.00,288.32 L312.16,288.14 L315.35,287.96 L318.58,287.79 L321.84,287.70 L325.13,287.52 L328.46,287.47 L331.82,287.32 L335.21,287.21 L338.64,286.99 L342.09,286.99 L345.58,286.85 L349.09,286.65 L352.63,286.61 L356.20,286.52 L359.80,286.35 L363.42,286.22 L367.07,286.10 L370.75,286.02 L374.45,285.89 L378.18,285.79 L381.93,285.71 L385.71,285.56 L389.51,285.50 L393.34,285.41 L397.18,285.19 L401.06,284.92 L404.95,285.13 L408.87,284.92 L412.81,285.08 L416.77,285.00 L420.75,284.56 L424.76,284.15 L428.79,284.54 L432.83,284.14 L436.90,283.75 L440.99,284.06 L445.09,283.51 L449.22,283.51 L453.37,283.01 L457.54,282.76 L461.72,282.51 L465.93,282.36 L470.15,282.58 L474.40,282.02 L478.66,281.87 L482.94,281.82 L487.24,281.68 L491.55,281.32 L495.89,281.16 L500.24,281.00 L504.61,280.49 L508.99,280.78 L513.39,280.24 L517.81,280.53 L522.25,280.04 L526.70,280.04 L531.17,279.93 L535.66,279.73 L540.16,279.81 L544.68,279.62 L549.22,279.36 L553.77,279.37 L558.33,278.83 L562.92,278.81 L567.51,278.72 L572.13,278.57 L576.75,278.78 L581.40,278.77 L586.06,278.36" stroke="#4169e1" stroke-opacity="0.90" stroke-width="1.30" fill="none" clip-path="url(#cD)"/>
<path d="M248.70,293.88 L249.62,293.74 L250.96,293.32 L252.53,293.03 L254.27,292.58 L256.14,292.29 L258.13,291.88 L260.23,291.44 L262.41,291.02 L264.68,290.72 L267.02,290.37 L269.44,290.10 L271.93,289.87 L274.47,289.54 L277.08,289.32 L279.74,289.18 L282.46,289.03 L285.23,288.73 L288.04,288.62 L290.91,288.41 L293.82,288.30 L296.77,288.19 L299.77,287.94 L302.81,287.89 L305.89,287.61 L309.00,287.58 L312.16,287.40 L315.35,287.32 L318.58,287.15 L321.84,286.96 L325.13,286.92 L328.46,286.80 L331.82,286.69 L335.21,286.58 L338.64,286.38 L342.09,286.31 L345.58,286.11 L349.09,286.00 L352.63,285.89 L356.20,285.69 L359.80,285.54 L363.42,285.50 L367.07,285.26 L370.75,285.09 L374.45,284.98 L378.18,284.68 L381.93,284.58 L385.71,284.26 L389.51,284.00 L393.34,283.81 L397.18,283.58 L401.06,283.30 L404.95,283.24 L408.87,283.23 L412.81,282.88 L416.77,282.76 L420.75,282.30 L424.76,282.11 L428.79,281.92 L432.83,282.18 L436.90,281.70 L440.99,281.57 L445.09,282.00 L449.22,281.55 L453.37,281.72 L457.54,281.61 L461.72,281.27 L465.93,281.00 L470.15,281.21 L474.40,281.01 L478.66,280.79 L482.94,280.64 L487.24,280.77 L491.55,280.62 L495.89,280.58 L500.24,280.25 L504.61,279.69 L508.99,280.03 L513.39,279.52 L517.81,279.42 L522.25,279.12 L526.70,278.98 L531.17,279.27 L535.66,278.92 L540.16,278.42 L544.68,278.35 L549.22,278.03 L553.77,278.34 L558.33,277.64 L562.92,277.71 L567.51,277.26 L572.13,277.18 L576.75,277.10 L581.40,276.78 L586.06,276.58" stroke="#4169e1" stroke-opacity="0.90" stroke-width="1.50" fill="none" clip-path="url(#cD)"/>
<path d="M248.70,293.88 L249.62,293.70 L250.96,293.20 L252.53,292.78 L254.27,292.36 L256.14,291.88 L258.13,291.37 L260.23,290.93 L262.41,290.50 L264.68,290.00 L267.02,289.56 L269.44,289.25 L271.93,289.00 L274.47,288.86 L277.08,288.61 L279.74,288.40 L282.46,288.16 L285.23,287.93 L288.04,287.80 L290.91,287.64 L293.82,287.51 L296.77,287.40 L299.77,287.23 L302.81,286.97 L305.89,286.83 L309.00,286.72 L312.16,286.58 L315.35,286.51 L318.58,286.42 L321.84,286.29 L325.13,286.17 L328.46,286.03 L331.82,285.79 L335.21,285.74 L338.64,285.68 L342.09,285.58 L345.58,285.47 L349.09,285.35 L352.63,285.20 L356.20,285.03 L359.80,284.91 L363.42,284.74 L367.07,284.50 L370.75,284.39 L374.45,284.17 L378.18,283.83 L381.93,283.65 L385.71,283.33 L389.51,283.12 L393.34,282.78 L397.18,282.62 L401.06,282.42 L404.95,281.80 L408.87,281.92 L412.81,281.50 L416.77,281.57 L420.75,281.46 L424.76,281.10 L428.79,280.92 L432.83,281.03 L436.90,280.58 L440.99,280.50 L445.09,280.40 L449.22,280.02 L453.37,279.80 L457.54,279.97 L461.72,279.91 L465.93,279.49 L470.15,279.37 L474.40,279.40 L478.66,279.21 L482.94,279.25 L487.24,278.88 L491.55,278.83 L495.89,278.52 L500.24,278.72 L504.61,278.71 L508.99,278.06 L513.39,278.07 L517.81,277.77 L522.25,277.64 L526.70,277.45 L531.17,277.54 L535.66,277.05 L540.16,277.03 L544.68,276.99 L549.22,276.96 L553.77,276.82 L558.33,276.56 L562.92,276.32 L567.51,276.12 L572.13,275.76 L576.75,275.36 L581.40,275.41 L586.06,275.26" stroke="#4169e1" stroke-opacity="0.90" stroke-width="1.00" fill="none" clip-path="url(#cD)"/>
<path d="M248.70,293.88 L249.77,293.53 L251.34,293.01 L253.17,292.42 L255.20,291.78 L257.39,291.10 L259.72,290.40 L262.16,289.70 L264.71,289.01 L267.36,288.34 L270.10,287.70 L272.92,287.08 L275.83,286.45 L278.80,285.83 L281.84,285.21 L284.95,284.60 L288.13,284.01 L291.36,283.45 L294.65,282.91 L298.00,282.42 L301.40,281.97 L304.85,281.57 L308.35,281.23 L311.90,280.91 L315.49,280.61 L319.13,280.32 L322.82,280.05 L326.54,279.80 L330.31,279.56 L334.12,279.33 L337.97,279.11 L341.86,278.89 L345.78,278.67 L349.74,278.46 L353.74,278.24 L357.78,278.01 L361.85,277.77 L365.95,277.52 L370.08,277.29 L374.25,277.09 L378.45,276.89 L382.69,276.65 L386.95,276.36 L391.25,275.98 L395.57,275.31 L399.92,274.36 L404.31,273.26 L408.72,272.16 L413.16,271.01 L417.63,269.79 L422.12,268.78 L426.64,267.88 L431.19,267.03 L435.77,266.23 L440.37,265.51 L445.00,264.89 L449.65,264.39" stroke="#4169e1" stroke-opacity="0.90" stroke-width="1.00" fill="none" clip-path="url(#cD)"/>
<path d="M248.70,293.88 L249.77,293.53 L251.34,293.01 L253.17,292.42 L255.20,291.78 L257.39,291.10 L259.72,290.40 L262.16,289.70 L264.71,289.01 L267.36,288.34 L270.10,287.70 L272.92,287.08 L275.83,286.45 L278.80,285.83 L281.84,285.21 L284.95,284.60 L288.13,284.01 L291.36,283.45 L294.65,282.91 L298.00,282.42 L301.40,281.97 L304.85,281.57 L308.35,281.23 L311.90,280.91 L315.49,280.61 L319.13,280.32 L322.82,280.05 L326.54,279.80 L330.31,279.56 L334.12,279.33 L337.97,279.11 L341.86,278.89 L345.78,278.67 L349.74,278.46 L353.74,278.24 L357.78,278.01 L361.85,277.77 L365.95,277.52 L370.08,277.30 L374.25,277.11 L378.45,276.91 L382.69,276.68 L386.95,276.38 L391.25,275.97 L395.57,274.99 L399.92,273.45 L404.31,271.73 L408.72,270.23 L413.16,268.98 L417.63,267.82 L422.12,266.84 L426.64,265.94 L431.19,265.09 L435.77,264.29 L440.37,263.57 L445.00,262.95 L449.65,262.45" stroke="#4169e1" stroke-opacity="0.90" stroke-width="1.00" fill="none" clip-path="url(#cD)"/>
<path d="M248.70,293.88 L249.77,293.53 L251.34,293.01 L253.17,292.42 L255.20,291.78 L257.39,291.10 L259.72,290.40 L262.16,289.70 L264.71,289.01 L267.36,288.34 L270.10,287.70 L272.92,287.08 L275.83,286.45 L278.80,285.83 L281.84,285.21 L284.95,284.60 L288.13,284.01 L291.36,283.45 L294.65,282.91 L298.00,282.42 L301.40,281.97 L304.85,281.57 L308.35,281.23 L311.90,280.91 L315.49,280.61 L319.13,280.32 L322.82,280.05 L326.54,279.80 L330.31,279.56 L334.12,279.33 L337.97,279.11 L341.86,278.89 L345.78,278.67 L349.74,278.46 L353.74,278.24 L357.78,278.01 L361.85,277.77 L365.95,277.52 L370.08,277.31 L374.25,277.12 L378.45,276.93 L382.69,276.70 L386.95,276.39 L391.25,275.96 L395.57,274.66 L399.92,272.52 L404.31,270.17 L408.72,268.29 L413.16,266.98 L417.63,265.86 L422.12,264.90 L426.64,264.00 L431.19,263.15 L435.77,262.35 L440.37,261.63 L445.00,261.01 L449.65,260.51" stroke="#4169e1" stroke-opacity="0.90" stroke-width="1.00" fill="none" clip-path="url(#cD)"/>
<path d="M248.70,293.88 L249.97,293.59 L251.82,293.36 L253.98,292.76 L256.37,292.30 L258.95,291.69 L261.70,291.19 L264.58,290.48 L267.59,289.83 L270.71,289.04 L273.95,288.35 L277.28,287.46 L280.70,286.60 L284.21,285.80 L287.80,284.88 L291.47,283.87 L295.21,282.91 L299.02,281.76 L302.90,280.68 L306.85,279.64 L310.86,278.34 L314.93,277.08 L319.06,275.43 L323.25,274.02 L327.49,272.71 L331.78,271.38 L336.13,270.03 L340.52,269.15 L344.97,268.61 L349.46,268.23 L354.00,267.79 L358.59,267.04 L363.22,265.80 L367.89,262.37" stroke="#f5cf1a" stroke-opacity="0.90" stroke-width="1.70" fill="none" clip-path="url(#cD)"/>
<path d="M248.70,293.88 L249.97,293.65 L251.82,293.48 L253.98,293.09 L256.37,292.70 L258.95,292.07 L261.70,291.57 L264.58,291.01 L267.59,290.54 L270.71,289.94 L273.95,289.33 L277.28,288.58 L280.70,287.82 L284.21,287.02 L287.80,286.19 L291.47,285.22 L295.21,284.26 L299.02,283.38 L302.90,282.24 L306.85,281.24 L310.86,279.95 L314.93,278.33 L319.06,276.88 L323.25,275.23 L327.49,273.42 L331.78,272.09 L336.13,270.90 L340.52,269.89 L344.97,269.08 L349.46,268.51 L354.00,267.75 L358.59,267.25 L363.22,266.44 L367.89,265.94" stroke="#f5cf1a" stroke-opacity="0.90" stroke-width="1.70" fill="none" clip-path="url(#cD)"/>
<path d="M248.70,293.88 L249.36,293.86 L250.31,293.69 L251.43,293.97 L252.67,293.64 L254.01,292.91 L255.43,293.01 L256.92,291.95 L258.48,291.18 L260.10,291.86 L261.77,290.91 L263.50,290.85 L265.27,290.52 L267.08,290.03 L268.94,290.18 L270.84,289.47 L272.78,290.18 L274.76,289.22 L276.77,289.22 L278.81,289.48 L280.89,289.23 L282.99,288.03 L285.13,288.27 L287.30,288.28 L289.49,288.10 L291.72,287.43 L293.97,287.56 L296.24,287.97 L298.55,286.80 L300.87,286.76 L303.22,286.69 L305.60,286.63 L308.00,286.52 L310.42,286.86 L312.86,285.80 L315.32,286.04 L317.81,286.68 L320.31,285.65 L322.84,286.06 L325.39,286.45 L327.95,285.18 L330.54,285.97 L333.14,285.57 L335.76,285.89 L338.41,285.15 L341.06,284.97 L343.74,284.40 L346.44,284.03 L349.15,283.90 L351.88,283.89 L354.62,283.88 L357.39,282.75 L360.16,283.39 L362.96,283.01 L365.77,282.54 L368.59,282.81 L371.44,282.55 L374.29,283.21 L377.17,283.09 L380.05,283.52 L382.95,283.02" stroke="#f5cf1a" stroke-opacity="0.90" stroke-width="1.50" fill="none" clip-path="url(#cD)"/>
<path d="M248.70,293.88 L249.33,293.85 L250.25,293.92 L251.33,292.90 L252.52,293.44 L253.80,293.27 L255.17,292.27 L256.61,292.72 L258.10,291.53 L259.66,291.68 L261.27,291.92 L262.93,290.86 L264.63,290.16 L266.38,290.84 L268.17,290.22 L269.99,289.97 L271.86,289.15 L273.75,288.84 L275.69,289.88 L277.65,289.19 L279.65,288.34 L281.67,288.64 L283.73,288.28 L285.81,287.96 L287.93,288.51 L290.06,288.24 L292.23,286.82 L294.42,287.30 L296.63,287.02 L298.87,286.65 L301.13,286.18 L303.41,285.78 L305.72,286.72 L308.04,285.77 L310.39,286.47 L312.76,285.54 L315.15,285.00 L317.56,285.31 L319.99,285.31 L322.44,284.48 L324.90,284.57 L327.39,284.11 L329.89,284.48 L332.42,284.66 L334.96,283.97 L337.51,284.11 L340.09,284.62 L342.68,284.27 L345.28,282.94 L347.91,283.18 L350.55,283.80 L353.21,282.52 L355.88,282.21 L358.56,282.92 L361.27,281.37 L363.98,282.35 L366.72,281.84 L369.46,281.62 L372.22,282.09 L375.00,282.53 L377.79,282.63" stroke="#f5cf1a" stroke-opacity="0.90" stroke-width="1.50" fill="none" clip-path="url(#cD)"/>
<path d="M248.70,293.88 L249.89,293.67 L251.63,293.30 L253.67,292.81 L255.92,292.45 L258.36,292.01 L260.94,291.69 L263.65,291.44 L266.49,291.16 L269.43,290.67 L272.48,290.46 L275.61,290.51 L278.84,290.15 L282.14,290.16 L285.52,290.12 L288.98,289.83 L292.50,289.53 L296.09,289.55 L299.75,289.32 L303.47,289.18 L307.24,289.06 L311.08,289.12 L314.97,288.76 L318.91,288.97 L322.90,288.69 L326.95,288.75 L331.04,288.52 L335.18,288.21 L339.37,288.12 L343.60,287.92 L347.87,287.96 L352.19,287.82 L356.55,287.79 L360.96,287.48 L365.40,287.11 L369.88,287.10 L374.40,286.65 L378.96,286.60 L383.55,286.13 L388.18,286.08 L392.85,285.65" stroke="#f5cf1a" stroke-opacity="0.90" stroke-width="1.40" fill="none" clip-path="url(#cD)"/>
<path d="M248.70,293.88 L249.91,293.53 L251.69,293.50 L253.76,293.17 L256.05,292.64 L258.53,292.20 L261.16,291.83 L263.92,291.55 L266.81,291.09 L269.81,290.91 L272.90,290.55 L276.10,290.24 L279.38,289.94 L282.74,289.68 L286.19,289.32 L289.70,288.92 L293.29,288.63 L296.95,288.49 L300.67,288.21 L304.45,288.15 L308.30,287.91 L312.20,288.08 L316.16,287.77 L320.17,287.67 L324.24,287.71 L328.36,287.64 L332.52,287.49 L336.74,287.71 L341.00,287.68 L345.31,287.51 L349.66,287.41 L354.06,287.42 L358.50,287.39 L362.98,287.35 L367.50,287.28 L372.06,287.08 L376.67,287.26 L381.31,287.00 L385.98,287.10 L390.70,286.90" stroke="#f5cf1a" stroke-opacity="0.90" stroke-width="1.50" fill="none" clip-path="url(#cD)"/>
<path d="M248.70,293.88 L249.92,293.54 L251.70,293.39 L253.78,292.84 L256.08,292.57 L258.56,292.04 L261.20,291.65 L263.97,291.08 L266.86,290.82 L269.87,290.42 L272.98,290.07 L276.18,289.78 L279.47,289.20 L282.85,289.03 L286.30,288.74 L289.83,288.40 L293.43,287.94 L297.09,287.61 L300.83,287.48 L304.62,287.19 L308.48,287.29 L312.39,286.95 L316.36,286.87 L320.39,286.92 L324.47,286.85 L328.60,286.64 L332.78,286.55 L337.00,286.43 L341.28,286.28 L345.60,286.36 L349.97,286.30 L354.38,286.23 L358.83,286.25 L363.32,286.14 L367.86,286.09 L372.43,286.19 L377.05,286.23 L381.70,286.05 L386.40,286.12" stroke="#f5cf1a" stroke-opacity="0.90" stroke-width="1.50" fill="none" clip-path="url(#cD)"/>
<path d="M248.70,293.88 L249.31,294.39 L250.20,293.22 L251.24,293.44 L252.39,293.86 L253.63,294.03 L254.95,292.72 L256.34,293.71 L257.79,292.53 L259.29,292.67 L260.85,292.28 L262.45,292.79 L264.10,291.87 L265.79,292.34 L267.52,291.68 L269.28,290.96 L271.08,291.28 L272.92,291.68 L274.79,291.36 L276.69,290.91 L278.62,290.10 L280.58,289.93 L282.56,290.27 L284.58,289.77 L286.62,289.86 L288.68,289.43 L290.78,289.44 L292.89,288.32 L295.03,288.87 L297.19,288.70 L299.38,288.02 L301.59,288.33 L303.81,288.22 L306.06,287.50 L308.33,286.70 L310.62,287.08 L312.93,286.93 L315.26,286.64 L317.61,285.93 L319.98,286.12 L322.36,285.47 L324.77,285.22 L327.19,285.60 L329.62,284.91 L332.08,283.93 L334.55,284.48 L337.04,283.43 L339.54,284.07 L342.07,283.19 L344.60,282.96 L347.15,282.26 L349.72,282.75 L352.30,282.24 L354.90,281.63 L357.51,280.90 L360.14,281.64 L362.78,281.39 L365.44,282.13 L368.11,281.75 L370.79,283.30 L373.49,283.02" stroke="#f5cf1a" stroke-opacity="0.90" stroke-width="2.20" fill="none" clip-path="url(#cD)"/>
<path d="M248.70,293.88 L249.37,293.29 L250.35,294.03 L251.50,293.95 L252.77,293.37 L254.14,293.37 L255.60,292.39 L257.13,292.30 L258.73,292.42 L260.39,292.90 L262.11,292.73 L263.88,292.24 L265.69,292.20 L267.56,292.14 L269.46,291.95 L271.41,291.66 L273.40,291.39 L275.42,291.44 L277.49,290.94 L279.58,289.82 L281.71,289.75 L283.87,289.83 L286.07,289.13 L288.29,288.92 L290.54,289.87 L292.82,289.70 L295.13,289.06 L297.46,288.54 L299.82,287.65 L302.21,288.77 L304.62,287.59 L307.06,287.21 L309.52,287.71 L312.00,286.76 L314.50,286.37 L317.03,287.21 L319.58,286.17 L322.15,286.18 L324.74,285.51 L327.35,286.13 L329.98,285.16 L332.64,285.82 L335.31,285.53 L338.00,284.71 L340.71,284.58 L343.43,284.22 L346.18,284.31 L348.94,283.01 L351.72,283.59 L354.52,283.26 L357.34,283.29 L360.17,282.49 L363.02,283.50 L365.89,282.47 L368.77,283.56 L371.67,282.69 L374.58,283.40 L377.51,283.26 L380.46,283.87 L383.42,283.19 L386.40,283.79" stroke="#f5cf1a" stroke-opacity="0.90" stroke-width="1.80" fill="none" clip-path="url(#cD)"/>
<path d="M248.70,293.88 L249.39,294.18 L250.41,292.99 L251.59,292.92 L252.90,292.21 L254.31,291.73 L255.82,291.70 L257.40,292.40 L259.04,290.95 L260.76,291.78 L262.53,290.21 L264.35,289.65 L266.22,290.59 L268.15,290.38 L270.11,288.72 L272.12,289.13 L274.17,288.23 L276.26,287.64 L278.39,287.08 L280.55,287.44 L282.74,286.56 L284.97,286.10 L287.23,286.00 L289.53,286.33 L291.85,285.08 L294.20,285.57 L296.58,284.43 L298.99,284.96 L301.42,284.45 L303.88,284.86 L306.37,284.39 L308.88,282.65 L311.42,283.08 L313.98,282.24 L316.56,282.29 L319.17,281.49 L321.79,281.44 L324.44,281.70 L327.12,281.03 L329.81,280.13 L332.52,280.57 L335.26,278.91 L338.01,280.06 L340.79,278.90 L343.58,278.10 L346.39,278.08 L349.22,278.83 L352.08,278.70 L354.94,277.52 L357.83,277.85 L360.73,278.21 L363.66,277.99 L366.59,276.89 L369.55,277.75 L372.52,277.09 L375.51,275.77 L378.52,276.69 L381.54,275.45 L384.58,276.58 L387.63,276.03 L390.70,275.26" stroke="#b8860b" stroke-opacity="0.90" stroke-width="1.40" fill="none" clip-path="url(#cD)"/>
<path d="M248.70,293.88 L249.39,294.48 L250.41,293.10 L251.59,293.11 L252.90,292.48 L254.31,292.08 L255.82,291.90 L257.40,292.59 L259.04,291.64 L260.76,291.98 L262.53,290.32 L264.35,290.64 L266.22,290.10 L268.15,288.99 L270.11,288.42 L272.12,288.67 L274.17,288.62 L276.26,287.39 L278.39,287.02 L280.55,287.64 L282.74,286.81 L284.97,285.55 L287.23,285.06 L289.53,284.75 L291.85,285.04 L294.20,285.15 L296.58,283.51 L298.99,284.25 L301.42,283.17 L303.88,283.13 L306.37,281.98 L308.88,282.40 L311.42,281.99 L313.98,280.81 L316.56,280.63 L319.17,279.79 L321.79,280.88 L324.44,280.48 L327.12,279.20 L329.81,279.14 L332.52,278.12 L335.26,278.51 L338.01,278.89 L340.79,277.88 L343.58,277.98 L346.39,276.80 L349.22,276.56 L352.08,276.27 L354.94,277.36 L357.83,276.43 L360.73,276.88 L363.66,275.40 L366.59,276.59 L369.55,275.54 L372.52,275.21 L375.51,275.85 L378.52,274.97 L381.54,275.50 L384.58,275.37 L387.63,274.72 L390.70,274.09" stroke="#b8860b" stroke-opacity="0.90" stroke-width="1.40" fill="none" clip-path="url(#cD)"/>
<path d="M248.70,293.88 L249.39,294.44 L250.41,293.61 L251.59,292.96 L252.90,292.26 L254.31,293.07 L255.82,292.38 L257.40,291.68 L259.04,291.95 L260.76,291.59 L262.53,291.11 L264.35,289.93 L266.22,290.32 L268.15,289.22 L270.11,289.84 L272.12,289.13 L274.17,288.70 L276.26,288.32 L278.39,287.95 L280.55,287.04 L282.74,285.83 L284.97,285.56 L287.23,284.48 L289.53,285.08 L291.85,284.58 L294.20,284.16 L296.58,283.24 L298.99,283.36 L301.42,281.75 L303.88,281.94 L306.37,282.16 L308.88,280.97 L311.42,280.70 L313.98,280.69 L316.56,280.11 L319.17,279.11 L321.79,278.18 L324.44,278.46 L327.12,278.68 L329.81,278.71 L332.52,277.88 L335.26,277.70 L338.01,277.08 L340.79,276.75 L343.58,276.76 L346.39,276.70 L349.22,275.19 L352.08,274.96 L354.94,275.16 L357.83,274.65 L360.73,275.09 L363.66,274.63 L366.59,274.94 L369.55,274.36 L372.52,273.83 L375.51,273.84 L378.52,273.45 L381.54,273.52 L384.58,273.72 L387.63,272.69 L390.70,272.93" stroke="#b8860b" stroke-opacity="0.90" stroke-width="1.40" fill="none" clip-path="url(#cD)"/>
<path d="M248.70,293.88 L249.92,293.52 L251.70,293.39 L253.79,293.01 L256.10,292.63 L258.59,292.09 L261.23,291.64 L264.01,291.14 L266.92,290.65 L269.93,290.10 L273.05,289.62 L276.26,288.78 L279.56,288.42 L282.94,287.78 L286.41,286.85 L289.95,286.39 L293.56,285.71 L297.23,285.37 L300.98,285.13 L304.79,284.95 L308.65,284.67 L312.58,284.94 L316.56,284.82 L320.60,284.87 L324.69,284.76 L328.83,284.84 L333.02,284.71 L337.26,284.89 L341.55,284.79 L345.88,284.65 L350.26,284.79 L354.68,284.66 L359.15,284.94 L363.66,284.68 L368.21,284.83 L372.80,284.59 L377.43,284.60 L382.09,284.57" stroke="#b8860b" stroke-opacity="0.90" stroke-width="1.20" fill="none" clip-path="url(#cD)"/>
<path d="M248.70,293.88 L268.06,274.48 L277.10,239.40" stroke="#b8860b" stroke-opacity="0.90" stroke-width="1.00" fill="none" clip-path="url(#cD)"/>
<path d="M248.70,293.88 L274.52,274.48 L281.83,251.98" stroke="#b8860b" stroke-opacity="0.90" stroke-width="1.00" fill="none" clip-path="url(#cD)"/>
<path d="M248.70,293.88 L250.12,292.90 L252.21,291.46 L254.64,289.83 L257.33,288.17 L260.24,286.68 L263.32,285.50 L266.56,284.42 L269.95,283.38 L273.47,282.41 L277.10,281.48 L280.85,280.61 L284.70,279.79 L288.65,278.99 L292.69,278.21 L296.82,277.43 L301.03,276.62 L305.32,275.77 L309.68,274.88 L314.12,274.00 L318.64,273.13 L323.22,272.28 L327.86,271.44 L332.57,270.62 L337.34,269.82" stroke="#4169e1" stroke-opacity="0.95" stroke-width="1.90" fill="none" clip-path="url(#cD)"/>
<path d="M248.70,293.88 L256.88,253.53" stroke="#b22222" stroke-opacity="0.90" stroke-width="1.20" fill="none" clip-path="url(#cD)"/>
<path d="M248.70,293.88 L259.46,251.36" stroke="#b22222" stroke-opacity="0.90" stroke-width="1.20" fill="none" clip-path="url(#cD)"/>
<path d="M248.70,293.88 L253.86,262.84" stroke="#b22222" stroke-opacity="0.90" stroke-width="1.20" fill="none" clip-path="url(#cD)"/>
<path d="M248.70,293.88 L258.17,258.96" stroke="#b22222" stroke-opacity="0.90" stroke-width="1.20" fill="none" clip-path="url(#cD)"/>
<line x1="37.60" y1="74.15" x2="211.80" y2="74.15" stroke="#b0b0b0" stroke-opacity="0.7" stroke-width="1"/>
<line x1="246.80" y1="74.25" x2="420.80" y2="74.25" stroke="#b0b0b0" stroke-opacity="0.7" stroke-width="1"/>
<rect x="37.60" y="4.80" width="174.20" height="132.20" fill="none" stroke="#4a4a4a" stroke-width="1.2"/>
<line x1="40.10" y1="137.00" x2="40.10" y2="139.20" stroke="#333" stroke-width="1"/>
<text x="40.10" y="148.80" font-size="7.5" text-anchor="middle" fill="#1a1a1a" stroke="#1a1a1a" stroke-width="0.26">0</text>
<line x1="64.60" y1="137.00" x2="64.60" y2="139.20" stroke="#333" stroke-width="1"/>
<text x="64.60" y="148.80" font-size="7.5" text-anchor="middle" fill="#1a1a1a" stroke="#1a1a1a" stroke-width="0.26">2</text>
<line x1="89.10" y1="137.00" x2="89.10" y2="139.20" stroke="#333" stroke-width="1"/>
<text x="89.10" y="148.80" font-size="7.5" text-anchor="middle" fill="#1a1a1a" stroke="#1a1a1a" stroke-width="0.26">4</text>
<line x1="113.60" y1="137.00" x2="113.60" y2="139.20" stroke="#333" stroke-width="1"/>
<text x="113.60" y="148.80" font-size="7.5" text-anchor="middle" fill="#1a1a1a" stroke="#1a1a1a" stroke-width="0.26">6</text>
<line x1="138.10" y1="137.00" x2="138.10" y2="139.20" stroke="#333" stroke-width="1"/>
<text x="138.10" y="148.80" font-size="7.5" text-anchor="middle" fill="#1a1a1a" stroke="#1a1a1a" stroke-width="0.26">8</text>
<line x1="162.60" y1="137.00" x2="162.60" y2="139.20" stroke="#333" stroke-width="1"/>
<text x="162.60" y="148.80" font-size="7.5" text-anchor="middle" fill="#1a1a1a" stroke="#1a1a1a" stroke-width="0.26">10</text>
<line x1="187.10" y1="137.00" x2="187.10" y2="139.20" stroke="#333" stroke-width="1"/>
<text x="187.10" y="148.80" font-size="7.5" text-anchor="middle" fill="#1a1a1a" stroke="#1a1a1a" stroke-width="0.26">12</text>
<line x1="211.60" y1="137.00" x2="211.60" y2="139.20" stroke="#333" stroke-width="1"/>
<text x="211.60" y="148.80" font-size="7.5" text-anchor="middle" fill="#1a1a1a" stroke="#1a1a1a" stroke-width="0.26">14</text>
<line x1="34.80" y1="137.00" x2="37.60" y2="137.00" stroke="#333" stroke-width="1"/>
<text x="31.20" y="139.55" font-size="7.5" text-anchor="end" fill="#1a1a1a" stroke="#1a1a1a" stroke-width="0.26">80.0</text>
<line x1="34.80" y1="121.29" x2="37.60" y2="121.29" stroke="#333" stroke-width="1"/>
<text x="31.20" y="123.84" font-size="7.5" text-anchor="end" fill="#1a1a1a" stroke="#1a1a1a" stroke-width="0.26">82.5</text>
<line x1="34.80" y1="105.58" x2="37.60" y2="105.58" stroke="#333" stroke-width="1"/>
<text x="31.20" y="108.12" font-size="7.5" text-anchor="end" fill="#1a1a1a" stroke="#1a1a1a" stroke-width="0.26">85.0</text>
<line x1="34.80" y1="89.86" x2="37.60" y2="89.86" stroke="#333" stroke-width="1"/>
<text x="31.20" y="92.41" font-size="7.5" text-anchor="end" fill="#1a1a1a" stroke="#1a1a1a" stroke-width="0.26">87.5</text>
<line x1="34.80" y1="74.15" x2="37.60" y2="74.15" stroke="#333" stroke-width="1"/>
<text x="31.20" y="76.70" font-size="7.5" text-anchor="end" fill="#1a1a1a" stroke="#1a1a1a" stroke-width="0.26">90.0</text>
<line x1="34.80" y1="58.44" x2="37.60" y2="58.44" stroke="#333" stroke-width="1"/>
<text x="31.20" y="60.99" font-size="7.5" text-anchor="end" fill="#1a1a1a" stroke="#1a1a1a" stroke-width="0.26">92.5</text>
<line x1="34.80" y1="42.72" x2="37.60" y2="42.72" stroke="#333" stroke-width="1"/>
<text x="31.20" y="45.27" font-size="7.5" text-anchor="end" fill="#1a1a1a" stroke="#1a1a1a" stroke-width="0.26">95.0</text>
<line x1="34.80" y1="27.01" x2="37.60" y2="27.01" stroke="#333" stroke-width="1"/>
<text x="31.20" y="29.56" font-size="7.5" text-anchor="end" fill="#1a1a1a" stroke="#1a1a1a" stroke-width="0.26">97.5</text>
<line x1="34.80" y1="11.30" x2="37.60" y2="11.30" stroke="#333" stroke-width="1"/>
<text x="31.20" y="13.85" font-size="7.5" text-anchor="end" fill="#1a1a1a" stroke="#1a1a1a" stroke-width="0.26">100.0</text>
<rect x="246.80" y="4.80" width="174.00" height="132.30" fill="none" stroke="#4a4a4a" stroke-width="1.2"/>
<line x1="248.70" y1="137.10" x2="248.70" y2="139.30" stroke="#333" stroke-width="1"/>
<text x="248.70" y="148.90" font-size="7.5" text-anchor="middle" fill="#1a1a1a" stroke="#1a1a1a" stroke-width="0.26">0</text>
<line x1="291.73" y1="137.10" x2="291.73" y2="139.30" stroke="#333" stroke-width="1"/>
<text x="291.73" y="148.90" font-size="7.5" text-anchor="middle" fill="#1a1a1a" stroke="#1a1a1a" stroke-width="0.26">1</text>
<line x1="334.76" y1="137.10" x2="334.76" y2="139.30" stroke="#333" stroke-width="1"/>
<text x="334.76" y="148.90" font-size="7.5" text-anchor="middle" fill="#1a1a1a" stroke="#1a1a1a" stroke-width="0.26">2</text>
<line x1="377.79" y1="137.10" x2="377.79" y2="139.30" stroke="#333" stroke-width="1"/>
<text x="377.79" y="148.90" font-size="7.5" text-anchor="middle" fill="#1a1a1a" stroke="#1a1a1a" stroke-width="0.26">3</text>
<line x1="420.82" y1="137.10" x2="420.82" y2="139.30" stroke="#333" stroke-width="1"/>
<text x="420.82" y="148.90" font-size="7.5" text-anchor="middle" fill="#1a1a1a" stroke="#1a1a1a" stroke-width="0.26">4</text>
<line x1="244.00" y1="137.10" x2="246.80" y2="137.10" stroke="#333" stroke-width="1"/>
<line x1="244.00" y1="121.39" x2="246.80" y2="121.39" stroke="#333" stroke-width="1"/>
<line x1="244.00" y1="105.67" x2="246.80" y2="105.67" stroke="#333" stroke-width="1"/>
<line x1="244.00" y1="89.96" x2="246.80" y2="89.96" stroke="#333" stroke-width="1"/>
<line x1="244.00" y1="74.25" x2="246.80" y2="74.25" stroke="#333" stroke-width="1"/>
<line x1="244.00" y1="58.54" x2="246.80" y2="58.54" stroke="#333" stroke-width="1"/>
<line x1="244.00" y1="42.82" x2="246.80" y2="42.82" stroke="#333" stroke-width="1"/>
<line x1="244.00" y1="27.11" x2="246.80" y2="27.11" stroke="#333" stroke-width="1"/>
<line x1="244.00" y1="11.40" x2="246.80" y2="11.40" stroke="#333" stroke-width="1"/>
<rect x="38.00" y="177.20" width="173.90" height="132.10" fill="none" stroke="#4a4a4a" stroke-width="1.2"/>
<line x1="40.10" y1="309.30" x2="40.10" y2="311.50" stroke="#333" stroke-width="1"/>
<text x="40.10" y="321.10" font-size="7.5" text-anchor="middle" fill="#1a1a1a" stroke="#1a1a1a" stroke-width="0.26">0</text>
<line x1="64.60" y1="309.30" x2="64.60" y2="311.50" stroke="#333" stroke-width="1"/>
<text x="64.60" y="321.10" font-size="7.5" text-anchor="middle" fill="#1a1a1a" stroke="#1a1a1a" stroke-width="0.26">2</text>
<line x1="89.10" y1="309.30" x2="89.10" y2="311.50" stroke="#333" stroke-width="1"/>
<text x="89.10" y="321.10" font-size="7.5" text-anchor="middle" fill="#1a1a1a" stroke="#1a1a1a" stroke-width="0.26">4</text>
<line x1="113.60" y1="309.30" x2="113.60" y2="311.50" stroke="#333" stroke-width="1"/>
<text x="113.60" y="321.10" font-size="7.5" text-anchor="middle" fill="#1a1a1a" stroke="#1a1a1a" stroke-width="0.26">6</text>
<line x1="138.10" y1="309.30" x2="138.10" y2="311.50" stroke="#333" stroke-width="1"/>
<text x="138.10" y="321.10" font-size="7.5" text-anchor="middle" fill="#1a1a1a" stroke="#1a1a1a" stroke-width="0.26">8</text>
<line x1="162.60" y1="309.30" x2="162.60" y2="311.50" stroke="#333" stroke-width="1"/>
<text x="162.60" y="321.10" font-size="7.5" text-anchor="middle" fill="#1a1a1a" stroke="#1a1a1a" stroke-width="0.26">10</text>
<line x1="187.10" y1="309.30" x2="187.10" y2="311.50" stroke="#333" stroke-width="1"/>
<text x="187.10" y="321.10" font-size="7.5" text-anchor="middle" fill="#1a1a1a" stroke="#1a1a1a" stroke-width="0.26">12</text>
<line x1="211.60" y1="309.30" x2="211.60" y2="311.50" stroke="#333" stroke-width="1"/>
<text x="211.60" y="321.10" font-size="7.5" text-anchor="middle" fill="#1a1a1a" stroke="#1a1a1a" stroke-width="0.26">14</text>
<line x1="35.20" y1="309.30" x2="38.00" y2="309.30" stroke="#333" stroke-width="1"/>
<text x="31.20" y="311.85" font-size="7.5" text-anchor="end" fill="#1a1a1a" stroke="#1a1a1a" stroke-width="0.26">80</text>
<line x1="35.20" y1="293.78" x2="38.00" y2="293.78" stroke="#333" stroke-width="1"/>
<text x="31.20" y="296.33" font-size="7.5" text-anchor="end" fill="#1a1a1a" stroke="#1a1a1a" stroke-width="0.26">100</text>
<line x1="35.20" y1="278.26" x2="38.00" y2="278.26" stroke="#333" stroke-width="1"/>
<text x="31.20" y="280.81" font-size="7.5" text-anchor="end" fill="#1a1a1a" stroke="#1a1a1a" stroke-width="0.26">120</text>
<line x1="35.20" y1="262.74" x2="38.00" y2="262.74" stroke="#333" stroke-width="1"/>
<text x="31.20" y="265.29" font-size="7.5" text-anchor="end" fill="#1a1a1a" stroke="#1a1a1a" stroke-width="0.26">140</text>
<line x1="35.20" y1="247.22" x2="38.00" y2="247.22" stroke="#333" stroke-width="1"/>
<text x="31.20" y="249.77" font-size="7.5" text-anchor="end" fill="#1a1a1a" stroke="#1a1a1a" stroke-width="0.26">160</text>
<line x1="35.20" y1="231.70" x2="38.00" y2="231.70" stroke="#333" stroke-width="1"/>
<text x="31.20" y="234.25" font-size="7.5" text-anchor="end" fill="#1a1a1a" stroke="#1a1a1a" stroke-width="0.26">180</text>
<line x1="35.20" y1="216.18" x2="38.00" y2="216.18" stroke="#333" stroke-width="1"/>
<text x="31.20" y="218.73" font-size="7.5" text-anchor="end" fill="#1a1a1a" stroke="#1a1a1a" stroke-width="0.26">200</text>
<line x1="35.20" y1="200.66" x2="38.00" y2="200.66" stroke="#333" stroke-width="1"/>
<text x="31.20" y="203.21" font-size="7.5" text-anchor="end" fill="#1a1a1a" stroke="#1a1a1a" stroke-width="0.26">220</text>
<line x1="35.20" y1="185.14" x2="38.00" y2="185.14" stroke="#333" stroke-width="1"/>
<text x="31.20" y="187.69" font-size="7.5" text-anchor="end" fill="#1a1a1a" stroke="#1a1a1a" stroke-width="0.26">240</text>
<rect x="246.80" y="177.20" width="174.00" height="132.20" fill="none" stroke="#4a4a4a" stroke-width="1.2"/>
<line x1="248.70" y1="309.40" x2="248.70" y2="311.60" stroke="#333" stroke-width="1"/>
<text x="248.70" y="321.20" font-size="7.5" text-anchor="middle" fill="#1a1a1a" stroke="#1a1a1a" stroke-width="0.26">0</text>
<line x1="291.73" y1="309.40" x2="291.73" y2="311.60" stroke="#333" stroke-width="1"/>
<text x="291.73" y="321.20" font-size="7.5" text-anchor="middle" fill="#1a1a1a" stroke="#1a1a1a" stroke-width="0.26">1</text>
<line x1="334.76" y1="309.40" x2="334.76" y2="311.60" stroke="#333" stroke-width="1"/>
<text x="334.76" y="321.20" font-size="7.5" text-anchor="middle" fill="#1a1a1a" stroke="#1a1a1a" stroke-width="0.26">2</text>
<line x1="377.79" y1="309.40" x2="377.79" y2="311.60" stroke="#333" stroke-width="1"/>
<text x="377.79" y="321.20" font-size="7.5" text-anchor="middle" fill="#1a1a1a" stroke="#1a1a1a" stroke-width="0.26">3</text>
<line x1="420.82" y1="309.40" x2="420.82" y2="311.60" stroke="#333" stroke-width="1"/>
<text x="420.82" y="321.20" font-size="7.5" text-anchor="middle" fill="#1a1a1a" stroke="#1a1a1a" stroke-width="0.26">4</text>
<line x1="244.00" y1="309.40" x2="246.80" y2="309.40" stroke="#333" stroke-width="1"/>
<line x1="244.00" y1="293.88" x2="246.80" y2="293.88" stroke="#333" stroke-width="1"/>
<line x1="244.00" y1="278.36" x2="246.80" y2="278.36" stroke="#333" stroke-width="1"/>
<line x1="244.00" y1="262.84" x2="246.80" y2="262.84" stroke="#333" stroke-width="1"/>
<line x1="244.00" y1="247.32" x2="246.80" y2="247.32" stroke="#333" stroke-width="1"/>
<line x1="244.00" y1="231.80" x2="246.80" y2="231.80" stroke="#333" stroke-width="1"/>
<line x1="244.00" y1="216.28" x2="246.80" y2="216.28" stroke="#333" stroke-width="1"/>
<line x1="244.00" y1="200.76" x2="246.80" y2="200.76" stroke="#333" stroke-width="1"/>
<line x1="244.00" y1="185.24" x2="246.80" y2="185.24" stroke="#333" stroke-width="1"/>
<rect x="37.6" y="5.0" width="49.9" height="132" fill="none" stroke="#111" stroke-width="1.3"/>
<rect x="38.0" y="177.6" width="49.9" height="131.7" fill="none" stroke="#111" stroke-width="1.3"/>
<path d="M87.50,39.00 Q163.25,-5.25 233.00,35.50" fill="none" stroke="#222" stroke-width="1.2"/><path d="M239.00,39.50 L228.25,38.03 L232.53,30.80 Z" fill="#111"/>
<path d="M88.00,210.80 Q163.70,169.85 233.40,208.70" fill="none" stroke="#222" stroke-width="1.2"/><path d="M239.40,212.70 L228.63,211.43 L232.77,204.12 Z" fill="#111"/>
<text x="2.1" y="8.1" font-size="7.9" font-weight="bold" fill="#111" stroke="#111" stroke-width="0.4">A</text>
<text x="231.5" y="8.1" font-size="7.9" font-weight="bold" fill="#111" stroke="#111" stroke-width="0.4">B</text>
<text x="2.0" y="173.6" font-size="7.9" font-weight="bold" fill="#111" stroke="#111" stroke-width="0.4">C</text>
<text x="231.4" y="173.6" font-size="7.9" font-weight="bold" fill="#111" stroke="#111" stroke-width="0.4">D</text>
<text x="125" y="159.4" font-size="7.4" text-anchor="middle" fill="#1a1a1a" stroke="#1a1a1a" stroke-width="0.26">Calendar Time (years)</text>
<text x="333.8" y="159.4" font-size="7.4" text-anchor="middle" fill="#1a1a1a" stroke="#1a1a1a" stroke-width="0.26">Calendar Time (years)</text>
<text x="125" y="331.5" font-size="7.4" text-anchor="middle" fill="#1a1a1a" stroke="#1a1a1a" stroke-width="0.26">Calendar Time (years)</text>
<text x="333.8" y="331.5" font-size="7.4" text-anchor="middle" fill="#1a1a1a" stroke="#1a1a1a" stroke-width="0.26">Calendar Time (years)</text>
<text transform="translate(6.9,71.0) rotate(-90)" font-size="7.4" text-anchor="middle" fill="#1a1a1a" stroke="#1a1a1a" stroke-width="0.26">Relative Capacity (%)</text>
<text transform="translate(14.0,241.8) rotate(-90)" font-size="7.4" text-anchor="middle" fill="#1a1a1a" stroke="#1a1a1a" stroke-width="0.26">Relative Resistance (%)</text>
<line x1="47.80" y1="347.00" x2="63.60" y2="347.00" stroke="#d2ddee" stroke-width="1.6"/>
<text x="69.00" y="349.60" font-size="7.6" fill="#1a1a1a" stroke="#1a1a1a" stroke-width="0.26">24°C 50% SOC</text>
<line x1="47.80" y1="357.40" x2="63.60" y2="357.40" stroke="#7b97e8" stroke-width="1.6"/>
<text x="69.00" y="360.00" font-size="7.6" fill="#1a1a1a" stroke="#1a1a1a" stroke-width="0.26">24°C 100% SOC</text>
<line x1="138.87" y1="347.00" x2="154.67" y2="347.00" stroke="#f8df72" stroke-width="1.6"/>
<text x="160.07" y="349.60" font-size="7.6" fill="#1a1a1a" stroke="#1a1a1a" stroke-width="0.26">45°C 50% SOC</text>
<line x1="138.87" y1="357.40" x2="154.67" y2="357.40" stroke="#d2ae55" stroke-width="1.6"/>
<text x="160.07" y="360.00" font-size="7.6" fill="#1a1a1a" stroke="#1a1a1a" stroke-width="0.26">45°C 100% SOC</text>
<line x1="229.94" y1="347.00" x2="245.74" y2="347.00" stroke="#fde2c4" stroke-width="1.6"/>
<text x="251.14" y="349.60" font-size="7.6" fill="#1a1a1a" stroke="#1a1a1a" stroke-width="0.26">60°C 50% SOC</text>
<line x1="229.94" y1="357.40" x2="245.74" y2="357.40" stroke="#fdb05a" stroke-width="1.6"/>
<text x="251.14" y="360.00" font-size="7.6" fill="#1a1a1a" stroke="#1a1a1a" stroke-width="0.26">60°C 100% SOC</text>
<line x1="321.01" y1="347.00" x2="336.81" y2="347.00" stroke="#f5b6b6" stroke-width="1.6"/>
<text x="342.21" y="349.60" font-size="7.6" fill="#1a1a1a" stroke="#1a1a1a" stroke-width="0.26">85°C 50% SOC</text>
<line x1="321.01" y1="357.40" x2="336.81" y2="357.40" stroke="#d2626c" stroke-width="1.6"/>
<text x="342.21" y="360.00" font-size="7.6" fill="#1a1a1a" stroke="#1a1a1a" stroke-width="0.26">85°C 100% SOC</text>
</svg></body></html>
